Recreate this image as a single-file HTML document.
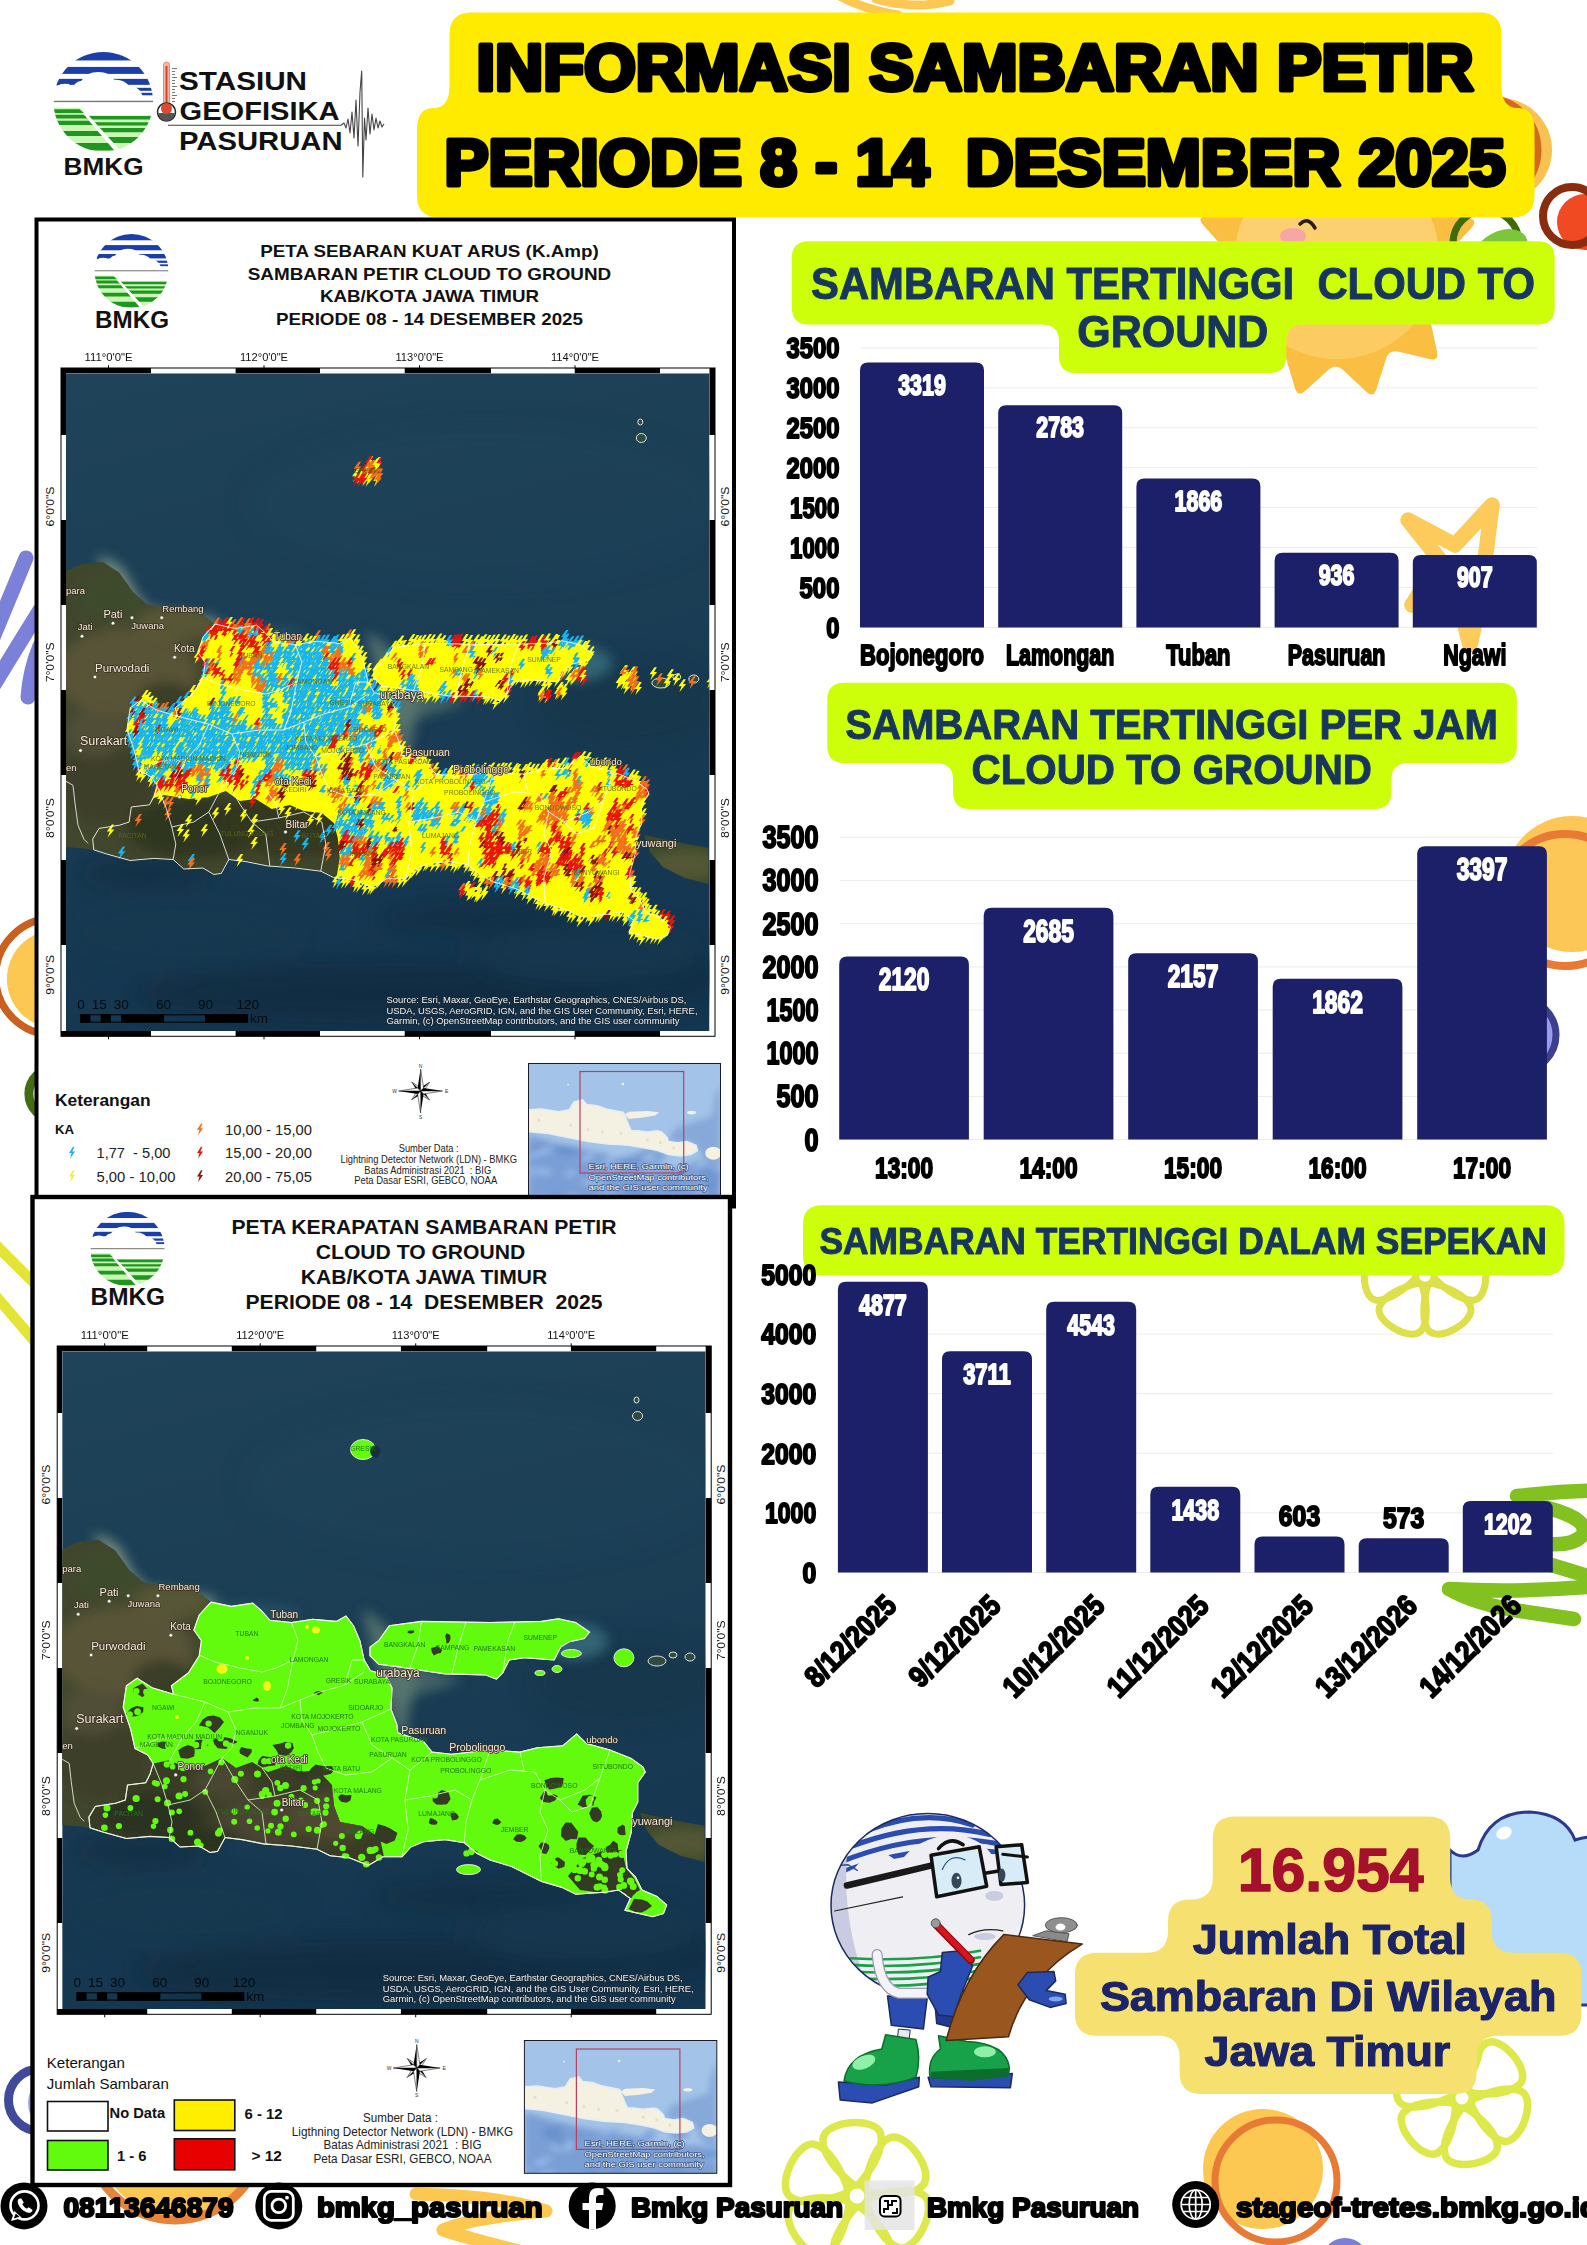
<!DOCTYPE html><html><head><meta charset="utf-8"><title>Informasi Sambaran Petir</title><style>html,body{margin:0;padding:0;background:#fff}svg{display:block}text{font-family:"Liberation Sans",sans-serif}</style></head><body><svg width="1587" height="2245" viewBox="0 0 1587 2245" font-family="Liberation Sans, sans-serif"><rect width="1587" height="2245" fill="#fff"/><defs><clipPath id="lc"><circle cx="50" cy="50" r="50"/></clipPath><symbol id="bmkg" viewBox="0 0 100 100" overflow="visible"><g clip-path="url(#lc)"><rect x="0" y="0" width="100" height="100" fill="#fff"/><rect x="0" y="0" width="100" height="8.5" fill="#1b3fa8"/><rect x="0" y="15" width="100" height="7" fill="#1b3fa8"/><rect x="0" y="27" width="100" height="6" fill="#1b3fa8"/><rect x="60" y="36" width="40" height="3" fill="#1b3fa8"/><rect x="75" y="41" width="25" height="2.5" fill="#1b3fa8"/><path d="M18 40 Q20 30 28 29 Q33 20 45 20 Q57 20 61 28 Q70 27 76 34 Q84 34 88 41 L92 50 L5 50 L5 33 Q14 30 18 34Z" fill="#fff"/><path d="M3 31 Q12 26.500 20 30 L18 33 Q11 30 3 34Z" fill="#1b3fa8"/><rect x="0" y="49" width="100" height="1.4" fill="#777"/><path d="M0 56 L27 56 L64 100 L0 100Z" fill="#c8f7b4"/><path d="M33 63.500 L100 63.500 L100 100 L66 100Z" fill="#c8f7b4"/><path d="M0 57.6H26L30.5 61.3H0Z" fill="#1f961f"/><path d="M0 63H30L34.5 66.8H0Z" fill="#1f961f"/><path d="M0 69.2H37L41.5 73.4H0Z" fill="#1f961f"/><path d="M8 79.4H45L49.5 84.3H8Z" fill="#1f961f"/><path d="M20 91.5H59L63.5 99H20Z" fill="#1f961f"/><path d="M30 64.4H100V67.8H34.5Z" fill="#1f961f"/><path d="M38 70.5H100V73.8H42.5Z" fill="#1f961f"/><path d="M46 76.5H100V80.6H50.5Z" fill="#1f961f"/><path d="M54 85.5H100V91.5H58.5Z" fill="#1f961f"/><path d="M29 58 L35 63.500 L68 100 L62 100 L33 66Z" fill="#fff"/></g></symbol><symbol id="bolt" viewBox="0 0 8 12" overflow="visible"><path d="M5 0L1 6.200L3.500 6.200L2 12L7 4.800L4.300 4.800L6.500 0Z"/></symbol></defs><defs><linearGradient id="sea" x1="0" y1="0" x2="0.250" y2="1"><stop offset="0" stop-color="#1f4358"/><stop offset=".5" stop-color="#1b3e55"/><stop offset="1" stop-color="#153650"/></linearGradient><filter id="bl6" x="-30%" y="-30%" width="160%" height="160%"><feGaussianBlur stdDeviation="6"/></filter><filter id="bl3" x="-30%" y="-30%" width="160%" height="160%"><feGaussianBlur stdDeviation="3"/></filter><filter id="bl12" x="-30%" y="-30%" width="160%" height="160%"><feGaussianBlur stdDeviation="12"/></filter><clipPath id="mclip"><rect x="0" y="0" width="643.5" height="657.7"/></clipPath><clipPath id="landclip"><path d="M0 197.6L16 190.7L36.5 188.7L52.8 198.9L67 219L81 231L105.5 235.4L134 239.4L148.8 250.8L169.2 255.1L190.6 251.9L199.2 259.4L207.8 269L229.2 271.2L250.6 268L274.1 270.1L283.8 264.7L291.3 274.4L297.7 289.4L302 308.7L308.4 319.4L323.4 323.7L329.8 336.5L328.8 357.9L334.6 372.9L335.6 381.5L361.4 390.1L369.9 400.8L389.2 402.9L427.8 398.7L457.8 400.8L474.9 396.5L500.6 394.4L514.5 382.6L524.2 392.2L547.8 398.7L569.1 407.2L580.9 415.8L583.1 420.8L575.6 431.5L575.6 450.8L570.2 461.5L569.1 480.8L563.8 500.1L564.8 517.2L573.4 525.8L579.8 538.7L594.8 545.1L604.5 553.7L601.3 562.2L590.6 565.4L562.7 559L568.1 547.2L556.3 538.7L543.4 540.8L513.5 542.9L500.6 536.5L479.2 530.1L466.3 523.7L449.2 515.1L427.8 508.7L414.9 502.2L402.1 491.5L382.8 488.3L361.4 490.5L348.5 495.8L339.9 505.5L320.7 505.5L306.3 514L287 506.5L267.8 504.4L254.8 497.9L229.2 494.7L201.3 492.6L179.8 488.3L162.8 486.2L155.3 500.1L147.8 501.2L137 494.7L117.8 495.7L107.1 486.2L87.8 485.1L64.2 487.2L40.6 480.7L27.8 476.5L12.8 474.7L0 473.7Z"/><path d="M307.8 295.8L316.4 289.4L327.1 274.4L359.2 270.1L427.8 271.2L479.2 270.1L496.3 267.5L513.5 271.2L527.4 280.8L522 287.2L507 290.5L498.5 295.8L492 308.7L462 306.5L447 308.7L440.6 321.5L434.2 327.9L423.5 323.7L382.8 322.6L361.4 319.4L333.5 315.1L316.4 313L307.8 304.4Z"/><path d="M577.8 461.5L597 465.8L618.4 470.1L642.4 474.4L642.4 510.7L618.4 504.4L597 493.7L584.1 478.7Z"/></clipPath><g id="basemap"><rect x="0" y="0" width="643.5" height="657.7" fill="url(#sea)"/><g filter="url(#bl12)" opacity=".55"><ellipse cx="330" cy="620" rx="260" ry="30" fill="#0d2638"/><ellipse cx="80" cy="500" rx="70" ry="18" fill="#0f2a3c"/><ellipse cx="420" cy="545" rx="110" ry="16" fill="#102b3e"/><ellipse cx="600" cy="600" rx="60" ry="30" fill="#0f2a3c"/><ellipse cx="120" cy="560" rx="120" ry="30" fill="#163a50"/><ellipse cx="520" cy="580" rx="120" ry="28" fill="#17394e"/><ellipse cx="420" cy="130" rx="240" ry="80" fill="#1f465d" opacity=".5"/><ellipse cx="560" cy="330" rx="90" ry="40" fill="#163447"/></g><g filter="url(#bl6)"><path d="M30 183 Q56 186 64 208 Q72 226 86 236 L150 245 L160 262 Q110 250 60 250 L40 200Z" fill="#8aa08c" opacity=".8"/><path d="M300 258 Q330 270 355 330 Q340 380 345 410 L318 330 Z" fill="#5d7a70" opacity=".8"/><path d="M322 300 L370 318 L400 330 L330 352Z" fill="#5d7a70" opacity=".6"/><ellipse cx="512" cy="290" rx="34" ry="18" fill="#3e7585" opacity=".7"/><ellipse cx="150" cy="262" rx="90" ry="10" fill="#2c5e6f" opacity=".6"/></g><path d="M0 197.6L16 190.7L36.5 188.7L52.8 198.9L67 219L81 231L105.5 235.4L134 239.4L148.8 250.8L169.2 255.1L190.6 251.9L199.2 259.4L207.8 269L229.2 271.2L250.6 268L274.1 270.1L283.8 264.7L291.3 274.4L297.7 289.4L302 308.7L308.4 319.4L323.4 323.7L329.8 336.5L328.8 357.9L334.6 372.9L335.6 381.5L361.4 390.1L369.9 400.8L389.2 402.9L427.8 398.7L457.8 400.8L474.9 396.5L500.6 394.4L514.5 382.6L524.2 392.2L547.8 398.7L569.1 407.2L580.9 415.8L583.1 420.8L575.6 431.5L575.6 450.8L570.2 461.5L569.1 480.8L563.8 500.1L564.8 517.2L573.4 525.8L579.8 538.7L594.8 545.1L604.5 553.7L601.3 562.2L590.6 565.4L562.7 559L568.1 547.2L556.3 538.7L543.4 540.8L513.5 542.9L500.6 536.5L479.2 530.1L466.3 523.7L449.2 515.1L427.8 508.7L414.9 502.2L402.1 491.5L382.8 488.3L361.4 490.5L348.5 495.8L339.9 505.5L320.7 505.5L306.3 514L287 506.5L267.8 504.4L254.8 497.9L229.2 494.7L201.3 492.6L179.8 488.3L162.8 486.2L155.3 500.1L147.8 501.2L137 494.7L117.8 495.7L107.1 486.2L87.8 485.1L64.2 487.2L40.6 480.7L27.8 476.5L12.8 474.7L0 473.7Z" fill="#41472d"/><path d="M307.8 295.8L316.4 289.4L327.1 274.4L359.2 270.1L427.8 271.2L479.2 270.1L496.3 267.5L513.5 271.2L527.4 280.8L522 287.2L507 290.5L498.5 295.8L492 308.7L462 306.5L447 308.7L440.6 321.5L434.2 327.9L423.5 323.7L382.8 322.6L361.4 319.4L333.5 315.1L316.4 313L307.8 304.4Z" fill="#41472d"/><path d="M577.8 461.5L597 465.8L618.4 470.1L642.4 474.4L642.4 510.7L618.4 504.4L597 493.7L584.1 478.7Z" fill="#3c4a2b"/><g clip-path="url(#landclip)"><g filter="url(#bl6)"><ellipse cx="60" cy="300" rx="70" ry="45" fill="#62583b" opacity=".7"/><ellipse cx="45" cy="225" rx="35" ry="25" fill="#3f4a2c" opacity=".9"/><ellipse cx="110" cy="250" rx="40" ry="18" fill="#5c5a3a" opacity=".8"/><ellipse cx="40" cy="410" rx="45" ry="40" fill="#3d3f2a" opacity=".9"/><ellipse cx="30" cy="360" rx="30" ry="25" fill="#57513a" opacity=".7"/><ellipse cx="130" cy="455" rx="70" ry="30" fill="#2c3420" opacity=".9"/><ellipse cx="230" cy="450" rx="70" ry="35" fill="#33381f" opacity=".9"/><ellipse cx="100" cy="330" rx="30" ry="22" fill="#2e3822" opacity=".7"/><ellipse cx="620" cy="492" rx="40" ry="14" fill="#5b5a38" opacity=".8"/></g></g><path d="M0 408L7 412L9 430L12 452L18 466L22 470" fill="none" stroke="#e8e8dc" stroke-width=".9"/></g></defs><defs><clipPath id="swclip"><path d="M26.7 465.8L33.1 455.1L53.5 451.9L63.1 448.7L65.3 433.7L83.5 431.5L87.8 423L91 412.2L107.8 408.7L122.8 416.7L142.8 414.7L159.8 406.7L173.8 416.7L189.8 410.7L205.8 420.7L223.8 414.7L237.8 420.7L255.8 418.7L269.8 433.7L271.8 454.7L277.8 470.7L299.8 474.7L317.8 486.7L321.8 505.7L320.7 505.5L306.3 514L287 506.5L267.8 504.4L254.8 497.9L229.2 494.7L201.3 492.6L179.8 488.3L162.8 486.2L155.3 500.1L147.8 501.2L137 494.7L117.8 495.7L107.1 486.2L87.8 485.1L64.2 487.2L40.6 480.7L27.8 476.5Z"/></clipPath><clipPath id="denseclip"><path d="M0 0L643.5 0L643.5 657.7L0 657.7ZM26.7 465.8L33.1 455.1L53.5 451.9L63.1 448.7L65.3 433.7L83.5 431.5L87.8 424.7L97.8 421.7L122.8 425.7L142.8 423.7L159.8 417.7L173.8 427.7L189.8 425.7L205.8 435.7L223.8 431.7L237.8 437.7L255.8 439.7L267.8 449.7L271.8 464.7L273.8 484.7L270.8 502.7L267.8 504.4L254.8 497.9L229.2 494.7L201.3 492.6L179.8 488.3L162.8 486.2L155.3 500.1L147.8 501.2L137 494.7L117.8 495.7L107.1 486.2L87.8 485.1L64.2 487.2L40.6 480.7L27.8 476.5Z" clip-rule="evenodd"/></clipPath></defs><rect x="860" y="626.9" width="677" height="1" fill="#ebebf0"/><rect x="860" y="587" width="677" height="1" fill="#ebebf0"/><rect x="860" y="547.1" width="677" height="1" fill="#ebebf0"/><rect x="860" y="507.1" width="677" height="1" fill="#ebebf0"/><rect x="860" y="467.2" width="677" height="1" fill="#ebebf0"/><rect x="860" y="427.3" width="677" height="1" fill="#ebebf0"/><rect x="860" y="387.4" width="677" height="1" fill="#ebebf0"/><rect x="860" y="347.5" width="677" height="1" fill="#ebebf0"/><rect x="840" y="1139.1" width="707" height="1" fill="#ebebf0"/><rect x="840" y="1095.9" width="707" height="1" fill="#ebebf0"/><rect x="840" y="1052.7" width="707" height="1" fill="#ebebf0"/><rect x="840" y="1009.5" width="707" height="1" fill="#ebebf0"/><rect x="840" y="966.4" width="707" height="1" fill="#ebebf0"/><rect x="840" y="923.2" width="707" height="1" fill="#ebebf0"/><rect x="840" y="880" width="707" height="1" fill="#ebebf0"/><rect x="840" y="836.8" width="707" height="1" fill="#ebebf0"/><rect x="838" y="1572" width="715" height="1" fill="#ebebf0"/><rect x="838" y="1512.4" width="715" height="1" fill="#ebebf0"/><rect x="838" y="1452.8" width="715" height="1" fill="#ebebf0"/><rect x="838" y="1393.2" width="715" height="1" fill="#ebebf0"/><rect x="838" y="1333.6" width="715" height="1" fill="#ebebf0"/><rect x="838" y="1274" width="715" height="1" fill="#ebebf0"/><path d="M838 -5 Q862 9 898 15 M876 -1 Q915 10 950 1" fill="none" stroke="#fdc852" stroke-width="9" stroke-linecap="round"/><path d="M1470.9 288.9Q1477.6 296.3 1468 299.1L1437.8 308.1Q1428.2 311 1430.4 320.7L1437 351.5Q1439.2 361.3 1429.4 359L1398.8 351.7Q1389 349.3 1386 358.9L1376.4 388.9Q1373.3 398.4 1366 391.5L1343.2 369.9Q1335.9 363 1328.5 369.7L1305.1 390.9Q1297.7 397.6 1294.9 388L1285.9 357.8Q1283 348.2 1273.3 350.4L1242.5 357Q1232.7 359.2 1235 349.4L1242.3 318.8Q1244.7 309 1235.1 306L1205.1 296.4Q1195.6 293.3 1202.5 286L1224.1 263.2Q1231 255.9 1224.3 248.5L1203.1 225.1Q1196.4 217.7 1206 214.9L1236.2 205.9Q1245.8 203 1243.6 193.3L1237 162.5Q1234.8 152.7 1244.6 155L1275.2 162.3Q1285 164.7 1288 155.1L1297.6 125.1Q1300.7 115.6 1308 122.5L1330.8 144.1Q1338.1 151 1345.5 144.3L1368.9 123.1Q1376.3 116.4 1379.1 126L1388.1 156.2Q1391 165.8 1400.7 163.6L1431.5 157Q1441.3 154.8 1439 164.6L1431.7 195.2Q1429.3 205 1438.9 208L1468.9 217.6Q1478.4 220.7 1471.5 228L1449.9 250.8Q1443 258.1 1449.7 265.5Z" fill="#f9be42"/><circle cx="1337" cy="257" r="102" fill="#fcd06e"/><path d="M1235 257 A102 102 0 0 0 1439 257 Q1337 345 1235 257Z" fill="#fbc85a" opacity=".55"/><ellipse cx="1293" cy="236" rx="13" ry="8" fill="#f7a6a6"/><path d="M1300 224 Q1308 216 1315 228" fill="none" stroke="#2a1a10" stroke-width="3.500" stroke-linecap="round"/><circle cx="1500" cy="150" r="52" fill="#f9c152"/><circle cx="1486" cy="150" r="52" fill="none" stroke="#d2691e" stroke-width="7"/><circle cx="1486" cy="243" r="33" fill="none" stroke="#3f6b0a" stroke-width="7"/><ellipse cx="1500" cy="252" rx="30" ry="20" fill="#7cc63a" transform="rotate(-30 1500 252)"/><circle cx="1585" cy="222" r="28" fill="#f04a23"/><circle cx="1572" cy="216" r="29" fill="none" stroke="#8a2d0f" stroke-width="8"/><path d="M1408 520 L1455 545 L1492 505 L1480 600 L1470 645 L1452 575 L1412 605 L1440 560Z" fill="none" stroke="#fdca5c" stroke-width="15.500" stroke-linejoin="round"/><path d="M1408 520 L1455 545 L1492 505 L1480 600 L1470 645 L1452 575 L1412 605 L1440 560Z" fill="#fff" opacity=".0"/><circle cx="1572" cy="884" r="68" fill="#fdc757"/><circle cx="1565" cy="900" r="66" fill="none" stroke="#e87a35" stroke-width="8"/><circle cx="1515" cy="1030" r="40" fill="#8f93e8" opacity=".9"/><circle cx="1520" cy="1035" r="36" fill="none" stroke="#3b3f8f" stroke-width="7"/><g fill="none" stroke="#dde04a" stroke-width="7" stroke-linejoin="round"><path transform="translate(1425 1276) rotate(-30)" d="M0 -7.4C-15.6 -21.7 -26 -38.4 -24 -49.6C-20.8 -64.5 20.8 -64.5 24 -49.6C26 -38.4 15.6 -21.7 0 -7.4Z"/><path transform="translate(1425 1276) rotate(30)" d="M0 -7.4C-15.6 -21.7 -26 -38.4 -24 -49.6C-20.8 -64.5 20.8 -64.5 24 -49.6C26 -38.4 15.6 -21.7 0 -7.4Z"/><path transform="translate(1425 1276) rotate(90)" d="M0 -7.4C-15.6 -21.7 -26 -38.4 -24 -49.6C-20.8 -64.5 20.8 -64.5 24 -49.6C26 -38.4 15.6 -21.7 0 -7.4Z"/><path transform="translate(1425 1276) rotate(150)" d="M0 -7.4C-15.6 -21.7 -26 -38.4 -24 -49.6C-20.8 -64.5 20.8 -64.5 24 -49.6C26 -38.4 15.6 -21.7 0 -7.4Z"/><path transform="translate(1425 1276) rotate(210)" d="M0 -7.4C-15.6 -21.7 -26 -38.4 -24 -49.6C-20.8 -64.5 20.8 -64.5 24 -49.6C26 -38.4 15.6 -21.7 0 -7.4Z"/><path transform="translate(1425 1276) rotate(270)" d="M0 -7.4C-15.6 -21.7 -26 -38.4 -24 -49.6C-20.8 -64.5 20.8 -64.5 24 -49.6C26 -38.4 15.6 -21.7 0 -7.4Z"/><circle cx="1425" cy="1276" r="9.3" fill="#fff"/></g><path d="M1600 1490 L1560 1492 L1517 1496 M1548 1508 Q1592 1520 1582 1536 Q1572 1546 1548 1544 M1548 1564 Q1575 1572 1600 1580 M1600 1586 Q1520 1593 1449 1589 Q1475 1604 1520 1611 L1574 1619" fill="none" stroke="#82c11f" stroke-width="14.500" stroke-linecap="round" stroke-linejoin="round"/><path d="M1450 1850 Q1462 1862 1478 1850 Q1490 1812 1530 1812 Q1565 1814 1575 1840 Q1590 1835 1600 1838 L1600 2005 L1450 2005Z" fill="#b6dcfa" stroke="#2b3a8c" stroke-width="3"/><ellipse cx="1504" cy="1833" rx="8" ry="6" fill="#fff" transform="rotate(-25 1504 1833)"/><g fill="none" stroke="#dde84a" stroke-width="7.5" stroke-linejoin="round"><path transform="translate(1462 2098) rotate(-10)" d="M0 -8.2C-17.1 -23.8 -28.6 -42.2 -26.3 -54.4C-22.8 -70.7 22.8 -70.7 26.3 -54.4C28.6 -42.2 17.1 -23.8 0 -8.2Z"/><path transform="translate(1462 2098) rotate(50)" d="M0 -8.2C-17.1 -23.8 -28.6 -42.2 -26.3 -54.4C-22.8 -70.7 22.8 -70.7 26.3 -54.4C28.6 -42.2 17.1 -23.8 0 -8.2Z"/><path transform="translate(1462 2098) rotate(110)" d="M0 -8.2C-17.1 -23.8 -28.6 -42.2 -26.3 -54.4C-22.8 -70.7 22.8 -70.7 26.3 -54.4C28.6 -42.2 17.1 -23.8 0 -8.2Z"/><path transform="translate(1462 2098) rotate(170)" d="M0 -8.2C-17.1 -23.8 -28.6 -42.2 -26.3 -54.4C-22.8 -70.7 22.8 -70.7 26.3 -54.4C28.6 -42.2 17.1 -23.8 0 -8.2Z"/><path transform="translate(1462 2098) rotate(230)" d="M0 -8.2C-17.1 -23.8 -28.6 -42.2 -26.3 -54.4C-22.8 -70.7 22.8 -70.7 26.3 -54.4C28.6 -42.2 17.1 -23.8 0 -8.2Z"/><path transform="translate(1462 2098) rotate(290)" d="M0 -8.2C-17.1 -23.8 -28.6 -42.2 -26.3 -54.4C-22.8 -70.7 22.8 -70.7 26.3 -54.4C28.6 -42.2 17.1 -23.8 0 -8.2Z"/><circle cx="1462" cy="2098" r="10.2" fill="#fff"/></g><g fill="none" stroke="#dde84a" stroke-width="7.5" stroke-linejoin="round"><path transform="translate(857 2196) rotate(-5)" d="M0 -9C-18.9 -26.2 -31.5 -46.5 -29 -60C-25.2 -78 25.2 -78 29 -60C31.5 -46.5 18.9 -26.2 0 -9Z"/><path transform="translate(857 2196) rotate(55)" d="M0 -9C-18.9 -26.2 -31.5 -46.5 -29 -60C-25.2 -78 25.2 -78 29 -60C31.5 -46.5 18.9 -26.2 0 -9Z"/><path transform="translate(857 2196) rotate(115)" d="M0 -9C-18.9 -26.2 -31.5 -46.5 -29 -60C-25.2 -78 25.2 -78 29 -60C31.5 -46.5 18.9 -26.2 0 -9Z"/><path transform="translate(857 2196) rotate(175)" d="M0 -9C-18.9 -26.2 -31.5 -46.5 -29 -60C-25.2 -78 25.2 -78 29 -60C31.5 -46.5 18.9 -26.2 0 -9Z"/><path transform="translate(857 2196) rotate(235)" d="M0 -9C-18.9 -26.2 -31.5 -46.5 -29 -60C-25.2 -78 25.2 -78 29 -60C31.5 -46.5 18.9 -26.2 0 -9Z"/><path transform="translate(857 2196) rotate(295)" d="M0 -9C-18.9 -26.2 -31.5 -46.5 -29 -60C-25.2 -78 25.2 -78 29 -60C31.5 -46.5 18.9 -26.2 0 -9Z"/><circle cx="857" cy="2196" r="11.2" fill="#fff"/></g><circle cx="1263" cy="2169" r="60" fill="#fdc852"/><circle cx="1276" cy="2181" r="61" fill="none" stroke="#e87a35" stroke-width="7"/><circle cx="1345" cy="2262" r="24" fill="#7b7fd9"/><circle cx="180" cy="2134" r="84" fill="#fdc852"/><circle cx="175" cy="2132" r="88" fill="none" stroke="#e8833a" stroke-width="9"/><path d="M416 2194 Q500 2196 546 2211 Q470 2218 443 2230 Q480 2242 540 2256" fill="none" stroke="#fdc852" stroke-width="13" stroke-linecap="round" stroke-linejoin="round"/><path d="M26 558 Q12 592 -8 640 M-8 688 Q15 650 40 610 M40 646 Q30 670 28 697" fill="none" stroke="#7b80d9" stroke-width="15" stroke-linecap="round"/><circle cx="55.900" cy="979" r="49" fill="#fdc852"/><circle cx="53.800" cy="976.600" r="58.300" fill="none" stroke="#c9601f" stroke-width="7.500"/><circle cx="54.400" cy="1093.800" r="25.500" fill="none" stroke="#426d12" stroke-width="9"/><path d="M-5 1244 L34 1283 M-5 1295 L34 1340.500" fill="none" stroke="#e3e435" stroke-width="10.500"/><circle cx="58" cy="2103" r="30" fill="#9fa5ec"/><circle cx="39.500" cy="2100" r="31" fill="none" stroke="#3f4a9a" stroke-width="9"/><path d="M1479.5 12.5Q1501.5 12.5 1501.5 34.5L1501.5 86Q1501.5 108 1518 108L1518 108Q1534.5 108 1534.5 130L1534.5 195.5Q1534.5 217.5 1512.5 217.5L439 217.5Q417 217.5 417 195.5L417 130Q417 108 433.2 108L433.2 108Q449.5 108 449.5 86L449.5 34.5Q449.5 12.5 471.5 12.5Z" fill="#ffeb00"/><text x="476.5" y="90" font-size="65.5" font-weight="700" fill="#000" textLength="997" lengthAdjust="spacingAndGlyphs" stroke="#000" stroke-width="5" stroke-linejoin="round" stroke-linecap="round" paint-order="stroke" xml:space="preserve">INFORMASI SAMBARAN PETIR</text><text x="444.5" y="184.7" font-size="65.5" font-weight="700" fill="#000" textLength="1061" lengthAdjust="spacingAndGlyphs" stroke="#000" stroke-width="5" stroke-linejoin="round" stroke-linecap="round" paint-order="stroke" xml:space="preserve">PERIODE 8 - 14  DESEMBER 2025</text><use href="#bmkg" x="53.300" y="52" width="100" height="99.500"/><text x="63.5" y="175" font-size="24.5" font-weight="700" fill="#111" textLength="80" lengthAdjust="spacingAndGlyphs" xml:space="preserve">BMKG</text><text x="179" y="90" font-size="25" font-weight="700" fill="#111" textLength="128" lengthAdjust="spacingAndGlyphs" xml:space="preserve">STASIUN</text><text x="179.5" y="120" font-size="25" font-weight="700" fill="#111" textLength="160" lengthAdjust="spacingAndGlyphs" xml:space="preserve">GEOFISIKA</text><text x="179" y="150" font-size="25" font-weight="700" fill="#111" textLength="163.5" lengthAdjust="spacingAndGlyphs" xml:space="preserve">PASURUAN</text><rect x="163.500" y="62" width="6" height="46" rx="3" fill="#f2b8a8" stroke="#e0907c" stroke-width="1"/><rect x="165.500" y="66" width="2" height="40" fill="#d9432b"/><circle cx="166.500" cy="112" r="9" fill="#fff" stroke="#222" stroke-width="1.500"/><path d="M158.500 113 a8 8 0 0 0 16 0Z" fill="#555"/><circle cx="166.500" cy="108.500" r="5.500" fill="#e0492f"/><rect x="172" y="68" width="5" height="0.800" fill="#555"/><rect x="172" y="71" width="3" height="0.800" fill="#555"/><rect x="172" y="74" width="3" height="0.800" fill="#555"/><rect x="172" y="77" width="5" height="0.800" fill="#555"/><rect x="172" y="80" width="3" height="0.800" fill="#555"/><rect x="172" y="83" width="3" height="0.800" fill="#555"/><rect x="172" y="86" width="5" height="0.800" fill="#555"/><rect x="172" y="89" width="3" height="0.800" fill="#555"/><rect x="172" y="92" width="3" height="0.800" fill="#555"/><rect x="172" y="95" width="5" height="0.800" fill="#555"/><rect x="172" y="98" width="3" height="0.800" fill="#555"/><rect x="172" y="101" width="3" height="0.800" fill="#555"/><path d="M168 125.300 L341 125.300 L344 123 L346 128 L348 119 L350 133 L352 112 L354 138 L356 100 L358 146 L360 92 L361.700 71 L362.800 177 L364.500 118 L366 140 L368 108 L370 134 L372 114 L374 130 L376 118 L378 128 L380 121 L382 127 L384 124" fill="none" stroke="#444" stroke-width="1.100" stroke-linejoin="round"/><rect x="36.500" y="219.500" width="697.500" height="987" fill="#fff" stroke="#000" stroke-width="4"/><use href="#bmkg" x="94.500" y="234" width="74" height="74"/><text x="95" y="327.5" font-size="24" font-weight="700" fill="#111" textLength="74" lengthAdjust="spacingAndGlyphs" xml:space="preserve">BMKG</text><text x="429.5" y="256.5" font-size="17" font-weight="700" fill="#111" text-anchor="middle" textLength="338.5" lengthAdjust="spacingAndGlyphs" xml:space="preserve">PETA SEBARAN KUAT ARUS (K.Amp)</text><text x="429.5" y="279.5" font-size="17" font-weight="700" fill="#111" text-anchor="middle" textLength="363.5" lengthAdjust="spacingAndGlyphs" xml:space="preserve">SAMBARAN PETIR CLOUD TO GROUND</text><text x="429.5" y="302" font-size="17" font-weight="700" fill="#111" text-anchor="middle" textLength="219" lengthAdjust="spacingAndGlyphs" xml:space="preserve">KAB/KOTA JAWA TIMUR</text><text x="429.5" y="324.5" font-size="17" font-weight="700" fill="#111" text-anchor="middle" textLength="307" lengthAdjust="spacingAndGlyphs" xml:space="preserve">PERIODE 08 - 14 DESEMBER 2025</text><rect x="61" y="368" width="654" height="668.3" fill="#fff" stroke="#000" stroke-width="1"/><rect x="61" y="368" width="90" height="5.300" fill="#000"/><rect x="61" y="1031" width="90" height="5.300" fill="#000"/><rect x="235.6" y="368" width="84.4" height="5.300" fill="#000"/><rect x="235.6" y="1031" width="84.4" height="5.300" fill="#000"/><rect x="404.7" y="368" width="86.3" height="5.300" fill="#000"/><rect x="404.7" y="1031" width="86.3" height="5.300" fill="#000"/><rect x="574.7" y="368" width="85.3" height="5.300" fill="#000"/><rect x="574.7" y="1031" width="85.3" height="5.300" fill="#000"/><rect x="61" y="368" width="5" height="67" fill="#000"/><rect x="709.5" y="368" width="5.500" height="67" fill="#000"/><rect x="61" y="520" width="5" height="85" fill="#000"/><rect x="709.5" y="520" width="5.500" height="85" fill="#000"/><rect x="61" y="690" width="5" height="85" fill="#000"/><rect x="709.5" y="690" width="5.500" height="85" fill="#000"/><rect x="61" y="860" width="5" height="85" fill="#000"/><rect x="709.5" y="860" width="5.500" height="85" fill="#000"/><g transform="translate(66 373.3)" clip-path="url(#mclip)" font-family="Liberation Sans"><use href="#basemap"/><g clip-path="url(#denseclip)"><path d="M26.7 465.8L33.1 455.1L53.5 451.9L63.1 448.7L65.3 433.7L83.5 431.5L87.8 423L91 412.2L85.6 403.7L72.8 397.3L68.5 378L61 355.8L64.2 334.4L74.9 326.9L89.9 336.5L111.3 342.9L109.2 334.4L126.3 321.5L137 304.4L139.2 289.4L131.7 278.7L137 263.7L148.8 250.8L169.2 255.1L190.6 251.9L199.2 259.4L207.8 269L229.2 271.2L250.6 268L274.1 270.1L283.8 264.7L291.3 274.4L297.7 289.4L302 308.7L308.4 319.4L323.4 323.7L329.8 336.5L328.8 357.9L334.6 372.9L335.6 381.5L361.4 390.1L369.9 400.8L389.2 402.9L427.8 398.7L457.8 400.8L474.9 396.5L500.6 394.4L514.5 382.6L524.2 392.2L547.8 398.7L569.1 407.2L580.9 415.8L583.1 420.8L575.6 431.5L575.6 450.8L570.2 461.5L569.1 480.8L563.8 500.1L564.8 517.2L573.4 525.8L579.8 538.7L594.8 545.1L604.5 553.7L601.3 562.2L590.6 565.4L562.7 559L568.1 547.2L556.3 538.7L543.4 540.8L513.5 542.9L500.6 536.5L479.2 530.1L466.3 523.7L449.2 515.1L427.8 508.7L414.9 502.2L402.1 491.5L382.8 488.3L361.4 490.5L348.5 495.8L339.9 505.5L320.7 505.5L306.3 514L287 506.5L267.8 504.4L254.8 497.9L229.2 494.7L201.3 492.6L179.8 488.3L162.8 486.2L155.3 500.1L147.8 501.2L137 494.7L117.8 495.7L107.1 486.2L87.8 485.1L64.2 487.2L40.6 480.7L27.8 476.5Z" fill="#ffff00"/></g><path d="M307.8 295.8L316.4 289.4L327.1 274.4L359.2 270.1L427.8 271.2L479.2 270.1L496.3 267.5L513.5 271.2L527.4 280.8L522 287.2L507 290.5L498.5 295.8L492 308.7L462 306.5L447 308.7L440.6 321.5L434.2 327.9L423.5 323.7L382.8 322.6L361.4 319.4L333.5 315.1L316.4 313L307.8 304.4Z" fill="#ffff00"/><ellipse cx="594.8" cy="309.7" rx="9" ry="5" fill="#2f4a3e" stroke="#f4f4e8" stroke-width=".9"/><ellipse cx="610.8" cy="303.7" rx="4" ry="3" fill="#2f4a3e" stroke="#f4f4e8" stroke-width=".9"/><ellipse cx="627.8" cy="305.7" rx="5" ry="4" fill="#2f4a3e" stroke="#f4f4e8" stroke-width=".9"/><ellipse cx="574.3" cy="48.7" rx="2.5" ry="3" fill="#2f4a3e" stroke="#f4f4e8" stroke-width=".9"/><ellipse cx="575.3" cy="64.7" rx="5" ry="4.5" fill="#2f4a3e" stroke="#f4f4e8" stroke-width=".9"/><path fill="#ffff00" d="M304.8 82.8l-5 7h3l-2.200 6 6.800-8.200h-3.200l3-4.800zM312.6 83.7l-5 7h3l-2.200 6 6.800-8.200h-3.200l3-4.800z"/><path fill="#f2701c" d="M308.5 87.1l-5 7h3l-2.200 6 6.800-8.200h-3.200l3-4.800z"/><path fill="#e8140e" d="M304.2 82.8l-5 7h3l-2.200 6 6.800-8.200h-3.200l3-4.800zM313.9 84.2l-5 7h3l-2.200 6 6.800-8.200h-3.200l3-4.800z"/><path fill="#f2701c" d="M307.9 89l-5 7h3l-2.200 6 6.800-8.200h-3.200l3-4.800z"/><path fill="#ffff00" d="M304 86.6l-5 7h3l-2.200 6 6.800-8.200h-3.200l3-4.800z"/><path fill="#f2701c" d="M292.7 88.4l-5 7h3l-2.200 6 6.800-8.200h-3.200l3-4.800z"/><path fill="#ffff00" d="M312.3 90.3l-5 7h3l-2.200 6 6.800-8.200h-3.200l3-4.800zM310.7 85.2l-5 7h3l-2.200 6 6.800-8.200h-3.200l3-4.800zM301.6 90.4l-5 7h3l-2.200 6 6.800-8.200h-3.200l3-4.800zM301.4 90.8l-5 7h3l-2.200 6 6.800-8.200h-3.200l3-4.800z"/><path fill="#f2701c" d="M306.8 86.8l-5 7h3l-2.200 6 6.800-8.200h-3.200l3-4.800zM314.9 95.2l-5 7h3l-2.200 6 6.800-8.200h-3.200l3-4.800zM302.8 88.3l-5 7h3l-2.200 6 6.800-8.200h-3.200l3-4.800z"/><path fill="#e8140e" d="M307.3 93.6l-5 7h3l-2.200 6 6.800-8.200h-3.200l3-4.800z"/><path fill="#f2701c" d="M302.7 89.1l-5 7h3l-2.200 6 6.800-8.200h-3.200l3-4.800z"/><path fill="#ffff00" d="M300.4 93.4l-5 7h3l-2.200 6 6.800-8.200h-3.200l3-4.800z"/><path fill="#e8140e" d="M298.5 91.1l-5 7h3l-2.200 6 6.800-8.200h-3.200l3-4.800z"/><path fill="#f2701c" d="M301.4 95l-5 7h3l-2.200 6 6.800-8.200h-3.200l3-4.800zM306.9 96l-5 7h3l-2.200 6 6.800-8.200h-3.200l3-4.800z"/><path fill="#e8140e" d="M305.5 94.6l-5 7h3l-2.200 6 6.800-8.200h-3.200l3-4.800z"/><path fill="#f2701c" d="M306.5 97.9l-5 7h3l-2.200 6 6.800-8.200h-3.200l3-4.800z"/><path fill="#e8140e" d="M312.3 93.7l-5 7h3l-2.200 6 6.800-8.200h-3.200l3-4.800z"/><path fill="#ffff00" d="M295.1 97.6l-5 7h3l-2.200 6 6.800-8.200h-3.200l3-4.800z"/><path fill="#f2701c" d="M311.5 95.6l-5 7h3l-2.200 6 6.800-8.200h-3.200l3-4.800z"/><path fill="#ffff00" d="M291.1 96l-5 7h3l-2.200 6 6.800-8.200h-3.200l3-4.800zM300.5 100l-5 7h3l-2.200 6 6.800-8.200h-3.200l3-4.800zM303.7 100.4l-5 7h3l-2.200 6 6.800-8.200h-3.200l3-4.800z"/><path fill="#e8140e" d="M295.8 101l-5 7h3l-2.200 6 6.800-8.200h-3.200l3-4.800z"/><path fill="#ffff00" d="M312.3 100.5l-5 7h3l-2.200 6 6.800-8.200h-3.200l3-4.800z"/><path fill="#e8140e" d="M298.7 100l-5 7h3l-2.200 6 6.800-8.200h-3.200l3-4.800zM291.9 100l-5 7h3l-2.200 6 6.800-8.200h-3.200l3-4.800z"/><path fill="#f2701c" d="M313.3 99.5l-5 7h3l-2.200 6 6.800-8.200h-3.200l3-4.800zM174.9 243.9l-5 7h3l-2.200 6 6.800-8.200h-3.200l3-4.800zM151.8 244.5l-5 7h3l-2.200 6 6.800-8.200h-3.200l3-4.800z"/><path fill="#e8140e" d="M160.5 243.8l-5 7h3l-2.200 6 6.800-8.200h-3.200l3-4.800zM176.8 245l-5 7h3l-2.200 6 6.800-8.200h-3.200l3-4.800zM186.4 243.9l-5 7h3l-2.200 6 6.800-8.200h-3.200l3-4.800zM190.3 250.4l-5 7h3l-2.200 6 6.800-8.200h-3.200l3-4.800z"/><path fill="#ffff00" d="M164.6 243.6l-5 7h3l-2.200 6 6.800-8.200h-3.200l3-4.800z"/><path fill="#e8140e" d="M192.1 244.6l-5 7h3l-2.200 6 6.800-8.200h-3.200l3-4.800zM195.7 245.8l-5 7h3l-2.200 6 6.800-8.200h-3.200l3-4.800zM154.5 246.2l-5 7h3l-2.200 6 6.800-8.200h-3.200l3-4.800z"/><path fill="#f2701c" d="M170.3 251.1l-5 7h3l-2.200 6 6.800-8.200h-3.200l3-4.800zM182.6 245l-5 7h3l-2.200 6 6.800-8.200h-3.200l3-4.800zM168.2 246l-5 7h3l-2.200 6 6.800-8.200h-3.200l3-4.800z"/><path fill="#e8140e" d="M143.2 251.8l-5 7h3l-2.200 6 6.800-8.200h-3.200l3-4.800zM161 250.5l-5 7h3l-2.200 6 6.800-8.200h-3.200l3-4.800zM165.6 250.8l-5 7h3l-2.200 6 6.800-8.200h-3.200l3-4.800zM149 251.6l-5 7h3l-2.200 6 6.800-8.200h-3.200l3-4.800zM194.3 250.4l-5 7h3l-2.200 6 6.800-8.200h-3.200l3-4.800z"/><path fill="#f2701c" d="M202.8 250.3l-5 7h3l-2.200 6 6.800-8.200h-3.200l3-4.800z"/><path fill="#e8140e" d="M156.9 250.8l-5 7h3l-2.200 6 6.800-8.200h-3.200l3-4.800zM146.9 255.3l-5 7h3l-2.200 6 6.800-8.200h-3.200l3-4.800z"/><path fill="#ffff00" d="M287.8 255.9l-5 7h3l-2.200 6 6.800-8.200h-3.200l3-4.800z"/><path fill="#f2701c" d="M183.5 249.5l-5 7h3l-2.200 6 6.800-8.200h-3.200l3-4.800z"/><path fill="#19b4f2" d="M500.2 256.6l-5 7h3l-2.200 6 6.800-8.200h-3.200l3-4.800z"/><path fill="#e8140e" d="M195.7 255l-5 7h3l-2.200 6 6.800-8.200h-3.200l3-4.800zM174.8 256.4l-5 7h3l-2.200 6 6.800-8.200h-3.200l3-4.800zM200.3 257.2l-5 7h3l-2.200 6 6.800-8.200h-3.200l3-4.800z"/><path fill="#f2701c" d="M179.1 251.4l-5 7h3l-2.200 6 6.800-8.200h-3.200l3-4.800z"/><path fill="#e8140e" d="M168.5 257l-5 7h3l-2.200 6 6.800-8.200h-3.200l3-4.800z"/><path fill="#ffff00" d="M204.8 254.6l-5 7h3l-2.200 6 6.800-8.200h-3.200l3-4.800z"/><path fill="#e8140e" d="M176.9 256.7l-5 7h3l-2.200 6 6.800-8.200h-3.200l3-4.800zM151.6 251.2l-5 7h3l-2.200 6 6.800-8.200h-3.200l3-4.800zM150.9 256.9l-5 7h3l-2.200 6 6.800-8.200h-3.200l3-4.800zM200.2 251.7l-5 7h3l-2.200 6 6.800-8.200h-3.200l3-4.800z"/><path fill="#19b4f2" d="M186.2 254.7l-5 7h3l-2.200 6 6.800-8.200h-3.200l3-4.800z"/><path fill="#ffff00" d="M209.5 257.5l-5 7h3l-2.200 6 6.800-8.200h-3.200l3-4.800z"/><path fill="#19b4f2" d="M174.9 251.9l-5 7h3l-2.200 6 6.800-8.200h-3.200l3-4.800z"/><path fill="#e8140e" d="M158.8 255.2l-5 7h3l-2.200 6 6.800-8.200h-3.200l3-4.800z"/><path fill="#ffff00" d="M419.1 261l-5 7h3l-2.200 6 6.800-8.200h-3.200l3-4.800z"/><path fill="#e8140e" d="M388.7 261.2l-5 7h3l-2.200 6 6.800-8.200h-3.200l3-4.800z"/><path fill="#ffff00" d="M220.7 260.2l-5 7h3l-2.200 6 6.800-8.200h-3.200l3-4.800z"/><path fill="#f2701c" d="M283.9 256.1l-5 7h3l-2.200 6 6.800-8.200h-3.200l3-4.800z"/><path fill="#19b4f2" d="M190.9 255.2l-5 7h3l-2.200 6 6.800-8.200h-3.200l3-4.800zM501.2 260.3l-5 7h3l-2.200 6 6.800-8.200h-3.200l3-4.800z"/><path fill="#ffff00" d="M476 260.9l-5 7h3l-2.200 6 6.800-8.200h-3.200l3-4.800z"/><path fill="#19b4f2" d="M140.1 260.4l-5 7h3l-2.200 6 6.800-8.200h-3.200l3-4.800z"/><path fill="#ffff00" d="M404.9 261.6l-5 7h3l-2.200 6 6.800-8.200h-3.200l3-4.800zM336 262.3l-5 7h3l-2.200 6 6.800-8.200h-3.200l3-4.800z"/><path fill="#e8140e" d="M188.8 262.5l-5 7h3l-2.200 6 6.800-8.200h-3.200l3-4.800z"/><path fill="#ffff00" d="M209.3 260.6l-5 7h3l-2.200 6 6.800-8.200h-3.200l3-4.800z"/><path fill="#19b4f2" d="M515.8 262.2l-5 7h3l-2.200 6 6.800-8.200h-3.200l3-4.800z"/><path fill="#ffff00" d="M165.6 256.5l-5 7h3l-2.200 6 6.800-8.200h-3.200l3-4.800zM154 263l-5 7h3l-2.200 6 6.800-8.200h-3.200l3-4.800z"/><path fill="#e8140e" d="M186.3 261.4l-5 7h3l-2.200 6 6.800-8.200h-3.200l3-4.800z"/><path fill="#ffff00" d="M427.5 261.5l-5 7h3l-2.200 6 6.800-8.200h-3.200l3-4.800zM156.4 262.6l-5 7h3l-2.200 6 6.800-8.200h-3.200l3-4.800zM491.8 261.8l-5 7h3l-2.200 6 6.800-8.200h-3.200l3-4.800zM490 260.7l-5 7h3l-2.200 6 6.800-8.200h-3.200l3-4.800zM165.9 262.8l-5 7h3l-2.200 6 6.800-8.200h-3.200l3-4.800z"/><path fill="#19b4f2" d="M271.4 261.1l-5 7h3l-2.200 6 6.800-8.200h-3.200l3-4.800z"/><path fill="#f2701c" d="M252.6 257l-5 7h3l-2.200 6 6.800-8.200h-3.200l3-4.800z"/><path fill="#ffff00" d="M142.7 261l-5 7h3l-2.200 6 6.800-8.200h-3.200l3-4.800zM411.7 261.1l-5 7h3l-2.200 6 6.800-8.200h-3.200l3-4.800zM234.3 262.6l-5 7h3l-2.200 6 6.800-8.200h-3.200l3-4.800zM155.7 257.2l-5 7h3l-2.200 6 6.800-8.200h-3.200l3-4.800zM415.5 263l-5 7h3l-2.200 6 6.800-8.200h-3.200l3-4.800zM217.1 260.2l-5 7h3l-2.200 6 6.800-8.200h-3.200l3-4.800z"/><path fill="#19b4f2" d="M141.4 256.9l-5 7h3l-2.200 6 6.800-8.200h-3.200l3-4.800z"/><path fill="#ffff00" d="M213.3 262.5l-5 7h3l-2.200 6 6.800-8.200h-3.200l3-4.800z"/><path fill="#f2701c" d="M182 257.4l-5 7h3l-2.200 6 6.800-8.200h-3.200l3-4.800z"/><path fill="#e8140e" d="M170.9 260.3l-5 7h3l-2.200 6 6.800-8.200h-3.200l3-4.800z"/><path fill="#ffff00" d="M354.2 262.2l-5 7h3l-2.200 6 6.800-8.200h-3.200l3-4.800zM347 260.8l-5 7h3l-2.200 6 6.800-8.200h-3.200l3-4.800z"/><path fill="#e8140e" d="M391.6 261.3l-5 7h3l-2.200 6 6.800-8.200h-3.200l3-4.800z"/><path fill="#ffff00" d="M438.5 261.1l-5 7h3l-2.200 6 6.800-8.200h-3.200l3-4.800zM400.2 260.8l-5 7h3l-2.200 6 6.800-8.200h-3.200l3-4.800zM248.5 262.8l-5 7h3l-2.200 6 6.800-8.200h-3.200l3-4.800z"/><path fill="#19b4f2" d="M383.9 261.8l-5 7h3l-2.200 6 6.800-8.200h-3.200l3-4.800z"/><path fill="#e8140e" d="M478.2 262l-5 7h3l-2.200 6 6.800-8.200h-3.200l3-4.800z"/><path fill="#ffff00" d="M358.5 261.4l-5 7h3l-2.200 6 6.800-8.200h-3.200l3-4.800zM450.6 262.2l-5 7h3l-2.200 6 6.800-8.200h-3.200l3-4.800zM281.1 260.3l-5 7h3l-2.200 6 6.800-8.200h-3.200l3-4.800z"/><path fill="#e8140e" d="M198.4 262.9l-5 7h3l-2.200 6 6.800-8.200h-3.200l3-4.800z"/><path fill="#ffff00" d="M442.3 262.2l-5 7h3l-2.200 6 6.800-8.200h-3.200l3-4.800zM244.7 262.4l-5 7h3l-2.200 6 6.800-8.200h-3.200l3-4.800zM285.4 261.3l-5 7h3l-2.200 6 6.800-8.200h-3.200l3-4.800z"/><path fill="#e8140e" d="M230.3 260.2l-5 7h3l-2.200 6 6.800-8.200h-3.200l3-4.800z"/><path fill="#ffff00" d="M241 260.3l-5 7h3l-2.200 6 6.800-8.200h-3.200l3-4.800zM454.9 262.2l-5 7h3l-2.200 6 6.800-8.200h-3.200l3-4.800z"/><path fill="#e8140e" d="M469.8 262.2l-5 7h3l-2.200 6 6.800-8.200h-3.200l3-4.800zM174.9 262.1l-5 7h3l-2.200 6 6.800-8.200h-3.200l3-4.800z"/><path fill="#19b4f2" d="M252.5 263.1l-5 7h3l-2.200 6 6.800-8.200h-3.200l3-4.800z"/><path fill="#f2701c" d="M225 262.8l-5 7h3l-2.200 6 6.800-8.200h-3.200l3-4.800z"/><path fill="#ffff00" d="M374.1 260.2l-5 7h3l-2.200 6 6.800-8.200h-3.200l3-4.800zM232.8 266.1l-5 7h3l-2.200 6 6.800-8.200h-3.200l3-4.800z"/><path fill="#e8140e" d="M179.5 261l-5 7h3l-2.200 6 6.800-8.200h-3.200l3-4.800z"/><path fill="#19b4f2" d="M270.6 266.2l-5 7h3l-2.200 6 6.800-8.200h-3.200l3-4.800z"/><path fill="#ffff00" d="M363.6 260.6l-5 7h3l-2.200 6 6.800-8.200h-3.200l3-4.800zM350.9 261.8l-5 7h3l-2.200 6 6.800-8.200h-3.200l3-4.800zM276.8 261l-5 7h3l-2.200 6 6.800-8.200h-3.200l3-4.800zM447.6 260.8l-5 7h3l-2.200 6 6.800-8.200h-3.200l3-4.800zM194.2 260.7l-5 7h3l-2.200 6 6.800-8.200h-3.200l3-4.800z"/><path fill="#19b4f2" d="M261.7 261.3l-5 7h3l-2.200 6 6.800-8.200h-3.200l3-4.800zM496.3 265.7l-5 7h3l-2.200 6 6.800-8.200h-3.200l3-4.800z"/><path fill="#ffff00" d="M338.7 266.6l-5 7h3l-2.200 6 6.800-8.200h-3.200l3-4.800z"/><path fill="#19b4f2" d="M384.5 266.2l-5 7h3l-2.200 6 6.800-8.200h-3.200l3-4.800z"/><path fill="#ffff00" d="M161 262l-5 7h3l-2.200 6 6.800-8.200h-3.200l3-4.800zM367.7 261.1l-5 7h3l-2.200 6 6.800-8.200h-3.200l3-4.800z"/><path fill="#e8140e" d="M390.6 266.8l-5 7h3l-2.200 6 6.800-8.200h-3.200l3-4.800z"/><path fill="#ffff00" d="M348.6 267.4l-5 7h3l-2.200 6 6.800-8.200h-3.200l3-4.800zM158.6 266.9l-5 7h3l-2.200 6 6.800-8.200h-3.200l3-4.800z"/><path fill="#e8140e" d="M203.8 262.4l-5 7h3l-2.200 6 6.800-8.200h-3.200l3-4.800z"/><path fill="#8a1212" d="M489.4 265.8l-5 7h3l-2.200 6 6.800-8.200h-3.200l3-4.800z"/><path fill="#e8140e" d="M395.1 260.5l-5 7h3l-2.200 6 6.800-8.200h-3.200l3-4.800z"/><path fill="#ffff00" d="M425.6 265.8l-5 7h3l-2.200 6 6.800-8.200h-3.200l3-4.800zM482.6 260.3l-5 7h3l-2.200 6 6.800-8.200h-3.200l3-4.800zM378.1 261.9l-5 7h3l-2.200 6 6.800-8.200h-3.200l3-4.800zM432 260.9l-5 7h3l-2.200 6 6.800-8.200h-3.200l3-4.800zM292 261.2l-5 7h3l-2.200 6 6.800-8.200h-3.200l3-4.800zM413.4 268.1l-5 7h3l-2.200 6 6.800-8.200h-3.200l3-4.800z"/><path fill="#f2701c" d="M406.6 267.8l-5 7h3l-2.200 6 6.800-8.200h-3.200l3-4.800z"/><path fill="#19b4f2" d="M511.2 262.5l-5 7h3l-2.200 6 6.800-8.200h-3.200l3-4.800z"/><path fill="#e8140e" d="M480.2 267.2l-5 7h3l-2.200 6 6.800-8.200h-3.200l3-4.800z"/><path fill="#19b4f2" d="M257.7 261.5l-5 7h3l-2.200 6 6.800-8.200h-3.200l3-4.800z"/><path fill="#ffff00" d="M459.8 261.1l-5 7h3l-2.200 6 6.800-8.200h-3.200l3-4.800zM147.7 261.9l-5 7h3l-2.200 6 6.800-8.200h-3.200l3-4.800zM423.1 261.6l-5 7h3l-2.200 6 6.800-8.200h-3.200l3-4.800z"/><path fill="#19b4f2" d="M499.5 266.7l-5 7h3l-2.200 6 6.800-8.200h-3.200l3-4.800zM499.2 261.4l-5 7h3l-2.200 6 6.800-8.200h-3.200l3-4.800z"/><path fill="#e8140e" d="M191.2 268.3l-5 7h3l-2.200 6 6.800-8.200h-3.200l3-4.800z"/><path fill="#ffff00" d="M167.3 266.7l-5 7h3l-2.200 6 6.800-8.200h-3.200l3-4.800z"/><path fill="#e8140e" d="M466.4 262.6l-5 7h3l-2.200 6 6.800-8.200h-3.200l3-4.800z"/><path fill="#f2701c" d="M137.9 268.2l-5 7h3l-2.200 6 6.800-8.200h-3.200l3-4.800z"/><path fill="#ffff00" d="M163.3 267.6l-5 7h3l-2.200 6 6.800-8.200h-3.200l3-4.800z"/><path fill="#19b4f2" d="M268 262.8l-5 7h3l-2.200 6 6.800-8.200h-3.200l3-4.800z"/><path fill="#ffff00" d="M343.1 268.2l-5 7h3l-2.200 6 6.800-8.200h-3.200l3-4.800zM329.2 267.5l-5 7h3l-2.200 6 6.800-8.200h-3.200l3-4.800zM417.5 266.1l-5 7h3l-2.200 6 6.800-8.200h-3.200l3-4.800zM398.4 267.8l-5 7h3l-2.200 6 6.800-8.200h-3.200l3-4.800z"/><path fill="#19b4f2" d="M215.5 267.7l-5 7h3l-2.200 6 6.800-8.200h-3.200l3-4.800zM251.8 266.1l-5 7h3l-2.200 6 6.800-8.200h-3.200l3-4.800zM506 263l-5 7h3l-2.200 6 6.800-8.200h-3.200l3-4.800z"/><path fill="#ffff00" d="M219.3 266.8l-5 7h3l-2.200 6 6.800-8.200h-3.200l3-4.800zM333.1 266l-5 7h3l-2.200 6 6.800-8.200h-3.200l3-4.800z"/><path fill="#f2701c" d="M356.1 268l-5 7h3l-2.200 6 6.800-8.200h-3.200l3-4.800zM141.8 266.5l-5 7h3l-2.200 6 6.800-8.200h-3.200l3-4.800z"/><path fill="#e8140e" d="M464.3 268.1l-5 7h3l-2.200 6 6.800-8.200h-3.200l3-4.800zM467.4 267.2l-5 7h3l-2.200 6 6.800-8.200h-3.200l3-4.800z"/><path fill="#19b4f2" d="M242.3 265.7l-5 7h3l-2.200 6 6.800-8.200h-3.200l3-4.800z"/><path fill="#ffff00" d="M288.2 267.1l-5 7h3l-2.200 6 6.800-8.200h-3.200l3-4.800z"/><path fill="#19b4f2" d="M266.5 268.6l-5 7h3l-2.200 6 6.800-8.200h-3.200l3-4.800z"/><path fill="#ffff00" d="M522.2 266.9l-5 7h3l-2.200 6 6.800-8.200h-3.200l3-4.800zM485 267.3l-5 7h3l-2.200 6 6.800-8.200h-3.200l3-4.800zM431 266.5l-5 7h3l-2.200 6 6.800-8.200h-3.200l3-4.800zM154.6 266l-5 7h3l-2.200 6 6.800-8.200h-3.200l3-4.800z"/><path fill="#19b4f2" d="M508.5 267.1l-5 7h3l-2.200 6 6.800-8.200h-3.200l3-4.800z"/><path fill="#ffff00" d="M436.7 268.3l-5 7h3l-2.200 6 6.800-8.200h-3.200l3-4.800zM448.9 266.4l-5 7h3l-2.200 6 6.800-8.200h-3.200l3-4.800zM444 267.1l-5 7h3l-2.200 6 6.800-8.200h-3.200l3-4.800z"/><path fill="#e8140e" d="M178.3 266.8l-5 7h3l-2.200 6 6.800-8.200h-3.200l3-4.800z"/><path fill="#ffff00" d="M513.9 266.5l-5 7h3l-2.200 6 6.800-8.200h-3.200l3-4.800z"/><path fill="#19b4f2" d="M200.8 268.6l-5 7h3l-2.200 6 6.800-8.200h-3.200l3-4.800z"/><path fill="#ffff00" d="M455.2 266l-5 7h3l-2.200 6 6.800-8.200h-3.200l3-4.800zM403.3 267.2l-5 7h3l-2.200 6 6.800-8.200h-3.200l3-4.800zM380.1 268l-5 7h3l-2.200 6 6.800-8.200h-3.200l3-4.800zM353 265.7l-5 7h3l-2.200 6 6.800-8.200h-3.200l3-4.800z"/><path fill="#19b4f2" d="M225.4 268.7l-5 7h3l-2.200 6 6.800-8.200h-3.200l3-4.800z"/><path fill="#ffff00" d="M360.9 266.7l-5 7h3l-2.200 6 6.800-8.200h-3.200l3-4.800z"/><path fill="#19b4f2" d="M276.8 271.4l-5 7h3l-2.200 6 6.800-8.200h-3.200l3-4.800zM255.9 265.9l-5 7h3l-2.200 6 6.800-8.200h-3.200l3-4.800zM227.3 267.1l-5 7h3l-2.200 6 6.800-8.200h-3.200l3-4.800zM247.1 267.3l-5 7h3l-2.200 6 6.800-8.200h-3.200l3-4.800z"/><path fill="#ffff00" d="M472.4 267.4l-5 7h3l-2.200 6 6.800-8.200h-3.200l3-4.800zM437.1 271.4l-5 7h3l-2.200 6 6.800-8.200h-3.200l3-4.800zM457.8 271.5l-5 7h3l-2.200 6 6.800-8.200h-3.200l3-4.800zM499.1 272l-5 7h3l-2.200 6 6.800-8.200h-3.200l3-4.800zM196.1 267.9l-5 7h3l-2.200 6 6.800-8.200h-3.200l3-4.800zM372.7 271.8l-5 7h3l-2.200 6 6.800-8.200h-3.200l3-4.800zM370.3 266.9l-5 7h3l-2.200 6 6.800-8.200h-3.200l3-4.800z"/><path fill="#e8140e" d="M137.5 272.1l-5 7h3l-2.200 6 6.800-8.200h-3.200l3-4.800z"/><path fill="#f2701c" d="M154.2 272.2l-5 7h3l-2.200 6 6.800-8.200h-3.200l3-4.800z"/><path fill="#ffff00" d="M519.1 267.7l-5 7h3l-2.200 6 6.800-8.200h-3.200l3-4.800zM374.4 267l-5 7h3l-2.200 6 6.800-8.200h-3.200l3-4.800zM397 271.8l-5 7h3l-2.200 6 6.800-8.200h-3.200l3-4.800zM421.4 268.6l-5 7h3l-2.200 6 6.800-8.200h-3.200l3-4.800z"/><path fill="#f2701c" d="M199.1 271.5l-5 7h3l-2.200 6 6.800-8.200h-3.200l3-4.800z"/><path fill="#ffff00" d="M366.7 266l-5 7h3l-2.200 6 6.800-8.200h-3.200l3-4.800zM335.4 273l-5 7h3l-2.200 6 6.800-8.200h-3.200l3-4.800z"/><path fill="#f2701c" d="M361.2 273l-5 7h3l-2.200 6 6.800-8.200h-3.200l3-4.800z"/><path fill="#ffff00" d="M364.9 273.4l-5 7h3l-2.200 6 6.800-8.200h-3.200l3-4.800zM172.4 266.1l-5 7h3l-2.200 6 6.800-8.200h-3.200l3-4.800z"/><path fill="#e8140e" d="M187.1 267.2l-5 7h3l-2.200 6 6.800-8.200h-3.200l3-4.800z"/><path fill="#ffff00" d="M291.7 267.3l-5 7h3l-2.200 6 6.800-8.200h-3.200l3-4.800zM151.3 268.3l-5 7h3l-2.200 6 6.800-8.200h-3.200l3-4.800zM280.5 266.7l-5 7h3l-2.200 6 6.800-8.200h-3.200l3-4.800z"/><path fill="#19b4f2" d="M406.7 272.9l-5 7h3l-2.200 6 6.800-8.200h-3.200l3-4.800zM487.8 273.8l-5 7h3l-2.200 6 6.800-8.200h-3.200l3-4.800z"/><path fill="#e8140e" d="M393.4 266.5l-5 7h3l-2.200 6 6.800-8.200h-3.200l3-4.800zM457.3 267.7l-5 7h3l-2.200 6 6.800-8.200h-3.200l3-4.800z"/><path fill="#ffff00" d="M347.4 271.7l-5 7h3l-2.200 6 6.800-8.200h-3.200l3-4.800zM283.8 268.4l-5 7h3l-2.200 6 6.800-8.200h-3.200l3-4.800z"/><path fill="#19b4f2" d="M238.2 267.9l-5 7h3l-2.200 6 6.800-8.200h-3.200l3-4.800z"/><path fill="#ffff00" d="M291.6 273.4l-5 7h3l-2.200 6 6.800-8.200h-3.200l3-4.800z"/><path fill="#e8140e" d="M182 266.9l-5 7h3l-2.200 6 6.800-8.200h-3.200l3-4.800z"/><path fill="#19b4f2" d="M220.8 273.2l-5 7h3l-2.200 6 6.800-8.200h-3.200l3-4.800z"/><path fill="#ffff00" d="M367.5 272.4l-5 7h3l-2.200 6 6.800-8.200h-3.200l3-4.800z"/><path fill="#19b4f2" d="M204.5 268.4l-5 7h3l-2.200 6 6.800-8.200h-3.200l3-4.800zM244.6 274.2l-5 7h3l-2.200 6 6.800-8.200h-3.200l3-4.800z"/><path fill="#ffff00" d="M441.5 268l-5 7h3l-2.200 6 6.800-8.200h-3.200l3-4.800zM459.7 273l-5 7h3l-2.200 6 6.800-8.200h-3.200l3-4.800zM282.6 272.8l-5 7h3l-2.200 6 6.800-8.200h-3.200l3-4.800z"/><path fill="#19b4f2" d="M202.4 273.4l-5 7h3l-2.200 6 6.800-8.200h-3.200l3-4.800z"/><path fill="#ffff00" d="M519.8 273.5l-5 7h3l-2.200 6 6.800-8.200h-3.200l3-4.800zM149.3 272l-5 7h3l-2.200 6 6.800-8.200h-3.200l3-4.800zM526.3 273.2l-5 7h3l-2.200 6 6.800-8.200h-3.200l3-4.800zM185.9 273.7l-5 7h3l-2.200 6 6.800-8.200h-3.200l3-4.800zM145.1 267.6l-5 7h3l-2.200 6 6.800-8.200h-3.200l3-4.800zM414.2 273.3l-5 7h3l-2.200 6 6.800-8.200h-3.200l3-4.800z"/><path fill="#19b4f2" d="M212.9 272.8l-5 7h3l-2.200 6 6.800-8.200h-3.200l3-4.800z"/><path fill="#ffff00" d="M210.5 267.3l-5 7h3l-2.200 6 6.800-8.200h-3.200l3-4.800z"/><path fill="#e8140e" d="M477.6 268.5l-5 7h3l-2.200 6 6.800-8.200h-3.200l3-4.800zM175 274l-5 7h3l-2.200 6 6.800-8.200h-3.200l3-4.800z"/><path fill="#19b4f2" d="M275 268.2l-5 7h3l-2.200 6 6.800-8.200h-3.200l3-4.800zM206.6 273.9l-5 7h3l-2.200 6 6.800-8.200h-3.200l3-4.800zM504.1 267.7l-5 7h3l-2.200 6 6.800-8.200h-3.200l3-4.800z"/><path fill="#ffff00" d="M419.1 272.4l-5 7h3l-2.200 6 6.800-8.200h-3.200l3-4.800zM493.3 272.4l-5 7h3l-2.200 6 6.800-8.200h-3.200l3-4.800zM285.3 273.9l-5 7h3l-2.200 6 6.800-8.200h-3.200l3-4.800zM517.3 271.8l-5 7h3l-2.200 6 6.800-8.200h-3.200l3-4.800z"/><path fill="#19b4f2" d="M324.2 273.3l-5 7h3l-2.200 6 6.800-8.200h-3.200l3-4.800zM259.6 268.3l-5 7h3l-2.200 6 6.800-8.200h-3.200l3-4.800zM478.6 273.7l-5 7h3l-2.200 6 6.800-8.200h-3.200l3-4.800z"/><path fill="#e8140e" d="M190.4 273.7l-5 7h3l-2.200 6 6.800-8.200h-3.200l3-4.800z"/><path fill="#19b4f2" d="M234.7 271.9l-5 7h3l-2.200 6 6.800-8.200h-3.200l3-4.800zM225.7 274.2l-5 7h3l-2.200 6 6.800-8.200h-3.200l3-4.800z"/><path fill="#ffff00" d="M388.2 273l-5 7h3l-2.200 6 6.800-8.200h-3.200l3-4.800z"/><path fill="#f2701c" d="M400.3 272.4l-5 7h3l-2.200 6 6.800-8.200h-3.200l3-4.800z"/><path fill="#19b4f2" d="M268.3 272.6l-5 7h3l-2.200 6 6.800-8.200h-3.200l3-4.800zM231 272.8l-5 7h3l-2.200 6 6.800-8.200h-3.200l3-4.800z"/><path fill="#f2701c" d="M272.7 273.3l-5 7h3l-2.200 6 6.800-8.200h-3.200l3-4.800z"/><path fill="#ffff00" d="M180.2 272.2l-5 7h3l-2.200 6 6.800-8.200h-3.200l3-4.800zM450.9 274.2l-5 7h3l-2.200 6 6.800-8.200h-3.200l3-4.800z"/><path fill="#e8140e" d="M192.7 272.8l-5 7h3l-2.200 6 6.800-8.200h-3.200l3-4.800z"/><path fill="#19b4f2" d="M429.9 273.6l-5 7h3l-2.200 6 6.800-8.200h-3.200l3-4.800z"/><path fill="#ffff00" d="M464.5 272.7l-5 7h3l-2.200 6 6.800-8.200h-3.200l3-4.800zM327.6 274.2l-5 7h3l-2.200 6 6.800-8.200h-3.200l3-4.800z"/><path fill="#19b4f2" d="M482.8 271.9l-5 7h3l-2.200 6 6.800-8.200h-3.200l3-4.800z"/><path fill="#ffff00" d="M510.1 271.4l-5 7h3l-2.200 6 6.800-8.200h-3.200l3-4.800zM383.3 272.3l-5 7h3l-2.200 6 6.800-8.200h-3.200l3-4.800zM158.6 272.2l-5 7h3l-2.200 6 6.800-8.200h-3.200l3-4.800zM501 277l-5 7h3l-2.200 6 6.800-8.200h-3.200l3-4.800z"/><path fill="#19b4f2" d="M239.7 272.9l-5 7h3l-2.200 6 6.800-8.200h-3.200l3-4.800z"/><path fill="#ffff00" d="M446.8 273l-5 7h3l-2.200 6 6.800-8.200h-3.200l3-4.800zM433 272.8l-5 7h3l-2.200 6 6.800-8.200h-3.200l3-4.800z"/><path fill="#f2701c" d="M354.5 273.7l-5 7h3l-2.200 6 6.800-8.200h-3.200l3-4.800z"/><path fill="#ffff00" d="M361.9 278l-5 7h3l-2.200 6 6.800-8.200h-3.200l3-4.800zM143.1 274l-5 7h3l-2.200 6 6.800-8.200h-3.200l3-4.800zM378.1 273.4l-5 7h3l-2.200 6 6.800-8.200h-3.200l3-4.800zM342.1 273.5l-5 7h3l-2.200 6 6.800-8.200h-3.200l3-4.800z"/><path fill="#19b4f2" d="M238.6 277.9l-5 7h3l-2.200 6 6.800-8.200h-3.200l3-4.800z"/><path fill="#ffff00" d="M501.5 272.2l-5 7h3l-2.200 6 6.800-8.200h-3.200l3-4.800zM145.3 278.1l-5 7h3l-2.200 6 6.800-8.200h-3.200l3-4.800z"/><path fill="#8a1212" d="M424.4 272.1l-5 7h3l-2.200 6 6.800-8.200h-3.200l3-4.800z"/><path fill="#ffff00" d="M168.9 277.3l-5 7h3l-2.200 6 6.800-8.200h-3.200l3-4.800z"/><path fill="#f2701c" d="M259.2 272.3l-5 7h3l-2.200 6 6.800-8.200h-3.200l3-4.800zM154 279.1l-5 7h3l-2.200 6 6.800-8.200h-3.200l3-4.800z"/><path fill="#e8140e" d="M166.9 272.7l-5 7h3l-2.200 6 6.800-8.200h-3.200l3-4.800z"/><path fill="#ffff00" d="M293.9 277.2l-5 7h3l-2.200 6 6.800-8.200h-3.200l3-4.800zM469.6 273l-5 7h3l-2.200 6 6.800-8.200h-3.200l3-4.800zM441.6 273.9l-5 7h3l-2.200 6 6.800-8.200h-3.200l3-4.800zM504.4 278.9l-5 7h3l-2.200 6 6.800-8.200h-3.200l3-4.800z"/><path fill="#19b4f2" d="M220.3 277.5l-5 7h3l-2.200 6 6.800-8.200h-3.200l3-4.800z"/><path fill="#ffff00" d="M284.1 276.9l-5 7h3l-2.200 6 6.800-8.200h-3.200l3-4.800zM295.7 272.5l-5 7h3l-2.200 6 6.800-8.200h-3.200l3-4.800z"/><path fill="#f2701c" d="M271.2 277.2l-5 7h3l-2.200 6 6.800-8.200h-3.200l3-4.800z"/><path fill="#8a1212" d="M435.7 279.4l-5 7h3l-2.200 6 6.800-8.200h-3.200l3-4.800z"/><path fill="#ffff00" d="M393.3 279.3l-5 7h3l-2.200 6 6.800-8.200h-3.200l3-4.800z"/><path fill="#19b4f2" d="M216.3 273.3l-5 7h3l-2.200 6 6.800-8.200h-3.200l3-4.800z"/><path fill="#ffff00" d="M170.4 272.6l-5 7h3l-2.200 6 6.800-8.200h-3.200l3-4.800zM331.4 273.1l-5 7h3l-2.200 6 6.800-8.200h-3.200l3-4.800zM441.4 277l-5 7h3l-2.200 6 6.800-8.200h-3.200l3-4.800zM320.8 279.3l-5 7h3l-2.200 6 6.800-8.200h-3.200l3-4.800zM523.7 278.7l-5 7h3l-2.200 6 6.800-8.200h-3.200l3-4.800zM390.9 274.2l-5 7h3l-2.200 6 6.800-8.200h-3.200l3-4.800zM351.7 277.4l-5 7h3l-2.200 6 6.800-8.200h-3.200l3-4.800z"/><path fill="#19b4f2" d="M249.7 274.1l-5 7h3l-2.200 6 6.800-8.200h-3.200l3-4.800z"/><path fill="#ffff00" d="M163.2 272.8l-5 7h3l-2.200 6 6.800-8.200h-3.200l3-4.800zM473.4 273.6l-5 7h3l-2.200 6 6.800-8.200h-3.200l3-4.800zM141.8 277.6l-5 7h3l-2.200 6 6.800-8.200h-3.200l3-4.800zM350.7 272.9l-5 7h3l-2.200 6 6.800-8.200h-3.200l3-4.800zM443.7 279.2l-5 7h3l-2.200 6 6.800-8.200h-3.200l3-4.800zM343.7 278.6l-5 7h3l-2.200 6 6.800-8.200h-3.200l3-4.800z"/><path fill="#f2701c" d="M261.9 272.7l-5 7h3l-2.200 6 6.800-8.200h-3.200l3-4.800z"/><path fill="#ffff00" d="M410.6 273.9l-5 7h3l-2.200 6 6.800-8.200h-3.200l3-4.800z"/><path fill="#19b4f2" d="M253 273.6l-5 7h3l-2.200 6 6.800-8.200h-3.200l3-4.800z"/><path fill="#ffff00" d="M506.5 273.5l-5 7h3l-2.200 6 6.800-8.200h-3.200l3-4.800zM416.5 277.1l-5 7h3l-2.200 6 6.800-8.200h-3.200l3-4.800z"/><path fill="#19b4f2" d="M252.4 278.7l-5 7h3l-2.200 6 6.800-8.200h-3.200l3-4.800zM213.7 279.2l-5 7h3l-2.200 6 6.800-8.200h-3.200l3-4.800z"/><path fill="#ffff00" d="M182.9 278.4l-5 7h3l-2.200 6 6.800-8.200h-3.200l3-4.800zM518.1 279l-5 7h3l-2.200 6 6.800-8.200h-3.200l3-4.800z"/><path fill="#f2701c" d="M193.1 278.4l-5 7h3l-2.200 6 6.800-8.200h-3.200l3-4.800zM357 277.6l-5 7h3l-2.200 6 6.800-8.200h-3.200l3-4.800z"/><path fill="#ffff00" d="M333.1 277.7l-5 7h3l-2.200 6 6.800-8.200h-3.200l3-4.800zM132.6 277.5l-5 7h3l-2.200 6 6.800-8.200h-3.200l3-4.800zM412.8 277.8l-5 7h3l-2.200 6 6.800-8.200h-3.200l3-4.800z"/><path fill="#19b4f2" d="M407.5 277.6l-5 7h3l-2.200 6 6.800-8.200h-3.200l3-4.800z"/><path fill="#ffff00" d="M462 277.9l-5 7h3l-2.200 6 6.800-8.200h-3.200l3-4.800zM513.9 277.2l-5 7h3l-2.200 6 6.800-8.200h-3.200l3-4.800zM376.1 279.4l-5 7h3l-2.200 6 6.800-8.200h-3.200l3-4.800z"/><path fill="#f2701c" d="M177.4 279.2l-5 7h3l-2.200 6 6.800-8.200h-3.200l3-4.800z"/><path fill="#ffff00" d="M469.1 279.6l-5 7h3l-2.200 6 6.800-8.200h-3.200l3-4.800zM326.6 277.8l-5 7h3l-2.200 6 6.800-8.200h-3.200l3-4.800z"/><path fill="#e8140e" d="M135.1 276.9l-5 7h3l-2.200 6 6.800-8.200h-3.200l3-4.800z"/><path fill="#f2701c" d="M274.5 277.5l-5 7h3l-2.200 6 6.800-8.200h-3.200l3-4.800z"/><path fill="#ffff00" d="M163 278.8l-5 7h3l-2.200 6 6.800-8.200h-3.200l3-4.800z"/><path fill="#19b4f2" d="M223.1 278.8l-5 7h3l-2.200 6 6.800-8.200h-3.200l3-4.800z"/><path fill="#f2701c" d="M196.1 277.1l-5 7h3l-2.200 6 6.800-8.200h-3.200l3-4.800z"/><path fill="#ffff00" d="M496.4 279.4l-5 7h3l-2.200 6 6.800-8.200h-3.200l3-4.800zM465.7 283.4l-5 7h3l-2.200 6 6.800-8.200h-3.200l3-4.800z"/><path fill="#19b4f2" d="M480.9 277.2l-5 7h3l-2.200 6 6.800-8.200h-3.200l3-4.800z"/><path fill="#ffff00" d="M433.2 282.8l-5 7h3l-2.200 6 6.800-8.200h-3.200l3-4.800zM365.5 277l-5 7h3l-2.200 6 6.800-8.200h-3.200l3-4.800zM448.6 279.1l-5 7h3l-2.200 6 6.800-8.200h-3.200l3-4.800zM279.6 279.3l-5 7h3l-2.200 6 6.800-8.200h-3.200l3-4.800z"/><path fill="#19b4f2" d="M510.4 279.1l-5 7h3l-2.200 6 6.800-8.200h-3.200l3-4.800z"/><path fill="#ffff00" d="M385.7 277.8l-5 7h3l-2.200 6 6.800-8.200h-3.200l3-4.800z"/><path fill="#19b4f2" d="M151.3 284.1l-5 7h3l-2.200 6 6.800-8.200h-3.200l3-4.800z"/><path fill="#f2701c" d="M206.8 278.3l-5 7h3l-2.200 6 6.800-8.200h-3.200l3-4.800z"/><path fill="#19b4f2" d="M175.7 283.8l-5 7h3l-2.200 6 6.800-8.200h-3.200l3-4.800zM477.7 279.4l-5 7h3l-2.200 6 6.800-8.200h-3.200l3-4.800z"/><path fill="#ffff00" d="M427.3 278.6l-5 7h3l-2.200 6 6.800-8.200h-3.200l3-4.800zM506 282.7l-5 7h3l-2.200 6 6.800-8.200h-3.200l3-4.800zM405.8 283.5l-5 7h3l-2.200 6 6.800-8.200h-3.200l3-4.800z"/><path fill="#19b4f2" d="M254.1 282.7l-5 7h3l-2.200 6 6.800-8.200h-3.200l3-4.800zM236.6 284.5l-5 7h3l-2.200 6 6.800-8.200h-3.200l3-4.800z"/><path fill="#ffff00" d="M338.1 278.3l-5 7h3l-2.200 6 6.800-8.200h-3.200l3-4.800zM454.7 277.1l-5 7h3l-2.200 6 6.800-8.200h-3.200l3-4.800z"/><path fill="#19b4f2" d="M244.1 283.8l-5 7h3l-2.200 6 6.800-8.200h-3.200l3-4.800z"/><path fill="#ffff00" d="M280.6 283.1l-5 7h3l-2.200 6 6.800-8.200h-3.200l3-4.800z"/><path fill="#f2701c" d="M188.7 279.3l-5 7h3l-2.200 6 6.800-8.200h-3.200l3-4.800z"/><path fill="#ffff00" d="M450.5 284.1l-5 7h3l-2.200 6 6.800-8.200h-3.200l3-4.800z"/><path fill="#e8140e" d="M268.7 284.3l-5 7h3l-2.200 6 6.800-8.200h-3.200l3-4.800z"/><path fill="#ffff00" d="M379.6 279.1l-5 7h3l-2.200 6 6.800-8.200h-3.200l3-4.800zM158.2 278.3l-5 7h3l-2.200 6 6.800-8.200h-3.200l3-4.800zM373.5 283.6l-5 7h3l-2.200 6 6.800-8.200h-3.200l3-4.800zM345.3 283.9l-5 7h3l-2.200 6 6.800-8.200h-3.200l3-4.800z"/><path fill="#19b4f2" d="M241.2 277.4l-5 7h3l-2.200 6 6.800-8.200h-3.200l3-4.800z"/><path fill="#ffff00" d="M299.1 278.6l-5 7h3l-2.200 6 6.800-8.200h-3.200l3-4.800zM470.9 284l-5 7h3l-2.200 6 6.800-8.200h-3.200l3-4.800z"/><path fill="#19b4f2" d="M255.9 278l-5 7h3l-2.200 6 6.800-8.200h-3.200l3-4.800z"/><path fill="#ffff00" d="M441.7 284.6l-5 7h3l-2.200 6 6.800-8.200h-3.200l3-4.800zM487 278.4l-5 7h3l-2.200 6 6.800-8.200h-3.200l3-4.800z"/><path fill="#e8140e" d="M261.3 279.4l-5 7h3l-2.200 6 6.800-8.200h-3.200l3-4.800zM272.6 284.4l-5 7h3l-2.200 6 6.800-8.200h-3.200l3-4.800z"/><path fill="#19b4f2" d="M288 279.8l-5 7h3l-2.200 6 6.800-8.200h-3.200l3-4.800zM210.7 277.5l-5 7h3l-2.200 6 6.800-8.200h-3.200l3-4.800z"/><path fill="#ffff00" d="M422.7 283l-5 7h3l-2.200 6 6.800-8.200h-3.200l3-4.800zM151.2 279.8l-5 7h3l-2.200 6 6.800-8.200h-3.200l3-4.800zM461.8 283.2l-5 7h3l-2.200 6 6.800-8.200h-3.200l3-4.800zM457.4 279.6l-5 7h3l-2.200 6 6.800-8.200h-3.200l3-4.800zM403.2 279.7l-5 7h3l-2.200 6 6.800-8.200h-3.200l3-4.800z"/><path fill="#19b4f2" d="M241 283.1l-5 7h3l-2.200 6 6.800-8.200h-3.200l3-4.800z"/><path fill="#ffff00" d="M479.3 282.9l-5 7h3l-2.200 6 6.800-8.200h-3.200l3-4.800zM337.6 282.8l-5 7h3l-2.200 6 6.800-8.200h-3.200l3-4.800zM472.7 277.9l-5 7h3l-2.200 6 6.800-8.200h-3.200l3-4.800zM378.2 285.5l-5 7h3l-2.200 6 6.800-8.200h-3.200l3-4.800z"/><path fill="#f2701c" d="M329.3 279.4l-5 7h3l-2.200 6 6.800-8.200h-3.200l3-4.800z"/><path fill="#19b4f2" d="M231.8 285l-5 7h3l-2.200 6 6.800-8.200h-3.200l3-4.800z"/><path fill="#ffff00" d="M489.7 279.8l-5 7h3l-2.200 6 6.800-8.200h-3.200l3-4.800zM291 283.4l-5 7h3l-2.200 6 6.800-8.200h-3.200l3-4.800zM397.9 279.6l-5 7h3l-2.200 6 6.800-8.200h-3.200l3-4.800z"/><path fill="#f2701c" d="M390.5 279.7l-5 7h3l-2.200 6 6.800-8.200h-3.200l3-4.800zM201.8 278.2l-5 7h3l-2.200 6 6.800-8.200h-3.200l3-4.800z"/><path fill="#ffff00" d="M386.1 284.1l-5 7h3l-2.200 6 6.800-8.200h-3.200l3-4.800z"/><path fill="#f2701c" d="M185.5 285l-5 7h3l-2.200 6 6.800-8.200h-3.200l3-4.800z"/><path fill="#19b4f2" d="M262 283.9l-5 7h3l-2.200 6 6.800-8.200h-3.200l3-4.800zM142.3 285.3l-5 7h3l-2.200 6 6.800-8.200h-3.200l3-4.800z"/><path fill="#ffff00" d="M496.2 284.7l-5 7h3l-2.200 6 6.800-8.200h-3.200l3-4.800z"/><path fill="#19b4f2" d="M234.6 279.5l-5 7h3l-2.200 6 6.800-8.200h-3.200l3-4.800z"/><path fill="#ffff00" d="M372.5 279.4l-5 7h3l-2.200 6 6.800-8.200h-3.200l3-4.800zM487.8 283.4l-5 7h3l-2.200 6 6.800-8.200h-3.200l3-4.800z"/><path fill="#8a1212" d="M432 279.6l-5 7h3l-2.200 6 6.800-8.200h-3.200l3-4.800z"/><path fill="#f2701c" d="M190.8 284.1l-5 7h3l-2.200 6 6.800-8.200h-3.200l3-4.800z"/><path fill="#19b4f2" d="M259.6 283.9l-5 7h3l-2.200 6 6.800-8.200h-3.200l3-4.800z"/><path fill="#ffff00" d="M420.4 279.5l-5 7h3l-2.200 6 6.800-8.200h-3.200l3-4.800zM519.9 284.3l-5 7h3l-2.200 6 6.800-8.200h-3.200l3-4.800z"/><path fill="#19b4f2" d="M229.3 279.6l-5 7h3l-2.200 6 6.800-8.200h-3.200l3-4.800z"/><path fill="#ffff00" d="M349.2 279.8l-5 7h3l-2.200 6 6.800-8.200h-3.200l3-4.800z"/><path fill="#19b4f2" d="M223 283.1l-5 7h3l-2.200 6 6.800-8.200h-3.200l3-4.800z"/><path fill="#f2701c" d="M266.3 279.7l-5 7h3l-2.200 6 6.800-8.200h-3.200l3-4.800z"/><path fill="#e8140e" d="M174.1 279.6l-5 7h3l-2.200 6 6.800-8.200h-3.200l3-4.800z"/><path fill="#19b4f2" d="M246 279.8l-5 7h3l-2.200 6 6.800-8.200h-3.200l3-4.800z"/><path fill="#ffff00" d="M483.7 284.6l-5 7h3l-2.200 6 6.800-8.200h-3.200l3-4.800zM447 284l-5 7h3l-2.200 6 6.800-8.200h-3.200l3-4.800zM298.5 284.3l-5 7h3l-2.200 6 6.800-8.200h-3.200l3-4.800zM327.7 284.5l-5 7h3l-2.200 6 6.800-8.200h-3.200l3-4.800z"/><path fill="#f2701c" d="M202.6 285l-5 7h3l-2.200 6 6.800-8.200h-3.200l3-4.800z"/><path fill="#8a1212" d="M411.4 283.3l-5 7h3l-2.200 6 6.800-8.200h-3.200l3-4.800z"/><path fill="#19b4f2" d="M208 284.6l-5 7h3l-2.200 6 6.800-8.200h-3.200l3-4.800zM226.2 282.8l-5 7h3l-2.200 6 6.800-8.200h-3.200l3-4.800z"/><path fill="#f2701c" d="M179.1 282.6l-5 7h3l-2.200 6 6.800-8.200h-3.200l3-4.800z"/><path fill="#ffff00" d="M382.5 284.4l-5 7h3l-2.200 6 6.800-8.200h-3.200l3-4.800z"/><path fill="#19b4f2" d="M511.7 284.4l-5 7h3l-2.200 6 6.800-8.200h-3.200l3-4.800z"/><path fill="#ffff00" d="M492 283.2l-5 7h3l-2.200 6 6.800-8.200h-3.200l3-4.800z"/><path fill="#e8140e" d="M333.3 285.3l-5 7h3l-2.200 6 6.800-8.200h-3.200l3-4.800z"/><path fill="#ffff00" d="M341.4 283l-5 7h3l-2.200 6 6.800-8.200h-3.200l3-4.800zM319.7 288.1l-5 7h3l-2.200 6 6.800-8.200h-3.200l3-4.800zM385.4 288.7l-5 7h3l-2.200 6 6.800-8.200h-3.200l3-4.800z"/><path fill="#e8140e" d="M335.1 288.7l-5 7h3l-2.200 6 6.800-8.200h-3.200l3-4.800z"/><path fill="#ffff00" d="M359.4 282.8l-5 7h3l-2.200 6 6.800-8.200h-3.200l3-4.800zM517.1 284.8l-5 7h3l-2.200 6 6.800-8.200h-3.200l3-4.800z"/><path fill="#19b4f2" d="M211.8 284.2l-5 7h3l-2.200 6 6.800-8.200h-3.200l3-4.800z"/><path fill="#ffff00" d="M317.9 284.2l-5 7h3l-2.200 6 6.800-8.200h-3.200l3-4.800zM393.3 284.3l-5 7h3l-2.200 6 6.800-8.200h-3.200l3-4.800z"/><path fill="#f2701c" d="M185.9 288.5l-5 7h3l-2.200 6 6.800-8.200h-3.200l3-4.800z"/><path fill="#ffff00" d="M476.4 289l-5 7h3l-2.200 6 6.800-8.200h-3.200l3-4.800zM486.4 289.1l-5 7h3l-2.200 6 6.800-8.200h-3.200l3-4.800z"/><path fill="#e8140e" d="M367.7 284.5l-5 7h3l-2.200 6 6.800-8.200h-3.200l3-4.800z"/><path fill="#ffff00" d="M163.1 283.5l-5 7h3l-2.200 6 6.800-8.200h-3.200l3-4.800zM396.5 283.4l-5 7h3l-2.200 6 6.800-8.200h-3.200l3-4.800zM429.1 285.1l-5 7h3l-2.200 6 6.800-8.200h-3.200l3-4.800z"/><path fill="#19b4f2" d="M218.4 285l-5 7h3l-2.200 6 6.800-8.200h-3.200l3-4.800z"/><path fill="#e8140e" d="M265.7 288.5l-5 7h3l-2.200 6 6.800-8.200h-3.200l3-4.800z"/><path fill="#ffff00" d="M168.6 288.9l-5 7h3l-2.200 6 6.800-8.200h-3.200l3-4.800z"/><path fill="#19b4f2" d="M192.7 285.1l-5 7h3l-2.200 6 6.800-8.200h-3.200l3-4.800z"/><path fill="#ffff00" d="M329.7 289.2l-5 7h3l-2.200 6 6.800-8.200h-3.200l3-4.800zM215.9 289.7l-5 7h3l-2.200 6 6.800-8.200h-3.200l3-4.800zM303.6 289.8l-5 7h3l-2.200 6 6.800-8.200h-3.200l3-4.800zM347.7 288.3l-5 7h3l-2.200 6 6.800-8.200h-3.200l3-4.800zM288.6 288.4l-5 7h3l-2.200 6 6.800-8.200h-3.200l3-4.800zM417.4 288.4l-5 7h3l-2.200 6 6.800-8.200h-3.200l3-4.800z"/><path fill="#8a1212" d="M415 284.2l-5 7h3l-2.200 6 6.800-8.200h-3.200l3-4.800z"/><path fill="#e8140e" d="M284.6 284.2l-5 7h3l-2.200 6 6.800-8.200h-3.200l3-4.800z"/><path fill="#ffff00" d="M503.1 284.8l-5 7h3l-2.200 6 6.800-8.200h-3.200l3-4.800zM355.8 283.1l-5 7h3l-2.200 6 6.800-8.200h-3.200l3-4.800z"/><path fill="#e8140e" d="M146.8 285.2l-5 7h3l-2.200 6 6.800-8.200h-3.200l3-4.800z"/><path fill="#ffff00" d="M156.8 284.8l-5 7h3l-2.200 6 6.800-8.200h-3.200l3-4.800zM167.3 285.4l-5 7h3l-2.200 6 6.800-8.200h-3.200l3-4.800zM321.5 283.6l-5 7h3l-2.200 6 6.800-8.200h-3.200l3-4.800zM403.5 290l-5 7h3l-2.200 6 6.800-8.200h-3.200l3-4.800zM505.1 288.3l-5 7h3l-2.200 6 6.800-8.200h-3.200l3-4.800z"/><path fill="#f2701c" d="M199 284.5l-5 7h3l-2.200 6 6.800-8.200h-3.200l3-4.800zM278.2 284.3l-5 7h3l-2.200 6 6.800-8.200h-3.200l3-4.800z"/><path fill="#e8140e" d="M171.5 285.4l-5 7h3l-2.200 6 6.800-8.200h-3.200l3-4.800z"/><path fill="#ffff00" d="M474.2 284.1l-5 7h3l-2.200 6 6.800-8.200h-3.200l3-4.800zM317 290.5l-5 7h3l-2.200 6 6.800-8.200h-3.200l3-4.800z"/><path fill="#f2701c" d="M181.4 288.2l-5 7h3l-2.200 6 6.800-8.200h-3.200l3-4.800z"/><path fill="#ffff00" d="M400.4 284.4l-5 7h3l-2.200 6 6.800-8.200h-3.200l3-4.800zM350.8 284.1l-5 7h3l-2.200 6 6.800-8.200h-3.200l3-4.800z"/><path fill="#e8140e" d="M364.1 284.7l-5 7h3l-2.200 6 6.800-8.200h-3.200l3-4.800z"/><path fill="#ffff00" d="M294.8 285.4l-5 7h3l-2.200 6 6.800-8.200h-3.200l3-4.800zM395.2 289.4l-5 7h3l-2.200 6 6.800-8.200h-3.200l3-4.800zM454.5 289.5l-5 7h3l-2.200 6 6.800-8.200h-3.200l3-4.800zM458.9 289.9l-5 7h3l-2.200 6 6.800-8.200h-3.200l3-4.800z"/><path fill="#f2701c" d="M178.5 288.4l-5 7h3l-2.200 6 6.800-8.200h-3.200l3-4.800z"/><path fill="#ffff00" d="M156.2 290.9l-5 7h3l-2.200 6 6.800-8.200h-3.200l3-4.800zM380 289.9l-5 7h3l-2.200 6 6.800-8.200h-3.200l3-4.800zM325.3 288.3l-5 7h3l-2.200 6 6.800-8.200h-3.200l3-4.800zM437.2 284.3l-5 7h3l-2.200 6 6.800-8.200h-3.200l3-4.800z"/><path fill="#19b4f2" d="M248.6 284.4l-5 7h3l-2.200 6 6.800-8.200h-3.200l3-4.800zM196.5 288.6l-5 7h3l-2.200 6 6.800-8.200h-3.200l3-4.800z"/><path fill="#ffff00" d="M314.7 285.4l-5 7h3l-2.200 6 6.800-8.200h-3.200l3-4.800z"/><path fill="#19b4f2" d="M237.8 290.2l-5 7h3l-2.200 6 6.800-8.200h-3.200l3-4.800zM234 288.2l-5 7h3l-2.200 6 6.800-8.200h-3.200l3-4.800z"/><path fill="#ffff00" d="M420.3 289.2l-5 7h3l-2.200 6 6.800-8.200h-3.200l3-4.800zM367.4 290l-5 7h3l-2.200 6 6.800-8.200h-3.200l3-4.800zM164.6 288.5l-5 7h3l-2.200 6 6.800-8.200h-3.200l3-4.800zM435.4 288.4l-5 7h3l-2.200 6 6.800-8.200h-3.200l3-4.800z"/><path fill="#19b4f2" d="M204.2 289l-5 7h3l-2.200 6 6.800-8.200h-3.200l3-4.800z"/><path fill="#8a1212" d="M418.2 285l-5 7h3l-2.200 6 6.800-8.200h-3.200l3-4.800z"/><path fill="#ffff00" d="M342.4 290.1l-5 7h3l-2.200 6 6.800-8.200h-3.200l3-4.800z"/><path fill="#e8140e" d="M140.1 285.3l-5 7h3l-2.200 6 6.800-8.200h-3.200l3-4.800z"/><path fill="#19b4f2" d="M456.8 285.5l-5 7h3l-2.200 6 6.800-8.200h-3.200l3-4.800z"/><path fill="#e8140e" d="M268.7 289.2l-5 7h3l-2.200 6 6.800-8.200h-3.200l3-4.800z"/><path fill="#f2701c" d="M560.2 291.9l-5 7h3l-2.200 6 6.800-8.200h-3.200l3-4.800z"/><path fill="#ffff00" d="M389.6 289.7l-5 7h3l-2.200 6 6.800-8.200h-3.200l3-4.800zM160 288.1l-5 7h3l-2.200 6 6.800-8.200h-3.200l3-4.800z"/><path fill="#19b4f2" d="M191.4 288.2l-5 7h3l-2.200 6 6.800-8.200h-3.200l3-4.800z"/><path fill="#ffff00" d="M496.2 290.3l-5 7h3l-2.200 6 6.800-8.200h-3.200l3-4.800zM448.8 290.2l-5 7h3l-2.200 6 6.800-8.200h-3.200l3-4.800zM473.6 290.9l-5 7h3l-2.200 6 6.800-8.200h-3.200l3-4.800zM468.8 290.9l-5 7h3l-2.200 6 6.800-8.200h-3.200l3-4.800zM296.9 290.8l-5 7h3l-2.200 6 6.800-8.200h-3.200l3-4.800zM294.4 289.5l-5 7h3l-2.200 6 6.800-8.200h-3.200l3-4.800z"/><path fill="#f2701c" d="M280 288.1l-5 7h3l-2.200 6 6.800-8.200h-3.200l3-4.800z"/><path fill="#ffff00" d="M464.1 290.1l-5 7h3l-2.200 6 6.800-8.200h-3.200l3-4.800zM356 290.9l-5 7h3l-2.200 6 6.800-8.200h-3.200l3-4.800zM511 293.6l-5 7h3l-2.200 6 6.800-8.200h-3.200l3-4.800zM408.6 290.7l-5 7h3l-2.200 6 6.800-8.200h-3.200l3-4.800z"/><path fill="#19b4f2" d="M210.3 289l-5 7h3l-2.200 6 6.800-8.200h-3.200l3-4.800zM242.4 289.3l-5 7h3l-2.200 6 6.800-8.200h-3.200l3-4.800z"/><path fill="#ffff00" d="M311 290.3l-5 7h3l-2.200 6 6.800-8.200h-3.200l3-4.800z"/><path fill="#19b4f2" d="M248.8 294.4l-5 7h3l-2.200 6 6.800-8.200h-3.200l3-4.800z"/><path fill="#ffff00" d="M317.1 294.6l-5 7h3l-2.200 6 6.800-8.200h-3.200l3-4.800z"/><path fill="#19b4f2" d="M230.1 289.9l-5 7h3l-2.200 6 6.800-8.200h-3.200l3-4.800zM256.7 288.9l-5 7h3l-2.200 6 6.800-8.200h-3.200l3-4.800z"/><path fill="#ffff00" d="M340.5 290.5l-5 7h3l-2.200 6 6.800-8.200h-3.200l3-4.800zM375 289.9l-5 7h3l-2.200 6 6.800-8.200h-3.200l3-4.800z"/><path fill="#19b4f2" d="M396.5 294.9l-5 7h3l-2.200 6 6.800-8.200h-3.200l3-4.800zM253 294l-5 7h3l-2.200 6 6.800-8.200h-3.200l3-4.800z"/><path fill="#ffff00" d="M426.2 289.5l-5 7h3l-2.200 6 6.800-8.200h-3.200l3-4.800zM398 289.3l-5 7h3l-2.200 6 6.800-8.200h-3.200l3-4.800z"/><path fill="#19b4f2" d="M260.7 290.3l-5 7h3l-2.200 6 6.800-8.200h-3.200l3-4.800z"/><path fill="#ffff00" d="M351.5 295.2l-5 7h3l-2.200 6 6.800-8.200h-3.200l3-4.800zM441.4 290.3l-5 7h3l-2.200 6 6.800-8.200h-3.200l3-4.800zM212.6 294.7l-5 7h3l-2.200 6 6.800-8.200h-3.200l3-4.800z"/><path fill="#f2701c" d="M275 288.8l-5 7h3l-2.200 6 6.800-8.200h-3.200l3-4.800z"/><path fill="#19b4f2" d="M225.1 295.4l-5 7h3l-2.200 6 6.800-8.200h-3.200l3-4.800z"/><path fill="#ffff00" d="M219.7 289.3l-5 7h3l-2.200 6 6.800-8.200h-3.200l3-4.800zM419.7 294.5l-5 7h3l-2.200 6 6.800-8.200h-3.200l3-4.800z"/><path fill="#e8140e" d="M150 290.2l-5 7h3l-2.200 6 6.800-8.200h-3.200l3-4.800z"/><path fill="#ffff00" d="M374.1 294.8l-5 7h3l-2.200 6 6.800-8.200h-3.200l3-4.800z"/><path fill="#19b4f2" d="M140.4 291l-5 7h3l-2.200 6 6.800-8.200h-3.200l3-4.800z"/><path fill="#ffff00" d="M437.7 295.8l-5 7h3l-2.200 6 6.800-8.200h-3.200l3-4.800z"/><path fill="#19b4f2" d="M276 295.2l-5 7h3l-2.200 6 6.800-8.200h-3.200l3-4.800z"/><path fill="#f2701c" d="M497.9 295.4l-5 7h3l-2.200 6 6.800-8.200h-3.200l3-4.800z"/><path fill="#19b4f2" d="M251.5 288.6l-5 7h3l-2.200 6 6.800-8.200h-3.200l3-4.800z"/><path fill="#ffff00" d="M567.4 293.1l-5 7h3l-2.200 6 6.800-8.200h-3.200l3-4.800zM500.4 291l-5 7h3l-2.200 6 6.800-8.200h-3.200l3-4.800zM460.4 294.2l-5 7h3l-2.200 6 6.800-8.200h-3.200l3-4.800z"/><path fill="#19b4f2" d="M201.7 289.9l-5 7h3l-2.200 6 6.800-8.200h-3.200l3-4.800z"/><path fill="#ffff00" d="M559.1 292l-5 7h3l-2.200 6 6.800-8.200h-3.200l3-4.800z"/><path fill="#e8140e" d="M153.2 293.8l-5 7h3l-2.200 6 6.800-8.200h-3.200l3-4.800z"/><path fill="#ffff00" d="M362.9 290.9l-5 7h3l-2.200 6 6.800-8.200h-3.200l3-4.800z"/><path fill="#e8140e" d="M446.1 294.6l-5 7h3l-2.200 6 6.800-8.200h-3.200l3-4.800z"/><path fill="#19b4f2" d="M190.1 294.4l-5 7h3l-2.200 6 6.800-8.200h-3.200l3-4.800z"/><path fill="#f2701c" d="M145.4 289.1l-5 7h3l-2.200 6 6.800-8.200h-3.200l3-4.800z"/><path fill="#8a1212" d="M412.9 290l-5 7h3l-2.200 6 6.800-8.200h-3.200l3-4.800z"/><path fill="#f2701c" d="M287.3 294.1l-5 7h3l-2.200 6 6.800-8.200h-3.200l3-4.800z"/><path fill="#19b4f2" d="M296.7 296l-5 7h3l-2.200 6 6.800-8.200h-3.200l3-4.800zM300.1 293.8l-5 7h3l-2.200 6 6.800-8.200h-3.200l3-4.800zM482.3 291l-5 7h3l-2.200 6 6.800-8.200h-3.200l3-4.800zM262.7 296.7l-5 7h3l-2.200 6 6.800-8.200h-3.200l3-4.800z"/><path fill="#ffff00" d="M292.1 296.5l-5 7h3l-2.200 6 6.800-8.200h-3.200l3-4.800zM445.3 289.7l-5 7h3l-2.200 6 6.800-8.200h-3.200l3-4.800zM430.6 290.4l-5 7h3l-2.200 6 6.800-8.200h-3.200l3-4.800z"/><path fill="#19b4f2" d="M223.8 289.7l-5 7h3l-2.200 6 6.800-8.200h-3.200l3-4.800z"/><path fill="#ffff00" d="M352.4 290.4l-5 7h3l-2.200 6 6.800-8.200h-3.200l3-4.800z"/><path fill="#e8140e" d="M149.6 295.5l-5 7h3l-2.200 6 6.800-8.200h-3.200l3-4.800z"/><path fill="#19b4f2" d="M409.6 296.3l-5 7h3l-2.200 6 6.800-8.200h-3.200l3-4.800zM247.3 290.6l-5 7h3l-2.200 6 6.800-8.200h-3.200l3-4.800z"/><path fill="#ffff00" d="M353.7 293.8l-5 7h3l-2.200 6 6.800-8.200h-3.200l3-4.800zM490.8 291l-5 7h3l-2.200 6 6.800-8.200h-3.200l3-4.800z"/><path fill="#f2701c" d="M569.9 293.1l-5 7h3l-2.200 6 6.800-8.200h-3.200l3-4.800z"/><path fill="#19b4f2" d="M207.6 295.2l-5 7h3l-2.200 6 6.800-8.200h-3.200l3-4.800z"/><path fill="#ffff00" d="M457.6 296.3l-5 7h3l-2.200 6 6.800-8.200h-3.200l3-4.800zM364.2 295.4l-5 7h3l-2.200 6 6.800-8.200h-3.200l3-4.800z"/><path fill="#f2701c" d="M284.5 290.4l-5 7h3l-2.200 6 6.800-8.200h-3.200l3-4.800z"/><path fill="#19b4f2" d="M193.9 296.1l-5 7h3l-2.200 6 6.800-8.200h-3.200l3-4.800z"/><path fill="#f2701c" d="M176.5 293.9l-5 7h3l-2.200 6 6.800-8.200h-3.200l3-4.800z"/><path fill="#ffff00" d="M401.1 294.5l-5 7h3l-2.200 6 6.800-8.200h-3.200l3-4.800zM378.7 295.6l-5 7h3l-2.200 6 6.800-8.200h-3.200l3-4.800zM341 294.4l-5 7h3l-2.200 6 6.800-8.200h-3.200l3-4.800zM370.6 291l-5 7h3l-2.200 6 6.800-8.200h-3.200l3-4.800z"/><path fill="#f2701c" d="M173.9 290.9l-5 7h3l-2.200 6 6.800-8.200h-3.200l3-4.800z"/><path fill="#ffff00" d="M313.2 294.6l-5 7h3l-2.200 6 6.800-8.200h-3.200l3-4.800z"/><path fill="#e8140e" d="M157.4 296.5l-5 7h3l-2.200 6 6.800-8.200h-3.200l3-4.800z"/><path fill="#f2701c" d="M566 296.7l-5 7h3l-2.200 6 6.800-8.200h-3.200l3-4.800zM561.4 296.1l-5 7h3l-2.200 6 6.800-8.200h-3.200l3-4.800zM516.1 293l-5 7h3l-2.200 6 6.800-8.200h-3.200l3-4.800zM170 294.8l-5 7h3l-2.200 6 6.800-8.200h-3.200l3-4.800z"/><path fill="#ffff00" d="M331.1 294.2l-5 7h3l-2.200 6 6.800-8.200h-3.200l3-4.800zM487.1 294.4l-5 7h3l-2.200 6 6.800-8.200h-3.200l3-4.800z"/><path fill="#e8140e" d="M517.4 293.5l-5 7h3l-2.200 6 6.800-8.200h-3.200l3-4.800z"/><path fill="#ffff00" d="M567.4 297.9l-5 7h3l-2.200 6 6.800-8.200h-3.200l3-4.800z"/><path fill="#e8140e" d="M514.5 298.4l-5 7h3l-2.200 6 6.800-8.200h-3.200l3-4.800z"/><path fill="#f2701c" d="M558.2 293.8l-5 7h3l-2.200 6 6.800-8.200h-3.200l3-4.800z"/><path fill="#19b4f2" d="M229.7 294.7l-5 7h3l-2.200 6 6.800-8.200h-3.200l3-4.800z"/><path fill="#ffff00" d="M326.5 293.8l-5 7h3l-2.200 6 6.800-8.200h-3.200l3-4.800z"/><path fill="#19b4f2" d="M484.5 293.9l-5 7h3l-2.200 6 6.800-8.200h-3.200l3-4.800z"/><path fill="#e8140e" d="M271.1 294.1l-5 7h3l-2.200 6 6.800-8.200h-3.200l3-4.800z"/><path fill="#ffff00" d="M406.1 295.2l-5 7h3l-2.200 6 6.800-8.200h-3.200l3-4.800z"/><path fill="#19b4f2" d="M244.3 296.6l-5 7h3l-2.200 6 6.800-8.200h-3.200l3-4.800zM267.7 295.6l-5 7h3l-2.200 6 6.800-8.200h-3.200l3-4.800z"/><path fill="#ffff00" d="M224.3 299.5l-5 7h3l-2.200 6 6.800-8.200h-3.200l3-4.800zM165.2 294.5l-5 7h3l-2.200 6 6.800-8.200h-3.200l3-4.800z"/><path fill="#f2701c" d="M184.6 294.6l-5 7h3l-2.200 6 6.800-8.200h-3.200l3-4.800z"/><path fill="#e8140e" d="M509.2 297l-5 7h3l-2.200 6 6.800-8.200h-3.200l3-4.800z"/><path fill="#ffff00" d="M493.2 294.8l-5 7h3l-2.200 6 6.800-8.200h-3.200l3-4.800z"/><path fill="#e8140e" d="M344.5 295.9l-5 7h3l-2.200 6 6.800-8.200h-3.200l3-4.800zM519.4 300.1l-5 7h3l-2.200 6 6.800-8.200h-3.200l3-4.800z"/><path fill="#ffff00" d="M473.1 300.1l-5 7h3l-2.200 6 6.800-8.200h-3.200l3-4.800zM434.2 300.4l-5 7h3l-2.200 6 6.800-8.200h-3.200l3-4.800z"/><path fill="#e8140e" d="M337.7 296.5l-5 7h3l-2.200 6 6.800-8.200h-3.200l3-4.800z"/><path fill="#ffff00" d="M429.7 295.4l-5 7h3l-2.200 6 6.800-8.200h-3.200l3-4.800z"/><path fill="#19b4f2" d="M281 295.1l-5 7h3l-2.200 6 6.800-8.200h-3.200l3-4.800z"/><path fill="#ffff00" d="M434.5 296.2l-5 7h3l-2.200 6 6.800-8.200h-3.200l3-4.800zM425.2 296.1l-5 7h3l-2.200 6 6.800-8.200h-3.200l3-4.800zM312.7 299.8l-5 7h3l-2.200 6 6.800-8.200h-3.200l3-4.800z"/><path fill="#19b4f2" d="M204.8 296.4l-5 7h3l-2.200 6 6.800-8.200h-3.200l3-4.800z"/><path fill="#f2701c" d="M594.5 300l-5 7h3l-2.200 6 6.800-8.200h-3.200l3-4.800z"/><path fill="#ffff00" d="M360.4 294.8l-5 7h3l-2.200 6 6.800-8.200h-3.200l3-4.800z"/><path fill="#f2701c" d="M510.8 296.5l-5 7h3l-2.200 6 6.800-8.200h-3.200l3-4.800z"/><path fill="#19b4f2" d="M210.4 299.6l-5 7h3l-2.200 6 6.800-8.200h-3.200l3-4.800z"/><path fill="#ffff00" d="M179.2 296.3l-5 7h3l-2.200 6 6.800-8.200h-3.200l3-4.800zM605.5 296l-5 7h3l-2.200 6 6.800-8.200h-3.200l3-4.800z"/><path fill="#19b4f2" d="M240.5 296.3l-5 7h3l-2.200 6 6.800-8.200h-3.200l3-4.800z"/><path fill="#f2701c" d="M415.1 295.6l-5 7h3l-2.200 6 6.800-8.200h-3.200l3-4.800z"/><path fill="#ffff00" d="M468.8 295.1l-5 7h3l-2.200 6 6.800-8.200h-3.200l3-4.800z"/><path fill="#f2701c" d="M402.3 300.1l-5 7h3l-2.200 6 6.800-8.200h-3.200l3-4.800z"/><path fill="#ffff00" d="M368 294.1l-5 7h3l-2.200 6 6.800-8.200h-3.200l3-4.800zM588.5 294l-5 7h3l-2.200 6 6.800-8.200h-3.200l3-4.800zM504 299.6l-5 7h3l-2.200 6 6.800-8.200h-3.200l3-4.800zM323 295.9l-5 7h3l-2.200 6 6.800-8.200h-3.200l3-4.800zM381.8 294.8l-5 7h3l-2.200 6 6.800-8.200h-3.200l3-4.800zM199.1 296.4l-5 7h3l-2.200 6 6.800-8.200h-3.200l3-4.800z"/><path fill="#e8140e" d="M159.4 300.1l-5 7h3l-2.200 6 6.800-8.200h-3.200l3-4.800z"/><path fill="#ffff00" d="M161.4 293.8l-5 7h3l-2.200 6 6.800-8.200h-3.200l3-4.800zM508 295.9l-5 7h3l-2.200 6 6.800-8.200h-3.200l3-4.800z"/><path fill="#f2701c" d="M170.1 299.4l-5 7h3l-2.200 6 6.800-8.200h-3.200l3-4.800z"/><path fill="#19b4f2" d="M391.8 295.1l-5 7h3l-2.200 6 6.800-8.200h-3.200l3-4.800z"/><path fill="#ffff00" d="M474.6 296.6l-5 7h3l-2.200 6 6.800-8.200h-3.200l3-4.800z"/><path fill="#19b4f2" d="M292.2 299.5l-5 7h3l-2.200 6 6.800-8.200h-3.200l3-4.800z"/><path fill="#f2701c" d="M193.2 301.6l-5 7h3l-2.200 6 6.800-8.200h-3.200l3-4.800z"/><path fill="#ffff00" d="M416.8 302.2l-5 7h3l-2.200 6 6.800-8.200h-3.200l3-4.800z"/><path fill="#e8140e" d="M142.1 295.3l-5 7h3l-2.200 6 6.800-8.200h-3.200l3-4.800z"/><path fill="#ffff00" d="M508 298.6l-5 7h3l-2.200 6 6.800-8.200h-3.200l3-4.800z"/><path fill="#19b4f2" d="M236.6 294.5l-5 7h3l-2.200 6 6.800-8.200h-3.200l3-4.800z"/><path fill="#ffff00" d="M452.1 296l-5 7h3l-2.200 6 6.800-8.200h-3.200l3-4.800z"/><path fill="#f2701c" d="M399.7 299.9l-5 7h3l-2.200 6 6.800-8.200h-3.200l3-4.800z"/><path fill="#ffff00" d="M217.7 295.5l-5 7h3l-2.200 6 6.800-8.200h-3.200l3-4.800z"/><path fill="#19b4f2" d="M228.5 300.7l-5 7h3l-2.200 6 6.800-8.200h-3.200l3-4.800z"/><path fill="#ffff00" d="M560.5 298.6l-5 7h3l-2.200 6 6.800-8.200h-3.200l3-4.800zM394.6 301.4l-5 7h3l-2.200 6 6.800-8.200h-3.200l3-4.800zM508.8 299.2l-5 7h3l-2.200 6 6.800-8.200h-3.200l3-4.800z"/><path fill="#19b4f2" d="M233.9 300.5l-5 7h3l-2.200 6 6.800-8.200h-3.200l3-4.800zM285 302.3l-5 7h3l-2.200 6 6.800-8.200h-3.200l3-4.800zM139.5 295.9l-5 7h3l-2.200 6 6.800-8.200h-3.200l3-4.800z"/><path fill="#f2701c" d="M388.1 296.3l-5 7h3l-2.200 6 6.800-8.200h-3.200l3-4.800z"/><path fill="#19b4f2" d="M206.8 301.5l-5 7h3l-2.200 6 6.800-8.200h-3.200l3-4.800z"/><path fill="#ffff00" d="M371.1 301.8l-5 7h3l-2.200 6 6.800-8.200h-3.200l3-4.800zM480.6 300.6l-5 7h3l-2.200 6 6.800-8.200h-3.200l3-4.800zM448.7 302.1l-5 7h3l-2.200 6 6.800-8.200h-3.200l3-4.800zM389.6 302.1l-5 7h3l-2.200 6 6.800-8.200h-3.200l3-4.800zM567.6 299.4l-5 7h3l-2.200 6 6.800-8.200h-3.200l3-4.800zM462.2 301.7l-5 7h3l-2.200 6 6.800-8.200h-3.200l3-4.800zM518.2 296.6l-5 7h3l-2.200 6 6.800-8.200h-3.200l3-4.800zM309.7 296.3l-5 7h3l-2.200 6 6.800-8.200h-3.200l3-4.800z"/><path fill="#f2701c" d="M508.7 296.4l-5 7h3l-2.200 6 6.800-8.200h-3.200l3-4.800z"/><path fill="#19b4f2" d="M258.1 296.1l-5 7h3l-2.200 6 6.800-8.200h-3.200l3-4.800z"/><path fill="#ffff00" d="M442.2 295.8l-5 7h3l-2.200 6 6.800-8.200h-3.200l3-4.800zM368 301.7l-5 7h3l-2.200 6 6.800-8.200h-3.200l3-4.800zM141.9 300.7l-5 7h3l-2.200 6 6.800-8.200h-3.200l3-4.800zM220.9 296.1l-5 7h3l-2.200 6 6.800-8.200h-3.200l3-4.800zM407.6 301l-5 7h3l-2.200 6 6.800-8.200h-3.200l3-4.800zM425.8 300.1l-5 7h3l-2.200 6 6.800-8.200h-3.200l3-4.800z"/><path fill="#19b4f2" d="M200.1 301.9l-5 7h3l-2.200 6 6.800-8.200h-3.200l3-4.800z"/><path fill="#ffff00" d="M555 302.8l-5 7h3l-2.200 6 6.800-8.200h-3.200l3-4.800z"/><path fill="#19b4f2" d="M260.3 301.5l-5 7h3l-2.200 6 6.800-8.200h-3.200l3-4.800z"/><path fill="#ffff00" d="M321.4 301.6l-5 7h3l-2.200 6 6.800-8.200h-3.200l3-4.800zM466.3 295.9l-5 7h3l-2.200 6 6.800-8.200h-3.200l3-4.800zM353.5 301l-5 7h3l-2.200 6 6.800-8.200h-3.200l3-4.800zM453.1 299.9l-5 7h3l-2.200 6 6.800-8.200h-3.200l3-4.800zM492.2 301.2l-5 7h3l-2.200 6 6.800-8.200h-3.200l3-4.800zM485.2 300.7l-5 7h3l-2.200 6 6.800-8.200h-3.200l3-4.800z"/><path fill="#e8140e" d="M567.9 300.7l-5 7h3l-2.200 6 6.800-8.200h-3.200l3-4.800z"/><path fill="#ffff00" d="M478.2 296.5l-5 7h3l-2.200 6 6.800-8.200h-3.200l3-4.800z"/><path fill="#19b4f2" d="M220.4 299.8l-5 7h3l-2.200 6 6.800-8.200h-3.200l3-4.800z"/><path fill="#ffff00" d="M645.5 302l-5 7h3l-2.200 6 6.800-8.200h-3.200l3-4.800zM568.9 298.7l-5 7h3l-2.200 6 6.800-8.200h-3.200l3-4.800zM602.5 303l-5 7h3l-2.200 6 6.800-8.200h-3.200l3-4.800zM466.8 300.4l-5 7h3l-2.200 6 6.800-8.200h-3.200l3-4.800zM386.1 300.4l-5 7h3l-2.200 6 6.800-8.200h-3.200l3-4.800z"/><path fill="#f2701c" d="M569.1 296.8l-5 7h3l-2.200 6 6.800-8.200h-3.200l3-4.800z"/><path fill="#ffff00" d="M557.5 300.8l-5 7h3l-2.200 6 6.800-8.200h-3.200l3-4.800z"/><path fill="#f2701c" d="M214.5 299.8l-5 7h3l-2.200 6 6.800-8.200h-3.200l3-4.800z"/><path fill="#ffff00" d="M339.7 301.7l-5 7h3l-2.200 6 6.800-8.200h-3.200l3-4.800z"/><path fill="#19b4f2" d="M197.3 299.7l-5 7h3l-2.200 6 6.800-8.200h-3.200l3-4.800zM347.2 301.4l-5 7h3l-2.200 6 6.800-8.200h-3.200l3-4.800z"/><path fill="#ffff00" d="M361.8 300.4l-5 7h3l-2.200 6 6.800-8.200h-3.200l3-4.800zM334.8 301.6l-5 7h3l-2.200 6 6.800-8.200h-3.200l3-4.800zM611.5 300l-5 7h3l-2.200 6 6.800-8.200h-3.200l3-4.800zM182.3 302.2l-5 7h3l-2.200 6 6.800-8.200h-3.200l3-4.800zM379.1 299.4l-5 7h3l-2.200 6 6.800-8.200h-3.200l3-4.800z"/><path fill="#e8140e" d="M440.4 299.9l-5 7h3l-2.200 6 6.800-8.200h-3.200l3-4.800z"/><path fill="#ffff00" d="M374.8 300.2l-5 7h3l-2.200 6 6.800-8.200h-3.200l3-4.800z"/><path fill="#19b4f2" d="M242 301.9l-5 7h3l-2.200 6 6.800-8.200h-3.200l3-4.800z"/><path fill="#f2701c" d="M187.7 300.1l-5 7h3l-2.200 6 6.800-8.200h-3.200l3-4.800z"/><path fill="#ffff00" d="M329.7 302.1l-5 7h3l-2.200 6 6.800-8.200h-3.200l3-4.800zM147.2 301.2l-5 7h3l-2.200 6 6.800-8.200h-3.200l3-4.800zM563.5 298.7l-5 7h3l-2.200 6 6.800-8.200h-3.200l3-4.800zM324.3 301.6l-5 7h3l-2.200 6 6.800-8.200h-3.200l3-4.800z"/><path fill="#19b4f2" d="M274.7 301.6l-5 7h3l-2.200 6 6.800-8.200h-3.200l3-4.800zM287.3 301.8l-5 7h3l-2.200 6 6.800-8.200h-3.200l3-4.800zM253.1 300.1l-5 7h3l-2.200 6 6.800-8.200h-3.200l3-4.800z"/><path fill="#ffff00" d="M422.2 299.8l-5 7h3l-2.200 6 6.800-8.200h-3.200l3-4.800zM317.2 299.8l-5 7h3l-2.200 6 6.800-8.200h-3.200l3-4.800z"/><path fill="#f2701c" d="M563.4 303.2l-5 7h3l-2.200 6 6.800-8.200h-3.200l3-4.800z"/><path fill="#19b4f2" d="M298.9 305.6l-5 7h3l-2.200 6 6.800-8.200h-3.200l3-4.800zM257.4 300.1l-5 7h3l-2.200 6 6.800-8.200h-3.200l3-4.800zM237.2 300.4l-5 7h3l-2.200 6 6.800-8.200h-3.200l3-4.800z"/><path fill="#ffff00" d="M135.7 305.5l-5 7h3l-2.200 6 6.800-8.200h-3.200l3-4.800z"/><path fill="#19b4f2" d="M266.1 301.4l-5 7h3l-2.200 6 6.800-8.200h-3.200l3-4.800z"/><path fill="#ffff00" d="M357 300.5l-5 7h3l-2.200 6 6.800-8.200h-3.200l3-4.800zM430.3 301.3l-5 7h3l-2.200 6 6.800-8.200h-3.200l3-4.800z"/><path fill="#f2701c" d="M193.4 306.5l-5 7h3l-2.200 6 6.800-8.200h-3.200l3-4.800z"/><path fill="#ffff00" d="M554.5 302.6l-5 7h3l-2.200 6 6.800-8.200h-3.200l3-4.800z"/><path fill="#19b4f2" d="M246.2 301.1l-5 7h3l-2.200 6 6.800-8.200h-3.200l3-4.800z"/><path fill="#e8140e" d="M226.3 305l-5 7h3l-2.200 6 6.800-8.200h-3.200l3-4.800z"/><path fill="#f2701c" d="M627.5 303l-5 7h3l-2.200 6 6.800-8.200h-3.200l3-4.800z"/><path fill="#ffff00" d="M476.2 299.4l-5 7h3l-2.200 6 6.800-8.200h-3.200l3-4.800z"/><path fill="#19b4f2" d="M280.9 306.3l-5 7h3l-2.200 6 6.800-8.200h-3.200l3-4.800z"/><path fill="#ffff00" d="M304.8 305.1l-5 7h3l-2.200 6 6.800-8.200h-3.200l3-4.800zM425.2 305.1l-5 7h3l-2.200 6 6.800-8.200h-3.200l3-4.800zM166.1 306.1l-5 7h3l-2.200 6 6.800-8.200h-3.200l3-4.800z"/><path fill="#19b4f2" d="M345 300.3l-5 7h3l-2.200 6 6.800-8.200h-3.200l3-4.800z"/><path fill="#ffff00" d="M360 305.9l-5 7h3l-2.200 6 6.800-8.200h-3.200l3-4.800z"/><path fill="#19b4f2" d="M278.8 300.4l-5 7h3l-2.200 6 6.800-8.200h-3.200l3-4.800z"/><path fill="#ffff00" d="M568.5 305.4l-5 7h3l-2.200 6 6.800-8.200h-3.200l3-4.800z"/><path fill="#f2701c" d="M571.1 303l-5 7h3l-2.200 6 6.800-8.200h-3.200l3-4.800z"/><path fill="#ffff00" d="M176.1 305.9l-5 7h3l-2.200 6 6.800-8.200h-3.200l3-4.800zM368.9 305.1l-5 7h3l-2.200 6 6.800-8.200h-3.200l3-4.800zM178.2 301l-5 7h3l-2.200 6 6.800-8.200h-3.200l3-4.800z"/><path fill="#f2701c" d="M566 303.5l-5 7h3l-2.200 6 6.800-8.200h-3.200l3-4.800z"/><path fill="#19b4f2" d="M445.3 301.8l-5 7h3l-2.200 6 6.800-8.200h-3.200l3-4.800z"/><path fill="#ffff00" d="M137.7 301l-5 7h3l-2.200 6 6.800-8.200h-3.200l3-4.800zM170.8 306.6l-5 7h3l-2.200 6 6.800-8.200h-3.200l3-4.800z"/><path fill="#19b4f2" d="M296.7 305.2l-5 7h3l-2.200 6 6.800-8.200h-3.200l3-4.800z"/><path fill="#e8140e" d="M165.4 300.3l-5 7h3l-2.200 6 6.800-8.200h-3.200l3-4.800z"/><path fill="#ffff00" d="M393.1 305.9l-5 7h3l-2.200 6 6.800-8.200h-3.200l3-4.800z"/><path fill="#19b4f2" d="M301.9 300.3l-5 7h3l-2.200 6 6.800-8.200h-3.200l3-4.800z"/><path fill="#ffff00" d="M154.8 302.1l-5 7h3l-2.200 6 6.800-8.200h-3.200l3-4.800z"/><path fill="#19b4f2" d="M202.7 306.4l-5 7h3l-2.200 6 6.800-8.200h-3.200l3-4.800zM297.2 301.8l-5 7h3l-2.200 6 6.800-8.200h-3.200l3-4.800z"/><path fill="#f2701c" d="M173 300.8l-5 7h3l-2.200 6 6.800-8.200h-3.200l3-4.800z"/><path fill="#19b4f2" d="M156.3 307l-5 7h3l-2.200 6 6.800-8.200h-3.200l3-4.800z"/><path fill="#ffff00" d="M152 306.2l-5 7h3l-2.200 6 6.800-8.200h-3.200l3-4.800z"/><path fill="#19b4f2" d="M337.6 306.3l-5 7h3l-2.200 6 6.800-8.200h-3.200l3-4.800z"/><path fill="#ffff00" d="M151.6 300.7l-5 7h3l-2.200 6 6.800-8.200h-3.200l3-4.800zM395.4 307.8l-5 7h3l-2.200 6 6.800-8.200h-3.200l3-4.800z"/><path fill="#e8140e" d="M269.7 301.5l-5 7h3l-2.200 6 6.800-8.200h-3.200l3-4.800z"/><path fill="#8a1212" d="M401.9 305.4l-5 7h3l-2.200 6 6.800-8.200h-3.200l3-4.800z"/><path fill="#ffff00" d="M413.5 306.9l-5 7h3l-2.200 6 6.800-8.200h-3.200l3-4.800zM322.4 306.5l-5 7h3l-2.200 6 6.800-8.200h-3.200l3-4.800zM458.2 302.1l-5 7h3l-2.200 6 6.800-8.200h-3.200l3-4.800z"/><path fill="#8a1212" d="M406.2 307.8l-5 7h3l-2.200 6 6.800-8.200h-3.200l3-4.800z"/><path fill="#19b4f2" d="M308.6 306.6l-5 7h3l-2.200 6 6.800-8.200h-3.200l3-4.800z"/><path fill="#ffff00" d="M183.5 304.9l-5 7h3l-2.200 6 6.800-8.200h-3.200l3-4.800zM411.8 301.6l-5 7h3l-2.200 6 6.800-8.200h-3.200l3-4.800z"/><path fill="#f2701c" d="M568.7 308.7l-5 7h3l-2.200 6 6.800-8.200h-3.200l3-4.800z"/><path fill="#19b4f2" d="M342.7 307.3l-5 7h3l-2.200 6 6.800-8.200h-3.200l3-4.800zM232 307.6l-5 7h3l-2.200 6 6.800-8.200h-3.200l3-4.800z"/><path fill="#ffff00" d="M409.4 307.5l-5 7h3l-2.200 6 6.800-8.200h-3.200l3-4.800zM427.3 304.9l-5 7h3l-2.200 6 6.800-8.200h-3.200l3-4.800zM387.7 305.6l-5 7h3l-2.200 6 6.800-8.200h-3.200l3-4.800z"/><path fill="#8a1212" d="M436.6 307.4l-5 7h3l-2.200 6 6.800-8.200h-3.200l3-4.800z"/><path fill="#ffff00" d="M495.3 308.6l-5 7h3l-2.200 6 6.800-8.200h-3.200l3-4.800z"/><path fill="#19b4f2" d="M289.9 307.3l-5 7h3l-2.200 6 6.800-8.200h-3.200l3-4.800z"/><path fill="#ffff00" d="M442.3 306.3l-5 7h3l-2.200 6 6.800-8.200h-3.200l3-4.800zM561.7 308.3l-5 7h3l-2.200 6 6.800-8.200h-3.200l3-4.800z"/><path fill="#19b4f2" d="M240.2 306.2l-5 7h3l-2.200 6 6.800-8.200h-3.200l3-4.800zM264.4 307.4l-5 7h3l-2.200 6 6.800-8.200h-3.200l3-4.800z"/><path fill="#ffff00" d="M270.8 307.7l-5 7h3l-2.200 6 6.800-8.200h-3.200l3-4.800z"/><path fill="#f2701c" d="M198.5 306.3l-5 7h3l-2.200 6 6.800-8.200h-3.200l3-4.800z"/><path fill="#ffff00" d="M147.2 305.1l-5 7h3l-2.200 6 6.800-8.200h-3.200l3-4.800zM329 306l-5 7h3l-2.200 6 6.800-8.200h-3.200l3-4.800z"/><path fill="#19b4f2" d="M259.5 305.5l-5 7h3l-2.200 6 6.800-8.200h-3.200l3-4.800z"/><path fill="#ffff00" d="M139.8 305.6l-5 7h3l-2.200 6 6.800-8.200h-3.200l3-4.800z"/><path fill="#19b4f2" d="M207.3 305.7l-5 7h3l-2.200 6 6.800-8.200h-3.200l3-4.800z"/><path fill="#ffff00" d="M381 311.2l-5 7h3l-2.200 6 6.800-8.200h-3.200l3-4.800zM419.7 305l-5 7h3l-2.200 6 6.800-8.200h-3.200l3-4.800z"/><path fill="#e8140e" d="M443.9 311.4l-5 7h3l-2.200 6 6.800-8.200h-3.200l3-4.800z"/><path fill="#ffff00" d="M559 303.7l-5 7h3l-2.200 6 6.800-8.200h-3.200l3-4.800zM422.6 311l-5 7h3l-2.200 6 6.800-8.200h-3.200l3-4.800zM181.3 306l-5 7h3l-2.200 6 6.800-8.200h-3.200l3-4.800z"/><path fill="#19b4f2" d="M254.5 307.1l-5 7h3l-2.200 6 6.800-8.200h-3.200l3-4.800z"/><path fill="#ffff00" d="M484.2 305l-5 7h3l-2.200 6 6.800-8.200h-3.200l3-4.800zM127.7 311.7l-5 7h3l-2.200 6 6.800-8.200h-3.200l3-4.800zM365.3 307.3l-5 7h3l-2.200 6 6.800-8.200h-3.200l3-4.800zM162.3 307.8l-5 7h3l-2.200 6 6.800-8.200h-3.200l3-4.800zM384.2 306.9l-5 7h3l-2.200 6 6.800-8.200h-3.200l3-4.800z"/><path fill="#19b4f2" d="M261 310.7l-5 7h3l-2.200 6 6.800-8.200h-3.200l3-4.800z"/><path fill="#ffff00" d="M319.8 311.2l-5 7h3l-2.200 6 6.800-8.200h-3.200l3-4.800zM326.2 311.7l-5 7h3l-2.200 6 6.800-8.200h-3.200l3-4.800z"/><path fill="#19b4f2" d="M250.1 310.8l-5 7h3l-2.200 6 6.800-8.200h-3.200l3-4.800zM350.4 306.8l-5 7h3l-2.200 6 6.800-8.200h-3.200l3-4.800zM211.2 306.8l-5 7h3l-2.200 6 6.800-8.200h-3.200l3-4.800z"/><path fill="#ffff00" d="M617.5 306l-5 7h3l-2.200 6 6.800-8.200h-3.200l3-4.800zM363 311l-5 7h3l-2.200 6 6.800-8.200h-3.200l3-4.800z"/><path fill="#19b4f2" d="M288.6 310.8l-5 7h3l-2.200 6 6.800-8.200h-3.200l3-4.800z"/><path fill="#ffff00" d="M479.8 305.8l-5 7h3l-2.200 6 6.800-8.200h-3.200l3-4.800z"/><path fill="#19b4f2" d="M244.8 306.2l-5 7h3l-2.200 6 6.800-8.200h-3.200l3-4.800z"/><path fill="#ffff00" d="M494.5 311.5l-5 7h3l-2.200 6 6.800-8.200h-3.200l3-4.800zM215.4 312.7l-5 7h3l-2.200 6 6.800-8.200h-3.200l3-4.800zM499.5 310.5l-5 7h3l-2.200 6 6.800-8.200h-3.200l3-4.800z"/><path fill="#f2701c" d="M191.1 310.5l-5 7h3l-2.200 6 6.800-8.200h-3.200l3-4.800z"/><path fill="#19b4f2" d="M349 311.3l-5 7h3l-2.200 6 6.800-8.200h-3.200l3-4.800z"/><path fill="#ffff00" d="M318.5 307.6l-5 7h3l-2.200 6 6.800-8.200h-3.200l3-4.800z"/><path fill="#19b4f2" d="M352.7 311.3l-5 7h3l-2.200 6 6.800-8.200h-3.200l3-4.800zM276.9 307.5l-5 7h3l-2.200 6 6.800-8.200h-3.200l3-4.800z"/><path fill="#ffff00" d="M334.4 311.8l-5 7h3l-2.200 6 6.800-8.200h-3.200l3-4.800zM416.1 311.7l-5 7h3l-2.200 6 6.800-8.200h-3.200l3-4.800z"/><path fill="#19b4f2" d="M285.3 305.8l-5 7h3l-2.200 6 6.800-8.200h-3.200l3-4.800z"/><path fill="#ffff00" d="M373.5 305.7l-5 7h3l-2.200 6 6.800-8.200h-3.200l3-4.800z"/><path fill="#19b4f2" d="M234.2 307.3l-5 7h3l-2.200 6 6.800-8.200h-3.200l3-4.800zM378.8 307.8l-5 7h3l-2.200 6 6.800-8.200h-3.200l3-4.800z"/><path fill="#ffff00" d="M144.4 307.8l-5 7h3l-2.200 6 6.800-8.200h-3.200l3-4.800zM268.8 305.8l-5 7h3l-2.200 6 6.800-8.200h-3.200l3-4.800zM355.8 307.6l-5 7h3l-2.200 6 6.800-8.200h-3.200l3-4.800z"/><path fill="#f2701c" d="M195.7 311.1l-5 7h3l-2.200 6 6.800-8.200h-3.200l3-4.800z"/><path fill="#ffff00" d="M573.4 308.8l-5 7h3l-2.200 6 6.800-8.200h-3.200l3-4.800zM495.7 311.1l-5 7h3l-2.200 6 6.800-8.200h-3.200l3-4.800z"/><path fill="#f2701c" d="M188.4 307.8l-5 7h3l-2.200 6 6.800-8.200h-3.200l3-4.800z"/><path fill="#19b4f2" d="M269.2 312.4l-5 7h3l-2.200 6 6.800-8.200h-3.200l3-4.800z"/><path fill="#ffff00" d="M412.2 310.7l-5 7h3l-2.200 6 6.800-8.200h-3.200l3-4.800z"/><path fill="#19b4f2" d="M200.3 313.3l-5 7h3l-2.200 6 6.800-8.200h-3.200l3-4.800z"/><path fill="#ffff00" d="M165.7 313.4l-5 7h3l-2.200 6 6.800-8.200h-3.200l3-4.800zM476.6 313.5l-5 7h3l-2.200 6 6.800-8.200h-3.200l3-4.800zM371.7 312.4l-5 7h3l-2.200 6 6.800-8.200h-3.200l3-4.800z"/><path fill="#8a1212" d="M394.7 312l-5 7h3l-2.200 6 6.800-8.200h-3.200l3-4.800z"/><path fill="#19b4f2" d="M249.8 306.9l-5 7h3l-2.200 6 6.800-8.200h-3.200l3-4.800zM221.6 307.1l-5 7h3l-2.200 6 6.800-8.200h-3.200l3-4.800z"/><path fill="#8a1212" d="M433.6 306.7l-5 7h3l-2.200 6 6.800-8.200h-3.200l3-4.800z"/><path fill="#19b4f2" d="M216.4 307.3l-5 7h3l-2.200 6 6.800-8.200h-3.200l3-4.800zM346.5 306.9l-5 7h3l-2.200 6 6.800-8.200h-3.200l3-4.800zM232.7 311.8l-5 7h3l-2.200 6 6.800-8.200h-3.200l3-4.800z"/><path fill="#ffff00" d="M188.2 311l-5 7h3l-2.200 6 6.800-8.200h-3.200l3-4.800zM402.3 312.4l-5 7h3l-2.200 6 6.800-8.200h-3.200l3-4.800zM137.4 310.8l-5 7h3l-2.200 6 6.800-8.200h-3.200l3-4.800zM172.8 310.8l-5 7h3l-2.200 6 6.800-8.200h-3.200l3-4.800zM432 310.6l-5 7h3l-2.200 6 6.800-8.200h-3.200l3-4.800z"/><path fill="#19b4f2" d="M312.6 312.1l-5 7h3l-2.200 6 6.800-8.200h-3.200l3-4.800zM345 311.1l-5 7h3l-2.200 6 6.800-8.200h-3.200l3-4.800z"/><path fill="#ffff00" d="M132 311.9l-5 7h3l-2.200 6 6.800-8.200h-3.200l3-4.800zM145.9 312.9l-5 7h3l-2.200 6 6.800-8.200h-3.200l3-4.800zM330.8 307.7l-5 7h3l-2.200 6 6.800-8.200h-3.200l3-4.800z"/><path fill="#19b4f2" d="M265.7 312.7l-5 7h3l-2.200 6 6.800-8.200h-3.200l3-4.800zM303.4 312l-5 7h3l-2.200 6 6.800-8.200h-3.200l3-4.800z"/><path fill="#ffff00" d="M492.9 313.4l-5 7h3l-2.200 6 6.800-8.200h-3.200l3-4.800zM177.6 310.7l-5 7h3l-2.200 6 6.800-8.200h-3.200l3-4.800zM167.9 311.3l-5 7h3l-2.200 6 6.800-8.200h-3.200l3-4.800zM388.5 312.2l-5 7h3l-2.200 6 6.800-8.200h-3.200l3-4.800zM425 312.5l-5 7h3l-2.200 6 6.800-8.200h-3.200l3-4.800z"/><path fill="#19b4f2" d="M209.9 313.2l-5 7h3l-2.200 6 6.800-8.200h-3.200l3-4.800z"/><path fill="#e8140e" d="M441.6 312.8l-5 7h3l-2.200 6 6.800-8.200h-3.200l3-4.800z"/><path fill="#19b4f2" d="M257.1 311.5l-5 7h3l-2.200 6 6.800-8.200h-3.200l3-4.800zM306.2 311.6l-5 7h3l-2.200 6 6.800-8.200h-3.200l3-4.800zM228.9 311.9l-5 7h3l-2.200 6 6.800-8.200h-3.200l3-4.800z"/><path fill="#ffff00" d="M177.2 316.3l-5 7h3l-2.200 6 6.800-8.200h-3.200l3-4.800z"/><path fill="#19b4f2" d="M271.6 316.2l-5 7h3l-2.200 6 6.800-8.200h-3.200l3-4.800zM247.6 310.7l-5 7h3l-2.200 6 6.800-8.200h-3.200l3-4.800z"/><path fill="#ffff00" d="M147.8 316.3l-5 7h3l-2.200 6 6.800-8.200h-3.200l3-4.800z"/><path fill="#19b4f2" d="M205.7 312.8l-5 7h3l-2.200 6 6.800-8.200h-3.200l3-4.800z"/><path fill="#ffff00" d="M153.6 310.9l-5 7h3l-2.200 6 6.800-8.200h-3.200l3-4.800zM142.5 316.7l-5 7h3l-2.200 6 6.800-8.200h-3.200l3-4.800z"/><path fill="#19b4f2" d="M375.9 311.5l-5 7h3l-2.200 6 6.800-8.200h-3.200l3-4.800z"/><path fill="#ffff00" d="M406.9 311.1l-5 7h3l-2.200 6 6.800-8.200h-3.200l3-4.800z"/><path fill="#8a1212" d="M400.1 311.1l-5 7h3l-2.200 6 6.800-8.200h-3.200l3-4.800z"/><path fill="#ffff00" d="M437.1 313.5l-5 7h3l-2.200 6 6.800-8.200h-3.200l3-4.800z"/><path fill="#19b4f2" d="M274.5 310.8l-5 7h3l-2.200 6 6.800-8.200h-3.200l3-4.800zM236.6 313.1l-5 7h3l-2.200 6 6.800-8.200h-3.200l3-4.800z"/><path fill="#ffff00" d="M386.4 310.7l-5 7h3l-2.200 6 6.800-8.200h-3.200l3-4.800zM482.5 317.3l-5 7h3l-2.200 6 6.800-8.200h-3.200l3-4.800zM476.4 315.3l-5 7h3l-2.200 6 6.800-8.200h-3.200l3-4.800z"/><path fill="#19b4f2" d="M219.4 313.4l-5 7h3l-2.200 6 6.800-8.200h-3.200l3-4.800z"/><path fill="#ffff00" d="M366.1 312.5l-5 7h3l-2.200 6 6.800-8.200h-3.200l3-4.800z"/><path fill="#f2701c" d="M494.1 314.3l-5 7h3l-2.200 6 6.800-8.200h-3.200l3-4.800z"/><path fill="#19b4f2" d="M277.8 311.6l-5 7h3l-2.200 6 6.800-8.200h-3.200l3-4.800zM297.7 311.9l-5 7h3l-2.200 6 6.800-8.200h-3.200l3-4.800z"/><path fill="#ffff00" d="M316 310.8l-5 7h3l-2.200 6 6.800-8.200h-3.200l3-4.800zM359.7 316.4l-5 7h3l-2.200 6 6.800-8.200h-3.200l3-4.800zM140.7 312.1l-5 7h3l-2.200 6 6.800-8.200h-3.200l3-4.800z"/><path fill="#19b4f2" d="M305.9 318.4l-5 7h3l-2.200 6 6.800-8.200h-3.200l3-4.800zM284.6 313.4l-5 7h3l-2.200 6 6.800-8.200h-3.200l3-4.800zM239.6 316.5l-5 7h3l-2.200 6 6.800-8.200h-3.200l3-4.800zM294.5 318.1l-5 7h3l-2.200 6 6.800-8.200h-3.200l3-4.800zM225.5 312.5l-5 7h3l-2.200 6 6.800-8.200h-3.200l3-4.800z"/><path fill="#ffff00" d="M357.4 311.6l-5 7h3l-2.200 6 6.800-8.200h-3.200l3-4.800zM183.9 311.9l-5 7h3l-2.200 6 6.800-8.200h-3.200l3-4.800z"/><path fill="#19b4f2" d="M323.6 318.6l-5 7h3l-2.200 6 6.800-8.200h-3.200l3-4.800z"/><path fill="#ffff00" d="M171.4 316.4l-5 7h3l-2.200 6 6.800-8.200h-3.200l3-4.800z"/><path fill="#19b4f2" d="M292.6 312.4l-5 7h3l-2.200 6 6.800-8.200h-3.200l3-4.800z"/><path fill="#ffff00" d="M80.3 316.7l-5 7h3l-2.200 6 6.800-8.200h-3.200l3-4.800zM193 318.7l-5 7h3l-2.200 6 6.800-8.200h-3.200l3-4.800zM158.5 316.4l-5 7h3l-2.200 6 6.800-8.200h-3.200l3-4.800z"/><path fill="#e8140e" d="M387.1 319.1l-5 7h3l-2.200 6 6.800-8.200h-3.200l3-4.800z"/><path fill="#19b4f2" d="M282.7 316.3l-5 7h3l-2.200 6 6.800-8.200h-3.200l3-4.800zM378 318l-5 7h3l-2.200 6 6.800-8.200h-3.200l3-4.800zM241.1 312.7l-5 7h3l-2.200 6 6.800-8.200h-3.200l3-4.800z"/><path fill="#ffff00" d="M186.1 317.9l-5 7h3l-2.200 6 6.800-8.200h-3.200l3-4.800zM189.1 317.1l-5 7h3l-2.200 6 6.800-8.200h-3.200l3-4.800z"/><path fill="#19b4f2" d="M245.5 317.9l-5 7h3l-2.200 6 6.800-8.200h-3.200l3-4.800z"/><path fill="#ffff00" d="M83.2 318.8l-5 7h3l-2.200 6 6.800-8.200h-3.200l3-4.800z"/><path fill="#19b4f2" d="M232.1 318.1l-5 7h3l-2.200 6 6.800-8.200h-3.200l3-4.800zM383.7 316.5l-5 7h3l-2.200 6 6.800-8.200h-3.200l3-4.800zM221.6 317.7l-5 7h3l-2.200 6 6.800-8.200h-3.200l3-4.800z"/><path fill="#ffff00" d="M369.5 316.3l-5 7h3l-2.200 6 6.800-8.200h-3.200l3-4.800zM338.5 313.1l-5 7h3l-2.200 6 6.800-8.200h-3.200l3-4.800z"/><path fill="#19b4f2" d="M409.8 316.1l-5 7h3l-2.200 6 6.800-8.200h-3.200l3-4.800z"/><path fill="#e8140e" d="M414.4 318.9l-5 7h3l-2.200 6 6.800-8.200h-3.200l3-4.800z"/><path fill="#19b4f2" d="M312.9 316.9l-5 7h3l-2.200 6 6.800-8.200h-3.200l3-4.800zM158.7 313.5l-5 7h3l-2.200 6 6.800-8.200h-3.200l3-4.800z"/><path fill="#ffff00" d="M209.2 318.5l-5 7h3l-2.200 6 6.800-8.200h-3.200l3-4.800zM149.1 313.3l-5 7h3l-2.200 6 6.800-8.200h-3.200l3-4.800z"/><path fill="#f2701c" d="M477.1 317.1l-5 7h3l-2.200 6 6.800-8.200h-3.200l3-4.800z"/><path fill="#ffff00" d="M135.2 318.9l-5 7h3l-2.200 6 6.800-8.200h-3.200l3-4.800z"/><path fill="#19b4f2" d="M254.8 318.3l-5 7h3l-2.200 6 6.800-8.200h-3.200l3-4.800z"/><path fill="#ffff00" d="M138.5 318.3l-5 7h3l-2.200 6 6.800-8.200h-3.200l3-4.800z"/><path fill="#e8140e" d="M482.4 316l-5 7h3l-2.200 6 6.800-8.200h-3.200l3-4.800z"/><path fill="#19b4f2" d="M121.9 318l-5 7h3l-2.200 6 6.800-8.200h-3.200l3-4.800z"/><path fill="#ffff00" d="M436.4 318.4l-5 7h3l-2.200 6 6.800-8.200h-3.200l3-4.800zM498.9 314.3l-5 7h3l-2.200 6 6.800-8.200h-3.200l3-4.800zM211.4 316.1l-5 7h3l-2.200 6 6.800-8.200h-3.200l3-4.800zM165.8 317.4l-5 7h3l-2.200 6 6.800-8.200h-3.200l3-4.800z"/><path fill="#19b4f2" d="M248.9 316.9l-5 7h3l-2.200 6 6.800-8.200h-3.200l3-4.800zM309.6 318.5l-5 7h3l-2.200 6 6.800-8.200h-3.200l3-4.800zM317 318.1l-5 7h3l-2.200 6 6.800-8.200h-3.200l3-4.800zM257.2 316.5l-5 7h3l-2.200 6 6.800-8.200h-3.200l3-4.800z"/><path fill="#ffff00" d="M433.3 316.4l-5 7h3l-2.200 6 6.800-8.200h-3.200l3-4.800zM372.4 317.4l-5 7h3l-2.200 6 6.800-8.200h-3.200l3-4.800z"/><path fill="#e8140e" d="M484.1 316.6l-5 7h3l-2.200 6 6.800-8.200h-3.200l3-4.800z"/><path fill="#19b4f2" d="M285.7 318.3l-5 7h3l-2.200 6 6.800-8.200h-3.200l3-4.800z"/><path fill="#ffff00" d="M390.9 317.7l-5 7h3l-2.200 6 6.800-8.200h-3.200l3-4.800zM427.6 317.8l-5 7h3l-2.200 6 6.800-8.200h-3.200l3-4.800z"/><path fill="#19b4f2" d="M297.1 321.8l-5 7h3l-2.200 6 6.800-8.200h-3.200l3-4.800zM235.9 317.3l-5 7h3l-2.200 6 6.800-8.200h-3.200l3-4.800z"/><path fill="#ffff00" d="M325.3 323.5l-5 7h3l-2.200 6 6.800-8.200h-3.200l3-4.800z"/><path fill="#19b4f2" d="M261.6 316.4l-5 7h3l-2.200 6 6.800-8.200h-3.200l3-4.800zM268.1 318.9l-5 7h3l-2.200 6 6.800-8.200h-3.200l3-4.800z"/><path fill="#ffff00" d="M363.1 318l-5 7h3l-2.200 6 6.800-8.200h-3.200l3-4.800z"/><path fill="#19b4f2" d="M276.5 318.4l-5 7h3l-2.200 6 6.800-8.200h-3.200l3-4.800z"/><path fill="#ffff00" d="M161.5 318.1l-5 7h3l-2.200 6 6.800-8.200h-3.200l3-4.800zM151.6 318.1l-5 7h3l-2.200 6 6.800-8.200h-3.200l3-4.800z"/><path fill="#19b4f2" d="M300.9 318.2l-5 7h3l-2.200 6 6.800-8.200h-3.200l3-4.800z"/><path fill="#ffff00" d="M216 318.8l-5 7h3l-2.200 6 6.800-8.200h-3.200l3-4.800z"/><path fill="#19b4f2" d="M275.7 323.4l-5 7h3l-2.200 6 6.800-8.200h-3.200l3-4.800z"/><path fill="#ffff00" d="M421 319l-5 7h3l-2.200 6 6.800-8.200h-3.200l3-4.800zM354.9 316.4l-5 7h3l-2.200 6 6.800-8.200h-3.200l3-4.800zM85.7 322.4l-5 7h3l-2.200 6 6.800-8.200h-3.200l3-4.800z"/><path fill="#e8140e" d="M401 317.6l-5 7h3l-2.200 6 6.800-8.200h-3.200l3-4.800z"/><path fill="#19b4f2" d="M172.7 322.8l-5 7h3l-2.200 6 6.800-8.200h-3.200l3-4.800z"/><path fill="#ffff00" d="M441.2 317.2l-5 7h3l-2.200 6 6.800-8.200h-3.200l3-4.800z"/><path fill="#e8140e" d="M407 317.2l-5 7h3l-2.200 6 6.800-8.200h-3.200l3-4.800z"/><path fill="#19b4f2" d="M329.2 323.2l-5 7h3l-2.200 6 6.800-8.200h-3.200l3-4.800zM291.1 318.9l-5 7h3l-2.200 6 6.800-8.200h-3.200l3-4.800z"/><path fill="#ffff00" d="M126.2 319l-5 7h3l-2.200 6 6.800-8.200h-3.200l3-4.800z"/><path fill="#19b4f2" d="M327.9 317.9l-5 7h3l-2.200 6 6.800-8.200h-3.200l3-4.800zM237.6 322.4l-5 7h3l-2.200 6 6.800-8.200h-3.200l3-4.800z"/><path fill="#ffff00" d="M423.4 318.8l-5 7h3l-2.200 6 6.800-8.200h-3.200l3-4.800z"/><path fill="#19b4f2" d="M227.5 317l-5 7h3l-2.200 6 6.800-8.200h-3.200l3-4.800z"/><path fill="#ffff00" d="M132.1 324.3l-5 7h3l-2.200 6 6.800-8.200h-3.200l3-4.800z"/><path fill="#e8140e" d="M397.3 318l-5 7h3l-2.200 6 6.800-8.200h-3.200l3-4.800z"/><path fill="#ffff00" d="M180.1 317.7l-5 7h3l-2.200 6 6.800-8.200h-3.200l3-4.800z"/><path fill="#19b4f2" d="M232.4 323.4l-5 7h3l-2.200 6 6.800-8.200h-3.200l3-4.800zM201.9 318.5l-5 7h3l-2.200 6 6.800-8.200h-3.200l3-4.800zM253.1 322.9l-5 7h3l-2.200 6 6.800-8.200h-3.200l3-4.800z"/><path fill="#ffff00" d="M128.7 322.9l-5 7h3l-2.200 6 6.800-8.200h-3.200l3-4.800z"/><path fill="#19b4f2" d="M198.6 318.9l-5 7h3l-2.200 6 6.800-8.200h-3.200l3-4.800zM164 324.1l-5 7h3l-2.200 6 6.800-8.200h-3.200l3-4.800z"/><path fill="#ffff00" d="M195.2 322.6l-5 7h3l-2.200 6 6.800-8.200h-3.200l3-4.800z"/><path fill="#19b4f2" d="M293.6 322.8l-5 7h3l-2.200 6 6.800-8.200h-3.200l3-4.800zM167.6 323.1l-5 7h3l-2.200 6 6.800-8.200h-3.200l3-4.800z"/><path fill="#ffff00" d="M181.3 324.3l-5 7h3l-2.200 6 6.800-8.200h-3.200l3-4.800zM160.3 323.3l-5 7h3l-2.200 6 6.800-8.200h-3.200l3-4.800zM130.9 319l-5 7h3l-2.200 6 6.800-8.200h-3.200l3-4.800z"/><path fill="#19b4f2" d="M201 323.9l-5 7h3l-2.200 6 6.800-8.200h-3.200l3-4.800z"/><path fill="#8a1212" d="M71.5 322.4l-5 7h3l-2.200 6 6.800-8.200h-3.200l3-4.800z"/><path fill="#19b4f2" d="M307.5 321.7l-5 7h3l-2.200 6 6.800-8.200h-3.200l3-4.800z"/><path fill="#ffff00" d="M192.1 322.9l-5 7h3l-2.200 6 6.800-8.200h-3.200l3-4.800z"/><path fill="#19b4f2" d="M302.3 323.5l-5 7h3l-2.200 6 6.800-8.200h-3.200l3-4.800z"/><path fill="#ffff00" d="M77.1 323.2l-5 7h3l-2.200 6 6.800-8.200h-3.200l3-4.800z"/><path fill="#19b4f2" d="M279.3 321.9l-5 7h3l-2.200 6 6.800-8.200h-3.200l3-4.800zM266.5 323.5l-5 7h3l-2.200 6 6.800-8.200h-3.200l3-4.800zM284.2 323.5l-5 7h3l-2.200 6 6.800-8.200h-3.200l3-4.800zM256.2 323.9l-5 7h3l-2.200 6 6.800-8.200h-3.200l3-4.800z"/><path fill="#ffff00" d="M141.8 323.2l-5 7h3l-2.200 6 6.800-8.200h-3.200l3-4.800z"/><path fill="#19b4f2" d="M220.5 322.3l-5 7h3l-2.200 6 6.800-8.200h-3.200l3-4.800zM287.6 322.4l-5 7h3l-2.200 6 6.800-8.200h-3.200l3-4.800zM239.7 327.6l-5 7h3l-2.200 6 6.800-8.200h-3.200l3-4.800z"/><path fill="#ffff00" d="M136.6 322.5l-5 7h3l-2.200 6 6.800-8.200h-3.200l3-4.800z"/><path fill="#19b4f2" d="M206.4 324.6l-5 7h3l-2.200 6 6.800-8.200h-3.200l3-4.800z"/><path fill="#ffff00" d="M187.1 323.1l-5 7h3l-2.200 6 6.800-8.200h-3.200l3-4.800zM430.7 323.8l-5 7h3l-2.200 6 6.800-8.200h-3.200l3-4.800z"/><path fill="#19b4f2" d="M260.5 323.4l-5 7h3l-2.200 6 6.800-8.200h-3.200l3-4.800zM310.5 323.9l-5 7h3l-2.200 6 6.800-8.200h-3.200l3-4.800z"/><path fill="#ffff00" d="M149.8 324.2l-5 7h3l-2.200 6 6.800-8.200h-3.200l3-4.800z"/><path fill="#19b4f2" d="M211.4 328.3l-5 7h3l-2.200 6 6.800-8.200h-3.200l3-4.800zM157.7 328.9l-5 7h3l-2.200 6 6.800-8.200h-3.200l3-4.800zM68.3 323.2l-5 7h3l-2.200 6 6.800-8.200h-3.200l3-4.800z"/><path fill="#ffff00" d="M220.3 327.9l-5 7h3l-2.200 6 6.800-8.200h-3.200l3-4.800z"/><path fill="#19b4f2" d="M262.5 328.8l-5 7h3l-2.200 6 6.800-8.200h-3.200l3-4.800z"/><path fill="#f2701c" d="M100.9 328.6l-5 7h3l-2.200 6 6.800-8.200h-3.200l3-4.800z"/><path fill="#19b4f2" d="M248.4 329.2l-5 7h3l-2.200 6 6.800-8.200h-3.200l3-4.800zM243.8 322l-5 7h3l-2.200 6 6.800-8.200h-3.200l3-4.800z"/><path fill="#ffff00" d="M211.1 322.2l-5 7h3l-2.200 6 6.800-8.200h-3.200l3-4.800z"/><path fill="#19b4f2" d="M271.9 329.2l-5 7h3l-2.200 6 6.800-8.200h-3.200l3-4.800zM227.2 323.5l-5 7h3l-2.200 6 6.800-8.200h-3.200l3-4.800z"/><path fill="#ffff00" d="M142.2 327.8l-5 7h3l-2.200 6 6.800-8.200h-3.200l3-4.800zM119.4 324.6l-5 7h3l-2.200 6 6.800-8.200h-3.200l3-4.800z"/><path fill="#19b4f2" d="M245.6 324.5l-5 7h3l-2.200 6 6.800-8.200h-3.200l3-4.800z"/><path fill="#8a1212" d="M147.1 324.5l-5 7h3l-2.200 6 6.800-8.200h-3.200l3-4.800z"/><path fill="#19b4f2" d="M271.1 322.9l-5 7h3l-2.200 6 6.800-8.200h-3.200l3-4.800z"/><path fill="#ffff00" d="M188.5 329.3l-5 7h3l-2.200 6 6.800-8.200h-3.200l3-4.800zM122.3 322.8l-5 7h3l-2.200 6 6.800-8.200h-3.200l3-4.800z"/><path fill="#19b4f2" d="M316 322.3l-5 7h3l-2.200 6 6.800-8.200h-3.200l3-4.800z"/><path fill="#ffff00" d="M319.1 324.2l-5 7h3l-2.200 6 6.800-8.200h-3.200l3-4.800z"/><path fill="#19b4f2" d="M155.4 323.4l-5 7h3l-2.200 6 6.800-8.200h-3.200l3-4.800zM114 322.9l-5 7h3l-2.200 6 6.800-8.200h-3.200l3-4.800z"/><path fill="#f2701c" d="M91.6 329.9l-5 7h3l-2.200 6 6.800-8.200h-3.200l3-4.800z"/><path fill="#ffff00" d="M80.5 324.2l-5 7h3l-2.200 6 6.800-8.200h-3.200l3-4.800z"/><path fill="#19b4f2" d="M80.4 329.3l-5 7h3l-2.200 6 6.800-8.200h-3.200l3-4.800zM75.8 328.2l-5 7h3l-2.200 6 6.800-8.200h-3.200l3-4.800z"/><path fill="#ffff00" d="M89.3 324.5l-5 7h3l-2.200 6 6.800-8.200h-3.200l3-4.800zM185.2 329.6l-5 7h3l-2.200 6 6.800-8.200h-3.200l3-4.800zM178 323.6l-5 7h3l-2.200 6 6.800-8.200h-3.200l3-4.800zM214.2 323.8l-5 7h3l-2.200 6 6.800-8.200h-3.200l3-4.800z"/><path fill="#19b4f2" d="M225.3 323.8l-5 7h3l-2.200 6 6.800-8.200h-3.200l3-4.800zM243.9 328.4l-5 7h3l-2.200 6 6.800-8.200h-3.200l3-4.800z"/><path fill="#ffff00" d="M151.5 328.7l-5 7h3l-2.200 6 6.800-8.200h-3.200l3-4.800zM316.8 329.4l-5 7h3l-2.200 6 6.800-8.200h-3.200l3-4.800z"/><path fill="#e8140e" d="M84.6 330l-5 7h3l-2.200 6 6.800-8.200h-3.200l3-4.800z"/><path fill="#19b4f2" d="M89.6 327.5l-5 7h3l-2.200 6 6.800-8.200h-3.200l3-4.800zM277.6 327.4l-5 7h3l-2.200 6 6.800-8.200h-3.200l3-4.800zM312.3 328.5l-5 7h3l-2.200 6 6.800-8.200h-3.200l3-4.800z"/><path fill="#ffff00" d="M217 330.1l-5 7h3l-2.200 6 6.800-8.200h-3.200l3-4.800z"/><path fill="#19b4f2" d="M267.7 328.7l-5 7h3l-2.200 6 6.800-8.200h-3.200l3-4.800zM235 329.3l-5 7h3l-2.200 6 6.800-8.200h-3.200l3-4.800zM333 328.3l-5 7h3l-2.200 6 6.800-8.200h-3.200l3-4.800zM209.3 328l-5 7h3l-2.200 6 6.800-8.200h-3.200l3-4.800zM295.8 327.7l-5 7h3l-2.200 6 6.800-8.200h-3.200l3-4.800zM280.9 329.5l-5 7h3l-2.200 6 6.800-8.200h-3.200l3-4.800z"/><path fill="#ffff00" d="M167 328.2l-5 7h3l-2.200 6 6.800-8.200h-3.200l3-4.800z"/><path fill="#19b4f2" d="M284.8 329.3l-5 7h3l-2.200 6 6.800-8.200h-3.200l3-4.800zM227.6 327.4l-5 7h3l-2.200 6 6.800-8.200h-3.200l3-4.800z"/><path fill="#8a1212" d="M326.4 328.4l-5 7h3l-2.200 6 6.800-8.200h-3.200l3-4.800z"/><path fill="#ffff00" d="M129 329.1l-5 7h3l-2.200 6 6.800-8.200h-3.200l3-4.800z"/><path fill="#19b4f2" d="M198.6 329.9l-5 7h3l-2.200 6 6.800-8.200h-3.200l3-4.800z"/><path fill="#f2701c" d="M300.5 329.1l-5 7h3l-2.200 6 6.800-8.200h-3.200l3-4.800z"/><path fill="#ffff00" d="M172.1 329.9l-5 7h3l-2.200 6 6.800-8.200h-3.200l3-4.800z"/><path fill="#8a1212" d="M67.7 333l-5 7h3l-2.200 6 6.800-8.200h-3.200l3-4.800z"/><path fill="#19b4f2" d="M122.7 333.1l-5 7h3l-2.200 6 6.800-8.200h-3.200l3-4.800z"/><path fill="#f2701c" d="M304.6 329.5l-5 7h3l-2.200 6 6.800-8.200h-3.200l3-4.800zM96.9 329.7l-5 7h3l-2.200 6 6.800-8.200h-3.200l3-4.800z"/><path fill="#19b4f2" d="M115.4 327.4l-5 7h3l-2.200 6 6.800-8.200h-3.200l3-4.800z"/><path fill="#ffff00" d="M169.4 333.6l-5 7h3l-2.200 6 6.800-8.200h-3.200l3-4.800z"/><path fill="#19b4f2" d="M253.3 327.7l-5 7h3l-2.200 6 6.800-8.200h-3.200l3-4.800z"/><path fill="#ffff00" d="M176.8 328.6l-5 7h3l-2.200 6 6.800-8.200h-3.200l3-4.800z"/><path fill="#19b4f2" d="M310.2 328.3l-5 7h3l-2.200 6 6.800-8.200h-3.200l3-4.800z"/><path fill="#f2701c" d="M302 333.1l-5 7h3l-2.200 6 6.800-8.200h-3.200l3-4.800z"/><path fill="#19b4f2" d="M252.4 333l-5 7h3l-2.200 6 6.800-8.200h-3.200l3-4.800zM291.7 329.4l-5 7h3l-2.200 6 6.800-8.200h-3.200l3-4.800zM151.3 333.8l-5 7h3l-2.200 6 6.800-8.200h-3.200l3-4.800z"/><path fill="#ffff00" d="M194.4 329.6l-5 7h3l-2.200 6 6.800-8.200h-3.200l3-4.800z"/><path fill="#19b4f2" d="M259.2 329.2l-5 7h3l-2.200 6 6.800-8.200h-3.200l3-4.800z"/><path fill="#ffff00" d="M134.1 330l-5 7h3l-2.200 6 6.800-8.200h-3.200l3-4.800z"/><path fill="#19b4f2" d="M70 328l-5 7h3l-2.200 6 6.800-8.200h-3.200l3-4.800zM147.8 328.3l-5 7h3l-2.200 6 6.800-8.200h-3.200l3-4.800zM230.2 330.2l-5 7h3l-2.200 6 6.800-8.200h-3.200l3-4.800z"/><path fill="#8a1212" d="M324.3 329.7l-5 7h3l-2.200 6 6.800-8.200h-3.200l3-4.800z"/><path fill="#19b4f2" d="M232.4 334.4l-5 7h3l-2.200 6 6.800-8.200h-3.200l3-4.800z"/><path fill="#8a1212" d="M113.7 334.6l-5 7h3l-2.200 6 6.800-8.200h-3.200l3-4.800z"/><path fill="#19b4f2" d="M222.9 334.4l-5 7h3l-2.200 6 6.800-8.200h-3.200l3-4.800z"/><path fill="#ffff00" d="M125.5 327.8l-5 7h3l-2.200 6 6.800-8.200h-3.200l3-4.800z"/><path fill="#19b4f2" d="M312.7 334.2l-5 7h3l-2.200 6 6.800-8.200h-3.200l3-4.800zM237.5 333.4l-5 7h3l-2.200 6 6.800-8.200h-3.200l3-4.800zM155.5 334.9l-5 7h3l-2.200 6 6.800-8.200h-3.200l3-4.800zM158.7 333l-5 7h3l-2.200 6 6.800-8.200h-3.200l3-4.800zM160.6 328.9l-5 7h3l-2.200 6 6.800-8.200h-3.200l3-4.800zM218.1 335.2l-5 7h3l-2.200 6 6.800-8.200h-3.200l3-4.800z"/><path fill="#f2701c" d="M109.7 334.2l-5 7h3l-2.200 6 6.800-8.200h-3.200l3-4.800z"/><path fill="#ffff00" d="M179 328.4l-5 7h3l-2.200 6 6.800-8.200h-3.200l3-4.800zM213.7 335.1l-5 7h3l-2.200 6 6.800-8.200h-3.200l3-4.800z"/><path fill="#19b4f2" d="M146.7 335.6l-5 7h3l-2.200 6 6.800-8.200h-3.200l3-4.800zM241.3 335.1l-5 7h3l-2.200 6 6.800-8.200h-3.200l3-4.800z"/><path fill="#ffff00" d="M137.9 333.8l-5 7h3l-2.200 6 6.800-8.200h-3.200l3-4.800z"/><path fill="#19b4f2" d="M89.2 333.5l-5 7h3l-2.200 6 6.800-8.200h-3.200l3-4.800z"/><path fill="#ffff00" d="M191.7 333.3l-5 7h3l-2.200 6 6.800-8.200h-3.200l3-4.800zM139.5 329.5l-5 7h3l-2.200 6 6.800-8.200h-3.200l3-4.800z"/><path fill="#19b4f2" d="M289.2 334.8l-5 7h3l-2.200 6 6.800-8.200h-3.200l3-4.800z"/><path fill="#ffff00" d="M206.7 334.3l-5 7h3l-2.200 6 6.800-8.200h-3.200l3-4.800z"/><path fill="#19b4f2" d="M307.9 335l-5 7h3l-2.200 6 6.800-8.200h-3.200l3-4.800zM201.9 329.4l-5 7h3l-2.200 6 6.800-8.200h-3.200l3-4.800zM107.4 329.7l-5 7h3l-2.200 6 6.800-8.200h-3.200l3-4.800zM72 334.6l-5 7h3l-2.200 6 6.800-8.200h-3.200l3-4.800z"/><path fill="#ffff00" d="M209 334.3l-5 7h3l-2.200 6 6.800-8.200h-3.200l3-4.800zM121.3 330l-5 7h3l-2.200 6 6.800-8.200h-3.200l3-4.800z"/><path fill="#19b4f2" d="M130.7 335.6l-5 7h3l-2.200 6 6.800-8.200h-3.200l3-4.800zM285 335l-5 7h3l-2.200 6 6.800-8.200h-3.200l3-4.800z"/><path fill="#ffff00" d="M187.7 335.4l-5 7h3l-2.200 6 6.800-8.200h-3.200l3-4.800zM319.7 334.8l-5 7h3l-2.200 6 6.800-8.200h-3.200l3-4.800z"/><path fill="#19b4f2" d="M299.1 333l-5 7h3l-2.200 6 6.800-8.200h-3.200l3-4.800zM104.8 333.1l-5 7h3l-2.200 6 6.800-8.200h-3.200l3-4.800z"/><path fill="#ffff00" d="M301.1 339l-5 7h3l-2.200 6 6.800-8.200h-3.200l3-4.800z"/><path fill="#19b4f2" d="M99.2 334l-5 7h3l-2.200 6 6.800-8.200h-3.200l3-4.800zM262.1 334.6l-5 7h3l-2.200 6 6.800-8.200h-3.200l3-4.800zM119.6 335.1l-5 7h3l-2.200 6 6.800-8.200h-3.200l3-4.800zM269 339.3l-5 7h3l-2.200 6 6.800-8.200h-3.200l3-4.800z"/><path fill="#ffff00" d="M215.9 339l-5 7h3l-2.200 6 6.800-8.200h-3.200l3-4.800zM329.7 334.5l-5 7h3l-2.200 6 6.800-8.200h-3.200l3-4.800z"/><path fill="#19b4f2" d="M174.9 333.7l-5 7h3l-2.200 6 6.800-8.200h-3.200l3-4.800zM243.2 338.8l-5 7h3l-2.200 6 6.800-8.200h-3.200l3-4.800zM85.4 332.9l-5 7h3l-2.200 6 6.800-8.200h-3.200l3-4.800zM308 338.6l-5 7h3l-2.200 6 6.800-8.200h-3.200l3-4.800zM130.3 339.6l-5 7h3l-2.200 6 6.800-8.200h-3.200l3-4.800zM70.2 339.7l-5 7h3l-2.200 6 6.800-8.200h-3.200l3-4.800zM82.1 333.4l-5 7h3l-2.200 6 6.800-8.200h-3.200l3-4.800z"/><path fill="#ffff00" d="M141.7 334l-5 7h3l-2.200 6 6.800-8.200h-3.200l3-4.800z"/><path fill="#19b4f2" d="M177.1 334l-5 7h3l-2.200 6 6.800-8.200h-3.200l3-4.800z"/><path fill="#ffff00" d="M190.8 338.9l-5 7h3l-2.200 6 6.800-8.200h-3.200l3-4.800z"/><path fill="#19b4f2" d="M128.9 333.9l-5 7h3l-2.200 6 6.800-8.200h-3.200l3-4.800z"/><path fill="#f2701c" d="M324.7 334.9l-5 7h3l-2.200 6 6.800-8.200h-3.200l3-4.800z"/><path fill="#8a1212" d="M77.4 334.7l-5 7h3l-2.200 6 6.800-8.200h-3.200l3-4.800z"/><path fill="#ffff00" d="M192.7 339.2l-5 7h3l-2.200 6 6.800-8.200h-3.200l3-4.800z"/><path fill="#19b4f2" d="M165.9 339.9l-5 7h3l-2.200 6 6.800-8.200h-3.200l3-4.800zM265.5 334.9l-5 7h3l-2.200 6 6.800-8.200h-3.200l3-4.800zM315 335.4l-5 7h3l-2.200 6 6.800-8.200h-3.200l3-4.800zM246.5 333.4l-5 7h3l-2.200 6 6.800-8.200h-3.200l3-4.800zM278.1 334.6l-5 7h3l-2.200 6 6.800-8.200h-3.200l3-4.800zM163.4 333.2l-5 7h3l-2.200 6 6.800-8.200h-3.200l3-4.800zM95.7 333.5l-5 7h3l-2.200 6 6.800-8.200h-3.200l3-4.800zM201.9 335.6l-5 7h3l-2.200 6 6.800-8.200h-3.200l3-4.800zM228.6 334.2l-5 7h3l-2.200 6 6.800-8.200h-3.200l3-4.800zM262.4 341l-5 7h3l-2.200 6 6.800-8.200h-3.200l3-4.800zM291.6 335.5l-5 7h3l-2.200 6 6.800-8.200h-3.200l3-4.800zM273.9 334.3l-5 7h3l-2.200 6 6.800-8.200h-3.200l3-4.800z"/><path fill="#e8140e" d="M75.7 338.6l-5 7h3l-2.200 6 6.800-8.200h-3.200l3-4.800z"/><path fill="#ffff00" d="M332 339.6l-5 7h3l-2.200 6 6.800-8.200h-3.200l3-4.800z"/><path fill="#19b4f2" d="M133.5 341.2l-5 7h3l-2.200 6 6.800-8.200h-3.200l3-4.800zM230.6 341.4l-5 7h3l-2.200 6 6.800-8.200h-3.200l3-4.800z"/><path fill="#ffff00" d="M305.3 339.2l-5 7h3l-2.200 6 6.800-8.200h-3.200l3-4.800zM196.6 334.9l-5 7h3l-2.200 6 6.800-8.200h-3.200l3-4.800z"/><path fill="#19b4f2" d="M257.5 334.7l-5 7h3l-2.200 6 6.800-8.200h-3.200l3-4.800zM226 340.3l-5 7h3l-2.200 6 6.800-8.200h-3.200l3-4.800zM101.9 338.9l-5 7h3l-2.200 6 6.800-8.200h-3.200l3-4.800zM270.5 334.9l-5 7h3l-2.200 6 6.800-8.200h-3.200l3-4.800zM137.7 341.5l-5 7h3l-2.200 6 6.800-8.200h-3.200l3-4.800z"/><path fill="#ffff00" d="M212.2 339.1l-5 7h3l-2.200 6 6.800-8.200h-3.200l3-4.800zM209.2 338.7l-5 7h3l-2.200 6 6.800-8.200h-3.200l3-4.800zM183.2 335.6l-5 7h3l-2.200 6 6.800-8.200h-3.200l3-4.800z"/><path fill="#19b4f2" d="M125 339.2l-5 7h3l-2.200 6 6.800-8.200h-3.200l3-4.800zM290.5 341l-5 7h3l-2.200 6 6.800-8.200h-3.200l3-4.800zM83.4 341l-5 7h3l-2.200 6 6.800-8.200h-3.200l3-4.800zM259.9 339.5l-5 7h3l-2.200 6 6.800-8.200h-3.200l3-4.800z"/><path fill="#ffff00" d="M296.1 340.9l-5 7h3l-2.200 6 6.800-8.200h-3.200l3-4.800z"/><path fill="#19b4f2" d="M181.1 341.4l-5 7h3l-2.200 6 6.800-8.200h-3.200l3-4.800zM144.7 338.6l-5 7h3l-2.200 6 6.800-8.200h-3.200l3-4.800z"/><path fill="#ffff00" d="M183.7 340.5l-5 7h3l-2.200 6 6.800-8.200h-3.200l3-4.800z"/><path fill="#19b4f2" d="M220.3 338.6l-5 7h3l-2.200 6 6.800-8.200h-3.200l3-4.800z"/><path fill="#ffff00" d="M318.2 339.2l-5 7h3l-2.200 6 6.800-8.200h-3.200l3-4.800z"/><path fill="#19b4f2" d="M157.1 338.6l-5 7h3l-2.200 6 6.800-8.200h-3.200l3-4.800zM98.7 341l-5 7h3l-2.200 6 6.800-8.200h-3.200l3-4.800zM204.8 340.8l-5 7h3l-2.200 6 6.800-8.200h-3.200l3-4.800zM239.9 341.4l-5 7h3l-2.200 6 6.800-8.200h-3.200l3-4.800zM262.2 344.4l-5 7h3l-2.200 6 6.800-8.200h-3.200l3-4.800zM227.4 344.5l-5 7h3l-2.200 6 6.800-8.200h-3.200l3-4.800zM312.6 338.6l-5 7h3l-2.200 6 6.800-8.200h-3.200l3-4.800zM146.8 338.5l-5 7h3l-2.200 6 6.800-8.200h-3.200l3-4.800zM65.2 338.8l-5 7h3l-2.200 6 6.800-8.200h-3.200l3-4.800z"/><path fill="#ffff00" d="M325.6 344.8l-5 7h3l-2.200 6 6.800-8.200h-3.200l3-4.800z"/><path fill="#19b4f2" d="M277 338.7l-5 7h3l-2.200 6 6.800-8.200h-3.200l3-4.800z"/><path fill="#ffff00" d="M322.4 339.5l-5 7h3l-2.200 6 6.800-8.200h-3.200l3-4.800zM105.6 338.9l-5 7h3l-2.200 6 6.800-8.200h-3.200l3-4.800z"/><path fill="#19b4f2" d="M93.5 339.6l-5 7h3l-2.200 6 6.800-8.200h-3.200l3-4.800zM82.4 344.6l-5 7h3l-2.200 6 6.800-8.200h-3.200l3-4.800zM208.9 344.8l-5 7h3l-2.200 6 6.800-8.200h-3.200l3-4.800z"/><path fill="#f2701c" d="M170.3 340.9l-5 7h3l-2.200 6 6.800-8.200h-3.200l3-4.800z"/><path fill="#19b4f2" d="M250.6 345l-5 7h3l-2.200 6 6.800-8.200h-3.200l3-4.800zM117.1 339.7l-5 7h3l-2.200 6 6.800-8.200h-3.200l3-4.800zM237 340l-5 7h3l-2.200 6 6.800-8.200h-3.200l3-4.800z"/><path fill="#ffff00" d="M176.4 339.4l-5 7h3l-2.200 6 6.800-8.200h-3.200l3-4.800z"/><path fill="#19b4f2" d="M120.4 341.5l-5 7h3l-2.200 6 6.800-8.200h-3.200l3-4.800zM161.3 339l-5 7h3l-2.200 6 6.800-8.200h-3.200l3-4.800z"/><path fill="#ffff00" d="M328.6 341.1l-5 7h3l-2.200 6 6.800-8.200h-3.200l3-4.800z"/><path fill="#19b4f2" d="M282.3 341l-5 7h3l-2.200 6 6.800-8.200h-3.200l3-4.800z"/><path fill="#ffff00" d="M301.9 346.6l-5 7h3l-2.200 6 6.800-8.200h-3.200l3-4.800zM110.4 341.1l-5 7h3l-2.200 6 6.800-8.200h-3.200l3-4.800z"/><path fill="#19b4f2" d="M150.8 346.7l-5 7h3l-2.200 6 6.800-8.200h-3.200l3-4.800z"/><path fill="#ffff00" d="M184 345l-5 7h3l-2.200 6 6.800-8.200h-3.200l3-4.800z"/><path fill="#19b4f2" d="M232.9 344.7l-5 7h3l-2.200 6 6.800-8.200h-3.200l3-4.800z"/><path fill="#ffff00" d="M197.5 344.9l-5 7h3l-2.200 6 6.800-8.200h-3.200l3-4.800z"/><path fill="#19b4f2" d="M87.3 339.9l-5 7h3l-2.200 6 6.800-8.200h-3.200l3-4.800zM198.4 341l-5 7h3l-2.200 6 6.800-8.200h-3.200l3-4.800zM151.7 339.8l-5 7h3l-2.200 6 6.800-8.200h-3.200l3-4.800zM273.3 341l-5 7h3l-2.200 6 6.800-8.200h-3.200l3-4.800z"/><path fill="#ffff00" d="M297.4 345.2l-5 7h3l-2.200 6 6.800-8.200h-3.200l3-4.800z"/><path fill="#19b4f2" d="M286.3 341.3l-5 7h3l-2.200 6 6.800-8.200h-3.200l3-4.800zM236.7 344.6l-5 7h3l-2.200 6 6.800-8.200h-3.200l3-4.800zM293.1 345.6l-5 7h3l-2.200 6 6.800-8.200h-3.200l3-4.800zM243 346.9l-5 7h3l-2.200 6 6.800-8.200h-3.200l3-4.800z"/><path fill="#ffff00" d="M305.7 345.6l-5 7h3l-2.200 6 6.800-8.200h-3.200l3-4.800z"/><path fill="#19b4f2" d="M275.9 346.1l-5 7h3l-2.200 6 6.800-8.200h-3.200l3-4.800z"/><path fill="#ffff00" d="M311 346l-5 7h3l-2.200 6 6.800-8.200h-3.200l3-4.800z"/><path fill="#19b4f2" d="M91.6 344.9l-5 7h3l-2.200 6 6.800-8.200h-3.200l3-4.800z"/><path fill="#ffff00" d="M103.2 345.4l-5 7h3l-2.200 6 6.800-8.200h-3.200l3-4.800z"/><path fill="#19b4f2" d="M94.9 345.9l-5 7h3l-2.200 6 6.800-8.200h-3.200l3-4.800zM256.5 345.8l-5 7h3l-2.200 6 6.800-8.200h-3.200l3-4.800zM253.2 341.2l-5 7h3l-2.200 6 6.800-8.200h-3.200l3-4.800zM249.7 341.4l-5 7h3l-2.200 6 6.800-8.200h-3.200l3-4.800z"/><path fill="#e8140e" d="M77.9 341.4l-5 7h3l-2.200 6 6.800-8.200h-3.200l3-4.800z"/><path fill="#19b4f2" d="M205.4 346.3l-5 7h3l-2.200 6 6.800-8.200h-3.200l3-4.800zM159.4 344.4l-5 7h3l-2.200 6 6.800-8.200h-3.200l3-4.800zM288.2 345.2l-5 7h3l-2.200 6 6.800-8.200h-3.200l3-4.800z"/><path fill="#ffff00" d="M66.1 344.6l-5 7h3l-2.200 6 6.800-8.200h-3.200l3-4.800z"/><path fill="#19b4f2" d="M132.7 346.5l-5 7h3l-2.200 6 6.800-8.200h-3.200l3-4.800z"/><path fill="#ffff00" d="M316.1 347l-5 7h3l-2.200 6 6.800-8.200h-3.200l3-4.800z"/><path fill="#19b4f2" d="M112.4 345.4l-5 7h3l-2.200 6 6.800-8.200h-3.200l3-4.800z"/><path fill="#ffff00" d="M214.8 345.1l-5 7h3l-2.200 6 6.800-8.200h-3.200l3-4.800z"/><path fill="#19b4f2" d="M136.1 345.3l-5 7h3l-2.200 6 6.800-8.200h-3.200l3-4.800z"/><path fill="#ffff00" d="M185.8 344.7l-5 7h3l-2.200 6 6.800-8.200h-3.200l3-4.800z"/><path fill="#19b4f2" d="M75.7 345.3l-5 7h3l-2.200 6 6.800-8.200h-3.200l3-4.800zM173.8 347l-5 7h3l-2.200 6 6.800-8.200h-3.200l3-4.800zM122.7 346.6l-5 7h3l-2.200 6 6.800-8.200h-3.200l3-4.800z"/><path fill="#ffff00" d="M322.5 350l-5 7h3l-2.200 6 6.800-8.200h-3.200l3-4.800z"/><path fill="#19b4f2" d="M144.6 345.1l-5 7h3l-2.200 6 6.800-8.200h-3.200l3-4.800z"/><path fill="#e8140e" d="M71.5 344.9l-5 7h3l-2.200 6 6.800-8.200h-3.200l3-4.800z"/><path fill="#19b4f2" d="M201.6 345.3l-5 7h3l-2.200 6 6.800-8.200h-3.200l3-4.800z"/><path fill="#e8140e" d="M192.3 344.5l-5 7h3l-2.200 6 6.800-8.200h-3.200l3-4.800z"/><path fill="#19b4f2" d="M290.6 350.4l-5 7h3l-2.200 6 6.800-8.200h-3.200l3-4.800z"/><path fill="#f2701c" d="M295.5 350l-5 7h3l-2.200 6 6.800-8.200h-3.200l3-4.800z"/><path fill="#19b4f2" d="M220.3 345.3l-5 7h3l-2.200 6 6.800-8.200h-3.200l3-4.800zM247.2 346.6l-5 7h3l-2.200 6 6.800-8.200h-3.200l3-4.800zM177.9 346.8l-5 7h3l-2.200 6 6.800-8.200h-3.200l3-4.800zM100 346.1l-5 7h3l-2.200 6 6.800-8.200h-3.200l3-4.800zM266.5 345.5l-5 7h3l-2.200 6 6.800-8.200h-3.200l3-4.800z"/><path fill="#ffff00" d="M319.4 347.1l-5 7h3l-2.200 6 6.800-8.200h-3.200l3-4.800z"/><path fill="#19b4f2" d="M130.2 349.9l-5 7h3l-2.200 6 6.800-8.200h-3.200l3-4.800zM142.4 345.8l-5 7h3l-2.200 6 6.800-8.200h-3.200l3-4.800zM156.3 346.8l-5 7h3l-2.200 6 6.800-8.200h-3.200l3-4.800zM118 345.1l-5 7h3l-2.200 6 6.800-8.200h-3.200l3-4.800zM278 346.8l-5 7h3l-2.200 6 6.800-8.200h-3.200l3-4.800zM248.7 350.9l-5 7h3l-2.200 6 6.800-8.200h-3.200l3-4.800zM273.2 351.5l-5 7h3l-2.200 6 6.800-8.200h-3.200l3-4.800zM127.6 345l-5 7h3l-2.200 6 6.800-8.200h-3.200l3-4.800zM100.6 350.5l-5 7h3l-2.200 6 6.800-8.200h-3.200l3-4.800zM109.3 346.8l-5 7h3l-2.200 6 6.800-8.200h-3.200l3-4.800zM168.1 347l-5 7h3l-2.200 6 6.800-8.200h-3.200l3-4.800zM270.5 344.8l-5 7h3l-2.200 6 6.800-8.200h-3.200l3-4.800zM85.1 345.9l-5 7h3l-2.200 6 6.800-8.200h-3.200l3-4.800z"/><path fill="#e8140e" d="M93 351.4l-5 7h3l-2.200 6 6.800-8.200h-3.200l3-4.800z"/><path fill="#19b4f2" d="M160.7 350.3l-5 7h3l-2.200 6 6.800-8.200h-3.200l3-4.800zM299.9 351.7l-5 7h3l-2.200 6 6.800-8.200h-3.200l3-4.800z"/><path fill="#ffff00" d="M63.9 351.5l-5 7h3l-2.200 6 6.800-8.200h-3.200l3-4.800z"/><path fill="#19b4f2" d="M223.4 346.4l-5 7h3l-2.200 6 6.800-8.200h-3.200l3-4.800zM240.2 352l-5 7h3l-2.200 6 6.800-8.200h-3.200l3-4.800zM172.2 350l-5 7h3l-2.200 6 6.800-8.200h-3.200l3-4.800zM163.8 346.7l-5 7h3l-2.200 6 6.800-8.200h-3.200l3-4.800zM176.3 350.5l-5 7h3l-2.200 6 6.800-8.200h-3.200l3-4.800z"/><path fill="#f2701c" d="M318 350.7l-5 7h3l-2.200 6 6.800-8.200h-3.200l3-4.800z"/><path fill="#19b4f2" d="M257.6 352.4l-5 7h3l-2.200 6 6.800-8.200h-3.200l3-4.800z"/><path fill="#f2701c" d="M282.7 350.7l-5 7h3l-2.200 6 6.800-8.200h-3.200l3-4.800z"/><path fill="#19b4f2" d="M253.8 352.6l-5 7h3l-2.200 6 6.800-8.200h-3.200l3-4.800z"/><path fill="#f2701c" d="M193 350.1l-5 7h3l-2.200 6 6.800-8.200h-3.200l3-4.800zM305.9 352.2l-5 7h3l-2.200 6 6.800-8.200h-3.200l3-4.800z"/><path fill="#ffff00" d="M330 345.8l-5 7h3l-2.200 6 6.800-8.200h-3.200l3-4.800z"/><path fill="#19b4f2" d="M179.4 352.5l-5 7h3l-2.200 6 6.800-8.200h-3.200l3-4.800zM75.6 350.1l-5 7h3l-2.200 6 6.800-8.200h-3.200l3-4.800z"/><path fill="#8a1212" d="M283 346.2l-5 7h3l-2.200 6 6.800-8.200h-3.200l3-4.800z"/><path fill="#19b4f2" d="M209 350.6l-5 7h3l-2.200 6 6.800-8.200h-3.200l3-4.800zM86.9 352.3l-5 7h3l-2.200 6 6.800-8.200h-3.200l3-4.800zM96.1 351.9l-5 7h3l-2.200 6 6.800-8.200h-3.200l3-4.800zM222 352.3l-5 7h3l-2.200 6 6.800-8.200h-3.200l3-4.800zM77.8 352.2l-5 7h3l-2.200 6 6.800-8.200h-3.200l3-4.800zM156.4 351.1l-5 7h3l-2.200 6 6.800-8.200h-3.200l3-4.800zM153.6 351l-5 7h3l-2.200 6 6.800-8.200h-3.200l3-4.800zM115.9 351l-5 7h3l-2.200 6 6.800-8.200h-3.200l3-4.800zM229.7 351.8l-5 7h3l-2.200 6 6.800-8.200h-3.200l3-4.800zM107.1 350l-5 7h3l-2.200 6 6.800-8.200h-3.200l3-4.800z"/><path fill="#ffff00" d="M327.6 351.9l-5 7h3l-2.200 6 6.800-8.200h-3.200l3-4.800z"/><path fill="#19b4f2" d="M235.1 352.1l-5 7h3l-2.200 6 6.800-8.200h-3.200l3-4.800zM84.8 352l-5 7h3l-2.200 6 6.800-8.200h-3.200l3-4.800zM245 349.8l-5 7h3l-2.200 6 6.800-8.200h-3.200l3-4.800zM216.8 352.3l-5 7h3l-2.200 6 6.800-8.200h-3.200l3-4.800zM148.2 351.5l-5 7h3l-2.200 6 6.800-8.200h-3.200l3-4.800zM189.9 351.8l-5 7h3l-2.200 6 6.800-8.200h-3.200l3-4.800zM112.1 350.1l-5 7h3l-2.200 6 6.800-8.200h-3.200l3-4.800zM192.3 355.7l-5 7h3l-2.200 6 6.800-8.200h-3.200l3-4.800zM104.2 355.5l-5 7h3l-2.200 6 6.800-8.200h-3.200l3-4.800zM225.9 352.3l-5 7h3l-2.200 6 6.800-8.200h-3.200l3-4.800zM203.7 352.4l-5 7h3l-2.200 6 6.800-8.200h-3.200l3-4.800zM206.1 356.4l-5 7h3l-2.200 6 6.800-8.200h-3.200l3-4.800zM277.7 351.8l-5 7h3l-2.200 6 6.800-8.200h-3.200l3-4.800zM274.2 356.6l-5 7h3l-2.200 6 6.800-8.200h-3.200l3-4.800z"/><path fill="#f2701c" d="M308 351.2l-5 7h3l-2.200 6 6.800-8.200h-3.200l3-4.800z"/><path fill="#19b4f2" d="M267.1 350.2l-5 7h3l-2.200 6 6.800-8.200h-3.200l3-4.800zM124 352.6l-5 7h3l-2.200 6 6.800-8.200h-3.200l3-4.800zM149.3 355.6l-5 7h3l-2.200 6 6.800-8.200h-3.200l3-4.800zM155.5 357l-5 7h3l-2.200 6 6.800-8.200h-3.200l3-4.800zM213 350.4l-5 7h3l-2.200 6 6.800-8.200h-3.200l3-4.800zM264.2 350.7l-5 7h3l-2.200 6 6.800-8.200h-3.200l3-4.800zM140.2 352.4l-5 7h3l-2.200 6 6.800-8.200h-3.200l3-4.800z"/><path fill="#e8140e" d="M310.3 356.3l-5 7h3l-2.200 6 6.800-8.200h-3.200l3-4.800z"/><path fill="#19b4f2" d="M66.8 358l-5 7h3l-2.200 6 6.800-8.200h-3.200l3-4.800z"/><path fill="#ffff00" d="M317.4 355.3l-5 7h3l-2.200 6 6.800-8.200h-3.200l3-4.800z"/><path fill="#19b4f2" d="M184.8 351.5l-5 7h3l-2.200 6 6.800-8.200h-3.200l3-4.800zM95.2 356.9l-5 7h3l-2.200 6 6.800-8.200h-3.200l3-4.800zM211.6 357.8l-5 7h3l-2.200 6 6.800-8.200h-3.200l3-4.800zM119.8 350.7l-5 7h3l-2.200 6 6.800-8.200h-3.200l3-4.800zM200.5 357.4l-5 7h3l-2.200 6 6.800-8.200h-3.200l3-4.800zM72.2 355.9l-5 7h3l-2.200 6 6.800-8.200h-3.200l3-4.800zM197.9 350.6l-5 7h3l-2.200 6 6.800-8.200h-3.200l3-4.800zM134.2 352.1l-5 7h3l-2.200 6 6.800-8.200h-3.200l3-4.800z"/><path fill="#ffff00" d="M332.5 351l-5 7h3l-2.200 6 6.800-8.200h-3.200l3-4.800zM321.8 357.6l-5 7h3l-2.200 6 6.800-8.200h-3.200l3-4.800z"/><path fill="#f2701c" d="M289.8 355.9l-5 7h3l-2.200 6 6.800-8.200h-3.200l3-4.800z"/><path fill="#19b4f2" d="M187.2 356.5l-5 7h3l-2.200 6 6.800-8.200h-3.200l3-4.800z"/><path fill="#f2701c" d="M282.5 356.5l-5 7h3l-2.200 6 6.800-8.200h-3.200l3-4.800z"/><path fill="#19b4f2" d="M285.7 351.8l-5 7h3l-2.200 6 6.800-8.200h-3.200l3-4.800z"/><path fill="#f2701c" d="M329 358l-5 7h3l-2.200 6 6.800-8.200h-3.200l3-4.800z"/><path fill="#19b4f2" d="M64 356l-5 7h3l-2.200 6 6.800-8.200h-3.200l3-4.800z"/><path fill="#e8140e" d="M314.8 351.8l-5 7h3l-2.200 6 6.800-8.200h-3.200l3-4.800z"/><path fill="#19b4f2" d="M87.3 355.8l-5 7h3l-2.200 6 6.800-8.200h-3.200l3-4.800zM266.2 357l-5 7h3l-2.200 6 6.800-8.200h-3.200l3-4.800zM260 356l-5 7h3l-2.200 6 6.800-8.200h-3.200l3-4.800z"/><path fill="#8a1212" d="M71 352.5l-5 7h3l-2.200 6 6.800-8.200h-3.200l3-4.800z"/><path fill="#19b4f2" d="M142.2 356.7l-5 7h3l-2.200 6 6.800-8.200h-3.200l3-4.800zM220.7 355.4l-5 7h3l-2.200 6 6.800-8.200h-3.200l3-4.800zM233.5 355.3l-5 7h3l-2.200 6 6.800-8.200h-3.200l3-4.800zM143.3 352.5l-5 7h3l-2.200 6 6.800-8.200h-3.200l3-4.800zM167.3 351.7l-5 7h3l-2.200 6 6.800-8.200h-3.200l3-4.800zM91.3 355.6l-5 7h3l-2.200 6 6.800-8.200h-3.200l3-4.800zM181.3 357.1l-5 7h3l-2.200 6 6.800-8.200h-3.200l3-4.800zM243.5 358.1l-5 7h3l-2.200 6 6.800-8.200h-3.200l3-4.800zM270.5 358l-5 7h3l-2.200 6 6.800-8.200h-3.200l3-4.800zM306.7 356.2l-5 7h3l-2.200 6 6.800-8.200h-3.200l3-4.800zM253 355.7l-5 7h3l-2.200 6 6.800-8.200h-3.200l3-4.800zM113.9 356.4l-5 7h3l-2.200 6 6.800-8.200h-3.200l3-4.800zM80.5 356.1l-5 7h3l-2.200 6 6.800-8.200h-3.200l3-4.800zM146.8 355.6l-5 7h3l-2.200 6 6.800-8.200h-3.200l3-4.800zM159.3 356.9l-5 7h3l-2.200 6 6.800-8.200h-3.200l3-4.800zM172.2 361.4l-5 7h3l-2.200 6 6.800-8.200h-3.200l3-4.800zM132.3 358.1l-5 7h3l-2.200 6 6.800-8.200h-3.200l3-4.800zM239.2 358.2l-5 7h3l-2.200 6 6.800-8.200h-3.200l3-4.800zM195.6 356.6l-5 7h3l-2.200 6 6.800-8.200h-3.200l3-4.800zM302.5 355.4l-5 7h3l-2.200 6 6.800-8.200h-3.200l3-4.800zM293.6 356.9l-5 7h3l-2.200 6 6.800-8.200h-3.200l3-4.800zM178.7 356.5l-5 7h3l-2.200 6 6.800-8.200h-3.200l3-4.800zM118.2 356.8l-5 7h3l-2.200 6 6.800-8.200h-3.200l3-4.800zM173.8 357.1l-5 7h3l-2.200 6 6.800-8.200h-3.200l3-4.800zM165.7 355.8l-5 7h3l-2.200 6 6.800-8.200h-3.200l3-4.800zM256 356.2l-5 7h3l-2.200 6 6.800-8.200h-3.200l3-4.800zM243.8 361.3l-5 7h3l-2.200 6 6.800-8.200h-3.200l3-4.800zM119.7 361.6l-5 7h3l-2.200 6 6.800-8.200h-3.200l3-4.800zM136.1 357.8l-5 7h3l-2.200 6 6.800-8.200h-3.200l3-4.800z"/><path fill="#f2701c" d="M324.2 357.5l-5 7h3l-2.200 6 6.800-8.200h-3.200l3-4.800z"/><path fill="#19b4f2" d="M204.4 361.3l-5 7h3l-2.200 6 6.800-8.200h-3.200l3-4.800zM126.1 355.7l-5 7h3l-2.200 6 6.800-8.200h-3.200l3-4.800zM285.8 361.1l-5 7h3l-2.200 6 6.800-8.200h-3.200l3-4.800zM169.4 355.4l-5 7h3l-2.200 6 6.800-8.200h-3.200l3-4.800z"/><path fill="#ffff00" d="M321.5 362.5l-5 7h3l-2.200 6 6.800-8.200h-3.200l3-4.800z"/><path fill="#19b4f2" d="M125 362.6l-5 7h3l-2.200 6 6.800-8.200h-3.200l3-4.800zM293.8 362.2l-5 7h3l-2.200 6 6.800-8.200h-3.200l3-4.800zM76.4 356.8l-5 7h3l-2.200 6 6.800-8.200h-3.200l3-4.800zM109.3 356.5l-5 7h3l-2.200 6 6.800-8.200h-3.200l3-4.800z"/><path fill="#e8140e" d="M268 361.5l-5 7h3l-2.200 6 6.800-8.200h-3.200l3-4.800z"/><path fill="#19b4f2" d="M297.2 357.1l-5 7h3l-2.200 6 6.800-8.200h-3.200l3-4.800zM229.2 355.5l-5 7h3l-2.200 6 6.800-8.200h-3.200l3-4.800zM213.2 361.6l-5 7h3l-2.200 6 6.800-8.200h-3.200l3-4.800z"/><path fill="#e8140e" d="M270.9 361.3l-5 7h3l-2.200 6 6.800-8.200h-3.200l3-4.800zM279.5 356.5l-5 7h3l-2.200 6 6.800-8.200h-3.200l3-4.800z"/><path fill="#19b4f2" d="M92.1 362l-5 7h3l-2.200 6 6.800-8.200h-3.200l3-4.800zM246.7 356.3l-5 7h3l-2.200 6 6.800-8.200h-3.200l3-4.800zM100.6 356.5l-5 7h3l-2.200 6 6.800-8.200h-3.200l3-4.800zM186 363.6l-5 7h3l-2.200 6 6.800-8.200h-3.200l3-4.800zM121.5 358.1l-5 7h3l-2.200 6 6.800-8.200h-3.200l3-4.800zM215.4 356.7l-5 7h3l-2.200 6 6.800-8.200h-3.200l3-4.800z"/><path fill="#f2701c" d="M332.9 357.5l-5 7h3l-2.200 6 6.800-8.200h-3.200l3-4.800z"/><path fill="#19b4f2" d="M106.9 363.2l-5 7h3l-2.200 6 6.800-8.200h-3.200l3-4.800zM137.7 361.4l-5 7h3l-2.200 6 6.800-8.200h-3.200l3-4.800zM65.6 361.4l-5 7h3l-2.200 6 6.800-8.200h-3.200l3-4.800z"/><path fill="#ffff00" d="M276 362l-5 7h3l-2.200 6 6.800-8.200h-3.200l3-4.800z"/><path fill="#19b4f2" d="M236.8 363.4l-5 7h3l-2.200 6 6.800-8.200h-3.200l3-4.800zM301 362.5l-5 7h3l-2.200 6 6.800-8.200h-3.200l3-4.800zM134.7 361l-5 7h3l-2.200 6 6.800-8.200h-3.200l3-4.800zM111.1 362l-5 7h3l-2.200 6 6.800-8.200h-3.200l3-4.800z"/><path fill="#ffff00" d="M282.5 362.2l-5 7h3l-2.200 6 6.800-8.200h-3.200l3-4.800z"/><path fill="#19b4f2" d="M83.1 361.3l-5 7h3l-2.200 6 6.800-8.200h-3.200l3-4.800zM143.6 362.8l-5 7h3l-2.200 6 6.800-8.200h-3.200l3-4.800zM101.6 363.1l-5 7h3l-2.200 6 6.800-8.200h-3.200l3-4.800zM222.9 357.9l-5 7h3l-2.200 6 6.800-8.200h-3.200l3-4.800zM248 363l-5 7h3l-2.200 6 6.800-8.200h-3.200l3-4.800zM152.3 361.2l-5 7h3l-2.200 6 6.800-8.200h-3.200l3-4.800zM162.3 363.3l-5 7h3l-2.200 6 6.800-8.200h-3.200l3-4.800zM264.2 361.9l-5 7h3l-2.200 6 6.800-8.200h-3.200l3-4.800zM165.5 362.9l-5 7h3l-2.200 6 6.800-8.200h-3.200l3-4.800zM73.2 361.2l-5 7h3l-2.200 6 6.800-8.200h-3.200l3-4.800zM216.2 363.3l-5 7h3l-2.200 6 6.800-8.200h-3.200l3-4.800zM71.5 366.5l-5 7h3l-2.200 6 6.800-8.200h-3.200l3-4.800zM87.1 361.3l-5 7h3l-2.200 6 6.800-8.200h-3.200l3-4.800zM188.6 363.1l-5 7h3l-2.200 6 6.800-8.200h-3.200l3-4.800zM149.2 361.1l-5 7h3l-2.200 6 6.800-8.200h-3.200l3-4.800zM70.9 362l-5 7h3l-2.200 6 6.800-8.200h-3.200l3-4.800zM195.1 363.8l-5 7h3l-2.200 6 6.800-8.200h-3.200l3-4.800z"/><path fill="#f2701c" d="M331.7 361.9l-5 7h3l-2.200 6 6.800-8.200h-3.200l3-4.800z"/><path fill="#19b4f2" d="M260.2 366.7l-5 7h3l-2.200 6 6.800-8.200h-3.200l3-4.800zM305.1 363l-5 7h3l-2.200 6 6.800-8.200h-3.200l3-4.800z"/><path fill="#ffff00" d="M314.9 363.1l-5 7h3l-2.200 6 6.800-8.200h-3.200l3-4.800z"/><path fill="#f2701c" d="M335.3 361.3l-5 7h3l-2.200 6 6.800-8.200h-3.200l3-4.800z"/><path fill="#19b4f2" d="M128.9 367.1l-5 7h3l-2.200 6 6.800-8.200h-3.200l3-4.800z"/><path fill="#ffff00" d="M278.5 367.7l-5 7h3l-2.200 6 6.800-8.200h-3.200l3-4.800z"/><path fill="#f2701c" d="M326.1 363.1l-5 7h3l-2.200 6 6.800-8.200h-3.200l3-4.800z"/><path fill="#19b4f2" d="M156.9 362.4l-5 7h3l-2.200 6 6.800-8.200h-3.200l3-4.800zM128.3 362.2l-5 7h3l-2.200 6 6.800-8.200h-3.200l3-4.800zM220.6 363.7l-5 7h3l-2.200 6 6.800-8.200h-3.200l3-4.800zM234 368.1l-5 7h3l-2.200 6 6.800-8.200h-3.200l3-4.800zM290.5 362.9l-5 7h3l-2.200 6 6.800-8.200h-3.200l3-4.800zM101.1 368.1l-5 7h3l-2.200 6 6.800-8.200h-3.200l3-4.800zM289.8 366.5l-5 7h3l-2.200 6 6.800-8.200h-3.200l3-4.800zM97.1 362l-5 7h3l-2.200 6 6.800-8.200h-3.200l3-4.800z"/><path fill="#ffff00" d="M314.5 367l-5 7h3l-2.200 6 6.800-8.200h-3.200l3-4.800z"/><path fill="#19b4f2" d="M180.1 363.5l-5 7h3l-2.200 6 6.800-8.200h-3.200l3-4.800z"/><path fill="#ffff00" d="M316.9 361.6l-5 7h3l-2.200 6 6.800-8.200h-3.200l3-4.800z"/><path fill="#19b4f2" d="M255.3 361l-5 7h3l-2.200 6 6.800-8.200h-3.200l3-4.800zM197.5 362l-5 7h3l-2.200 6 6.800-8.200h-3.200l3-4.800zM285.2 367l-5 7h3l-2.200 6 6.800-8.200h-3.200l3-4.800zM103.3 366.5l-5 7h3l-2.200 6 6.800-8.200h-3.200l3-4.800zM186.9 366.6l-5 7h3l-2.200 6 6.800-8.200h-3.200l3-4.800zM155.9 368.3l-5 7h3l-2.200 6 6.800-8.200h-3.200l3-4.800zM241.1 362.7l-5 7h3l-2.200 6 6.800-8.200h-3.200l3-4.800zM308.3 368.1l-5 7h3l-2.200 6 6.800-8.200h-3.200l3-4.800zM226.9 362.1l-5 7h3l-2.200 6 6.800-8.200h-3.200l3-4.800z"/><path fill="#ffff00" d="M117 363.7l-5 7h3l-2.200 6 6.800-8.200h-3.200l3-4.800z"/><path fill="#19b4f2" d="M308.5 363.1l-5 7h3l-2.200 6 6.800-8.200h-3.200l3-4.800zM208.1 363.2l-5 7h3l-2.200 6 6.800-8.200h-3.200l3-4.800zM79.9 362.9l-5 7h3l-2.200 6 6.800-8.200h-3.200l3-4.800zM116.8 368.4l-5 7h3l-2.200 6 6.800-8.200h-3.200l3-4.800zM177 362.9l-5 7h3l-2.200 6 6.800-8.200h-3.200l3-4.800zM123.7 366.5l-5 7h3l-2.200 6 6.800-8.200h-3.200l3-4.800zM243.3 368l-5 7h3l-2.200 6 6.800-8.200h-3.200l3-4.800zM169.1 369.3l-5 7h3l-2.200 6 6.800-8.200h-3.200l3-4.800zM227.7 366.9l-5 7h3l-2.200 6 6.800-8.200h-3.200l3-4.800zM131.7 366.6l-5 7h3l-2.200 6 6.800-8.200h-3.200l3-4.800zM293 369l-5 7h3l-2.200 6 6.800-8.200h-3.200l3-4.800zM84.7 368.6l-5 7h3l-2.200 6 6.800-8.200h-3.200l3-4.800zM94.8 369.2l-5 7h3l-2.200 6 6.800-8.200h-3.200l3-4.800zM229.7 363.2l-5 7h3l-2.200 6 6.800-8.200h-3.200l3-4.800zM257.4 363.1l-5 7h3l-2.200 6 6.800-8.200h-3.200l3-4.800zM159.2 368.4l-5 7h3l-2.200 6 6.800-8.200h-3.200l3-4.800zM89.6 366.9l-5 7h3l-2.200 6 6.800-8.200h-3.200l3-4.800z"/><path fill="#e8140e" d="M269.1 367.2l-5 7h3l-2.200 6 6.800-8.200h-3.200l3-4.800z"/><path fill="#ffff00" d="M338 368l-5 7h3l-2.200 6 6.800-8.200h-3.200l3-4.800z"/><path fill="#19b4f2" d="M107.6 366.9l-5 7h3l-2.200 6 6.800-8.200h-3.200l3-4.800zM219.2 368.9l-5 7h3l-2.200 6 6.800-8.200h-3.200l3-4.800z"/><path fill="#f2701c" d="M303.3 368.7l-5 7h3l-2.200 6 6.800-8.200h-3.200l3-4.800z"/><path fill="#19b4f2" d="M114.3 368.7l-5 7h3l-2.200 6 6.800-8.200h-3.200l3-4.800zM251.4 368l-5 7h3l-2.200 6 6.800-8.200h-3.200l3-4.800z"/><path fill="#f2701c" d="M324.7 366.8l-5 7h3l-2.200 6 6.800-8.200h-3.200l3-4.800z"/><path fill="#ffff00" d="M330 368.9l-5 7h3l-2.200 6 6.800-8.200h-3.200l3-4.800z"/><path fill="#19b4f2" d="M290 372.7l-5 7h3l-2.200 6 6.800-8.200h-3.200l3-4.800zM209.4 368.4l-5 7h3l-2.200 6 6.800-8.200h-3.200l3-4.800zM140.9 369.4l-5 7h3l-2.200 6 6.800-8.200h-3.200l3-4.800zM152 372.8l-5 7h3l-2.200 6 6.800-8.200h-3.200l3-4.800zM256 366.6l-5 7h3l-2.200 6 6.800-8.200h-3.200l3-4.800zM244.1 372.6l-5 7h3l-2.200 6 6.800-8.200h-3.200l3-4.800zM144.2 372.6l-5 7h3l-2.200 6 6.800-8.200h-3.200l3-4.800zM149 368l-5 7h3l-2.200 6 6.800-8.200h-3.200l3-4.800zM183.4 367.7l-5 7h3l-2.200 6 6.800-8.200h-3.200l3-4.800zM295.7 373.1l-5 7h3l-2.200 6 6.800-8.200h-3.200l3-4.800zM313.8 372.3l-5 7h3l-2.200 6 6.800-8.200h-3.200l3-4.800z"/><path fill="#e8140e" d="M266.3 368.3l-5 7h3l-2.200 6 6.800-8.200h-3.200l3-4.800z"/><path fill="#19b4f2" d="M163.5 366.7l-5 7h3l-2.200 6 6.800-8.200h-3.200l3-4.800zM68.2 367.4l-5 7h3l-2.200 6 6.800-8.200h-3.200l3-4.800zM248.7 372.4l-5 7h3l-2.200 6 6.800-8.200h-3.200l3-4.800zM223.8 366.6l-5 7h3l-2.200 6 6.800-8.200h-3.200l3-4.800zM80.9 369l-5 7h3l-2.200 6 6.800-8.200h-3.200l3-4.800zM146.5 367.3l-5 7h3l-2.200 6 6.800-8.200h-3.200l3-4.800zM220.3 373.8l-5 7h3l-2.200 6 6.800-8.200h-3.200l3-4.800zM212.8 373.4l-5 7h3l-2.200 6 6.800-8.200h-3.200l3-4.800zM216.2 373.3l-5 7h3l-2.200 6 6.800-8.200h-3.200l3-4.800z"/><path fill="#ffff00" d="M273.2 368.1l-5 7h3l-2.200 6 6.800-8.200h-3.200l3-4.800zM312.7 367.8l-5 7h3l-2.200 6 6.800-8.200h-3.200l3-4.800z"/><path fill="#19b4f2" d="M197.3 368l-5 7h3l-2.200 6 6.800-8.200h-3.200l3-4.800z"/><path fill="#ffff00" d="M272.4 373.5l-5 7h3l-2.200 6 6.800-8.200h-3.200l3-4.800z"/><path fill="#19b4f2" d="M207.1 368.8l-5 7h3l-2.200 6 6.800-8.200h-3.200l3-4.800zM157.4 373.7l-5 7h3l-2.200 6 6.800-8.200h-3.200l3-4.800zM160.9 372.4l-5 7h3l-2.200 6 6.800-8.200h-3.200l3-4.800zM174.4 369.4l-5 7h3l-2.200 6 6.800-8.200h-3.200l3-4.800zM199.7 368.3l-5 7h3l-2.200 6 6.800-8.200h-3.200l3-4.800zM93.7 373l-5 7h3l-2.200 6 6.800-8.200h-3.200l3-4.800zM178.7 367.5l-5 7h3l-2.200 6 6.800-8.200h-3.200l3-4.800zM200.1 372.9l-5 7h3l-2.200 6 6.800-8.200h-3.200l3-4.800z"/><path fill="#ffff00" d="M333.7 367.5l-5 7h3l-2.200 6 6.800-8.200h-3.200l3-4.800zM332.1 373.3l-5 7h3l-2.200 6 6.800-8.200h-3.200l3-4.800zM319.1 367.5l-5 7h3l-2.200 6 6.800-8.200h-3.200l3-4.800z"/><path fill="#19b4f2" d="M185.1 373.9l-5 7h3l-2.200 6 6.800-8.200h-3.200l3-4.800zM192.7 367.9l-5 7h3l-2.200 6 6.800-8.200h-3.200l3-4.800z"/><path fill="#ffff00" d="M281.9 372.9l-5 7h3l-2.200 6 6.800-8.200h-3.200l3-4.800z"/><path fill="#19b4f2" d="M247.9 369.3l-5 7h3l-2.200 6 6.800-8.200h-3.200l3-4.800z"/><path fill="#ffff00" d="M258.8 372.5l-5 7h3l-2.200 6 6.800-8.200h-3.200l3-4.800z"/><path fill="#19b4f2" d="M84 373.1l-5 7h3l-2.200 6 6.800-8.200h-3.200l3-4.800zM237.6 368.4l-5 7h3l-2.200 6 6.800-8.200h-3.200l3-4.800zM297.1 369.1l-5 7h3l-2.200 6 6.800-8.200h-3.200l3-4.800zM77.5 369.4l-5 7h3l-2.200 6 6.800-8.200h-3.200l3-4.800zM235.6 372.3l-5 7h3l-2.200 6 6.800-8.200h-3.200l3-4.800zM105.4 372.2l-5 7h3l-2.200 6 6.800-8.200h-3.200l3-4.800zM216 369l-5 7h3l-2.200 6 6.800-8.200h-3.200l3-4.800z"/><path fill="#f2701c" d="M342.7 372.2l-5 7h3l-2.200 6 6.800-8.200h-3.200l3-4.800zM319.3 374.9l-5 7h3l-2.200 6 6.800-8.200h-3.200l3-4.800z"/><path fill="#19b4f2" d="M136.5 369.1l-5 7h3l-2.200 6 6.800-8.200h-3.200l3-4.800zM112.7 372.2l-5 7h3l-2.200 6 6.800-8.200h-3.200l3-4.800zM275.5 372.2l-5 7h3l-2.200 6 6.800-8.200h-3.200l3-4.800z"/><path fill="#ffff00" d="M336.2 372.8l-5 7h3l-2.200 6 6.800-8.200h-3.200l3-4.800z"/><path fill="#19b4f2" d="M180.5 374.6l-5 7h3l-2.200 6 6.800-8.200h-3.200l3-4.800z"/><path fill="#ffff00" d="M286.6 372.2l-5 7h3l-2.200 6 6.800-8.200h-3.200l3-4.800zM254.6 372.1l-5 7h3l-2.200 6 6.800-8.200h-3.200l3-4.800z"/><path fill="#19b4f2" d="M188.2 374.1l-5 7h3l-2.200 6 6.800-8.200h-3.200l3-4.800zM119.6 374.6l-5 7h3l-2.200 6 6.800-8.200h-3.200l3-4.800z"/><path fill="#ffff00" d="M309.3 373l-5 7h3l-2.200 6 6.800-8.200h-3.200l3-4.800z"/><path fill="#19b4f2" d="M232.1 373.3l-5 7h3l-2.200 6 6.800-8.200h-3.200l3-4.800zM169.7 372.3l-5 7h3l-2.200 6 6.800-8.200h-3.200l3-4.800zM207.3 373.6l-5 7h3l-2.200 6 6.800-8.200h-3.200l3-4.800zM130.1 372.5l-5 7h3l-2.200 6 6.800-8.200h-3.200l3-4.800zM126.4 372.4l-5 7h3l-2.200 6 6.800-8.200h-3.200l3-4.800zM227 373.6l-5 7h3l-2.200 6 6.800-8.200h-3.200l3-4.800z"/><path fill="#f2701c" d="M320.7 378.2l-5 7h3l-2.200 6 6.800-8.200h-3.200l3-4.800z"/><path fill="#19b4f2" d="M239.9 373.3l-5 7h3l-2.200 6 6.800-8.200h-3.200l3-4.800zM174.9 373.4l-5 7h3l-2.200 6 6.800-8.200h-3.200l3-4.800zM98.3 372.5l-5 7h3l-2.200 6 6.800-8.200h-3.200l3-4.800zM218.2 378.5l-5 7h3l-2.200 6 6.800-8.200h-3.200l3-4.800zM126.7 379.1l-5 7h3l-2.200 6 6.800-8.200h-3.200l3-4.800z"/><path fill="#ffff00" d="M326.8 372.7l-5 7h3l-2.200 6 6.800-8.200h-3.200l3-4.800z"/><path fill="#e8140e" d="M512.8 378.8l-5 7h3l-2.200 6 6.800-8.200h-3.200l3-4.800z"/><path fill="#19b4f2" d="M116.4 374l-5 7h3l-2.200 6 6.800-8.200h-3.200l3-4.800z"/><path fill="#ffff00" d="M357.3 378.2l-5 7h3l-2.200 6 6.800-8.200h-3.200l3-4.800z"/><path fill="#19b4f2" d="M68.5 373.1l-5 7h3l-2.200 6 6.800-8.200h-3.200l3-4.800zM87.1 372.6l-5 7h3l-2.200 6 6.800-8.200h-3.200l3-4.800zM299.2 373.2l-5 7h3l-2.200 6 6.800-8.200h-3.200l3-4.800zM247.1 378.3l-5 7h3l-2.200 6 6.800-8.200h-3.200l3-4.800zM194.4 372.7l-5 7h3l-2.200 6 6.800-8.200h-3.200l3-4.800z"/><path fill="#ffff00" d="M264.3 374.9l-5 7h3l-2.200 6 6.800-8.200h-3.200l3-4.800z"/><path fill="#19b4f2" d="M79.5 373l-5 7h3l-2.200 6 6.800-8.200h-3.200l3-4.800zM85.3 378.7l-5 7h3l-2.200 6 6.800-8.200h-3.200l3-4.800zM118.3 378.8l-5 7h3l-2.200 6 6.800-8.200h-3.200l3-4.800z"/><path fill="#ffff00" d="M324.4 374l-5 7h3l-2.200 6 6.800-8.200h-3.200l3-4.800z"/><path fill="#19b4f2" d="M131.3 379.3l-5 7h3l-2.200 6 6.800-8.200h-3.200l3-4.800z"/><path fill="#ffff00" d="M275.3 378.9l-5 7h3l-2.200 6 6.800-8.200h-3.200l3-4.800z"/><path fill="#8a1212" d="M326.4 378.7l-5 7h3l-2.200 6 6.800-8.200h-3.200l3-4.800z"/><path fill="#ffff00" d="M305.5 373.8l-5 7h3l-2.200 6 6.800-8.200h-3.200l3-4.800zM523.3 378.9l-5 7h3l-2.200 6 6.800-8.200h-3.200l3-4.800zM353 378.5l-5 7h3l-2.200 6 6.800-8.200h-3.200l3-4.800z"/><path fill="#19b4f2" d="M163.9 378.1l-5 7h3l-2.200 6 6.800-8.200h-3.200l3-4.800zM101 372.9l-5 7h3l-2.200 6 6.800-8.200h-3.200l3-4.800zM172.4 379.7l-5 7h3l-2.200 6 6.800-8.200h-3.200l3-4.800zM227.7 379.1l-5 7h3l-2.200 6 6.800-8.200h-3.200l3-4.800zM241.9 380.3l-5 7h3l-2.200 6 6.800-8.200h-3.200l3-4.800zM133.4 373.5l-5 7h3l-2.200 6 6.800-8.200h-3.200l3-4.800z"/><path fill="#ffff00" d="M266.7 374.8l-5 7h3l-2.200 6 6.800-8.200h-3.200l3-4.800z"/><path fill="#19b4f2" d="M123.4 378l-5 7h3l-2.200 6 6.800-8.200h-3.200l3-4.800z"/><path fill="#ffff00" d="M94.7 378.1l-5 7h3l-2.200 6 6.800-8.200h-3.200l3-4.800z"/><path fill="#19b4f2" d="M202.5 374.7l-5 7h3l-2.200 6 6.800-8.200h-3.200l3-4.800z"/><path fill="#ffff00" d="M339.8 380.1l-5 7h3l-2.200 6 6.800-8.200h-3.200l3-4.800z"/><path fill="#19b4f2" d="M139.3 375.1l-5 7h3l-2.200 6 6.800-8.200h-3.200l3-4.800z"/><path fill="#ffff00" d="M197.6 380.7l-5 7h3l-2.200 6 6.800-8.200h-3.200l3-4.800z"/><path fill="#19b4f2" d="M148.6 374l-5 7h3l-2.200 6 6.800-8.200h-3.200l3-4.800zM156.3 377.8l-5 7h3l-2.200 6 6.800-8.200h-3.200l3-4.800zM71.8 379.7l-5 7h3l-2.200 6 6.800-8.200h-3.200l3-4.800z"/><path fill="#f2701c" d="M334.2 378.2l-5 7h3l-2.200 6 6.800-8.200h-3.200l3-4.800z"/><path fill="#ffff00" d="M74.9 374.7l-5 7h3l-2.200 6 6.800-8.200h-3.200l3-4.800z"/><path fill="#19b4f2" d="M165.9 374.8l-5 7h3l-2.200 6 6.800-8.200h-3.200l3-4.800z"/><path fill="#8a1212" d="M351.1 375.1l-5 7h3l-2.200 6 6.800-8.200h-3.200l3-4.800z"/><path fill="#f2701c" d="M331 378.8l-5 7h3l-2.200 6 6.800-8.200h-3.200l3-4.800z"/><path fill="#19b4f2" d="M170.3 379.6l-5 7h3l-2.200 6 6.800-8.200h-3.200l3-4.800z"/><path fill="#ffff00" d="M315.6 380.1l-5 7h3l-2.200 6 6.800-8.200h-3.200l3-4.800z"/><path fill="#19b4f2" d="M237.5 379.3l-5 7h3l-2.200 6 6.800-8.200h-3.200l3-4.800zM113.5 379.6l-5 7h3l-2.200 6 6.800-8.200h-3.200l3-4.800zM142.4 380l-5 7h3l-2.200 6 6.800-8.200h-3.200l3-4.800zM75.8 379.2l-5 7h3l-2.200 6 6.800-8.200h-3.200l3-4.800z"/><path fill="#ffff00" d="M189.8 383.3l-5 7h3l-2.200 6 6.800-8.200h-3.200l3-4.800zM257.2 379.8l-5 7h3l-2.200 6 6.800-8.200h-3.200l3-4.800zM287.7 380.4l-5 7h3l-2.200 6 6.800-8.200h-3.200l3-4.800z"/><path fill="#8a1212" d="M278.8 379.8l-5 7h3l-2.200 6 6.800-8.200h-3.200l3-4.800z"/><path fill="#19b4f2" d="M183.9 379.2l-5 7h3l-2.200 6 6.800-8.200h-3.200l3-4.800z"/><path fill="#ffff00" d="M265.3 378.1l-5 7h3l-2.200 6 6.800-8.200h-3.200l3-4.800z"/><path fill="#19b4f2" d="M80.8 378.9l-5 7h3l-2.200 6 6.800-8.200h-3.200l3-4.800z"/><path fill="#ffff00" d="M518.1 378l-5 7h3l-2.200 6 6.800-8.200h-3.200l3-4.800z"/><path fill="#19b4f2" d="M157.5 384.3l-5 7h3l-2.200 6 6.800-8.200h-3.200l3-4.800z"/><path fill="#ffff00" d="M294.9 383.5l-5 7h3l-2.200 6 6.800-8.200h-3.200l3-4.800zM211 379.9l-5 7h3l-2.200 6 6.800-8.200h-3.200l3-4.800z"/><path fill="#19b4f2" d="M206.7 384.2l-5 7h3l-2.200 6 6.800-8.200h-3.200l3-4.800z"/><path fill="#ffff00" d="M192.7 383.7l-5 7h3l-2.200 6 6.800-8.200h-3.200l3-4.800z"/><path fill="#19b4f2" d="M223.2 379.1l-5 7h3l-2.200 6 6.800-8.200h-3.200l3-4.800zM159.4 380.7l-5 7h3l-2.200 6 6.800-8.200h-3.200l3-4.800zM296.3 380.4l-5 7h3l-2.200 6 6.800-8.200h-3.200l3-4.800z"/><path fill="#ffff00" d="M89.6 378.3l-5 7h3l-2.200 6 6.800-8.200h-3.200l3-4.800z"/><path fill="#19b4f2" d="M200 380.1l-5 7h3l-2.200 6 6.800-8.200h-3.200l3-4.800zM128.4 384.2l-5 7h3l-2.200 6 6.800-8.200h-3.200l3-4.800zM163.1 383.5l-5 7h3l-2.200 6 6.800-8.200h-3.200l3-4.800zM202.4 384.7l-5 7h3l-2.200 6 6.800-8.200h-3.200l3-4.800zM252.8 379.5l-5 7h3l-2.200 6 6.800-8.200h-3.200l3-4.800z"/><path fill="#ffff00" d="M291.9 379.4l-5 7h3l-2.200 6 6.800-8.200h-3.200l3-4.800z"/><path fill="#19b4f2" d="M110.3 383.9l-5 7h3l-2.200 6 6.800-8.200h-3.200l3-4.800zM205.1 377.8l-5 7h3l-2.200 6 6.800-8.200h-3.200l3-4.800z"/><path fill="#e8140e" d="M96.2 384.1l-5 7h3l-2.200 6 6.800-8.200h-3.200l3-4.800z"/><path fill="#19b4f2" d="M309.9 383.6l-5 7h3l-2.200 6 6.800-8.200h-3.200l3-4.800zM190.5 377.9l-5 7h3l-2.200 6 6.800-8.200h-3.200l3-4.800z"/><path fill="#ffff00" d="M269.6 380.3l-5 7h3l-2.200 6 6.800-8.200h-3.200l3-4.800zM260.2 379.4l-5 7h3l-2.200 6 6.800-8.200h-3.200l3-4.800zM344.5 379.5l-5 7h3l-2.200 6 6.800-8.200h-3.200l3-4.800z"/><path fill="#19b4f2" d="M147.7 384.2l-5 7h3l-2.200 6 6.800-8.200h-3.200l3-4.800z"/><path fill="#ffff00" d="M290.9 384.4l-5 7h3l-2.200 6 6.800-8.200h-3.200l3-4.800z"/><path fill="#19b4f2" d="M99.2 379l-5 7h3l-2.200 6 6.800-8.200h-3.200l3-4.800z"/><path fill="#ffff00" d="M258.1 385.1l-5 7h3l-2.200 6 6.800-8.200h-3.200l3-4.800z"/><path fill="#e8140e" d="M347.7 380.4l-5 7h3l-2.200 6 6.800-8.200h-3.200l3-4.800z"/><path fill="#ffff00" d="M515.2 384.2l-5 7h3l-2.200 6 6.800-8.200h-3.200l3-4.800zM492.1 385.2l-5 7h3l-2.200 6 6.800-8.200h-3.200l3-4.800z"/><path fill="#e8140e" d="M509.7 378.9l-5 7h3l-2.200 6 6.800-8.200h-3.200l3-4.800z"/><path fill="#19b4f2" d="M149.5 378.9l-5 7h3l-2.200 6 6.800-8.200h-3.200l3-4.800z"/><path fill="#f2701c" d="M248.9 385.6l-5 7h3l-2.200 6 6.800-8.200h-3.200l3-4.800z"/><path fill="#ffff00" d="M360.5 380.6l-5 7h3l-2.200 6 6.800-8.200h-3.200l3-4.800z"/><path fill="#19b4f2" d="M105 379.4l-5 7h3l-2.200 6 6.800-8.200h-3.200l3-4.800zM233.2 379.5l-5 7h3l-2.200 6 6.800-8.200h-3.200l3-4.800zM178.1 380.2l-5 7h3l-2.200 6 6.800-8.200h-3.200l3-4.800z"/><path fill="#f2701c" d="M489.2 386l-5 7h3l-2.200 6 6.800-8.200h-3.200l3-4.800z"/><path fill="#19b4f2" d="M135.1 380.3l-5 7h3l-2.200 6 6.800-8.200h-3.200l3-4.800zM227 383.9l-5 7h3l-2.200 6 6.800-8.200h-3.200l3-4.800zM110.4 379.5l-5 7h3l-2.200 6 6.800-8.200h-3.200l3-4.800z"/><path fill="#8a1212" d="M284.2 378.9l-5 7h3l-2.200 6 6.800-8.200h-3.200l3-4.800zM281 385.3l-5 7h3l-2.200 6 6.800-8.200h-3.200l3-4.800z"/><path fill="#ffff00" d="M499 384.2l-5 7h3l-2.200 6 6.800-8.200h-3.200l3-4.800zM277.4 384l-5 7h3l-2.200 6 6.800-8.200h-3.200l3-4.800zM272.7 383.4l-5 7h3l-2.200 6 6.800-8.200h-3.200l3-4.800zM80.2 385.1l-5 7h3l-2.200 6 6.800-8.200h-3.200l3-4.800z"/><path fill="#19b4f2" d="M187.7 379.2l-5 7h3l-2.200 6 6.800-8.200h-3.200l3-4.800zM241.4 384.9l-5 7h3l-2.200 6 6.800-8.200h-3.200l3-4.800zM135.7 383.6l-5 7h3l-2.200 6 6.800-8.200h-3.200l3-4.800zM126 385.5l-5 7h3l-2.200 6 6.800-8.200h-3.200l3-4.800zM121.2 383.7l-5 7h3l-2.200 6 6.800-8.200h-3.200l3-4.800z"/><path fill="#ffff00" d="M538.9 384.3l-5 7h3l-2.200 6 6.800-8.200h-3.200l3-4.800z"/><path fill="#19b4f2" d="M213.4 380.6l-5 7h3l-2.200 6 6.800-8.200h-3.200l3-4.800z"/><path fill="#ffff00" d="M198 386.2l-5 7h3l-2.200 6 6.800-8.200h-3.200l3-4.800zM542.6 385.4l-5 7h3l-2.200 6 6.800-8.200h-3.200l3-4.800z"/><path fill="#19b4f2" d="M146.8 380.6l-5 7h3l-2.200 6 6.800-8.200h-3.200l3-4.800z"/><path fill="#ffff00" d="M311.8 380.4l-5 7h3l-2.200 6 6.800-8.200h-3.200l3-4.800zM305.3 380.2l-5 7h3l-2.200 6 6.800-8.200h-3.200l3-4.800zM167.8 384.9l-5 7h3l-2.200 6 6.800-8.200h-3.200l3-4.800zM88.6 386.2l-5 7h3l-2.200 6 6.800-8.200h-3.200l3-4.800zM328.6 386.1l-5 7h3l-2.200 6 6.800-8.200h-3.200l3-4.800z"/><path fill="#19b4f2" d="M305.6 385.1l-5 7h3l-2.200 6 6.800-8.200h-3.200l3-4.800z"/><path fill="#ffff00" d="M185.6 384.3l-5 7h3l-2.200 6 6.800-8.200h-3.200l3-4.800zM534.8 386.2l-5 7h3l-2.200 6 6.800-8.200h-3.200l3-4.800z"/><path fill="#f2701c" d="M302.8 380.2l-5 7h3l-2.200 6 6.800-8.200h-3.200l3-4.800z"/><path fill="#ffff00" d="M363.2 385.8l-5 7h3l-2.200 6 6.800-8.200h-3.200l3-4.800z"/><path fill="#f2701c" d="M285.8 384.5l-5 7h3l-2.200 6 6.800-8.200h-3.200l3-4.800zM212.7 384.7l-5 7h3l-2.200 6 6.800-8.200h-3.200l3-4.800z"/><path fill="#ffff00" d="M333.4 385.1l-5 7h3l-2.200 6 6.800-8.200h-3.200l3-4.800zM358.5 384.2l-5 7h3l-2.200 6 6.800-8.200h-3.200l3-4.800z"/><path fill="#19b4f2" d="M70.7 384.7l-5 7h3l-2.200 6 6.800-8.200h-3.200l3-4.800z"/><path fill="#ffff00" d="M301.2 385.6l-5 7h3l-2.200 6 6.800-8.200h-3.200l3-4.800z"/><path fill="#e8140e" d="M345.7 384.4l-5 7h3l-2.200 6 6.800-8.200h-3.200l3-4.800z"/><path fill="#ffff00" d="M84.5 383.6l-5 7h3l-2.200 6 6.800-8.200h-3.200l3-4.800z"/><path fill="#19b4f2" d="M107.8 383.7l-5 7h3l-2.200 6 6.800-8.200h-3.200l3-4.800zM317.8 385.8l-5 7h3l-2.200 6 6.800-8.200h-3.200l3-4.800z"/><path fill="#ffff00" d="M180.5 385.3l-5 7h3l-2.200 6 6.800-8.200h-3.200l3-4.800zM267.4 386l-5 7h3l-2.200 6 6.800-8.200h-3.200l3-4.800z"/><path fill="#f2701c" d="M216.6 386.3l-5 7h3l-2.200 6 6.800-8.200h-3.200l3-4.800z"/><path fill="#19b4f2" d="M229.6 384.9l-5 7h3l-2.200 6 6.800-8.200h-3.200l3-4.800z"/><path fill="#ffff00" d="M220.1 389.1l-5 7h3l-2.200 6 6.800-8.200h-3.200l3-4.800zM480.5 385.9l-5 7h3l-2.200 6 6.800-8.200h-3.200l3-4.800z"/><path fill="#e8140e" d="M172.2 384.3l-5 7h3l-2.200 6 6.800-8.200h-3.200l3-4.800z"/><path fill="#19b4f2" d="M321.9 384.8l-5 7h3l-2.200 6 6.800-8.200h-3.200l3-4.800zM153.5 384.5l-5 7h3l-2.200 6 6.800-8.200h-3.200l3-4.800zM521.7 384.8l-5 7h3l-2.200 6 6.800-8.200h-3.200l3-4.800z"/><path fill="#ffff00" d="M530.1 384.1l-5 7h3l-2.200 6 6.800-8.200h-3.200l3-4.800zM255.2 386.3l-5 7h3l-2.200 6 6.800-8.200h-3.200l3-4.800zM439.8 389.6l-5 7h3l-2.200 6 6.800-8.200h-3.200l3-4.800z"/><path fill="#e8140e" d="M163 390.5l-5 7h3l-2.200 6 6.800-8.200h-3.200l3-4.800z"/><path fill="#19b4f2" d="M501.5 384.3l-5 7h3l-2.200 6 6.800-8.200h-3.200l3-4.800z"/><path fill="#e8140e" d="M93.7 386.2l-5 7h3l-2.200 6 6.800-8.200h-3.200l3-4.800z"/><path fill="#f2701c" d="M132.9 390.6l-5 7h3l-2.200 6 6.800-8.200h-3.200l3-4.800z"/><path fill="#ffff00" d="M512.3 384.3l-5 7h3l-2.200 6 6.800-8.200h-3.200l3-4.800z"/><path fill="#19b4f2" d="M234.6 385.7l-5 7h3l-2.200 6 6.800-8.200h-3.200l3-4.800z"/><path fill="#ffff00" d="M526.5 385.3l-5 7h3l-2.200 6 6.800-8.200h-3.200l3-4.800z"/><path fill="#19b4f2" d="M243.4 383.8l-5 7h3l-2.200 6 6.800-8.200h-3.200l3-4.800z"/><path fill="#ffff00" d="M335.7 385.5l-5 7h3l-2.200 6 6.800-8.200h-3.200l3-4.800z"/><path fill="#19b4f2" d="M115.6 386.1l-5 7h3l-2.200 6 6.800-8.200h-3.200l3-4.800z"/><path fill="#f2701c" d="M316.2 391.2l-5 7h3l-2.200 6 6.800-8.200h-3.200l3-4.800z"/><path fill="#8a1212" d="M73.4 389.6l-5 7h3l-2.200 6 6.800-8.200h-3.200l3-4.800z"/><path fill="#19b4f2" d="M101 386l-5 7h3l-2.200 6 6.800-8.200h-3.200l3-4.800zM238.7 389.8l-5 7h3l-2.200 6 6.800-8.200h-3.200l3-4.800z"/><path fill="#ffff00" d="M264.4 386.2l-5 7h3l-2.200 6 6.800-8.200h-3.200l3-4.800z"/><path fill="#19b4f2" d="M138.2 384l-5 7h3l-2.200 6 6.800-8.200h-3.200l3-4.800z"/><path fill="#ffff00" d="M540.4 389.1l-5 7h3l-2.200 6 6.800-8.200h-3.200l3-4.800zM177.6 389.9l-5 7h3l-2.200 6 6.800-8.200h-3.200l3-4.800zM287.6 390.5l-5 7h3l-2.200 6 6.800-8.200h-3.200l3-4.800zM355.5 384.7l-5 7h3l-2.200 6 6.800-8.200h-3.200l3-4.800z"/><path fill="#19b4f2" d="M141.2 390l-5 7h3l-2.200 6 6.800-8.200h-3.200l3-4.800z"/><path fill="#ffff00" d="M436.9 389.2l-5 7h3l-2.200 6 6.800-8.200h-3.200l3-4.800zM246.8 390.4l-5 7h3l-2.200 6 6.800-8.200h-3.200l3-4.800z"/><path fill="#19b4f2" d="M109.3 391l-5 7h3l-2.200 6 6.800-8.200h-3.200l3-4.800z"/><path fill="#ffff00" d="M347.8 390.6l-5 7h3l-2.200 6 6.800-8.200h-3.200l3-4.800zM486.3 388.9l-5 7h3l-2.200 6 6.800-8.200h-3.200l3-4.800zM176.1 385.5l-5 7h3l-2.200 6 6.800-8.200h-3.200l3-4.800z"/><path fill="#19b4f2" d="M259.6 390.5l-5 7h3l-2.200 6 6.800-8.200h-3.200l3-4.800zM159.4 390.8l-5 7h3l-2.200 6 6.800-8.200h-3.200l3-4.800z"/><path fill="#ffff00" d="M507.7 385.4l-5 7h3l-2.200 6 6.800-8.200h-3.200l3-4.800zM197.4 389.1l-5 7h3l-2.200 6 6.800-8.200h-3.200l3-4.800z"/><path fill="#e8140e" d="M484 384.6l-5 7h3l-2.200 6 6.800-8.200h-3.200l3-4.800z"/><path fill="#ffff00" d="M342.3 386l-5 7h3l-2.200 6 6.800-8.200h-3.200l3-4.800z"/><path fill="#19b4f2" d="M142.5 384.6l-5 7h3l-2.200 6 6.800-8.200h-3.200l3-4.800z"/><path fill="#8a1212" d="M274.8 389.5l-5 7h3l-2.200 6 6.800-8.200h-3.200l3-4.800z"/><path fill="#19b4f2" d="M227.6 391.3l-5 7h3l-2.200 6 6.800-8.200h-3.200l3-4.800z"/><path fill="#f2701c" d="M128.4 391.8l-5 7h3l-2.200 6 6.800-8.200h-3.200l3-4.800z"/><path fill="#ffff00" d="M349.3 385.4l-5 7h3l-2.200 6 6.800-8.200h-3.200l3-4.800z"/><path fill="#19b4f2" d="M221.8 385.3l-5 7h3l-2.200 6 6.800-8.200h-3.200l3-4.800z"/><path fill="#ffff00" d="M450.7 389.9l-5 7h3l-2.200 6 6.800-8.200h-3.200l3-4.800z"/><path fill="#f2701c" d="M313.5 385.1l-5 7h3l-2.200 6 6.800-8.200h-3.200l3-4.800z"/><path fill="#19b4f2" d="M223.3 389.1l-5 7h3l-2.200 6 6.800-8.200h-3.200l3-4.800zM154.2 390.7l-5 7h3l-2.200 6 6.800-8.200h-3.200l3-4.800zM255.1 391l-5 7h3l-2.200 6 6.800-8.200h-3.200l3-4.800z"/><path fill="#ffff00" d="M192.3 389.1l-5 7h3l-2.200 6 6.800-8.200h-3.200l3-4.800zM432.3 390.3l-5 7h3l-2.200 6 6.800-8.200h-3.200l3-4.800z"/><path fill="#19b4f2" d="M74.2 386.2l-5 7h3l-2.200 6 6.800-8.200h-3.200l3-4.800z"/><path fill="#f2701c" d="M559.9 391.1l-5 7h3l-2.200 6 6.800-8.200h-3.200l3-4.800z"/><path fill="#e8140e" d="M298 388.9l-5 7h3l-2.200 6 6.800-8.200h-3.200l3-4.800z"/><path fill="#19b4f2" d="M99.3 390.3l-5 7h3l-2.200 6 6.800-8.200h-3.200l3-4.800z"/><path fill="#e8140e" d="M305.6 391.1l-5 7h3l-2.200 6 6.800-8.200h-3.200l3-4.800z"/><path fill="#19b4f2" d="M243.9 389l-5 7h3l-2.200 6 6.800-8.200h-3.200l3-4.800zM328.7 391.4l-5 7h3l-2.200 6 6.800-8.200h-3.200l3-4.800z"/><path fill="#ffff00" d="M463.8 389l-5 7h3l-2.200 6 6.800-8.200h-3.200l3-4.800z"/><path fill="#8a1212" d="M319.4 391l-5 7h3l-2.200 6 6.800-8.200h-3.200l3-4.800zM280.2 389.4l-5 7h3l-2.200 6 6.800-8.200h-3.200l3-4.800z"/><path fill="#19b4f2" d="M169.6 390.2l-5 7h3l-2.200 6 6.800-8.200h-3.200l3-4.800zM119.4 391.6l-5 7h3l-2.200 6 6.800-8.200h-3.200l3-4.800z"/><path fill="#e8140e" d="M554.8 391.8l-5 7h3l-2.200 6 6.800-8.200h-3.200l3-4.800z"/><path fill="#19b4f2" d="M80.1 391.4l-5 7h3l-2.200 6 6.800-8.200h-3.200l3-4.800z"/><path fill="#ffff00" d="M480.3 388.9l-5 7h3l-2.200 6 6.800-8.200h-3.200l3-4.800zM452.9 390.6l-5 7h3l-2.200 6 6.800-8.200h-3.200l3-4.800zM471.6 390.5l-5 7h3l-2.200 6 6.800-8.200h-3.200l3-4.800zM186.2 389.5l-5 7h3l-2.200 6 6.800-8.200h-3.200l3-4.800zM546.7 390.8l-5 7h3l-2.200 6 6.800-8.200h-3.200l3-4.800z"/><path fill="#19b4f2" d="M103.2 390.2l-5 7h3l-2.200 6 6.800-8.200h-3.200l3-4.800z"/><path fill="#ffff00" d="M293.2 389.4l-5 7h3l-2.200 6 6.800-8.200h-3.200l3-4.800z"/><path fill="#19b4f2" d="M150.8 389.3l-5 7h3l-2.200 6 6.800-8.200h-3.200l3-4.800z"/><path fill="#ffff00" d="M501.3 390l-5 7h3l-2.200 6 6.800-8.200h-3.200l3-4.800zM477.1 389.5l-5 7h3l-2.200 6 6.800-8.200h-3.200l3-4.800zM441.3 394.8l-5 7h3l-2.200 6 6.800-8.200h-3.200l3-4.800zM536.8 391.6l-5 7h3l-2.200 6 6.800-8.200h-3.200l3-4.800z"/><path fill="#f2701c" d="M135.8 390.8l-5 7h3l-2.200 6 6.800-8.200h-3.200l3-4.800z"/><path fill="#19b4f2" d="M122.6 390.2l-5 7h3l-2.200 6 6.800-8.200h-3.200l3-4.800z"/><path fill="#ffff00" d="M371 389.1l-5 7h3l-2.200 6 6.800-8.200h-3.200l3-4.800zM74.2 395.3l-5 7h3l-2.200 6 6.800-8.200h-3.200l3-4.800z"/><path fill="#e8140e" d="M113.8 388.9l-5 7h3l-2.200 6 6.800-8.200h-3.200l3-4.800z"/><path fill="#ffff00" d="M407.1 390.1l-5 7h3l-2.200 6 6.800-8.200h-3.200l3-4.800zM352.9 391.7l-5 7h3l-2.200 6 6.800-8.200h-3.200l3-4.800z"/><path fill="#e8140e" d="M505.8 391.3l-5 7h3l-2.200 6 6.800-8.200h-3.200l3-4.800z"/><path fill="#ffff00" d="M526.9 391.1l-5 7h3l-2.200 6 6.800-8.200h-3.200l3-4.800zM103 395l-5 7h3l-2.200 6 6.800-8.200h-3.200l3-4.800zM265.4 391.2l-5 7h3l-2.200 6 6.800-8.200h-3.200l3-4.800zM519.1 389l-5 7h3l-2.200 6 6.800-8.200h-3.200l3-4.800zM459.8 390.6l-5 7h3l-2.200 6 6.800-8.200h-3.200l3-4.800zM182.5 389.9l-5 7h3l-2.200 6 6.800-8.200h-3.200l3-4.800zM147.1 391.4l-5 7h3l-2.200 6 6.800-8.200h-3.200l3-4.800zM269 395.3l-5 7h3l-2.200 6 6.800-8.200h-3.200l3-4.800zM427 389.3l-5 7h3l-2.200 6 6.800-8.200h-3.200l3-4.800z"/><path fill="#19b4f2" d="M89.8 391.2l-5 7h3l-2.200 6 6.800-8.200h-3.200l3-4.800zM204.7 390.8l-5 7h3l-2.200 6 6.800-8.200h-3.200l3-4.800z"/><path fill="#ffff00" d="M344.7 390.9l-5 7h3l-2.200 6 6.800-8.200h-3.200l3-4.800zM386 391.7l-5 7h3l-2.200 6 6.800-8.200h-3.200l3-4.800z"/><path fill="#f2701c" d="M365.9 390.3l-5 7h3l-2.200 6 6.800-8.200h-3.200l3-4.800zM477.9 395.5l-5 7h3l-2.200 6 6.800-8.200h-3.200l3-4.800z"/><path fill="#ffff00" d="M402.5 391.6l-5 7h3l-2.200 6 6.800-8.200h-3.200l3-4.800z"/><path fill="#19b4f2" d="M505.8 396l-5 7h3l-2.200 6 6.800-8.200h-3.200l3-4.800z"/><path fill="#f2701c" d="M257.3 395.1l-5 7h3l-2.200 6 6.800-8.200h-3.200l3-4.800z"/><path fill="#ffff00" d="M390.8 391.5l-5 7h3l-2.200 6 6.800-8.200h-3.200l3-4.800z"/><path fill="#f2701c" d="M310.2 389.9l-5 7h3l-2.200 6 6.800-8.200h-3.200l3-4.800z"/><path fill="#ffff00" d="M183.4 394.8l-5 7h3l-2.200 6 6.800-8.200h-3.200l3-4.800zM383.5 396.1l-5 7h3l-2.200 6 6.800-8.200h-3.200l3-4.800zM507.8 389.7l-5 7h3l-2.200 6 6.800-8.200h-3.200l3-4.800zM514.2 389.9l-5 7h3l-2.200 6 6.800-8.200h-3.200l3-4.800zM418.6 389.4l-5 7h3l-2.200 6 6.800-8.200h-3.200l3-4.800zM357.9 389.7l-5 7h3l-2.200 6 6.800-8.200h-3.200l3-4.800z"/><path fill="#19b4f2" d="M324.5 389l-5 7h3l-2.200 6 6.800-8.200h-3.200l3-4.800z"/><path fill="#ffff00" d="M363.1 390.9l-5 7h3l-2.200 6 6.800-8.200h-3.200l3-4.800z"/><path fill="#19b4f2" d="M85.9 391.4l-5 7h3l-2.200 6 6.800-8.200h-3.200l3-4.800z"/><path fill="#ffff00" d="M422.9 391.4l-5 7h3l-2.200 6 6.800-8.200h-3.200l3-4.800zM444.1 389.2l-5 7h3l-2.200 6 6.800-8.200h-3.200l3-4.800z"/><path fill="#f2701c" d="M209.9 389.7l-5 7h3l-2.200 6 6.800-8.200h-3.200l3-4.800z"/><path fill="#e8140e" d="M401.4 395.2l-5 7h3l-2.200 6 6.800-8.200h-3.200l3-4.800z"/><path fill="#19b4f2" d="M411.3 391.3l-5 7h3l-2.200 6 6.800-8.200h-3.200l3-4.800z"/><path fill="#ffff00" d="M270.2 390.6l-5 7h3l-2.200 6 6.800-8.200h-3.200l3-4.800z"/><path fill="#19b4f2" d="M233.9 389.7l-5 7h3l-2.200 6 6.800-8.200h-3.200l3-4.800z"/><path fill="#ffff00" d="M522.9 391.7l-5 7h3l-2.200 6 6.800-8.200h-3.200l3-4.800z"/><path fill="#19b4f2" d="M87.2 395.9l-5 7h3l-2.200 6 6.800-8.200h-3.200l3-4.800z"/><path fill="#ffff00" d="M400.2 391.7l-5 7h3l-2.200 6 6.800-8.200h-3.200l3-4.800zM334.5 389.4l-5 7h3l-2.200 6 6.800-8.200h-3.200l3-4.800zM473.5 394.9l-5 7h3l-2.200 6 6.800-8.200h-3.200l3-4.800zM567.5 396.3l-5 7h3l-2.200 6 6.800-8.200h-3.200l3-4.800zM467.5 390.5l-5 7h3l-2.200 6 6.800-8.200h-3.200l3-4.800zM77.8 396.9l-5 7h3l-2.200 6 6.800-8.200h-3.200l3-4.800z"/><path fill="#19b4f2" d="M379.4 394.8l-5 7h3l-2.200 6 6.800-8.200h-3.200l3-4.800z"/><path fill="#e8140e" d="M173.9 391.7l-5 7h3l-2.200 6 6.800-8.200h-3.200l3-4.800zM302.4 390.3l-5 7h3l-2.200 6 6.800-8.200h-3.200l3-4.800z"/><path fill="#19b4f2" d="M327.3 395.5l-5 7h3l-2.200 6 6.800-8.200h-3.200l3-4.800z"/><path fill="#ffff00" d="M491 389.9l-5 7h3l-2.200 6 6.800-8.200h-3.200l3-4.800z"/><path fill="#8a1212" d="M282.6 389.4l-5 7h3l-2.200 6 6.800-8.200h-3.200l3-4.800z"/><path fill="#19b4f2" d="M166.8 397.1l-5 7h3l-2.200 6 6.800-8.200h-3.200l3-4.800zM194.6 396.7l-5 7h3l-2.200 6 6.800-8.200h-3.200l3-4.800z"/><path fill="#8a1212" d="M112.1 397.1l-5 7h3l-2.200 6 6.800-8.200h-3.200l3-4.800z"/><path fill="#ffff00" d="M487.8 395.8l-5 7h3l-2.200 6 6.800-8.200h-3.200l3-4.800zM532.3 390.3l-5 7h3l-2.200 6 6.800-8.200h-3.200l3-4.800zM340 390.6l-5 7h3l-2.200 6 6.800-8.200h-3.200l3-4.800z"/><path fill="#19b4f2" d="M411.1 397.3l-5 7h3l-2.200 6 6.800-8.200h-3.200l3-4.800zM322.4 397.1l-5 7h3l-2.200 6 6.800-8.200h-3.200l3-4.800zM354.4 395.9l-5 7h3l-2.200 6 6.800-8.200h-3.200l3-4.800z"/><path fill="#ffff00" d="M494.4 390.2l-5 7h3l-2.200 6 6.800-8.200h-3.200l3-4.800z"/><path fill="#19b4f2" d="M95.7 389.8l-5 7h3l-2.200 6 6.800-8.200h-3.200l3-4.800z"/><path fill="#e8140e" d="M124 395.1l-5 7h3l-2.200 6 6.800-8.200h-3.200l3-4.800zM553.1 395.4l-5 7h3l-2.200 6 6.800-8.200h-3.200l3-4.800z"/><path fill="#ffff00" d="M313.5 396.5l-5 7h3l-2.200 6 6.800-8.200h-3.200l3-4.800z"/><path fill="#f2701c" d="M393.9 391.9l-5 7h3l-2.200 6 6.800-8.200h-3.200l3-4.800z"/><path fill="#ffff00" d="M147.7 396.9l-5 7h3l-2.200 6 6.800-8.200h-3.200l3-4.800zM516.1 395.4l-5 7h3l-2.200 6 6.800-8.200h-3.200l3-4.800zM346.6 395.4l-5 7h3l-2.200 6 6.800-8.200h-3.200l3-4.800zM222.7 395l-5 7h3l-2.200 6 6.800-8.200h-3.200l3-4.800z"/><path fill="#19b4f2" d="M250.8 390.3l-5 7h3l-2.200 6 6.800-8.200h-3.200l3-4.800z"/><path fill="#ffff00" d="M393.1 396.7l-5 7h3l-2.200 6 6.800-8.200h-3.200l3-4.800z"/><path fill="#e8140e" d="M163.2 395.8l-5 7h3l-2.200 6 6.800-8.200h-3.200l3-4.800z"/><path fill="#ffff00" d="M386.1 396.7l-5 7h3l-2.200 6 6.800-8.200h-3.200l3-4.800z"/><path fill="#f2701c" d="M213.3 391.1l-5 7h3l-2.200 6 6.800-8.200h-3.200l3-4.800z"/><path fill="#ffff00" d="M231.3 397l-5 7h3l-2.200 6 6.800-8.200h-3.200l3-4.800z"/><path fill="#f2701c" d="M206.7 395.7l-5 7h3l-2.200 6 6.800-8.200h-3.200l3-4.800z"/><path fill="#ffff00" d="M252.7 397.2l-5 7h3l-2.200 6 6.800-8.200h-3.200l3-4.800z"/><path fill="#19b4f2" d="M543.7 395.8l-5 7h3l-2.200 6 6.800-8.200h-3.200l3-4.800z"/><path fill="#ffff00" d="M526.2 395.4l-5 7h3l-2.200 6 6.800-8.200h-3.200l3-4.800zM549.2 390.9l-5 7h3l-2.200 6 6.800-8.200h-3.200l3-4.800z"/><path fill="#f2701c" d="M510.3 395.1l-5 7h3l-2.200 6 6.800-8.200h-3.200l3-4.800z"/><path fill="#19b4f2" d="M96.5 396.9l-5 7h3l-2.200 6 6.800-8.200h-3.200l3-4.800z"/><path fill="#ffff00" d="M77.4 391.5l-5 7h3l-2.200 6 6.800-8.200h-3.200l3-4.800z"/><path fill="#19b4f2" d="M84.8 394.5l-5 7h3l-2.200 6 6.800-8.200h-3.200l3-4.800z"/><path fill="#ffff00" d="M424.8 396.5l-5 7h3l-2.200 6 6.800-8.200h-3.200l3-4.800zM361.1 396.4l-5 7h3l-2.200 6 6.800-8.200h-3.200l3-4.800zM427.6 394.5l-5 7h3l-2.200 6 6.800-8.200h-3.200l3-4.800z"/><path fill="#19b4f2" d="M413.7 396.1l-5 7h3l-2.200 6 6.800-8.200h-3.200l3-4.800z"/><path fill="#ffff00" d="M465.5 396.4l-5 7h3l-2.200 6 6.800-8.200h-3.200l3-4.800zM462.2 395.8l-5 7h3l-2.200 6 6.800-8.200h-3.200l3-4.800z"/><path fill="#19b4f2" d="M200.1 395.6l-5 7h3l-2.200 6 6.800-8.200h-3.200l3-4.800z"/><path fill="#ffff00" d="M519.9 397l-5 7h3l-2.200 6 6.800-8.200h-3.200l3-4.800zM452.1 396.3l-5 7h3l-2.200 6 6.800-8.200h-3.200l3-4.800z"/><path fill="#19b4f2" d="M200.9 391.8l-5 7h3l-2.200 6 6.800-8.200h-3.200l3-4.800z"/><path fill="#f2701c" d="M143 395.5l-5 7h3l-2.200 6 6.800-8.200h-3.200l3-4.800z"/><path fill="#19b4f2" d="M499.1 395.5l-5 7h3l-2.200 6 6.800-8.200h-3.200l3-4.800zM492.9 396l-5 7h3l-2.200 6 6.800-8.200h-3.200l3-4.800z"/><path fill="#e8140e" d="M303.6 395.8l-5 7h3l-2.200 6 6.800-8.200h-3.200l3-4.800z"/><path fill="#ffff00" d="M471.1 396.2l-5 7h3l-2.200 6 6.800-8.200h-3.200l3-4.800z"/><path fill="#e8140e" d="M557.8 396.1l-5 7h3l-2.200 6 6.800-8.200h-3.200l3-4.800z"/><path fill="#ffff00" d="M225.4 396.7l-5 7h3l-2.200 6 6.800-8.200h-3.200l3-4.800zM405.6 395.1l-5 7h3l-2.200 6 6.800-8.200h-3.200l3-4.800zM104.5 400.3l-5 7h3l-2.200 6 6.800-8.200h-3.200l3-4.800zM235.2 396.1l-5 7h3l-2.200 6 6.800-8.200h-3.200l3-4.800z"/><path fill="#8a1212" d="M281.1 397.5l-5 7h3l-2.200 6 6.800-8.200h-3.200l3-4.800zM277.9 396.3l-5 7h3l-2.200 6 6.800-8.200h-3.200l3-4.800z"/><path fill="#ffff00" d="M434.6 397.4l-5 7h3l-2.200 6 6.800-8.200h-3.200l3-4.800z"/><path fill="#19b4f2" d="M501.2 396.2l-5 7h3l-2.200 6 6.800-8.200h-3.200l3-4.800z"/><path fill="#f2701c" d="M138 394.7l-5 7h3l-2.200 6 6.800-8.200h-3.200l3-4.800z"/><path fill="#8a1212" d="M115.1 396.1l-5 7h3l-2.200 6 6.800-8.200h-3.200l3-4.800z"/><path fill="#19b4f2" d="M561.6 394.5l-5 7h3l-2.200 6 6.800-8.200h-3.200l3-4.800z"/><path fill="#8a1212" d="M283 400.7l-5 7h3l-2.200 6 6.800-8.200h-3.200l3-4.800z"/><path fill="#ffff00" d="M262.2 395l-5 7h3l-2.200 6 6.800-8.200h-3.200l3-4.800z"/><path fill="#e8140e" d="M248.7 397.2l-5 7h3l-2.200 6 6.800-8.200h-3.200l3-4.800z"/><path fill="#ffff00" d="M338.1 394.7l-5 7h3l-2.200 6 6.800-8.200h-3.200l3-4.800zM571.3 397.4l-5 7h3l-2.200 6 6.800-8.200h-3.200l3-4.800zM448.4 395.8l-5 7h3l-2.200 6 6.800-8.200h-3.200l3-4.800z"/><path fill="#f2701c" d="M369.8 395.2l-5 7h3l-2.200 6 6.800-8.200h-3.200l3-4.800z"/><path fill="#ffff00" d="M153.2 394.9l-5 7h3l-2.200 6 6.800-8.200h-3.200l3-4.800zM373.2 397l-5 7h3l-2.200 6 6.800-8.200h-3.200l3-4.800zM228.9 400.2l-5 7h3l-2.200 6 6.800-8.200h-3.200l3-4.800z"/><path fill="#f2701c" d="M318 395.9l-5 7h3l-2.200 6 6.800-8.200h-3.200l3-4.800zM128.9 396.3l-5 7h3l-2.200 6 6.800-8.200h-3.200l3-4.800z"/><path fill="#ffff00" d="M533.9 394.8l-5 7h3l-2.200 6 6.800-8.200h-3.200l3-4.800zM529.3 396.9l-5 7h3l-2.200 6 6.800-8.200h-3.200l3-4.800zM381.7 401.3l-5 7h3l-2.200 6 6.800-8.200h-3.200l3-4.800z"/><path fill="#19b4f2" d="M211.3 397.5l-5 7h3l-2.200 6 6.800-8.200h-3.200l3-4.800z"/><path fill="#ffff00" d="M180.9 394.8l-5 7h3l-2.200 6 6.800-8.200h-3.200l3-4.800zM273.3 396l-5 7h3l-2.200 6 6.800-8.200h-3.200l3-4.800z"/><path fill="#e8140e" d="M157.1 395.8l-5 7h3l-2.200 6 6.800-8.200h-3.200l3-4.800zM291 396.6l-5 7h3l-2.200 6 6.800-8.200h-3.200l3-4.800zM295.8 395.1l-5 7h3l-2.200 6 6.800-8.200h-3.200l3-4.800z"/><path fill="#ffff00" d="M393.1 401.3l-5 7h3l-2.200 6 6.800-8.200h-3.200l3-4.800zM308.9 395.2l-5 7h3l-2.200 6 6.800-8.200h-3.200l3-4.800z"/><path fill="#19b4f2" d="M351.6 397.2l-5 7h3l-2.200 6 6.800-8.200h-3.200l3-4.800z"/><path fill="#ffff00" d="M495.7 401.6l-5 7h3l-2.200 6 6.800-8.200h-3.200l3-4.800z"/><path fill="#19b4f2" d="M220 400.4l-5 7h3l-2.200 6 6.800-8.200h-3.200l3-4.800z"/><path fill="#f2701c" d="M396.7 395.1l-5 7h3l-2.200 6 6.800-8.200h-3.200l3-4.800z"/><path fill="#8a1212" d="M176.3 395.1l-5 7h3l-2.200 6 6.800-8.200h-3.200l3-4.800z"/><path fill="#19b4f2" d="M351.4 400.3l-5 7h3l-2.200 6 6.800-8.200h-3.200l3-4.800z"/><path fill="#8a1212" d="M286 395.1l-5 7h3l-2.200 6 6.800-8.200h-3.200l3-4.800z"/><path fill="#19b4f2" d="M418.7 395.5l-5 7h3l-2.200 6 6.800-8.200h-3.200l3-4.800z"/><path fill="#ffff00" d="M549.3 395.2l-5 7h3l-2.200 6 6.800-8.200h-3.200l3-4.800zM505.4 400.8l-5 7h3l-2.200 6 6.800-8.200h-3.200l3-4.800zM564.7 400.6l-5 7h3l-2.200 6 6.800-8.200h-3.200l3-4.800z"/><path fill="#e8140e" d="M160.4 400.5l-5 7h3l-2.200 6 6.800-8.200h-3.200l3-4.800zM244 396.6l-5 7h3l-2.200 6 6.800-8.200h-3.200l3-4.800zM120.7 396.6l-5 7h3l-2.200 6 6.800-8.200h-3.200l3-4.800zM119 401.8l-5 7h3l-2.200 6 6.800-8.200h-3.200l3-4.800z"/><path fill="#8a1212" d="M300.9 401.7l-5 7h3l-2.200 6 6.800-8.200h-3.200l3-4.800z"/><path fill="#ffff00" d="M149.8 400.6l-5 7h3l-2.200 6 6.800-8.200h-3.200l3-4.800zM215.5 400.7l-5 7h3l-2.200 6 6.800-8.200h-3.200l3-4.800zM145.4 401.1l-5 7h3l-2.200 6 6.800-8.200h-3.200l3-4.800zM487.4 402.4l-5 7h3l-2.200 6 6.800-8.200h-3.200l3-4.800zM260.9 402.2l-5 7h3l-2.200 6 6.800-8.200h-3.200l3-4.800zM342.6 402l-5 7h3l-2.200 6 6.800-8.200h-3.200l3-4.800zM365.2 395.9l-5 7h3l-2.200 6 6.800-8.200h-3.200l3-4.800zM531 401l-5 7h3l-2.200 6 6.800-8.200h-3.200l3-4.800z"/><path fill="#19b4f2" d="M333.5 395.6l-5 7h3l-2.200 6 6.800-8.200h-3.200l3-4.800zM142.5 401.1l-5 7h3l-2.200 6 6.800-8.200h-3.200l3-4.800z"/><path fill="#ffff00" d="M541.1 402.1l-5 7h3l-2.200 6 6.800-8.200h-3.200l3-4.800z"/><path fill="#19b4f2" d="M208.8 400.4l-5 7h3l-2.200 6 6.800-8.200h-3.200l3-4.800z"/><path fill="#ffff00" d="M528.7 402l-5 7h3l-2.200 6 6.800-8.200h-3.200l3-4.800z"/><path fill="#e8140e" d="M240.1 395.8l-5 7h3l-2.200 6 6.800-8.200h-3.200l3-4.800z"/><path fill="#8a1212" d="M457.4 396.9l-5 7h3l-2.200 6 6.800-8.200h-3.200l3-4.800z"/><path fill="#f2701c" d="M134.8 396.9l-5 7h3l-2.200 6 6.800-8.200h-3.200l3-4.800z"/><path fill="#ffff00" d="M255 400.7l-5 7h3l-2.200 6 6.800-8.200h-3.200l3-4.800zM452.9 401l-5 7h3l-2.200 6 6.800-8.200h-3.200l3-4.800z"/><path fill="#e8140e" d="M171.7 396.6l-5 7h3l-2.200 6 6.800-8.200h-3.200l3-4.800z"/><path fill="#ffff00" d="M402.6 400.5l-5 7h3l-2.200 6 6.800-8.200h-3.200l3-4.800z"/><path fill="#e8140e" d="M199.6 400.8l-5 7h3l-2.200 6 6.800-8.200h-3.200l3-4.800z"/><path fill="#ffff00" d="M434.9 403.1l-5 7h3l-2.200 6 6.800-8.200h-3.200l3-4.800z"/><path fill="#8a1212" d="M107.6 397.1l-5 7h3l-2.200 6 6.800-8.200h-3.200l3-4.800z"/><path fill="#ffff00" d="M438.6 396.5l-5 7h3l-2.200 6 6.800-8.200h-3.200l3-4.800zM190.8 396l-5 7h3l-2.200 6 6.800-8.200h-3.200l3-4.800zM539.5 395.9l-5 7h3l-2.200 6 6.800-8.200h-3.200l3-4.800zM484.8 396.4l-5 7h3l-2.200 6 6.800-8.200h-3.200l3-4.800zM458.5 401.4l-5 7h3l-2.200 6 6.800-8.200h-3.200l3-4.800z"/><path fill="#19b4f2" d="M98.4 402.9l-5 7h3l-2.200 6 6.800-8.200h-3.200l3-4.800zM216.4 396.3l-5 7h3l-2.200 6 6.800-8.200h-3.200l3-4.800zM94 396.1l-5 7h3l-2.200 6 6.800-8.200h-3.200l3-4.800z"/><path fill="#ffff00" d="M342.5 396.4l-5 7h3l-2.200 6 6.800-8.200h-3.200l3-4.800zM464.1 402.5l-5 7h3l-2.200 6 6.800-8.200h-3.200l3-4.800z"/><path fill="#19b4f2" d="M280.3 401.9l-5 7h3l-2.200 6 6.800-8.200h-3.200l3-4.800z"/><path fill="#f2701c" d="M237.4 402.6l-5 7h3l-2.200 6 6.800-8.200h-3.200l3-4.800z"/><path fill="#e8140e" d="M203.9 397.2l-5 7h3l-2.200 6 6.800-8.200h-3.200l3-4.800zM242.5 403.1l-5 7h3l-2.200 6 6.800-8.200h-3.200l3-4.800zM301.3 397.2l-5 7h3l-2.200 6 6.800-8.200h-3.200l3-4.800z"/><path fill="#ffff00" d="M339.9 401.6l-5 7h3l-2.200 6 6.800-8.200h-3.200l3-4.800zM86.4 401.5l-5 7h3l-2.200 6 6.800-8.200h-3.200l3-4.800z"/><path fill="#e8140e" d="M173.2 401.3l-5 7h3l-2.200 6 6.800-8.200h-3.200l3-4.800z"/><path fill="#ffff00" d="M498.9 401.2l-5 7h3l-2.200 6 6.800-8.200h-3.200l3-4.800zM287.1 402.8l-5 7h3l-2.200 6 6.800-8.200h-3.200l3-4.800zM357.3 402.5l-5 7h3l-2.200 6 6.800-8.200h-3.200l3-4.800z"/><path fill="#f2701c" d="M135.7 400.4l-5 7h3l-2.200 6 6.800-8.200h-3.200l3-4.800z"/><path fill="#e8140e" d="M181.2 402.1l-5 7h3l-2.200 6 6.800-8.200h-3.200l3-4.800z"/><path fill="#ffff00" d="M555.5 401.8l-5 7h3l-2.200 6 6.800-8.200h-3.200l3-4.800zM386.3 400.9l-5 7h3l-2.200 6 6.800-8.200h-3.200l3-4.800zM466.7 401.8l-5 7h3l-2.200 6 6.800-8.200h-3.200l3-4.800z"/><path fill="#19b4f2" d="M132.8 401.2l-5 7h3l-2.200 6 6.800-8.200h-3.200l3-4.800z"/><path fill="#ffff00" d="M335.3 401l-5 7h3l-2.200 6 6.800-8.200h-3.200l3-4.800z"/><path fill="#e8140e" d="M170 402.4l-5 7h3l-2.200 6 6.800-8.200h-3.200l3-4.800z"/><path fill="#ffff00" d="M427.4 405.8l-5 7h3l-2.200 6 6.800-8.200h-3.200l3-4.800zM365.5 402.5l-5 7h3l-2.200 6 6.800-8.200h-3.200l3-4.800z"/><path fill="#e8140e" d="M96 403l-5 7h3l-2.200 6 6.800-8.200h-3.200l3-4.800z"/><path fill="#ffff00" d="M477.1 402.8l-5 7h3l-2.200 6 6.800-8.200h-3.200l3-4.800zM212 405.7l-5 7h3l-2.200 6 6.800-8.200h-3.200l3-4.800z"/><path fill="#19b4f2" d="M325 402.2l-5 7h3l-2.200 6 6.800-8.200h-3.200l3-4.800z"/><path fill="#ffff00" d="M236.4 406.2l-5 7h3l-2.200 6 6.800-8.200h-3.200l3-4.800zM128.7 401.3l-5 7h3l-2.200 6 6.800-8.200h-3.200l3-4.800zM569.4 402l-5 7h3l-2.200 6 6.800-8.200h-3.200l3-4.800zM161.5 405.8l-5 7h3l-2.200 6 6.800-8.200h-3.200l3-4.800z"/><path fill="#e8140e" d="M246 400.4l-5 7h3l-2.200 6 6.800-8.200h-3.200l3-4.800z"/><path fill="#ffff00" d="M123.7 401.2l-5 7h3l-2.200 6 6.800-8.200h-3.200l3-4.800z"/><path fill="#19b4f2" d="M290 406.7l-5 7h3l-2.200 6 6.800-8.200h-3.200l3-4.800z"/><path fill="#e8140e" d="M97 406.3l-5 7h3l-2.200 6 6.800-8.200h-3.200l3-4.800z"/><path fill="#ffff00" d="M374.4 401.4l-5 7h3l-2.200 6 6.800-8.200h-3.200l3-4.800z"/><path fill="#e8140e" d="M108.3 400.5l-5 7h3l-2.200 6 6.800-8.200h-3.200l3-4.800z"/><path fill="#ffff00" d="M441 402.4l-5 7h3l-2.200 6 6.800-8.200h-3.200l3-4.800zM178.9 400.5l-5 7h3l-2.200 6 6.800-8.200h-3.200l3-4.800zM430.5 402.5l-5 7h3l-2.200 6 6.800-8.200h-3.200l3-4.800z"/><path fill="#19b4f2" d="M409.1 400.2l-5 7h3l-2.200 6 6.800-8.200h-3.200l3-4.800z"/><path fill="#ffff00" d="M570.6 406.1l-5 7h3l-2.200 6 6.800-8.200h-3.200l3-4.800z"/><path fill="#19b4f2" d="M222.7 401.9l-5 7h3l-2.200 6 6.800-8.200h-3.200l3-4.800z"/><path fill="#ffff00" d="M522.9 402.4l-5 7h3l-2.200 6 6.800-8.200h-3.200l3-4.800z"/><path fill="#19b4f2" d="M412.5 401.6l-5 7h3l-2.200 6 6.800-8.200h-3.200l3-4.800z"/><path fill="#ffff00" d="M361 403.1l-5 7h3l-2.200 6 6.800-8.200h-3.200l3-4.800z"/><path fill="#f2701c" d="M206.9 402.4l-5 7h3l-2.200 6 6.800-8.200h-3.200l3-4.800z"/><path fill="#ffff00" d="M573.2 403l-5 7h3l-2.200 6 6.800-8.200h-3.200l3-4.800z"/><path fill="#19b4f2" d="M90.3 400.9l-5 7h3l-2.200 6 6.800-8.200h-3.200l3-4.800z"/><path fill="#ffff00" d="M291.9 400.5l-5 7h3l-2.200 6 6.800-8.200h-3.200l3-4.800zM521.6 405.7l-5 7h3l-2.200 6 6.800-8.200h-3.200l3-4.800zM424.2 406.9l-5 7h3l-2.200 6 6.800-8.200h-3.200l3-4.800z"/><path fill="#19b4f2" d="M195.8 401.9l-5 7h3l-2.200 6 6.800-8.200h-3.200l3-4.800zM415.9 400.5l-5 7h3l-2.200 6 6.800-8.200h-3.200l3-4.800z"/><path fill="#ffff00" d="M390.5 400.2l-5 7h3l-2.200 6 6.800-8.200h-3.200l3-4.800zM296.7 401.9l-5 7h3l-2.200 6 6.800-8.200h-3.200l3-4.800zM529.2 406.1l-5 7h3l-2.200 6 6.800-8.200h-3.200l3-4.800z"/><path fill="#e8140e" d="M94 407.1l-5 7h3l-2.200 6 6.800-8.200h-3.200l3-4.800z"/><path fill="#ffff00" d="M209.2 405.9l-5 7h3l-2.200 6 6.800-8.200h-3.200l3-4.800zM307.1 400.6l-5 7h3l-2.200 6 6.800-8.200h-3.200l3-4.800zM545.9 402.9l-5 7h3l-2.200 6 6.800-8.200h-3.200l3-4.800zM183.6 407.3l-5 7h3l-2.200 6 6.800-8.200h-3.200l3-4.800zM450.3 401l-5 7h3l-2.200 6 6.800-8.200h-3.200l3-4.800zM190.2 406.5l-5 7h3l-2.200 6 6.800-8.200h-3.200l3-4.800zM270.6 400.2l-5 7h3l-2.200 6 6.800-8.200h-3.200l3-4.800zM518.5 402.9l-5 7h3l-2.200 6 6.800-8.200h-3.200l3-4.800z"/><path fill="#f2701c" d="M581.7 406.2l-5 7h3l-2.200 6 6.800-8.200h-3.200l3-4.800z"/><path fill="#19b4f2" d="M133 407l-5 7h3l-2.200 6 6.800-8.200h-3.200l3-4.800z"/><path fill="#ffff00" d="M264.6 406.7l-5 7h3l-2.200 6 6.800-8.200h-3.200l3-4.800zM471.2 403.1l-5 7h3l-2.200 6 6.800-8.200h-3.200l3-4.800z"/><path fill="#19b4f2" d="M513.6 402.5l-5 7h3l-2.200 6 6.800-8.200h-3.200l3-4.800z"/><path fill="#ffff00" d="M338.2 405.7l-5 7h3l-2.200 6 6.800-8.200h-3.200l3-4.800z"/><path fill="#19b4f2" d="M331.3 402.1l-5 7h3l-2.200 6 6.800-8.200h-3.200l3-4.800z"/><path fill="#ffff00" d="M186.3 400.7l-5 7h3l-2.200 6 6.800-8.200h-3.200l3-4.800z"/><path fill="#e8140e" d="M562.5 407.4l-5 7h3l-2.200 6 6.800-8.200h-3.200l3-4.800z"/><path fill="#ffff00" d="M300.3 406.6l-5 7h3l-2.200 6 6.800-8.200h-3.200l3-4.800zM392.9 405.9l-5 7h3l-2.200 6 6.800-8.200h-3.200l3-4.800z"/><path fill="#e8140e" d="M114.9 402.1l-5 7h3l-2.200 6 6.800-8.200h-3.200l3-4.800zM560.7 402.1l-5 7h3l-2.200 6 6.800-8.200h-3.200l3-4.800z"/><path fill="#ffff00" d="M377.7 408.4l-5 7h3l-2.200 6 6.800-8.200h-3.200l3-4.800z"/><path fill="#f2701c" d="M509.5 402.1l-5 7h3l-2.200 6 6.800-8.200h-3.200l3-4.800z"/><path fill="#ffff00" d="M493 406.8l-5 7h3l-2.200 6 6.800-8.200h-3.200l3-4.800zM474.5 408l-5 7h3l-2.200 6 6.800-8.200h-3.200l3-4.800z"/><path fill="#19b4f2" d="M319.8 401.8l-5 7h3l-2.200 6 6.800-8.200h-3.200l3-4.800z"/><path fill="#ffff00" d="M233.1 401.9l-5 7h3l-2.200 6 6.800-8.200h-3.200l3-4.800z"/><path fill="#19b4f2" d="M402 408.7l-5 7h3l-2.200 6 6.800-8.200h-3.200l3-4.800z"/><path fill="#ffff00" d="M178.9 406.2l-5 7h3l-2.200 6 6.800-8.200h-3.200l3-4.800zM231.2 408.3l-5 7h3l-2.200 6 6.800-8.200h-3.200l3-4.800z"/><path fill="#e8140e" d="M165.2 401.7l-5 7h3l-2.200 6 6.800-8.200h-3.200l3-4.800z"/><path fill="#19b4f2" d="M426.2 402l-5 7h3l-2.200 6 6.800-8.200h-3.200l3-4.800z"/><path fill="#ffff00" d="M536 401.3l-5 7h3l-2.200 6 6.800-8.200h-3.200l3-4.800zM372.2 401.8l-5 7h3l-2.200 6 6.800-8.200h-3.200l3-4.800zM348.4 403.1l-5 7h3l-2.200 6 6.800-8.200h-3.200l3-4.800zM265.3 403l-5 7h3l-2.200 6 6.800-8.200h-3.200l3-4.800zM251.8 402.2l-5 7h3l-2.200 6 6.800-8.200h-3.200l3-4.800z"/><path fill="#f2701c" d="M275.1 401.4l-5 7h3l-2.200 6 6.800-8.200h-3.200l3-4.800z"/><path fill="#e8140e" d="M551.5 402.3l-5 7h3l-2.200 6 6.800-8.200h-3.200l3-4.800zM170 407.1l-5 7h3l-2.200 6 6.800-8.200h-3.200l3-4.800z"/><path fill="#ffff00" d="M445.1 402.7l-5 7h3l-2.200 6 6.800-8.200h-3.200l3-4.800z"/><path fill="#f2701c" d="M578.6 402.9l-5 7h3l-2.200 6 6.800-8.200h-3.200l3-4.800z"/><path fill="#19b4f2" d="M411.2 406.6l-5 7h3l-2.200 6 6.800-8.200h-3.200l3-4.800z"/><path fill="#ffff00" d="M469.1 407.5l-5 7h3l-2.200 6 6.800-8.200h-3.200l3-4.800zM480.1 401.8l-5 7h3l-2.200 6 6.800-8.200h-3.200l3-4.800zM505.7 407.5l-5 7h3l-2.200 6 6.800-8.200h-3.200l3-4.800z"/><path fill="#19b4f2" d="M155.1 402.4l-5 7h3l-2.200 6 6.800-8.200h-3.200l3-4.800z"/><path fill="#ffff00" d="M255.3 406.3l-5 7h3l-2.200 6 6.800-8.200h-3.200l3-4.800z"/><path fill="#e8140e" d="M101.8 406l-5 7h3l-2.200 6 6.800-8.200h-3.200l3-4.800z"/><path fill="#ffff00" d="M217.3 408.1l-5 7h3l-2.200 6 6.800-8.200h-3.200l3-4.800z"/><path fill="#e8140e" d="M112.6 406.2l-5 7h3l-2.200 6 6.800-8.200h-3.200l3-4.800z"/><path fill="#ffff00" d="M447.7 408l-5 7h3l-2.200 6 6.800-8.200h-3.200l3-4.800zM303.3 406.6l-5 7h3l-2.200 6 6.800-8.200h-3.200l3-4.800z"/><path fill="#19b4f2" d="M282.1 406.9l-5 7h3l-2.200 6 6.800-8.200h-3.200l3-4.800zM326.5 406.3l-5 7h3l-2.200 6 6.800-8.200h-3.200l3-4.800z"/><path fill="#ffff00" d="M310.9 402.4l-5 7h3l-2.200 6 6.800-8.200h-3.200l3-4.800zM489.4 402.6l-5 7h3l-2.200 6 6.800-8.200h-3.200l3-4.800z"/><path fill="#19b4f2" d="M420.3 402.5l-5 7h3l-2.200 6 6.800-8.200h-3.200l3-4.800z"/><path fill="#f2701c" d="M511.7 406.5l-5 7h3l-2.200 6 6.800-8.200h-3.200l3-4.800z"/><path fill="#ffff00" d="M397.7 402.5l-5 7h3l-2.200 6 6.800-8.200h-3.200l3-4.800zM317.2 402.8l-5 7h3l-2.200 6 6.800-8.200h-3.200l3-4.800z"/><path fill="#e8140e" d="M176.9 406.1l-5 7h3l-2.200 6 6.800-8.200h-3.200l3-4.800z"/><path fill="#19b4f2" d="M190.6 402.9l-5 7h3l-2.200 6 6.800-8.200h-3.200l3-4.800z"/><path fill="#ffff00" d="M487.2 406.2l-5 7h3l-2.200 6 6.800-8.200h-3.200l3-4.800zM502.1 407.5l-5 7h3l-2.200 6 6.800-8.200h-3.200l3-4.800z"/><path fill="#8a1212" d="M221 406.1l-5 7h3l-2.200 6 6.800-8.200h-3.200l3-4.800z"/><path fill="#e8140e" d="M556.3 406l-5 7h3l-2.200 6 6.800-8.200h-3.200l3-4.800z"/><path fill="#19b4f2" d="M542.4 405.9l-5 7h3l-2.200 6 6.800-8.200h-3.200l3-4.800z"/><path fill="#ffff00" d="M346.5 406.1l-5 7h3l-2.200 6 6.800-8.200h-3.200l3-4.800zM419.5 406.1l-5 7h3l-2.200 6 6.800-8.200h-3.200l3-4.800zM466.5 407.6l-5 7h3l-2.200 6 6.800-8.200h-3.200l3-4.800zM131.1 407.7l-5 7h3l-2.200 6 6.800-8.200h-3.200l3-4.800zM461.7 407.9l-5 7h3l-2.200 6 6.800-8.200h-3.200l3-4.800zM125.9 407.9l-5 7h3l-2.200 6 6.800-8.200h-3.200l3-4.800zM395.6 406.5l-5 7h3l-2.200 6 6.800-8.200h-3.200l3-4.800zM383.1 407.8l-5 7h3l-2.200 6 6.800-8.200h-3.200l3-4.800zM355.4 408.6l-5 7h3l-2.200 6 6.800-8.200h-3.200l3-4.800zM167.7 406.8l-5 7h3l-2.200 6 6.800-8.200h-3.200l3-4.800zM272.4 405.7l-5 7h3l-2.200 6 6.800-8.200h-3.200l3-4.800z"/><path fill="#19b4f2" d="M142.4 405.7l-5 7h3l-2.200 6 6.800-8.200h-3.200l3-4.800z"/><path fill="#8a1212" d="M245.2 406.6l-5 7h3l-2.200 6 6.800-8.200h-3.200l3-4.800z"/><path fill="#e8140e" d="M119.8 408.6l-5 7h3l-2.200 6 6.800-8.200h-3.200l3-4.800z"/><path fill="#19b4f2" d="M319.3 408.5l-5 7h3l-2.200 6 6.800-8.200h-3.200l3-4.800z"/><path fill="#f2701c" d="M575.7 408.5l-5 7h3l-2.200 6 6.800-8.200h-3.200l3-4.800z"/><path fill="#ffff00" d="M147.7 407.3l-5 7h3l-2.200 6 6.800-8.200h-3.200l3-4.800z"/><path fill="#19b4f2" d="M350.6 407l-5 7h3l-2.200 6 6.800-8.200h-3.200l3-4.800z"/><path fill="#ffff00" d="M364.7 406.8l-5 7h3l-2.200 6 6.800-8.200h-3.200l3-4.800z"/><path fill="#e8140e" d="M193.9 406.8l-5 7h3l-2.200 6 6.800-8.200h-3.200l3-4.800z"/><path fill="#ffff00" d="M496.8 406.8l-5 7h3l-2.200 6 6.800-8.200h-3.200l3-4.800z"/><path fill="#f2701c" d="M202.6 406.7l-5 7h3l-2.200 6 6.800-8.200h-3.200l3-4.800z"/><path fill="#ffff00" d="M483.2 406.6l-5 7h3l-2.200 6 6.800-8.200h-3.200l3-4.800z"/><path fill="#e8140e" d="M565.2 405.8l-5 7h3l-2.200 6 6.800-8.200h-3.200l3-4.800z"/><path fill="#ffff00" d="M442.8 407.4l-5 7h3l-2.200 6 6.800-8.200h-3.200l3-4.800z"/><path fill="#e8140e" d="M553.7 406.6l-5 7h3l-2.200 6 6.800-8.200h-3.200l3-4.800z"/><path fill="#ffff00" d="M457.7 406l-5 7h3l-2.200 6 6.800-8.200h-3.200l3-4.800zM257.5 408.2l-5 7h3l-2.200 6 6.800-8.200h-3.200l3-4.800z"/><path fill="#f2701c" d="M508.4 412.3l-5 7h3l-2.200 6 6.800-8.200h-3.200l3-4.800z"/><path fill="#e8140e" d="M105.7 406l-5 7h3l-2.200 6 6.800-8.200h-3.200l3-4.800z"/><path fill="#ffff00" d="M536.4 412l-5 7h3l-2.200 6 6.800-8.200h-3.200l3-4.800z"/><path fill="#19b4f2" d="M414.9 407.5l-5 7h3l-2.200 6 6.800-8.200h-3.200l3-4.800z"/><path fill="#f2701c" d="M301.7 411.8l-5 7h3l-2.200 6 6.800-8.200h-3.200l3-4.800z"/><path fill="#ffff00" d="M311 411.8l-5 7h3l-2.200 6 6.800-8.200h-3.200l3-4.800z"/><path fill="#8a1212" d="M296.2 407.1l-5 7h3l-2.200 6 6.800-8.200h-3.200l3-4.800z"/><path fill="#ffff00" d="M359.4 408l-5 7h3l-2.200 6 6.800-8.200h-3.200l3-4.800z"/><path fill="#8a1212" d="M248.6 406.6l-5 7h3l-2.200 6 6.800-8.200h-3.200l3-4.800z"/><path fill="#ffff00" d="M228.1 413l-5 7h3l-2.200 6 6.800-8.200h-3.200l3-4.800zM331.9 405.8l-5 7h3l-2.200 6 6.800-8.200h-3.200l3-4.800z"/><path fill="#19b4f2" d="M427.2 412.6l-5 7h3l-2.200 6 6.800-8.200h-3.200l3-4.800z"/><path fill="#f2701c" d="M139.4 407.8l-5 7h3l-2.200 6 6.800-8.200h-3.200l3-4.800z"/><path fill="#ffff00" d="M436.5 406.7l-5 7h3l-2.200 6 6.800-8.200h-3.200l3-4.800z"/><path fill="#e8140e" d="M192.4 413.3l-5 7h3l-2.200 6 6.800-8.200h-3.200l3-4.800z"/><path fill="#ffff00" d="M569.7 413l-5 7h3l-2.200 6 6.800-8.200h-3.200l3-4.800zM467.9 412.3l-5 7h3l-2.200 6 6.800-8.200h-3.200l3-4.800zM279.4 411.4l-5 7h3l-2.200 6 6.800-8.200h-3.200l3-4.800zM240.1 406.6l-5 7h3l-2.200 6 6.800-8.200h-3.200l3-4.800zM267.4 407.7l-5 7h3l-2.200 6 6.800-8.200h-3.200l3-4.800zM412.4 412.9l-5 7h3l-2.200 6 6.800-8.200h-3.200l3-4.800z"/><path fill="#e8140e" d="M581.7 412.9l-5 7h3l-2.200 6 6.800-8.200h-3.200l3-4.800z"/><path fill="#ffff00" d="M386.3 406.8l-5 7h3l-2.200 6 6.800-8.200h-3.200l3-4.800z"/><path fill="#f2701c" d="M206.9 411.7l-5 7h3l-2.200 6 6.800-8.200h-3.200l3-4.800zM296.6 412.5l-5 7h3l-2.200 6 6.800-8.200h-3.200l3-4.800z"/><path fill="#ffff00" d="M550.9 412.3l-5 7h3l-2.200 6 6.800-8.200h-3.200l3-4.800zM156.5 406.4l-5 7h3l-2.200 6 6.800-8.200h-3.200l3-4.800zM201.3 412.6l-5 7h3l-2.200 6 6.800-8.200h-3.200l3-4.800zM275.8 406.6l-5 7h3l-2.200 6 6.800-8.200h-3.200l3-4.800z"/><path fill="#f2701c" d="M308.3 407l-5 7h3l-2.200 6 6.800-8.200h-3.200l3-4.800z"/><path fill="#ffff00" d="M234.2 412.5l-5 7h3l-2.200 6 6.800-8.200h-3.200l3-4.800zM305.7 412.3l-5 7h3l-2.200 6 6.800-8.200h-3.200l3-4.800zM197.9 408.3l-5 7h3l-2.200 6 6.800-8.200h-3.200l3-4.800zM369.2 408l-5 7h3l-2.200 6 6.800-8.200h-3.200l3-4.800zM539.9 406.9l-5 7h3l-2.200 6 6.800-8.200h-3.200l3-4.800z"/><path fill="#19b4f2" d="M342.2 407.3l-5 7h3l-2.200 6 6.800-8.200h-3.200l3-4.800z"/><path fill="#e8140e" d="M114.4 407.8l-5 7h3l-2.200 6 6.800-8.200h-3.200l3-4.800z"/><path fill="#ffff00" d="M227.8 408.4l-5 7h3l-2.200 6 6.800-8.200h-3.200l3-4.800zM450.4 408.5l-5 7h3l-2.200 6 6.800-8.200h-3.200l3-4.800z"/><path fill="#f2701c" d="M210.3 414.1l-5 7h3l-2.200 6 6.800-8.200h-3.200l3-4.800z"/><path fill="#ffff00" d="M247.7 413.7l-5 7h3l-2.200 6 6.800-8.200h-3.200l3-4.800zM409.1 411.5l-5 7h3l-2.200 6 6.800-8.200h-3.200l3-4.800z"/><path fill="#f2701c" d="M513.6 413.8l-5 7h3l-2.200 6 6.800-8.200h-3.200l3-4.800z"/><path fill="#ffff00" d="M152.6 407.9l-5 7h3l-2.200 6 6.800-8.200h-3.200l3-4.800zM471.9 412.6l-5 7h3l-2.200 6 6.800-8.200h-3.200l3-4.800z"/><path fill="#e8140e" d="M534 408.6l-5 7h3l-2.200 6 6.800-8.200h-3.200l3-4.800z"/><path fill="#8a1212" d="M291.8 413.3l-5 7h3l-2.200 6 6.800-8.200h-3.200l3-4.800z"/><path fill="#f2701c" d="M273.5 411.4l-5 7h3l-2.200 6 6.800-8.200h-3.200l3-4.800z"/><path fill="#ffff00" d="M525.1 407.4l-5 7h3l-2.200 6 6.800-8.200h-3.200l3-4.800zM547.6 408.2l-5 7h3l-2.200 6 6.800-8.200h-3.200l3-4.800z"/><path fill="#e8140e" d="M407.2 408.1l-5 7h3l-2.200 6 6.800-8.200h-3.200l3-4.800z"/><path fill="#19b4f2" d="M322.1 408l-5 7h3l-2.200 6 6.800-8.200h-3.200l3-4.800z"/><path fill="#ffff00" d="M394.4 411.3l-5 7h3l-2.200 6 6.800-8.200h-3.200l3-4.800z"/><path fill="#f2701c" d="M579.2 413.1l-5 7h3l-2.200 6 6.800-8.200h-3.200l3-4.800z"/><path fill="#e8140e" d="M264.3 414l-5 7h3l-2.200 6 6.800-8.200h-3.200l3-4.800z"/><path fill="#ffff00" d="M433.4 407.5l-5 7h3l-2.200 6 6.800-8.200h-3.200l3-4.800zM287.3 408.6l-5 7h3l-2.200 6 6.800-8.200h-3.200l3-4.800zM431.3 412.3l-5 7h3l-2.200 6 6.800-8.200h-3.200l3-4.800zM178.7 412.6l-5 7h3l-2.200 6 6.800-8.200h-3.200l3-4.800z"/><path fill="#19b4f2" d="M423.2 413.3l-5 7h3l-2.200 6 6.800-8.200h-3.200l3-4.800z"/><path fill="#ffff00" d="M372.1 408.7l-5 7h3l-2.200 6 6.800-8.200h-3.200l3-4.800zM478.3 407.9l-5 7h3l-2.200 6 6.800-8.200h-3.200l3-4.800zM356.2 411.7l-5 7h3l-2.200 6 6.800-8.200h-3.200l3-4.800z"/><path fill="#19b4f2" d="M314.2 408.6l-5 7h3l-2.200 6 6.800-8.200h-3.200l3-4.800z"/><path fill="#ffff00" d="M374.4 411.9l-5 7h3l-2.200 6 6.800-8.200h-3.200l3-4.800zM238.9 411.4l-5 7h3l-2.200 6 6.800-8.200h-3.200l3-4.800z"/><path fill="#f2701c" d="M515.1 408.6l-5 7h3l-2.200 6 6.800-8.200h-3.200l3-4.800z"/><path fill="#ffff00" d="M448.8 412.2l-5 7h3l-2.200 6 6.800-8.200h-3.200l3-4.800z"/><path fill="#f2701c" d="M112.2 411.7l-5 7h3l-2.200 6 6.800-8.200h-3.200l3-4.800z"/><path fill="#ffff00" d="M261.8 413.5l-5 7h3l-2.200 6 6.800-8.200h-3.200l3-4.800z"/><path fill="#19b4f2" d="M187.9 413l-5 7h3l-2.200 6 6.800-8.200h-3.200l3-4.800z"/><path fill="#8a1212" d="M487.6 411.8l-5 7h3l-2.200 6 6.800-8.200h-3.200l3-4.800z"/><path fill="#f2701c" d="M503.8 413.4l-5 7h3l-2.200 6 6.800-8.200h-3.200l3-4.800z"/><path fill="#ffff00" d="M441 412.7l-5 7h3l-2.200 6 6.800-8.200h-3.200l3-4.800zM196.6 411.6l-5 7h3l-2.200 6 6.800-8.200h-3.200l3-4.800z"/><path fill="#f2701c" d="M574.7 413.9l-5 7h3l-2.200 6 6.800-8.200h-3.200l3-4.800z"/><path fill="#ffff00" d="M367.9 414.2l-5 7h3l-2.200 6 6.800-8.200h-3.200l3-4.800zM250.5 414.1l-5 7h3l-2.200 6 6.800-8.200h-3.200l3-4.800zM380.8 413.1l-5 7h3l-2.200 6 6.800-8.200h-3.200l3-4.800zM283.2 412.4l-5 7h3l-2.200 6 6.800-8.200h-3.200l3-4.800zM463.1 412.5l-5 7h3l-2.200 6 6.800-8.200h-3.200l3-4.800z"/><path fill="#8a1212" d="M489.4 411.4l-5 7h3l-2.200 6 6.800-8.200h-3.200l3-4.800z"/><path fill="#ffff00" d="M119.3 411.9l-5 7h3l-2.200 6 6.800-8.200h-3.200l3-4.800zM517.8 411.6l-5 7h3l-2.200 6 6.800-8.200h-3.200l3-4.800z"/><path fill="#19b4f2" d="M128 413.8l-5 7h3l-2.200 6 6.800-8.200h-3.200l3-4.800z"/><path fill="#ffff00" d="M405.9 417.4l-5 7h3l-2.200 6 6.800-8.200h-3.200l3-4.800z"/><path fill="#f2701c" d="M531.5 413.3l-5 7h3l-2.200 6 6.800-8.200h-3.200l3-4.800z"/><path fill="#19b4f2" d="M285.6 417.3l-5 7h3l-2.200 6 6.800-8.200h-3.200l3-4.800z"/><path fill="#ffff00" d="M454.9 417.8l-5 7h3l-2.200 6 6.800-8.200h-3.200l3-4.800z"/><path fill="#19b4f2" d="M417.8 413.4l-5 7h3l-2.200 6 6.800-8.200h-3.200l3-4.800z"/><path fill="#ffff00" d="M384.6 411.7l-5 7h3l-2.200 6 6.800-8.200h-3.200l3-4.800z"/><path fill="#f2701c" d="M211.2 418.1l-5 7h3l-2.200 6 6.800-8.200h-3.200l3-4.800z"/><path fill="#ffff00" d="M322 413.6l-5 7h3l-2.200 6 6.800-8.200h-3.200l3-4.800zM369.7 414.3l-5 7h3l-2.200 6 6.800-8.200h-3.200l3-4.800zM564.5 411.8l-5 7h3l-2.200 6 6.800-8.200h-3.200l3-4.800zM481.5 412.1l-5 7h3l-2.200 6 6.800-8.200h-3.200l3-4.800zM326.3 412.4l-5 7h3l-2.200 6 6.800-8.200h-3.200l3-4.800zM224.1 412.1l-5 7h3l-2.200 6 6.800-8.200h-3.200l3-4.800z"/><path fill="#e8140e" d="M500 413.6l-5 7h3l-2.200 6 6.800-8.200h-3.200l3-4.800z"/><path fill="#19b4f2" d="M257.7 411.8l-5 7h3l-2.200 6 6.800-8.200h-3.200l3-4.800z"/><path fill="#ffff00" d="M453.7 412.5l-5 7h3l-2.200 6 6.800-8.200h-3.200l3-4.800zM540.2 412.8l-5 7h3l-2.200 6 6.800-8.200h-3.200l3-4.800zM348.5 411.9l-5 7h3l-2.200 6 6.800-8.200h-3.200l3-4.800zM144.8 412.1l-5 7h3l-2.200 6 6.800-8.200h-3.200l3-4.800zM477.7 412.1l-5 7h3l-2.200 6 6.800-8.200h-3.200l3-4.800zM436.4 412l-5 7h3l-2.200 6 6.800-8.200h-3.200l3-4.800zM334.1 413.6l-5 7h3l-2.200 6 6.800-8.200h-3.200l3-4.800zM183 412.5l-5 7h3l-2.200 6 6.800-8.200h-3.200l3-4.800zM218.6 413.9l-5 7h3l-2.200 6 6.800-8.200h-3.200l3-4.800zM447.8 418l-5 7h3l-2.200 6 6.800-8.200h-3.200l3-4.800zM369.3 418.9l-5 7h3l-2.200 6 6.800-8.200h-3.200l3-4.800zM402.1 413.6l-5 7h3l-2.200 6 6.800-8.200h-3.200l3-4.800z"/><path fill="#f2701c" d="M268.9 413.9l-5 7h3l-2.200 6 6.800-8.200h-3.200l3-4.800z"/><path fill="#ffff00" d="M445.4 413.1l-5 7h3l-2.200 6 6.800-8.200h-3.200l3-4.800zM507.4 417.7l-5 7h3l-2.200 6 6.800-8.200h-3.200l3-4.800z"/><path fill="#f2701c" d="M576 417.1l-5 7h3l-2.200 6 6.800-8.200h-3.200l3-4.800z"/><path fill="#ffff00" d="M321.7 417.7l-5 7h3l-2.200 6 6.800-8.200h-3.200l3-4.800zM231.3 417.4l-5 7h3l-2.200 6 6.800-8.200h-3.200l3-4.800zM400.2 413.4l-5 7h3l-2.200 6 6.800-8.200h-3.200l3-4.800zM553.7 412.8l-5 7h3l-2.200 6 6.800-8.200h-3.200l3-4.800zM172.5 411.7l-5 7h3l-2.200 6 6.800-8.200h-3.200l3-4.800zM242.4 412.7l-5 7h3l-2.200 6 6.800-8.200h-3.200l3-4.800zM337.9 414l-5 7h3l-2.200 6 6.800-8.200h-3.200l3-4.800z"/><path fill="#e8140e" d="M331.3 412.8l-5 7h3l-2.200 6 6.800-8.200h-3.200l3-4.800z"/><path fill="#ffff00" d="M495.9 412.1l-5 7h3l-2.200 6 6.800-8.200h-3.200l3-4.800z"/><path fill="#8a1212" d="M293.8 419.5l-5 7h3l-2.200 6 6.800-8.200h-3.200l3-4.800z"/><path fill="#f2701c" d="M528.3 412.1l-5 7h3l-2.200 6 6.800-8.200h-3.200l3-4.800z"/><path fill="#ffff00" d="M131.3 411.9l-5 7h3l-2.200 6 6.800-8.200h-3.200l3-4.800z"/><path fill="#8a1212" d="M215.7 413.9l-5 7h3l-2.200 6 6.800-8.200h-3.200l3-4.800z"/><path fill="#ffff00" d="M362.5 414.1l-5 7h3l-2.200 6 6.800-8.200h-3.200l3-4.800zM315.2 412.2l-5 7h3l-2.200 6 6.800-8.200h-3.200l3-4.800zM343.5 414.2l-5 7h3l-2.200 6 6.800-8.200h-3.200l3-4.800zM238.8 418.1l-5 7h3l-2.200 6 6.800-8.200h-3.200l3-4.800zM547.8 418.4l-5 7h3l-2.200 6 6.800-8.200h-3.200l3-4.800zM309.2 417.3l-5 7h3l-2.200 6 6.800-8.200h-3.200l3-4.800z"/><path fill="#19b4f2" d="M429.4 419.3l-5 7h3l-2.200 6 6.800-8.200h-3.200l3-4.800z"/><path fill="#ffff00" d="M388.9 413.9l-5 7h3l-2.200 6 6.800-8.200h-3.200l3-4.800zM562.9 419.2l-5 7h3l-2.200 6 6.800-8.200h-3.200l3-4.800zM459.2 412.8l-5 7h3l-2.200 6 6.800-8.200h-3.200l3-4.800zM349.4 418.9l-5 7h3l-2.200 6 6.800-8.200h-3.200l3-4.800zM561.1 413.5l-5 7h3l-2.200 6 6.800-8.200h-3.200l3-4.800zM352.6 414l-5 7h3l-2.200 6 6.800-8.200h-3.200l3-4.800z"/><path fill="#e8140e" d="M494.5 417.9l-5 7h3l-2.200 6 6.800-8.200h-3.200l3-4.800z"/><path fill="#ffff00" d="M289.4 413.8l-5 7h3l-2.200 6 6.800-8.200h-3.200l3-4.800zM452.9 418.6l-5 7h3l-2.200 6 6.800-8.200h-3.200l3-4.800zM544.7 413.8l-5 7h3l-2.200 6 6.800-8.200h-3.200l3-4.800z"/><path fill="#8a1212" d="M217.4 417.5l-5 7h3l-2.200 6 6.800-8.200h-3.200l3-4.800z"/><path fill="#19b4f2" d="M424 419.8l-5 7h3l-2.200 6 6.800-8.200h-3.200l3-4.800z"/><path fill="#ffff00" d="M328.6 419.3l-5 7h3l-2.200 6 6.800-8.200h-3.200l3-4.800z"/><path fill="#f2701c" d="M572 419.5l-5 7h3l-2.200 6 6.800-8.200h-3.200l3-4.800z"/><path fill="#ffff00" d="M337.7 418.1l-5 7h3l-2.200 6 6.800-8.200h-3.200l3-4.800z"/><path fill="#f2701c" d="M207.2 417.2l-5 7h3l-2.200 6 6.800-8.200h-3.200l3-4.800z"/><path fill="#ffff00" d="M372.5 418l-5 7h3l-2.200 6 6.800-8.200h-3.200l3-4.800zM543.9 418.9l-5 7h3l-2.200 6 6.800-8.200h-3.200l3-4.800z"/><path fill="#f2701c" d="M579.3 418.3l-5 7h3l-2.200 6 6.800-8.200h-3.200l3-4.800z"/><path fill="#ffff00" d="M521.7 414l-5 7h3l-2.200 6 6.800-8.200h-3.200l3-4.800z"/><path fill="#f2701c" d="M487.4 417.4l-5 7h3l-2.200 6 6.800-8.200h-3.200l3-4.800z"/><path fill="#ffff00" d="M538.1 418.4l-5 7h3l-2.200 6 6.800-8.200h-3.200l3-4.800zM503.7 419.3l-5 7h3l-2.200 6 6.800-8.200h-3.200l3-4.800z"/><path fill="#19b4f2" d="M431.8 418.9l-5 7h3l-2.200 6 6.800-8.200h-3.200l3-4.800z"/><path fill="#ffff00" d="M346 418.5l-5 7h3l-2.200 6 6.800-8.200h-3.200l3-4.800zM245.4 419.5l-5 7h3l-2.200 6 6.800-8.200h-3.200l3-4.800zM556.4 417.9l-5 7h3l-2.200 6 6.800-8.200h-3.200l3-4.800zM331.1 417.1l-5 7h3l-2.200 6 6.800-8.200h-3.200l3-4.800z"/><path fill="#f2701c" d="M276.7 417.1l-5 7h3l-2.200 6 6.800-8.200h-3.200l3-4.800z"/><path fill="#ffff00" d="M528.5 419l-5 7h3l-2.200 6 6.800-8.200h-3.200l3-4.800z"/><path fill="#f2701c" d="M299.6 418.4l-5 7h3l-2.200 6 6.800-8.200h-3.200l3-4.800z"/><path fill="#ffff00" d="M402.5 418.6l-5 7h3l-2.200 6 6.800-8.200h-3.200l3-4.800zM225.7 418.9l-5 7h3l-2.200 6 6.800-8.200h-3.200l3-4.800zM359.1 419.7l-5 7h3l-2.200 6 6.800-8.200h-3.200l3-4.800zM532 423l-5 7h3l-2.200 6 6.800-8.200h-3.200l3-4.800zM565.8 419.5l-5 7h3l-2.200 6 6.800-8.200h-3.200l3-4.800z"/><path fill="#f2701c" d="M267.2 419.7l-5 7h3l-2.200 6 6.800-8.200h-3.200l3-4.800z"/><path fill="#ffff00" d="M439 418l-5 7h3l-2.200 6 6.800-8.200h-3.200l3-4.800z"/><path fill="#e8140e" d="M496.2 417.8l-5 7h3l-2.200 6 6.800-8.200h-3.200l3-4.800z"/><path fill="#f2701c" d="M273.7 417.6l-5 7h3l-2.200 6 6.800-8.200h-3.200l3-4.800z"/><path fill="#ffff00" d="M317.3 417.8l-5 7h3l-2.200 6 6.800-8.200h-3.200l3-4.800zM314.6 417.1l-5 7h3l-2.200 6 6.800-8.200h-3.200l3-4.800zM274 423.1l-5 7h3l-2.200 6 6.800-8.200h-3.200l3-4.800z"/><path fill="#f2701c" d="M510.2 419.7l-5 7h3l-2.200 6 6.800-8.200h-3.200l3-4.800z"/><path fill="#ffff00" d="M465.9 418.6l-5 7h3l-2.200 6 6.800-8.200h-3.200l3-4.800zM222.1 419l-5 7h3l-2.200 6 6.800-8.200h-3.200l3-4.800zM397.1 419.1l-5 7h3l-2.200 6 6.800-8.200h-3.200l3-4.800zM280.5 418.1l-5 7h3l-2.200 6 6.800-8.200h-3.200l3-4.800zM525.7 418.1l-5 7h3l-2.200 6 6.800-8.200h-3.200l3-4.800z"/><path fill="#f2701c" d="M269 422.7l-5 7h3l-2.200 6 6.800-8.200h-3.200l3-4.800zM204 418.9l-5 7h3l-2.200 6 6.800-8.200h-3.200l3-4.800zM105.6 424l-5 7h3l-2.200 6 6.800-8.200h-3.200l3-4.800z"/><path fill="#ffff00" d="M235.8 418.9l-5 7h3l-2.200 6 6.800-8.200h-3.200l3-4.800z"/><path fill="#19b4f2" d="M426.7 423.9l-5 7h3l-2.200 6 6.800-8.200h-3.200l3-4.800z"/><path fill="#e8140e" d="M187.7 422.7l-5 7h3l-2.200 6 6.800-8.200h-3.200l3-4.800z"/><path fill="#19b4f2" d="M431.1 422.8l-5 7h3l-2.200 6 6.800-8.200h-3.200l3-4.800z"/><path fill="#ffff00" d="M519.6 417.4l-5 7h3l-2.200 6 6.800-8.200h-3.200l3-4.800zM515.7 417.6l-5 7h3l-2.200 6 6.800-8.200h-3.200l3-4.800z"/><path fill="#f2701c" d="M340.9 417.5l-5 7h3l-2.200 6 6.800-8.200h-3.200l3-4.800z"/><path fill="#ffff00" d="M398.9 423.8l-5 7h3l-2.200 6 6.800-8.200h-3.200l3-4.800zM552.7 418.3l-5 7h3l-2.200 6 6.800-8.200h-3.200l3-4.800zM96.1 418.7l-5 7h3l-2.200 6 6.800-8.200h-3.200l3-4.800zM393.5 423.3l-5 7h3l-2.200 6 6.800-8.200h-3.200l3-4.800zM265.9 424.8l-5 7h3l-2.200 6 6.800-8.200h-3.200l3-4.800zM577.8 424.3l-5 7h3l-2.200 6 6.800-8.200h-3.200l3-4.800zM442.6 419.2l-5 7h3l-2.200 6 6.800-8.200h-3.200l3-4.800zM305.8 419.4l-5 7h3l-2.200 6 6.800-8.200h-3.200l3-4.800zM259.9 418l-5 7h3l-2.200 6 6.800-8.200h-3.200l3-4.800z"/><path fill="#f2701c" d="M485.4 418.9l-5 7h3l-2.200 6 6.800-8.200h-3.200l3-4.800z"/><path fill="#ffff00" d="M542.3 424.5l-5 7h3l-2.200 6 6.800-8.200h-3.200l3-4.800zM264 419.5l-5 7h3l-2.200 6 6.800-8.200h-3.200l3-4.800z"/><path fill="#19b4f2" d="M421.7 423.3l-5 7h3l-2.200 6 6.800-8.200h-3.200l3-4.800z"/><path fill="#ffff00" d="M362.8 423.1l-5 7h3l-2.200 6 6.800-8.200h-3.200l3-4.800z"/><path fill="#f2701c" d="M535.8 419.7l-5 7h3l-2.200 6 6.800-8.200h-3.200l3-4.800z"/><path fill="#ffff00" d="M415.5 417.6l-5 7h3l-2.200 6 6.800-8.200h-3.200l3-4.800z"/><path fill="#19b4f2" d="M420.8 417.5l-5 7h3l-2.200 6 6.800-8.200h-3.200l3-4.800z"/><path fill="#ffff00" d="M385.2 423l-5 7h3l-2.200 6 6.800-8.200h-3.200l3-4.800zM512.6 424.5l-5 7h3l-2.200 6 6.800-8.200h-3.200l3-4.800zM411.7 417.5l-5 7h3l-2.200 6 6.800-8.200h-3.200l3-4.800z"/><path fill="#f2701c" d="M307.5 422.9l-5 7h3l-2.200 6 6.800-8.200h-3.200l3-4.800z"/><path fill="#ffff00" d="M415.8 423.7l-5 7h3l-2.200 6 6.800-8.200h-3.200l3-4.800zM133.6 419.5l-5 7h3l-2.200 6 6.800-8.200h-3.200l3-4.800zM527.2 424.3l-5 7h3l-2.200 6 6.800-8.200h-3.200l3-4.800zM389.2 423.7l-5 7h3l-2.200 6 6.800-8.200h-3.200l3-4.800zM255.5 424.1l-5 7h3l-2.200 6 6.800-8.200h-3.200l3-4.800zM454.5 425.1l-5 7h3l-2.200 6 6.800-8.200h-3.200l3-4.800zM461.2 418.3l-5 7h3l-2.200 6 6.800-8.200h-3.200l3-4.800zM573.3 425l-5 7h3l-2.200 6 6.800-8.200h-3.200l3-4.800zM355.3 419.8l-5 7h3l-2.200 6 6.800-8.200h-3.200l3-4.800zM351.3 422.8l-5 7h3l-2.200 6 6.800-8.200h-3.200l3-4.800z"/><path fill="#f2701c" d="M280.2 424l-5 7h3l-2.200 6 6.800-8.200h-3.200l3-4.800z"/><path fill="#ffff00" d="M387.1 419.5l-5 7h3l-2.200 6 6.800-8.200h-3.200l3-4.800zM391.1 418.4l-5 7h3l-2.200 6 6.800-8.200h-3.200l3-4.800zM380 423.9l-5 7h3l-2.200 6 6.800-8.200h-3.200l3-4.800zM378.9 418.9l-5 7h3l-2.200 6 6.800-8.200h-3.200l3-4.800z"/><path fill="#8a1212" d="M291.1 419.5l-5 7h3l-2.200 6 6.800-8.200h-3.200l3-4.800z"/><path fill="#ffff00" d="M471.1 418.5l-5 7h3l-2.200 6 6.800-8.200h-3.200l3-4.800zM466.8 423.5l-5 7h3l-2.200 6 6.800-8.200h-3.200l3-4.800zM537.8 424.2l-5 7h3l-2.200 6 6.800-8.200h-3.200l3-4.800zM283.6 423.6l-5 7h3l-2.200 6 6.800-8.200h-3.200l3-4.800zM518.4 423.8l-5 7h3l-2.200 6 6.800-8.200h-3.200l3-4.800zM382.6 419.1l-5 7h3l-2.200 6 6.800-8.200h-3.200l3-4.800zM233.1 424.7l-5 7h3l-2.200 6 6.800-8.200h-3.200l3-4.800zM413.6 422.8l-5 7h3l-2.200 6 6.800-8.200h-3.200l3-4.800z"/><path fill="#f2701c" d="M472.9 424l-5 7h3l-2.200 6 6.800-8.200h-3.200l3-4.800z"/><path fill="#ffff00" d="M250.6 419.7l-5 7h3l-2.200 6 6.800-8.200h-3.200l3-4.800zM364 419.3l-5 7h3l-2.200 6 6.800-8.200h-3.200l3-4.800z"/><path fill="#19b4f2" d="M480.5 419.6l-5 7h3l-2.200 6 6.800-8.200h-3.200l3-4.800z"/><path fill="#ffff00" d="M218.3 424.8l-5 7h3l-2.200 6 6.800-8.200h-3.200l3-4.800zM499.5 423.8l-5 7h3l-2.200 6 6.800-8.200h-3.200l3-4.800zM302.6 422.8l-5 7h3l-2.200 6 6.800-8.200h-3.200l3-4.800zM326.3 423.4l-5 7h3l-2.200 6 6.800-8.200h-3.200l3-4.800zM255.2 419.3l-5 7h3l-2.200 6 6.800-8.200h-3.200l3-4.800zM322 423.1l-5 7h3l-2.200 6 6.800-8.200h-3.200l3-4.800z"/><path fill="#f2701c" d="M474.8 419.8l-5 7h3l-2.200 6 6.800-8.200h-3.200l3-4.800zM504.4 423.6l-5 7h3l-2.200 6 6.800-8.200h-3.200l3-4.800z"/><path fill="#ffff00" d="M329.4 424.5l-5 7h3l-2.200 6 6.800-8.200h-3.200l3-4.800z"/><path fill="#f2701c" d="M509.4 423.2l-5 7h3l-2.200 6 6.800-8.200h-3.200l3-4.800zM463.3 423.2l-5 7h3l-2.200 6 6.800-8.200h-3.200l3-4.800z"/><path fill="#e8140e" d="M550.3 424.5l-5 7h3l-2.200 6 6.800-8.200h-3.200l3-4.800z"/><path fill="#ffff00" d="M208.8 423l-5 7h3l-2.200 6 6.800-8.200h-3.200l3-4.800z"/><path fill="#f2701c" d="M491.1 423.8l-5 7h3l-2.200 6 6.800-8.200h-3.200l3-4.800z"/><path fill="#ffff00" d="M342.9 424.7l-5 7h3l-2.200 6 6.800-8.200h-3.200l3-4.800zM404.9 424.4l-5 7h3l-2.200 6 6.800-8.200h-3.200l3-4.800z"/><path fill="#8a1212" d="M459.8 423.4l-5 7h3l-2.200 6 6.800-8.200h-3.200l3-4.800z"/><path fill="#19b4f2" d="M292.3 423.7l-5 7h3l-2.200 6 6.800-8.200h-3.200l3-4.800z"/><path fill="#ffff00" d="M348.9 425.3l-5 7h3l-2.200 6 6.800-8.200h-3.200l3-4.800z"/><path fill="#f2701c" d="M310.8 423.1l-5 7h3l-2.200 6 6.800-8.200h-3.200l3-4.800z"/><path fill="#ffff00" d="M446 425.3l-5 7h3l-2.200 6 6.800-8.200h-3.200l3-4.800z"/><path fill="#19b4f2" d="M356.2 424.1l-5 7h3l-2.200 6 6.800-8.200h-3.200l3-4.800z"/><path fill="#e8140e" d="M433.4 428.1l-5 7h3l-2.200 6 6.800-8.200h-3.200l3-4.800z"/><path fill="#ffff00" d="M435.9 423.8l-5 7h3l-2.200 6 6.800-8.200h-3.200l3-4.800zM367.8 424l-5 7h3l-2.200 6 6.800-8.200h-3.200l3-4.800zM407.1 425.3l-5 7h3l-2.200 6 6.800-8.200h-3.200l3-4.800zM480.3 424.5l-5 7h3l-2.200 6 6.800-8.200h-3.200l3-4.800zM338.5 422.8l-5 7h3l-2.200 6 6.800-8.200h-3.200l3-4.800zM521.6 423.6l-5 7h3l-2.200 6 6.800-8.200h-3.200l3-4.800zM555.4 425.1l-5 7h3l-2.200 6 6.800-8.200h-3.200l3-4.800zM247.8 424.9l-5 7h3l-2.200 6 6.800-8.200h-3.200l3-4.800zM268.9 428.3l-5 7h3l-2.200 6 6.800-8.200h-3.200l3-4.800zM368.9 428.1l-5 7h3l-2.200 6 6.800-8.200h-3.200l3-4.800zM478.1 425.1l-5 7h3l-2.200 6 6.800-8.200h-3.200l3-4.800zM450 423.1l-5 7h3l-2.200 6 6.800-8.200h-3.200l3-4.800zM372.1 423.2l-5 7h3l-2.200 6 6.800-8.200h-3.200l3-4.800z"/><path fill="#f2701c" d="M460.6 428.6l-5 7h3l-2.200 6 6.800-8.200h-3.200l3-4.800z"/><path fill="#19b4f2" d="M334 422.6l-5 7h3l-2.200 6 6.800-8.200h-3.200l3-4.800z"/><path fill="#f2701c" d="M487.2 423.7l-5 7h3l-2.200 6 6.800-8.200h-3.200l3-4.800z"/><path fill="#ffff00" d="M440.8 422.5l-5 7h3l-2.200 6 6.800-8.200h-3.200l3-4.800zM259.7 422.7l-5 7h3l-2.200 6 6.800-8.200h-3.200l3-4.800zM365.7 429.2l-5 7h3l-2.200 6 6.800-8.200h-3.200l3-4.800zM526.7 428.9l-5 7h3l-2.200 6 6.800-8.200h-3.200l3-4.800z"/><path fill="#f2701c" d="M495.9 423.8l-5 7h3l-2.200 6 6.800-8.200h-3.200l3-4.800z"/><path fill="#ffff00" d="M242.8 423.5l-5 7h3l-2.200 6 6.800-8.200h-3.200l3-4.800z"/><path fill="#f2701c" d="M465.5 429.2l-5 7h3l-2.200 6 6.800-8.200h-3.200l3-4.800zM314.8 424.5l-5 7h3l-2.200 6 6.800-8.200h-3.200l3-4.800z"/><path fill="#e8140e" d="M405.8 428.6l-5 7h3l-2.200 6 6.800-8.200h-3.200l3-4.800z"/><path fill="#ffff00" d="M451 429.3l-5 7h3l-2.200 6 6.800-8.200h-3.200l3-4.800zM410.3 429.8l-5 7h3l-2.200 6 6.800-8.200h-3.200l3-4.800zM296.7 424.7l-5 7h3l-2.200 6 6.800-8.200h-3.200l3-4.800z"/><path fill="#8a1212" d="M400.6 428.3l-5 7h3l-2.200 6 6.800-8.200h-3.200l3-4.800z"/><path fill="#ffff00" d="M322.1 428.6l-5 7h3l-2.200 6 6.800-8.200h-3.200l3-4.800zM473.2 428.5l-5 7h3l-2.200 6 6.800-8.200h-3.200l3-4.800z"/><path fill="#e8140e" d="M567.7 423.7l-5 7h3l-2.200 6 6.800-8.200h-3.200l3-4.800z"/><path fill="#ffff00" d="M375.8 423.4l-5 7h3l-2.200 6 6.800-8.200h-3.200l3-4.800z"/><path fill="#f2701c" d="M101.2 423.3l-5 7h3l-2.200 6 6.800-8.200h-3.200l3-4.800z"/><path fill="#e8140e" d="M565.8 425.4l-5 7h3l-2.200 6 6.800-8.200h-3.200l3-4.800z"/><path fill="#ffff00" d="M442.5 429l-5 7h3l-2.200 6 6.800-8.200h-3.200l3-4.800zM546.9 424.5l-5 7h3l-2.200 6 6.800-8.200h-3.200l3-4.800zM250.8 429.5l-5 7h3l-2.200 6 6.800-8.200h-3.200l3-4.800zM413.6 430.6l-5 7h3l-2.200 6 6.800-8.200h-3.200l3-4.800z"/><path fill="#f2701c" d="M342.2 429l-5 7h3l-2.200 6 6.800-8.200h-3.200l3-4.800z"/><path fill="#ffff00" d="M506.1 429.8l-5 7h3l-2.200 6 6.800-8.200h-3.200l3-4.800zM382.3 428.4l-5 7h3l-2.200 6 6.800-8.200h-3.200l3-4.800zM287.1 424.9l-5 7h3l-2.200 6 6.800-8.200h-3.200l3-4.800zM162.9 429.6l-5 7h3l-2.200 6 6.800-8.200h-3.200l3-4.800z"/><path fill="#19b4f2" d="M315 429l-5 7h3l-2.200 6 6.800-8.200h-3.200l3-4.800z"/><path fill="#e8140e" d="M560.4 425.3l-5 7h3l-2.200 6 6.800-8.200h-3.200l3-4.800z"/><path fill="#f2701c" d="M558.5 431l-5 7h3l-2.200 6 6.800-8.200h-3.200l3-4.800z"/><path fill="#ffff00" d="M292 430.4l-5 7h3l-2.200 6 6.800-8.200h-3.200l3-4.800z"/><path fill="#f2701c" d="M273.8 430.7l-5 7h3l-2.200 6 6.800-8.200h-3.200l3-4.800z"/><path fill="#ffff00" d="M471.1 428.5l-5 7h3l-2.200 6 6.800-8.200h-3.200l3-4.800zM571.9 428.3l-5 7h3l-2.200 6 6.800-8.200h-3.200l3-4.800z"/><path fill="#f2701c" d="M485.1 430.9l-5 7h3l-2.200 6 6.800-8.200h-3.200l3-4.800z"/><path fill="#ffff00" d="M327.5 430.8l-5 7h3l-2.200 6 6.800-8.200h-3.200l3-4.800z"/><path fill="#f2701c" d="M275.8 429.9l-5 7h3l-2.200 6 6.800-8.200h-3.200l3-4.800z"/><path fill="#e8140e" d="M549.6 428.6l-5 7h3l-2.200 6 6.800-8.200h-3.200l3-4.800z"/><path fill="#ffff00" d="M567.5 429.4l-5 7h3l-2.200 6 6.800-8.200h-3.200l3-4.800zM478.3 428.5l-5 7h3l-2.200 6 6.800-8.200h-3.200l3-4.800zM438.8 428.7l-5 7h3l-2.200 6 6.800-8.200h-3.200l3-4.800z"/><path fill="#8a1212" d="M303.6 430.3l-5 7h3l-2.200 6 6.800-8.200h-3.200l3-4.800z"/><path fill="#ffff00" d="M250.5 424.8l-5 7h3l-2.200 6 6.800-8.200h-3.200l3-4.800z"/><path fill="#19b4f2" d="M333.4 430.7l-5 7h3l-2.200 6 6.800-8.200h-3.200l3-4.800z"/><path fill="#ffff00" d="M294.8 429.8l-5 7h3l-2.200 6 6.800-8.200h-3.200l3-4.800zM516.5 431l-5 7h3l-2.200 6 6.800-8.200h-3.200l3-4.800z"/><path fill="#e8140e" d="M521.7 429.5l-5 7h3l-2.200 6 6.800-8.200h-3.200l3-4.800z"/><path fill="#ffff00" d="M574.9 428.3l-5 7h3l-2.200 6 6.800-8.200h-3.200l3-4.800zM258.4 429.6l-5 7h3l-2.200 6 6.800-8.200h-3.200l3-4.800z"/><path fill="#f2701c" d="M488.4 430.3l-5 7h3l-2.200 6 6.800-8.200h-3.200l3-4.800z"/><path fill="#ffff00" d="M538.7 429.6l-5 7h3l-2.200 6 6.800-8.200h-3.200l3-4.800z"/><path fill="#19b4f2" d="M353.9 431l-5 7h3l-2.200 6 6.800-8.200h-3.200l3-4.800z"/><path fill="#ffff00" d="M530.4 428.2l-5 7h3l-2.200 6 6.800-8.200h-3.200l3-4.800zM544.8 430.6l-5 7h3l-2.200 6 6.800-8.200h-3.200l3-4.800z"/><path fill="#f2701c" d="M391.8 428.5l-5 7h3l-2.200 6 6.800-8.200h-3.200l3-4.800z"/><path fill="#8a1212" d="M456 429l-5 7h3l-2.200 6 6.800-8.200h-3.200l3-4.800z"/><path fill="#19b4f2" d="M419.6 429.9l-5 7h3l-2.200 6 6.800-8.200h-3.200l3-4.800z"/><path fill="#ffff00" d="M510.4 428.8l-5 7h3l-2.200 6 6.800-8.200h-3.200l3-4.800zM429.7 430.1l-5 7h3l-2.200 6 6.800-8.200h-3.200l3-4.800z"/><path fill="#f2701c" d="M388.5 428.7l-5 7h3l-2.200 6 6.800-8.200h-3.200l3-4.800z"/><path fill="#ffff00" d="M216.9 429.7l-5 7h3l-2.200 6 6.800-8.200h-3.200l3-4.800z"/><path fill="#e8140e" d="M563.1 428.7l-5 7h3l-2.200 6 6.800-8.200h-3.200l3-4.800z"/><path fill="#ffff00" d="M339.5 434.3l-5 7h3l-2.200 6 6.800-8.200h-3.200l3-4.800z"/><path fill="#19b4f2" d="M282.5 430.1l-5 7h3l-2.200 6 6.800-8.200h-3.200l3-4.800zM351.9 428.5l-5 7h3l-2.200 6 6.800-8.200h-3.200l3-4.800z"/><path fill="#ffff00" d="M377 430.6l-5 7h3l-2.200 6 6.800-8.200h-3.200l3-4.800z"/><path fill="#19b4f2" d="M297.2 433.7l-5 7h3l-2.200 6 6.800-8.200h-3.200l3-4.800zM360.2 429l-5 7h3l-2.200 6 6.800-8.200h-3.200l3-4.800z"/><path fill="#f2701c" d="M491.7 434.2l-5 7h3l-2.200 6 6.800-8.200h-3.200l3-4.800z"/><path fill="#19b4f2" d="M397.8 430l-5 7h3l-2.200 6 6.800-8.200h-3.200l3-4.800zM309.6 428.5l-5 7h3l-2.200 6 6.800-8.200h-3.200l3-4.800zM317.3 428.8l-5 7h3l-2.200 6 6.800-8.200h-3.200l3-4.800z"/><path fill="#f2701c" d="M496.9 428.2l-5 7h3l-2.200 6 6.800-8.200h-3.200l3-4.800zM481.2 433.8l-5 7h3l-2.200 6 6.800-8.200h-3.200l3-4.800zM491.7 430.6l-5 7h3l-2.200 6 6.800-8.200h-3.200l3-4.800z"/><path fill="#19b4f2" d="M301.1 434.9l-5 7h3l-2.200 6 6.800-8.200h-3.200l3-4.800z"/><path fill="#f2701c" d="M502.7 428.3l-5 7h3l-2.200 6 6.800-8.200h-3.200l3-4.800z"/><path fill="#19b4f2" d="M372.1 428.3l-5 7h3l-2.200 6 6.800-8.200h-3.200l3-4.800z"/><path fill="#8a1212" d="M346.6 429.2l-5 7h3l-2.200 6 6.800-8.200h-3.200l3-4.800z"/><path fill="#19b4f2" d="M422.8 434.2l-5 7h3l-2.200 6 6.800-8.200h-3.200l3-4.800z"/><path fill="#ffff00" d="M399.8 434.6l-5 7h3l-2.200 6 6.800-8.200h-3.200l3-4.800z"/><path fill="#19b4f2" d="M294.3 436.2l-5 7h3l-2.200 6 6.800-8.200h-3.200l3-4.800z"/><path fill="#ffff00" d="M402.2 435.1l-5 7h3l-2.200 6 6.800-8.200h-3.200l3-4.800z"/><path fill="#19b4f2" d="M358.5 433.8l-5 7h3l-2.200 6 6.800-8.200h-3.200l3-4.800zM273.4 436.2l-5 7h3l-2.200 6 6.800-8.200h-3.200l3-4.800z"/><path fill="#ffff00" d="M312.3 435.7l-5 7h3l-2.200 6 6.800-8.200h-3.200l3-4.800z"/><path fill="#19b4f2" d="M424 430.5l-5 7h3l-2.200 6 6.800-8.200h-3.200l3-4.800z"/><path fill="#ffff00" d="M436.1 435.1l-5 7h3l-2.200 6 6.800-8.200h-3.200l3-4.800zM532.3 434.4l-5 7h3l-2.200 6 6.800-8.200h-3.200l3-4.800zM443.8 434.3l-5 7h3l-2.200 6 6.800-8.200h-3.200l3-4.800z"/><path fill="#19b4f2" d="M335.7 434.7l-5 7h3l-2.200 6 6.800-8.200h-3.200l3-4.800z"/><path fill="#ffff00" d="M330.5 435.2l-5 7h3l-2.200 6 6.800-8.200h-3.200l3-4.800zM262.9 429.9l-5 7h3l-2.200 6 6.800-8.200h-3.200l3-4.800z"/><path fill="#f2701c" d="M553.3 430.8l-5 7h3l-2.200 6 6.800-8.200h-3.200l3-4.800z"/><path fill="#ffff00" d="M459.4 436.4l-5 7h3l-2.200 6 6.800-8.200h-3.200l3-4.800z"/><path fill="#19b4f2" d="M287.2 430.8l-5 7h3l-2.200 6 6.800-8.200h-3.200l3-4.800z"/><path fill="#f2701c" d="M418.1 434.5l-5 7h3l-2.200 6 6.800-8.200h-3.200l3-4.800z"/><path fill="#ffff00" d="M271.4 434.4l-5 7h3l-2.200 6 6.800-8.200h-3.200l3-4.800zM447.6 430.9l-5 7h3l-2.200 6 6.800-8.200h-3.200l3-4.800z"/><path fill="#19b4f2" d="M519.5 435.7l-5 7h3l-2.200 6 6.800-8.200h-3.200l3-4.800z"/><path fill="#ffff00" d="M454.4 436.5l-5 7h3l-2.200 6 6.800-8.200h-3.200l3-4.800zM535.5 430.3l-5 7h3l-2.200 6 6.800-8.200h-3.200l3-4.800z"/><path fill="#19b4f2" d="M512.7 435.6l-5 7h3l-2.200 6 6.800-8.200h-3.200l3-4.800z"/><path fill="#ffff00" d="M300.2 429.9l-5 7h3l-2.200 6 6.800-8.200h-3.200l3-4.800z"/><path fill="#f2701c" d="M477 436.7l-5 7h3l-2.200 6 6.800-8.200h-3.200l3-4.800z"/><path fill="#ffff00" d="M178.7 436.1l-5 7h3l-2.200 6 6.800-8.200h-3.200l3-4.800z"/><path fill="#19b4f2" d="M523.8 435.3l-5 7h3l-2.200 6 6.800-8.200h-3.200l3-4.800z"/><path fill="#ffff00" d="M338.1 430.7l-5 7h3l-2.200 6 6.800-8.200h-3.200l3-4.800zM578.5 435.2l-5 7h3l-2.200 6 6.800-8.200h-3.200l3-4.800zM223.3 433.9l-5 7h3l-2.200 6 6.800-8.200h-3.200l3-4.800z"/><path fill="#e8140e" d="M554.1 435.4l-5 7h3l-2.200 6 6.800-8.200h-3.200l3-4.800z"/><path fill="#19b4f2" d="M395.2 434.2l-5 7h3l-2.200 6 6.800-8.200h-3.200l3-4.800z"/><path fill="#f2701c" d="M499.1 434.3l-5 7h3l-2.200 6 6.800-8.200h-3.200l3-4.800zM487.3 435.8l-5 7h3l-2.200 6 6.800-8.200h-3.200l3-4.800z"/><path fill="#ffff00" d="M570.3 436l-5 7h3l-2.200 6 6.800-8.200h-3.200l3-4.800zM449.8 435.5l-5 7h3l-2.200 6 6.800-8.200h-3.200l3-4.800zM314.6 436.5l-5 7h3l-2.200 6 6.800-8.200h-3.200l3-4.800zM324 434.1l-5 7h3l-2.200 6 6.800-8.200h-3.200l3-4.800z"/><path fill="#e8140e" d="M550.5 436.6l-5 7h3l-2.200 6 6.800-8.200h-3.200l3-4.800z"/><path fill="#19b4f2" d="M411.2 434l-5 7h3l-2.200 6 6.800-8.200h-3.200l3-4.800zM284.5 433.9l-5 7h3l-2.200 6 6.800-8.200h-3.200l3-4.800z"/><path fill="#e8140e" d="M427.4 436.2l-5 7h3l-2.200 6 6.800-8.200h-3.200l3-4.800z"/><path fill="#ffff00" d="M385.7 435.6l-5 7h3l-2.200 6 6.800-8.200h-3.200l3-4.800z"/><path fill="#19b4f2" d="M279.2 433.8l-5 7h3l-2.200 6 6.800-8.200h-3.200l3-4.800z"/><path fill="#ffff00" d="M541.4 436.1l-5 7h3l-2.200 6 6.800-8.200h-3.200l3-4.800z"/><path fill="#f2701c" d="M494.9 435.9l-5 7h3l-2.200 6 6.800-8.200h-3.200l3-4.800z"/><path fill="#e8140e" d="M432.3 435.5l-5 7h3l-2.200 6 6.800-8.200h-3.200l3-4.800zM545.5 434.7l-5 7h3l-2.200 6 6.800-8.200h-3.200l3-4.800z"/><path fill="#ffff00" d="M560.6 439.8l-5 7h3l-2.200 6 6.800-8.200h-3.200l3-4.800z"/><path fill="#e8140e" d="M424.8 439.5l-5 7h3l-2.200 6 6.800-8.200h-3.200l3-4.800z"/><path fill="#ffff00" d="M150.8 434.2l-5 7h3l-2.200 6 6.800-8.200h-3.200l3-4.800zM505 434.5l-5 7h3l-2.200 6 6.800-8.200h-3.200l3-4.800z"/><path fill="#f2701c" d="M526.3 433.9l-5 7h3l-2.200 6 6.800-8.200h-3.200l3-4.800z"/><path fill="#ffff00" d="M379 434.1l-5 7h3l-2.200 6 6.800-8.200h-3.200l3-4.800zM321.2 435.2l-5 7h3l-2.200 6 6.800-8.200h-3.200l3-4.800z"/><path fill="#e8140e" d="M512.2 440.1l-5 7h3l-2.200 6 6.800-8.200h-3.200l3-4.800z"/><path fill="#19b4f2" d="M408.9 434.8l-5 7h3l-2.200 6 6.800-8.200h-3.200l3-4.800zM375.2 436.5l-5 7h3l-2.200 6 6.800-8.200h-3.200l3-4.800zM318.4 439.6l-5 7h3l-2.200 6 6.800-8.200h-3.200l3-4.800zM366.2 434.5l-5 7h3l-2.200 6 6.800-8.200h-3.200l3-4.800zM352.3 436l-5 7h3l-2.200 6 6.800-8.200h-3.200l3-4.800z"/><path fill="#ffff00" d="M564.1 434.3l-5 7h3l-2.200 6 6.800-8.200h-3.200l3-4.800zM560.1 436.2l-5 7h3l-2.200 6 6.800-8.200h-3.200l3-4.800zM537.1 435.2l-5 7h3l-2.200 6 6.800-8.200h-3.200l3-4.800z"/><path fill="#19b4f2" d="M288.8 435.5l-5 7h3l-2.200 6 6.800-8.200h-3.200l3-4.800z"/><path fill="#f2701c" d="M489.6 439.9l-5 7h3l-2.200 6 6.800-8.200h-3.200l3-4.800z"/><path fill="#ffff00" d="M508.9 433.8l-5 7h3l-2.200 6 6.800-8.200h-3.200l3-4.800z"/><path fill="#19b4f2" d="M358.3 439.6l-5 7h3l-2.200 6 6.800-8.200h-3.200l3-4.800zM371.3 436.1l-5 7h3l-2.200 6 6.800-8.200h-3.200l3-4.800zM522.2 439.4l-5 7h3l-2.200 6 6.800-8.200h-3.200l3-4.800zM389.1 434.6l-5 7h3l-2.200 6 6.800-8.200h-3.200l3-4.800z"/><path fill="#ffff00" d="M471.8 435.2l-5 7h3l-2.200 6 6.800-8.200h-3.200l3-4.800z"/><path fill="#19b4f2" d="M438.7 435.5l-5 7h3l-2.200 6 6.800-8.200h-3.200l3-4.800z"/><path fill="#ffff00" d="M573 436.4l-5 7h3l-2.200 6 6.800-8.200h-3.200l3-4.800z"/><path fill="#19b4f2" d="M438 441l-5 7h3l-2.200 6 6.800-8.200h-3.200l3-4.800zM326.1 441.4l-5 7h3l-2.200 6 6.800-8.200h-3.200l3-4.800z"/><path fill="#ffff00" d="M466 440.9l-5 7h3l-2.200 6 6.800-8.200h-3.200l3-4.800z"/><path fill="#19b4f2" d="M516.8 440.5l-5 7h3l-2.200 6 6.800-8.200h-3.200l3-4.800z"/><path fill="#f2701c" d="M73.5 440.7l-5 7h3l-2.200 6 6.800-8.200h-3.200l3-4.800z"/><path fill="#ffff00" d="M245.8 441l-5 7h3l-2.200 6 6.800-8.200h-3.200l3-4.800z"/><path fill="#19b4f2" d="M369.5 441.5l-5 7h3l-2.200 6 6.800-8.200h-3.200l3-4.800zM277.3 440.4l-5 7h3l-2.200 6 6.800-8.200h-3.200l3-4.800zM286.8 440.8l-5 7h3l-2.200 6 6.800-8.200h-3.200l3-4.800z"/><path fill="#f2701c" d="M372.6 440.2l-5 7h3l-2.200 6 6.800-8.200h-3.200l3-4.800zM492.8 441.3l-5 7h3l-2.200 6 6.800-8.200h-3.200l3-4.800z"/><path fill="#ffff00" d="M344.4 436.5l-5 7h3l-2.200 6 6.800-8.200h-3.200l3-4.800z"/><path fill="#19b4f2" d="M410.8 441.9l-5 7h3l-2.200 6 6.800-8.200h-3.200l3-4.800z"/><path fill="#ffff00" d="M396.8 440.3l-5 7h3l-2.200 6 6.800-8.200h-3.200l3-4.800zM308.8 440l-5 7h3l-2.200 6 6.800-8.200h-3.200l3-4.800z"/><path fill="#e8140e" d="M566.1 440.7l-5 7h3l-2.200 6 6.800-8.200h-3.200l3-4.800z"/><path fill="#ffff00" d="M462.8 436.1l-5 7h3l-2.200 6 6.800-8.200h-3.200l3-4.800z"/><path fill="#f2701c" d="M103.2 434.9l-5 7h3l-2.200 6 6.800-8.200h-3.200l3-4.800z"/><path fill="#ffff00" d="M456.5 440.3l-5 7h3l-2.200 6 6.800-8.200h-3.200l3-4.800zM254.3 439.4l-5 7h3l-2.200 6 6.800-8.200h-3.200l3-4.800z"/><path fill="#f2701c" d="M483.2 441.9l-5 7h3l-2.200 6 6.800-8.200h-3.200l3-4.800z"/><path fill="#19b4f2" d="M363.9 440.8l-5 7h3l-2.200 6 6.800-8.200h-3.200l3-4.800z"/><path fill="#ffff00" d="M461.8 439.8l-5 7h3l-2.200 6 6.800-8.200h-3.200l3-4.800zM337.2 439.4l-5 7h3l-2.200 6 6.800-8.200h-3.200l3-4.800z"/><path fill="#19b4f2" d="M361.6 436.6l-5 7h3l-2.200 6 6.800-8.200h-3.200l3-4.800zM348.9 436.6l-5 7h3l-2.200 6 6.800-8.200h-3.200l3-4.800zM305.8 436.2l-5 7h3l-2.200 6 6.800-8.200h-3.200l3-4.800z"/><path fill="#e8140e" d="M547.1 440.4l-5 7h3l-2.200 6 6.800-8.200h-3.200l3-4.800z"/><path fill="#ffff00" d="M466.9 436.7l-5 7h3l-2.200 6 6.800-8.200h-3.200l3-4.800z"/><path fill="#19b4f2" d="M416.3 439.4l-5 7h3l-2.200 6 6.800-8.200h-3.200l3-4.800z"/><path fill="#ffff00" d="M189.7 441l-5 7h3l-2.200 6 6.800-8.200h-3.200l3-4.800zM442.8 440.1l-5 7h3l-2.200 6 6.800-8.200h-3.200l3-4.800z"/><path fill="#e8140e" d="M427.8 439.8l-5 7h3l-2.200 6 6.800-8.200h-3.200l3-4.800z"/><path fill="#19b4f2" d="M304.9 441.9l-5 7h3l-2.200 6 6.800-8.200h-3.200l3-4.800zM434.6 441.3l-5 7h3l-2.200 6 6.800-8.200h-3.200l3-4.800z"/><path fill="#ffff00" d="M453 440.6l-5 7h3l-2.200 6 6.800-8.200h-3.200l3-4.800z"/><path fill="#19b4f2" d="M351.7 440.4l-5 7h3l-2.200 6 6.800-8.200h-3.200l3-4.800z"/><path fill="#ffff00" d="M123.8 441.2l-5 7h3l-2.200 6 6.800-8.200h-3.200l3-4.800z"/><path fill="#f2701c" d="M498.5 440.8l-5 7h3l-2.200 6 6.800-8.200h-3.200l3-4.800z"/><path fill="#19b4f2" d="M402.3 440.7l-5 7h3l-2.200 6 6.800-8.200h-3.200l3-4.800zM404.5 440.1l-5 7h3l-2.200 6 6.800-8.200h-3.200l3-4.800z"/><path fill="#ffff00" d="M386.8 441.3l-5 7h3l-2.200 6 6.800-8.200h-3.200l3-4.800z"/><path fill="#e8140e" d="M543.4 440.3l-5 7h3l-2.200 6 6.800-8.200h-3.200l3-4.800z"/><path fill="#19b4f2" d="M275.2 445.2l-5 7h3l-2.200 6 6.800-8.200h-3.200l3-4.800z"/><path fill="#ffff00" d="M314.8 441.3l-5 7h3l-2.200 6 6.800-8.200h-3.200l3-4.800z"/><path fill="#19b4f2" d="M354.4 440.3l-5 7h3l-2.200 6 6.800-8.200h-3.200l3-4.800zM294.1 440.7l-5 7h3l-2.200 6 6.800-8.200h-3.200l3-4.800z"/><path fill="#ffff00" d="M383.9 441.1l-5 7h3l-2.200 6 6.800-8.200h-3.200l3-4.800z"/><path fill="#19b4f2" d="M322.1 439.8l-5 7h3l-2.200 6 6.800-8.200h-3.200l3-4.800z"/><path fill="#ffff00" d="M557.7 440.1l-5 7h3l-2.200 6 6.800-8.200h-3.200l3-4.800zM538.4 440.7l-5 7h3l-2.200 6 6.800-8.200h-3.200l3-4.800zM530.5 441.1l-5 7h3l-2.200 6 6.800-8.200h-3.200l3-4.800z"/><path fill="#e8140e" d="M419.4 441.9l-5 7h3l-2.200 6 6.800-8.200h-3.200l3-4.800z"/><path fill="#f2701c" d="M474.5 442.2l-5 7h3l-2.200 6 6.800-8.200h-3.200l3-4.800z"/><path fill="#8a1212" d="M291.9 446.1l-5 7h3l-2.200 6 6.800-8.200h-3.200l3-4.800z"/><path fill="#ffff00" d="M280.7 439.8l-5 7h3l-2.200 6 6.800-8.200h-3.200l3-4.800z"/><path fill="#e8140e" d="M413.7 446.7l-5 7h3l-2.200 6 6.800-8.200h-3.200l3-4.800z"/><path fill="#ffff00" d="M446.2 440.3l-5 7h3l-2.200 6 6.800-8.200h-3.200l3-4.800zM345 439.3l-5 7h3l-2.200 6 6.800-8.200h-3.200l3-4.800zM325.2 445.1l-5 7h3l-2.200 6 6.800-8.200h-3.200l3-4.800zM340.4 440.4l-5 7h3l-2.200 6 6.800-8.200h-3.200l3-4.800zM535.2 440.9l-5 7h3l-2.200 6 6.800-8.200h-3.200l3-4.800zM402.7 445.7l-5 7h3l-2.200 6 6.800-8.200h-3.200l3-4.800zM353.7 445.4l-5 7h3l-2.200 6 6.800-8.200h-3.200l3-4.800zM569.7 445.4l-5 7h3l-2.200 6 6.800-8.200h-3.200l3-4.800zM469 440.1l-5 7h3l-2.200 6 6.800-8.200h-3.200l3-4.800z"/><path fill="#19b4f2" d="M300.6 440.9l-5 7h3l-2.200 6 6.800-8.200h-3.200l3-4.800z"/><path fill="#ffff00" d="M339.3 445.2l-5 7h3l-2.200 6 6.800-8.200h-3.200l3-4.800z"/><path fill="#f2701c" d="M577.2 441.3l-5 7h3l-2.200 6 6.800-8.200h-3.200l3-4.800z"/><path fill="#e8140e" d="M553.4 439.6l-5 7h3l-2.200 6 6.800-8.200h-3.200l3-4.800z"/><path fill="#19b4f2" d="M372.7 445.2l-5 7h3l-2.200 6 6.800-8.200h-3.200l3-4.800zM333.3 441.5l-5 7h3l-2.200 6 6.800-8.200h-3.200l3-4.800z"/><path fill="#f2701c" d="M501.1 441l-5 7h3l-2.200 6 6.800-8.200h-3.200l3-4.800zM487.5 447.2l-5 7h3l-2.200 6 6.800-8.200h-3.200l3-4.800z"/><path fill="#ffff00" d="M569.9 442.1l-5 7h3l-2.200 6 6.800-8.200h-3.200l3-4.800z"/><path fill="#f2701c" d="M479.9 440.4l-5 7h3l-2.200 6 6.800-8.200h-3.200l3-4.800z"/><path fill="#ffff00" d="M379.5 441.7l-5 7h3l-2.200 6 6.800-8.200h-3.200l3-4.800zM312 445.7l-5 7h3l-2.200 6 6.800-8.200h-3.200l3-4.800z"/><path fill="#19b4f2" d="M283.7 447.8l-5 7h3l-2.200 6 6.800-8.200h-3.200l3-4.800z"/><path fill="#ffff00" d="M320.7 446.5l-5 7h3l-2.200 6 6.800-8.200h-3.200l3-4.800z"/><path fill="#19b4f2" d="M524.6 441l-5 7h3l-2.200 6 6.800-8.200h-3.200l3-4.800z"/><path fill="#f2701c" d="M554.8 447.4l-5 7h3l-2.200 6 6.800-8.200h-3.200l3-4.800z"/><path fill="#ffff00" d="M467 446.7l-5 7h3l-2.200 6 6.800-8.200h-3.200l3-4.800z"/><path fill="#f2701c" d="M435 445.2l-5 7h3l-2.200 6 6.800-8.200h-3.200l3-4.800z"/><path fill="#ffff00" d="M505.7 441.5l-5 7h3l-2.200 6 6.800-8.200h-3.200l3-4.800z"/><path fill="#f2701c" d="M453.9 446.2l-5 7h3l-2.200 6 6.800-8.200h-3.200l3-4.800z"/><path fill="#ffff00" d="M346.7 447.8l-5 7h3l-2.200 6 6.800-8.200h-3.200l3-4.800zM384.7 447.6l-5 7h3l-2.200 6 6.800-8.200h-3.200l3-4.800zM495.7 446l-5 7h3l-2.200 6 6.800-8.200h-3.200l3-4.800zM395.5 444.9l-5 7h3l-2.200 6 6.800-8.200h-3.200l3-4.800zM400.3 445l-5 7h3l-2.200 6 6.800-8.200h-3.200l3-4.800zM501.1 447.1l-5 7h3l-2.200 6 6.800-8.200h-3.200l3-4.800z"/><path fill="#19b4f2" d="M392.6 441.8l-5 7h3l-2.200 6 6.800-8.200h-3.200l3-4.800zM290 442.1l-5 7h3l-2.200 6 6.800-8.200h-3.200l3-4.800z"/><path fill="#e8140e" d="M430.8 446l-5 7h3l-2.200 6 6.800-8.200h-3.200l3-4.800z"/><path fill="#ffff00" d="M443.7 445.6l-5 7h3l-2.200 6 6.800-8.200h-3.200l3-4.800z"/><path fill="#e8140e" d="M415.9 447.7l-5 7h3l-2.200 6 6.800-8.200h-3.200l3-4.800z"/><path fill="#ffff00" d="M536.6 445.5l-5 7h3l-2.200 6 6.800-8.200h-3.200l3-4.800z"/><path fill="#e8140e" d="M489.8 447.6l-5 7h3l-2.200 6 6.800-8.200h-3.200l3-4.800z"/><path fill="#f2701c" d="M482.7 446.2l-5 7h3l-2.200 6 6.800-8.200h-3.200l3-4.800z"/><path fill="#ffff00" d="M563.4 445.2l-5 7h3l-2.200 6 6.800-8.200h-3.200l3-4.800zM363 446.5l-5 7h3l-2.200 6 6.800-8.200h-3.200l3-4.800z"/><path fill="#19b4f2" d="M303.4 445l-5 7h3l-2.200 6 6.800-8.200h-3.200l3-4.800z"/><path fill="#f2701c" d="M545 447.5l-5 7h3l-2.200 6 6.800-8.200h-3.200l3-4.800z"/><path fill="#19b4f2" d="M289.8 447.5l-5 7h3l-2.200 6 6.800-8.200h-3.200l3-4.800z"/><path fill="#f2701c" d="M457.8 446.6l-5 7h3l-2.200 6 6.800-8.200h-3.200l3-4.800z"/><path fill="#19b4f2" d="M270.6 447.7l-5 7h3l-2.200 6 6.800-8.200h-3.200l3-4.800zM367.6 446l-5 7h3l-2.200 6 6.800-8.200h-3.200l3-4.800z"/><path fill="#8a1212" d="M296.1 445.4l-5 7h3l-2.200 6 6.800-8.200h-3.200l3-4.800z"/><path fill="#ffff00" d="M528.5 447.5l-5 7h3l-2.200 6 6.800-8.200h-3.200l3-4.800zM509.5 446.9l-5 7h3l-2.200 6 6.800-8.200h-3.200l3-4.800z"/><path fill="#19b4f2" d="M388.3 445.5l-5 7h3l-2.200 6 6.800-8.200h-3.200l3-4.800z"/><path fill="#ffff00" d="M313.9 451l-5 7h3l-2.200 6 6.800-8.200h-3.200l3-4.800zM441.6 446.4l-5 7h3l-2.200 6 6.800-8.200h-3.200l3-4.800zM506.5 450.7l-5 7h3l-2.200 6 6.800-8.200h-3.200l3-4.800zM504.3 445.6l-5 7h3l-2.200 6 6.800-8.200h-3.200l3-4.800z"/><path fill="#e8140e" d="M425.3 447.2l-5 7h3l-2.200 6 6.800-8.200h-3.200l3-4.800z"/><path fill="#ffff00" d="M473.3 447.2l-5 7h3l-2.200 6 6.800-8.200h-3.200l3-4.800zM476.7 447.2l-5 7h3l-2.200 6 6.800-8.200h-3.200l3-4.800zM531.2 445.7l-5 7h3l-2.200 6 6.800-8.200h-3.200l3-4.800zM342.8 445.4l-5 7h3l-2.200 6 6.800-8.200h-3.200l3-4.800z"/><path fill="#e8140e" d="M423.2 450.6l-5 7h3l-2.200 6 6.800-8.200h-3.200l3-4.800z"/><path fill="#ffff00" d="M315.4 445.9l-5 7h3l-2.200 6 6.800-8.200h-3.200l3-4.800zM380.7 445.2l-5 7h3l-2.200 6 6.800-8.200h-3.200l3-4.800zM378 451.4l-5 7h3l-2.200 6 6.800-8.200h-3.200l3-4.800zM470.4 451l-5 7h3l-2.200 6 6.800-8.200h-3.200l3-4.800zM448.6 447.1l-5 7h3l-2.200 6 6.800-8.200h-3.200l3-4.800zM328.5 450.9l-5 7h3l-2.200 6 6.800-8.200h-3.200l3-4.800zM303.2 451.1l-5 7h3l-2.200 6 6.800-8.200h-3.200l3-4.800z"/><path fill="#19b4f2" d="M291 451.7l-5 7h3l-2.200 6 6.800-8.200h-3.200l3-4.800zM287.5 451l-5 7h3l-2.200 6 6.800-8.200h-3.200l3-4.800z"/><path fill="#ffff00" d="M331 446.1l-5 7h3l-2.200 6 6.800-8.200h-3.200l3-4.800z"/><path fill="#19b4f2" d="M280.3 445.7l-5 7h3l-2.200 6 6.800-8.200h-3.200l3-4.800z"/><path fill="#e8140e" d="M421.7 445.7l-5 7h3l-2.200 6 6.800-8.200h-3.200l3-4.800z"/><path fill="#8a1212" d="M330.7 451.2l-5 7h3l-2.200 6 6.800-8.200h-3.200l3-4.800z"/><path fill="#19b4f2" d="M521.9 447.2l-5 7h3l-2.200 6 6.800-8.200h-3.200l3-4.800z"/><path fill="#ffff00" d="M334.3 446.7l-5 7h3l-2.200 6 6.800-8.200h-3.200l3-4.800zM377.2 447.8l-5 7h3l-2.200 6 6.800-8.200h-3.200l3-4.800z"/><path fill="#e8140e" d="M551.2 446.9l-5 7h3l-2.200 6 6.800-8.200h-3.200l3-4.800z"/><path fill="#ffff00" d="M407.9 446.3l-5 7h3l-2.200 6 6.800-8.200h-3.200l3-4.800zM462.8 445.7l-5 7h3l-2.200 6 6.800-8.200h-3.200l3-4.800z"/><path fill="#19b4f2" d="M300.4 451.2l-5 7h3l-2.200 6 6.800-8.200h-3.200l3-4.800z"/><path fill="#f2701c" d="M558.5 446l-5 7h3l-2.200 6 6.800-8.200h-3.200l3-4.800z"/><path fill="#19b4f2" d="M307 447.1l-5 7h3l-2.200 6 6.800-8.200h-3.200l3-4.800z"/><path fill="#f2701c" d="M542.9 446.4l-5 7h3l-2.200 6 6.800-8.200h-3.200l3-4.800z"/><path fill="#ffff00" d="M520.5 452.2l-5 7h3l-2.200 6 6.800-8.200h-3.200l3-4.800zM358.2 445.8l-5 7h3l-2.200 6 6.800-8.200h-3.200l3-4.800zM441.9 452.8l-5 7h3l-2.200 6 6.800-8.200h-3.200l3-4.800zM350.1 451l-5 7h3l-2.200 6 6.800-8.200h-3.200l3-4.800z"/><path fill="#e8140e" d="M566.2 450.5l-5 7h3l-2.200 6 6.800-8.200h-3.200l3-4.800z"/><path fill="#ffff00" d="M473.9 451.8l-5 7h3l-2.200 6 6.800-8.200h-3.200l3-4.800zM45.8 451.3l-5 7h3l-2.200 6 6.800-8.200h-3.200l3-4.800zM346.8 452.7l-5 7h3l-2.200 6 6.800-8.200h-3.200l3-4.800zM382.9 453l-5 7h3l-2.200 6 6.800-8.200h-3.200l3-4.800z"/><path fill="#19b4f2" d="M517.9 446.4l-5 7h3l-2.200 6 6.800-8.200h-3.200l3-4.800z"/><path fill="#ffff00" d="M483.2 451.8l-5 7h3l-2.200 6 6.800-8.200h-3.200l3-4.800z"/><path fill="#19b4f2" d="M397.9 452.9l-5 7h3l-2.200 6 6.800-8.200h-3.200l3-4.800z"/><path fill="#ffff00" d="M529.4 450.8l-5 7h3l-2.200 6 6.800-8.200h-3.200l3-4.800z"/><path fill="#19b4f2" d="M430.2 450.8l-5 7h3l-2.200 6 6.800-8.200h-3.200l3-4.800z"/><path fill="#f2701c" d="M455.3 450.6l-5 7h3l-2.200 6 6.800-8.200h-3.200l3-4.800z"/><path fill="#ffff00" d="M446.7 452.2l-5 7h3l-2.200 6 6.800-8.200h-3.200l3-4.800zM308.7 451.8l-5 7h3l-2.200 6 6.800-8.200h-3.200l3-4.800z"/><path fill="#f2701c" d="M557.3 451.1l-5 7h3l-2.200 6 6.800-8.200h-3.200l3-4.800z"/><path fill="#ffff00" d="M514.3 447.7l-5 7h3l-2.200 6 6.800-8.200h-3.200l3-4.800z"/><path fill="#8a1212" d="M543.9 452.2l-5 7h3l-2.200 6 6.800-8.200h-3.200l3-4.800z"/><path fill="#ffff00" d="M572.4 447.5l-5 7h3l-2.200 6 6.800-8.200h-3.200l3-4.800z"/><path fill="#19b4f2" d="M359.4 450.5l-5 7h3l-2.200 6 6.800-8.200h-3.200l3-4.800z"/><path fill="#ffff00" d="M413.6 453.4l-5 7h3l-2.200 6 6.800-8.200h-3.200l3-4.800z"/><path fill="#19b4f2" d="M355.5 450.5l-5 7h3l-2.200 6 6.800-8.200h-3.200l3-4.800z"/><path fill="#ffff00" d="M365.1 453.3l-5 7h3l-2.200 6 6.800-8.200h-3.200l3-4.800zM502.3 452.1l-5 7h3l-2.200 6 6.800-8.200h-3.200l3-4.800zM370 451.5l-5 7h3l-2.200 6 6.800-8.200h-3.200l3-4.800z"/><path fill="#e8140e" d="M488.4 451.9l-5 7h3l-2.200 6 6.800-8.200h-3.200l3-4.800z"/><path fill="#ffff00" d="M533.8 451.1l-5 7h3l-2.200 6 6.800-8.200h-3.200l3-4.800zM186.2 451.6l-5 7h3l-2.200 6 6.800-8.200h-3.200l3-4.800z"/><path fill="#19b4f2" d="M264 451.5l-5 7h3l-2.200 6 6.800-8.200h-3.200l3-4.800z"/><path fill="#ffff00" d="M411.8 453.3l-5 7h3l-2.200 6 6.800-8.200h-3.200l3-4.800z"/><path fill="#f2701c" d="M464.2 451.8l-5 7h3l-2.200 6 6.800-8.200h-3.200l3-4.800z"/><path fill="#e8140e" d="M563.2 452.5l-5 7h3l-2.200 6 6.800-8.200h-3.200l3-4.800z"/><path fill="#ffff00" d="M345 456.4l-5 7h3l-2.200 6 6.800-8.200h-3.200l3-4.800zM479.2 451.5l-5 7h3l-2.200 6 6.800-8.200h-3.200l3-4.800zM451.7 451.3l-5 7h3l-2.200 6 6.800-8.200h-3.200l3-4.800zM317.6 451.1l-5 7h3l-2.200 6 6.800-8.200h-3.200l3-4.800zM512.8 450.5l-5 7h3l-2.200 6 6.800-8.200h-3.200l3-4.800zM391.4 450.7l-5 7h3l-2.200 6 6.800-8.200h-3.200l3-4.800zM337.8 452.7l-5 7h3l-2.200 6 6.800-8.200h-3.200l3-4.800z"/><path fill="#19b4f2" d="M281.7 451.8l-5 7h3l-2.200 6 6.800-8.200h-3.200l3-4.800z"/><path fill="#ffff00" d="M405.3 452.5l-5 7h3l-2.200 6 6.800-8.200h-3.200l3-4.800zM371.9 456.5l-5 7h3l-2.200 6 6.800-8.200h-3.200l3-4.800z"/><path fill="#e8140e" d="M495.1 457l-5 7h3l-2.200 6 6.800-8.200h-3.200l3-4.800z"/><path fill="#19b4f2" d="M296 453.5l-5 7h3l-2.200 6 6.800-8.200h-3.200l3-4.800z"/><path fill="#ffff00" d="M498.4 451.6l-5 7h3l-2.200 6 6.800-8.200h-3.200l3-4.800zM518.4 457.5l-5 7h3l-2.200 6 6.800-8.200h-3.200l3-4.800zM340.8 452.4l-5 7h3l-2.200 6 6.800-8.200h-3.200l3-4.800z"/><path fill="#f2701c" d="M547.6 451l-5 7h3l-2.200 6 6.800-8.200h-3.200l3-4.800z"/><path fill="#ffff00" d="M525.1 451.5l-5 7h3l-2.200 6 6.800-8.200h-3.200l3-4.800zM449.9 456.8l-5 7h3l-2.200 6 6.800-8.200h-3.200l3-4.800z"/><path fill="#f2701c" d="M552.2 453.2l-5 7h3l-2.200 6 6.800-8.200h-3.200l3-4.800zM572.3 456.3l-5 7h3l-2.200 6 6.800-8.200h-3.200l3-4.800z"/><path fill="#ffff00" d="M515.9 450.5l-5 7h3l-2.200 6 6.800-8.200h-3.200l3-4.800zM115.6 450.8l-5 7h3l-2.200 6 6.800-8.200h-3.200l3-4.800zM348.6 456.1l-5 7h3l-2.200 6 6.800-8.200h-3.200l3-4.800zM438.7 451.1l-5 7h3l-2.200 6 6.800-8.200h-3.200l3-4.800zM418.1 452.5l-5 7h3l-2.200 6 6.800-8.200h-3.200l3-4.800zM478.4 458.1l-5 7h3l-2.200 6 6.800-8.200h-3.200l3-4.800z"/><path fill="#e8140e" d="M423.1 457.8l-5 7h3l-2.200 6 6.800-8.200h-3.200l3-4.800z"/><path fill="#ffff00" d="M139.5 451l-5 7h3l-2.200 6 6.800-8.200h-3.200l3-4.800zM402.4 453.4l-5 7h3l-2.200 6 6.800-8.200h-3.200l3-4.800zM513.7 457l-5 7h3l-2.200 6 6.800-8.200h-3.200l3-4.800zM402 458.7l-5 7h3l-2.200 6 6.800-8.200h-3.200l3-4.800z"/><path fill="#19b4f2" d="M257.6 457.4l-5 7h3l-2.200 6 6.800-8.200h-3.200l3-4.800z"/><path fill="#ffff00" d="M379.8 458l-5 7h3l-2.200 6 6.800-8.200h-3.200l3-4.800z"/><path fill="#f2701c" d="M553.7 456.5l-5 7h3l-2.200 6 6.800-8.200h-3.200l3-4.800z"/><path fill="#ffff00" d="M323.3 451.1l-5 7h3l-2.200 6 6.800-8.200h-3.200l3-4.800z"/><path fill="#f2701c" d="M540 452.2l-5 7h3l-2.200 6 6.800-8.200h-3.200l3-4.800z"/><path fill="#ffff00" d="M329.1 458.3l-5 7h3l-2.200 6 6.800-8.200h-3.200l3-4.800z"/><path fill="#f2701c" d="M493.8 452.3l-5 7h3l-2.200 6 6.800-8.200h-3.200l3-4.800z"/><path fill="#ffff00" d="M472.4 456.9l-5 7h3l-2.200 6 6.800-8.200h-3.200l3-4.800zM324.6 457.5l-5 7h3l-2.200 6 6.800-8.200h-3.200l3-4.800zM467.7 457.6l-5 7h3l-2.200 6 6.800-8.200h-3.200l3-4.800z"/><path fill="#19b4f2" d="M277.7 453.3l-5 7h3l-2.200 6 6.800-8.200h-3.200l3-4.800z"/><path fill="#f2701c" d="M455 459l-5 7h3l-2.200 6 6.800-8.200h-3.200l3-4.800z"/><path fill="#ffff00" d="M373.9 452.5l-5 7h3l-2.200 6 6.800-8.200h-3.200l3-4.800z"/><path fill="#e8140e" d="M491.6 458.5l-5 7h3l-2.200 6 6.800-8.200h-3.200l3-4.800z"/><path fill="#ffff00" d="M482.7 457l-5 7h3l-2.200 6 6.800-8.200h-3.200l3-4.800z"/><path fill="#19b4f2" d="M296.1 458.7l-5 7h3l-2.200 6 6.800-8.200h-3.200l3-4.800z"/><path fill="#f2701c" d="M433.1 452.7l-5 7h3l-2.200 6 6.800-8.200h-3.200l3-4.800zM460.6 452.9l-5 7h3l-2.200 6 6.800-8.200h-3.200l3-4.800z"/><path fill="#ffff00" d="M394.8 458.2l-5 7h3l-2.200 6 6.800-8.200h-3.200l3-4.800zM301.3 458.7l-5 7h3l-2.200 6 6.800-8.200h-3.200l3-4.800z"/><path fill="#f2701c" d="M547.2 458.5l-5 7h3l-2.200 6 6.800-8.200h-3.200l3-4.800z"/><path fill="#19b4f2" d="M283.3 456.7l-5 7h3l-2.200 6 6.800-8.200h-3.200l3-4.800z"/><path fill="#e8140e" d="M280.6 456.4l-5 7h3l-2.200 6 6.800-8.200h-3.200l3-4.800z"/><path fill="#f2701c" d="M510.3 458.4l-5 7h3l-2.200 6 6.800-8.200h-3.200l3-4.800z"/><path fill="#ffff00" d="M386.2 458.9l-5 7h3l-2.200 6 6.800-8.200h-3.200l3-4.800z"/><path fill="#19b4f2" d="M390.9 458.3l-5 7h3l-2.200 6 6.800-8.200h-3.200l3-4.800z"/><path fill="#ffff00" d="M386.7 453l-5 7h3l-2.200 6 6.800-8.200h-3.200l3-4.800zM445.5 456.9l-5 7h3l-2.200 6 6.800-8.200h-3.200l3-4.800zM526.3 457.1l-5 7h3l-2.200 6 6.800-8.200h-3.200l3-4.800zM365.3 458.3l-5 7h3l-2.200 6 6.800-8.200h-3.200l3-4.800zM537 457.9l-5 7h3l-2.200 6 6.800-8.200h-3.200l3-4.800zM522.9 458.7l-5 7h3l-2.200 6 6.800-8.200h-3.200l3-4.800z"/><path fill="#f2701c" d="M570 453.5l-5 7h3l-2.200 6 6.800-8.200h-3.200l3-4.800z"/><path fill="#19b4f2" d="M333.8 458.4l-5 7h3l-2.200 6 6.800-8.200h-3.200l3-4.800z"/><path fill="#f2701c" d="M559.9 457.2l-5 7h3l-2.200 6 6.800-8.200h-3.200l3-4.800z"/><path fill="#19b4f2" d="M293.3 457.8l-5 7h3l-2.200 6 6.800-8.200h-3.200l3-4.800z"/><path fill="#ffff00" d="M541.2 456.4l-5 7h3l-2.200 6 6.800-8.200h-3.200l3-4.800z"/><path fill="#19b4f2" d="M321.6 459l-5 7h3l-2.200 6 6.800-8.200h-3.200l3-4.800z"/><path fill="#8a1212" d="M460.8 462.5l-5 7h3l-2.200 6 6.800-8.200h-3.200l3-4.800zM435.7 458.6l-5 7h3l-2.200 6 6.800-8.200h-3.200l3-4.800z"/><path fill="#ffff00" d="M338.1 458.9l-5 7h3l-2.200 6 6.800-8.200h-3.200l3-4.800z"/><path fill="#8a1212" d="M430.3 457.9l-5 7h3l-2.200 6 6.800-8.200h-3.200l3-4.800z"/><path fill="#ffff00" d="M376.6 456.2l-5 7h3l-2.200 6 6.800-8.200h-3.200l3-4.800zM353.6 462l-5 7h3l-2.200 6 6.800-8.200h-3.200l3-4.800zM409.3 457.1l-5 7h3l-2.200 6 6.800-8.200h-3.200l3-4.800z"/><path fill="#e8140e" d="M503.5 458.9l-5 7h3l-2.200 6 6.800-8.200h-3.200l3-4.800z"/><path fill="#ffff00" d="M477.9 462.9l-5 7h3l-2.200 6 6.800-8.200h-3.200l3-4.800z"/><path fill="#e8140e" d="M282.1 462.4l-5 7h3l-2.200 6 6.800-8.200h-3.200l3-4.800z"/><path fill="#ffff00" d="M398.1 456.6l-5 7h3l-2.200 6 6.800-8.200h-3.200l3-4.800z"/><path fill="#f2701c" d="M549.9 456.5l-5 7h3l-2.200 6 6.800-8.200h-3.200l3-4.800zM457.5 458.8l-5 7h3l-2.200 6 6.800-8.200h-3.200l3-4.800z"/><path fill="#ffff00" d="M428.8 462.4l-5 7h3l-2.200 6 6.800-8.200h-3.200l3-4.800z"/><path fill="#e8140e" d="M492.4 461.8l-5 7h3l-2.200 6 6.800-8.200h-3.200l3-4.800z"/><path fill="#19b4f2" d="M289.1 458.1l-5 7h3l-2.200 6 6.800-8.200h-3.200l3-4.800z"/><path fill="#f2701c" d="M538.1 461.9l-5 7h3l-2.200 6 6.800-8.200h-3.200l3-4.800z"/><path fill="#ffff00" d="M484.9 458.1l-5 7h3l-2.200 6 6.800-8.200h-3.200l3-4.800z"/><path fill="#e8140e" d="M286.4 462.6l-5 7h3l-2.200 6 6.800-8.200h-3.200l3-4.800z"/><path fill="#ffff00" d="M500.2 458l-5 7h3l-2.200 6 6.800-8.200h-3.200l3-4.800z"/><path fill="#19b4f2" d="M311.7 458.2l-5 7h3l-2.200 6 6.800-8.200h-3.200l3-4.800z"/><path fill="#f2701c" d="M560.7 462.8l-5 7h3l-2.200 6 6.800-8.200h-3.200l3-4.800z"/><path fill="#ffff00" d="M450.8 462.2l-5 7h3l-2.200 6 6.800-8.200h-3.200l3-4.800zM121.4 456.2l-5 7h3l-2.200 6 6.800-8.200h-3.200l3-4.800z"/><path fill="#19b4f2" d="M333.1 462.8l-5 7h3l-2.200 6 6.800-8.200h-3.200l3-4.800z"/><path fill="#ffff00" d="M316.7 456.8l-5 7h3l-2.200 6 6.800-8.200h-3.200l3-4.800z"/><path fill="#f2701c" d="M291.4 462.4l-5 7h3l-2.200 6 6.800-8.200h-3.200l3-4.800z"/><path fill="#ffff00" d="M358.6 458.8l-5 7h3l-2.200 6 6.800-8.200h-3.200l3-4.800z"/><path fill="#19b4f2" d="M232.2 457l-5 7h3l-2.200 6 6.800-8.200h-3.200l3-4.800z"/><path fill="#ffff00" d="M361.9 459.1l-5 7h3l-2.200 6 6.800-8.200h-3.200l3-4.800zM456.5 462.9l-5 7h3l-2.200 6 6.800-8.200h-3.200l3-4.800z"/><path fill="#19b4f2" d="M306.2 457.3l-5 7h3l-2.200 6 6.800-8.200h-3.200l3-4.800z"/><path fill="#e8140e" d="M487.2 464.4l-5 7h3l-2.200 6 6.800-8.200h-3.200l3-4.800z"/><path fill="#ffff00" d="M404.4 462.2l-5 7h3l-2.200 6 6.800-8.200h-3.200l3-4.800z"/><path fill="#f2701c" d="M570 457.8l-5 7h3l-2.200 6 6.800-8.200h-3.200l3-4.800z"/><path fill="#ffff00" d="M412.1 456.6l-5 7h3l-2.200 6 6.800-8.200h-3.200l3-4.800zM526.2 463.4l-5 7h3l-2.200 6 6.800-8.200h-3.200l3-4.800zM415.7 463.1l-5 7h3l-2.200 6 6.800-8.200h-3.200l3-4.800z"/><path fill="#8a1212" d="M303.3 464.5l-5 7h3l-2.200 6 6.800-8.200h-3.200l3-4.800z"/><path fill="#ffff00" d="M564.4 457.1l-5 7h3l-2.200 6 6.800-8.200h-3.200l3-4.800z"/><path fill="#19b4f2" d="M327 463.8l-5 7h3l-2.200 6 6.800-8.200h-3.200l3-4.800z"/><path fill="#e8140e" d="M416.5 459.1l-5 7h3l-2.200 6 6.800-8.200h-3.200l3-4.800z"/><path fill="#ffff00" d="M463.9 457.5l-5 7h3l-2.200 6 6.800-8.200h-3.200l3-4.800zM441.6 457.7l-5 7h3l-2.200 6 6.800-8.200h-3.200l3-4.800z"/><path fill="#e8140e" d="M426 457.6l-5 7h3l-2.200 6 6.800-8.200h-3.200l3-4.800z"/><path fill="#ffff00" d="M410.8 464l-5 7h3l-2.200 6 6.800-8.200h-3.200l3-4.800zM352.8 458.2l-5 7h3l-2.200 6 6.800-8.200h-3.200l3-4.800z"/><path fill="#19b4f2" d="M382 462.7l-5 7h3l-2.200 6 6.800-8.200h-3.200l3-4.800z"/><path fill="#ffff00" d="M530.2 463.6l-5 7h3l-2.200 6 6.800-8.200h-3.200l3-4.800z"/><path fill="#e8140e" d="M497.6 462.9l-5 7h3l-2.200 6 6.800-8.200h-3.200l3-4.800z"/><path fill="#19b4f2" d="M315 462.2l-5 7h3l-2.200 6 6.800-8.200h-3.200l3-4.800zM240.6 464.6l-5 7h3l-2.200 6 6.800-8.200h-3.200l3-4.800z"/><path fill="#ffff00" d="M476 464.4l-5 7h3l-2.200 6 6.800-8.200h-3.200l3-4.800z"/><path fill="#f2701c" d="M556.9 462.6l-5 7h3l-2.200 6 6.800-8.200h-3.200l3-4.800z"/><path fill="#e8140e" d="M377.7 463l-5 7h3l-2.200 6 6.800-8.200h-3.200l3-4.800z"/><path fill="#f2701c" d="M553.5 464.4l-5 7h3l-2.200 6 6.800-8.200h-3.200l3-4.800z"/><path fill="#ffff00" d="M543.7 463.1l-5 7h3l-2.200 6 6.800-8.200h-3.200l3-4.800zM532.2 458.5l-5 7h3l-2.200 6 6.800-8.200h-3.200l3-4.800z"/><path fill="#e8140e" d="M277.6 462.4l-5 7h3l-2.200 6 6.800-8.200h-3.200l3-4.800z"/><path fill="#ffff00" d="M443.3 463.4l-5 7h3l-2.200 6 6.800-8.200h-3.200l3-4.800z"/><path fill="#f2701c" d="M299.2 463.7l-5 7h3l-2.200 6 6.800-8.200h-3.200l3-4.800z"/><path fill="#ffff00" d="M369.4 462.7l-5 7h3l-2.200 6 6.800-8.200h-3.200l3-4.800zM358.3 462.2l-5 7h3l-2.200 6 6.800-8.200h-3.200l3-4.800zM510.9 463.2l-5 7h3l-2.200 6 6.800-8.200h-3.200l3-4.800z"/><path fill="#8a1212" d="M437.3 463.2l-5 7h3l-2.200 6 6.800-8.200h-3.200l3-4.800z"/><path fill="#ffff00" d="M531.1 467.5l-5 7h3l-2.200 6 6.800-8.200h-3.200l3-4.800z"/><path fill="#f2701c" d="M295.9 462.8l-5 7h3l-2.200 6 6.800-8.200h-3.200l3-4.800z"/><path fill="#ffff00" d="M385.9 463.1l-5 7h3l-2.200 6 6.800-8.200h-3.200l3-4.800z"/><path fill="#f2701c" d="M548.6 462.8l-5 7h3l-2.200 6 6.800-8.200h-3.200l3-4.800z"/><path fill="#19b4f2" d="M323.5 464.2l-5 7h3l-2.200 6 6.800-8.200h-3.200l3-4.800z"/><path fill="#ffff00" d="M447.6 462.9l-5 7h3l-2.200 6 6.800-8.200h-3.200l3-4.800zM491.7 468.2l-5 7h3l-2.200 6 6.800-8.200h-3.200l3-4.800zM365.1 464.6l-5 7h3l-2.200 6 6.800-8.200h-3.200l3-4.800z"/><path fill="#e8140e" d="M502.8 463.4l-5 7h3l-2.200 6 6.800-8.200h-3.200l3-4.800z"/><path fill="#19b4f2" d="M310.5 462.6l-5 7h3l-2.200 6 6.800-8.200h-3.200l3-4.800z"/><path fill="#8a1212" d="M303.3 467.9l-5 7h3l-2.200 6 6.800-8.200h-3.200l3-4.800z"/><path fill="#ffff00" d="M520.6 463.2l-5 7h3l-2.200 6 6.800-8.200h-3.200l3-4.800zM515.9 462.7l-5 7h3l-2.200 6 6.800-8.200h-3.200l3-4.800zM350 463l-5 7h3l-2.200 6 6.800-8.200h-3.200l3-4.800z"/><path fill="#e8140e" d="M433.2 464.4l-5 7h3l-2.200 6 6.800-8.200h-3.200l3-4.800zM335.1 468.6l-5 7h3l-2.200 6 6.800-8.200h-3.200l3-4.800z"/><path fill="#f2701c" d="M559.3 467.8l-5 7h3l-2.200 6 6.800-8.200h-3.200l3-4.800z"/><path fill="#8a1212" d="M453.6 467.5l-5 7h3l-2.200 6 6.800-8.200h-3.200l3-4.800z"/><path fill="#ffff00" d="M372.9 462.5l-5 7h3l-2.200 6 6.800-8.200h-3.200l3-4.800z"/><path fill="#19b4f2" d="M391.3 462.8l-5 7h3l-2.200 6 6.800-8.200h-3.200l3-4.800z"/><path fill="#8a1212" d="M277.8 467.6l-5 7h3l-2.200 6 6.800-8.200h-3.200l3-4.800z"/><path fill="#e8140e" d="M427.3 468.3l-5 7h3l-2.200 6 6.800-8.200h-3.200l3-4.800z"/><path fill="#f2701c" d="M533.5 461.9l-5 7h3l-2.200 6 6.800-8.200h-3.200l3-4.800z"/><path fill="#e8140e" d="M340.5 467.9l-5 7h3l-2.200 6 6.800-8.200h-3.200l3-4.800z"/><path fill="#f2701c" d="M507.7 463.7l-5 7h3l-2.200 6 6.800-8.200h-3.200l3-4.800z"/><path fill="#e8140e" d="M477.5 469l-5 7h3l-2.200 6 6.800-8.200h-3.200l3-4.800zM330.6 467.8l-5 7h3l-2.200 6 6.800-8.200h-3.200l3-4.800z"/><path fill="#19b4f2" d="M284.4 469.1l-5 7h3l-2.200 6 6.800-8.200h-3.200l3-4.800z"/><path fill="#e8140e" d="M289.2 468.4l-5 7h3l-2.200 6 6.800-8.200h-3.200l3-4.800z"/><path fill="#19b4f2" d="M357.9 469l-5 7h3l-2.200 6 6.800-8.200h-3.200l3-4.800z"/><path fill="#ffff00" d="M189.3 463.7l-5 7h3l-2.200 6 6.800-8.200h-3.200l3-4.800zM570.9 463.8l-5 7h3l-2.200 6 6.800-8.200h-3.200l3-4.800z"/><path fill="#f2701c" d="M567.9 467.9l-5 7h3l-2.200 6 6.800-8.200h-3.200l3-4.800z"/><path fill="#ffff00" d="M514 468l-5 7h3l-2.200 6 6.800-8.200h-3.200l3-4.800zM366.6 469.1l-5 7h3l-2.200 6 6.800-8.200h-3.200l3-4.800zM396.2 463.1l-5 7h3l-2.200 6 6.800-8.200h-3.200l3-4.800zM459.9 467.9l-5 7h3l-2.200 6 6.800-8.200h-3.200l3-4.800z"/><path fill="#e8140e" d="M422.2 467.8l-5 7h3l-2.200 6 6.800-8.200h-3.200l3-4.800zM335.9 464.5l-5 7h3l-2.200 6 6.800-8.200h-3.200l3-4.800z"/><path fill="#ffff00" d="M342.5 468.4l-5 7h3l-2.200 6 6.800-8.200h-3.200l3-4.800z"/><path fill="#e8140e" d="M377.3 469.9l-5 7h3l-2.200 6 6.800-8.200h-3.200l3-4.800z"/><path fill="#19b4f2" d="M341.6 462.8l-5 7h3l-2.200 6 6.800-8.200h-3.200l3-4.800z"/><path fill="#ffff00" d="M345.6 464.2l-5 7h3l-2.200 6 6.800-8.200h-3.200l3-4.800z"/><path fill="#19b4f2" d="M473.4 468.4l-5 7h3l-2.200 6 6.800-8.200h-3.200l3-4.800z"/><path fill="#e8140e" d="M484.6 464.3l-5 7h3l-2.200 6 6.800-8.200h-3.200l3-4.800z"/><path fill="#ffff00" d="M321.4 468l-5 7h3l-2.200 6 6.800-8.200h-3.200l3-4.800z"/><path fill="#19b4f2" d="M448.2 468.4l-5 7h3l-2.200 6 6.800-8.200h-3.200l3-4.800z"/><path fill="#e8140e" d="M425.2 464.2l-5 7h3l-2.200 6 6.800-8.200h-3.200l3-4.800z"/><path fill="#8a1212" d="M275.3 468l-5 7h3l-2.200 6 6.800-8.200h-3.200l3-4.800z"/><path fill="#ffff00" d="M468.5 468.2l-5 7h3l-2.200 6 6.800-8.200h-3.200l3-4.800zM316.9 463.9l-5 7h3l-2.200 6 6.800-8.200h-3.200l3-4.800zM469.7 463.3l-5 7h3l-2.200 6 6.800-8.200h-3.200l3-4.800z"/><path fill="#e8140e" d="M434.5 468.3l-5 7h3l-2.200 6 6.800-8.200h-3.200l3-4.800zM420.5 463.5l-5 7h3l-2.200 6 6.800-8.200h-3.200l3-4.800zM503.7 469l-5 7h3l-2.200 6 6.800-8.200h-3.200l3-4.800zM384.9 470.1l-5 7h3l-2.200 6 6.800-8.200h-3.200l3-4.800z"/><path fill="#ffff00" d="M567.8 464.4l-5 7h3l-2.200 6 6.800-8.200h-3.200l3-4.800z"/><path fill="#e8140e" d="M482.5 469.7l-5 7h3l-2.200 6 6.800-8.200h-3.200l3-4.800z"/><path fill="#ffff00" d="M402 464.7l-5 7h3l-2.200 6 6.800-8.200h-3.200l3-4.800z"/><path fill="#e8140e" d="M379.1 467.7l-5 7h3l-2.200 6 6.800-8.200h-3.200l3-4.800z"/><path fill="#ffff00" d="M464.4 463.9l-5 7h3l-2.200 6 6.800-8.200h-3.200l3-4.800z"/><path fill="#e8140e" d="M501.2 468.1l-5 7h3l-2.200 6 6.800-8.200h-3.200l3-4.800z"/><path fill="#ffff00" d="M404.3 469.7l-5 7h3l-2.200 6 6.800-8.200h-3.200l3-4.800z"/><path fill="#e8140e" d="M517.4 469.8l-5 7h3l-2.200 6 6.800-8.200h-3.200l3-4.800z"/><path fill="#ffff00" d="M408.8 468.8l-5 7h3l-2.200 6 6.800-8.200h-3.200l3-4.800zM463.9 468.9l-5 7h3l-2.200 6 6.800-8.200h-3.200l3-4.800z"/><path fill="#e8140e" d="M325.5 468.4l-5 7h3l-2.200 6 6.800-8.200h-3.200l3-4.800z"/><path fill="#ffff00" d="M412.8 469l-5 7h3l-2.200 6 6.800-8.200h-3.200l3-4.800z"/><path fill="#e8140e" d="M321.6 473l-5 7h3l-2.200 6 6.800-8.200h-3.200l3-4.800z"/><path fill="#19b4f2" d="M285.1 473.1l-5 7h3l-2.200 6 6.800-8.200h-3.200l3-4.800z"/><path fill="#ffff00" d="M486.9 467.9l-5 7h3l-2.200 6 6.800-8.200h-3.200l3-4.800z"/><path fill="#e8140e" d="M436.4 473.1l-5 7h3l-2.200 6 6.800-8.200h-3.200l3-4.800z"/><path fill="#ffff00" d="M537.4 468.8l-5 7h3l-2.200 6 6.800-8.200h-3.200l3-4.800zM389.8 469.9l-5 7h3l-2.200 6 6.800-8.200h-3.200l3-4.800zM363.9 473.7l-5 7h3l-2.200 6 6.800-8.200h-3.200l3-4.800z"/><path fill="#19b4f2" d="M306.3 469.4l-5 7h3l-2.200 6 6.800-8.200h-3.200l3-4.800z"/><path fill="#8a1212" d="M502.4 473.6l-5 7h3l-2.200 6 6.800-8.200h-3.200l3-4.800z"/><path fill="#ffff00" d="M471.4 473.3l-5 7h3l-2.200 6 6.800-8.200h-3.200l3-4.800zM550.3 468.8l-5 7h3l-2.200 6 6.800-8.200h-3.200l3-4.800z"/><path fill="#e8140e" d="M506.1 474l-5 7h3l-2.200 6 6.800-8.200h-3.200l3-4.800z"/><path fill="#ffff00" d="M523.6 468.3l-5 7h3l-2.200 6 6.800-8.200h-3.200l3-4.800zM316.4 468.3l-5 7h3l-2.200 6 6.800-8.200h-3.200l3-4.800zM347.1 468.8l-5 7h3l-2.200 6 6.800-8.200h-3.200l3-4.800zM372 467.8l-5 7h3l-2.200 6 6.800-8.200h-3.200l3-4.800zM395.1 468.4l-5 7h3l-2.200 6 6.800-8.200h-3.200l3-4.800z"/><path fill="#f2701c" d="M218.2 469.8l-5 7h3l-2.200 6 6.800-8.200h-3.200l3-4.800z"/><path fill="#ffff00" d="M493.6 473.3l-5 7h3l-2.200 6 6.800-8.200h-3.200l3-4.800z"/><path fill="#e8140e" d="M496.4 467.5l-5 7h3l-2.200 6 6.800-8.200h-3.200l3-4.800z"/><path fill="#19b4f2" d="M56.8 473.2l-5 7h3l-2.200 6 6.800-8.200h-3.200l3-4.800z"/><path fill="#f2701c" d="M368 473.5l-5 7h3l-2.200 6 6.800-8.200h-3.200l3-4.800z"/><path fill="#8a1212" d="M417.4 467.4l-5 7h3l-2.200 6 6.800-8.200h-3.200l3-4.800z"/><path fill="#e8140e" d="M425.3 474.8l-5 7h3l-2.200 6 6.800-8.200h-3.200l3-4.800zM544.5 468.4l-5 7h3l-2.200 6 6.800-8.200h-3.200l3-4.800zM441.5 468.8l-5 7h3l-2.200 6 6.800-8.200h-3.200l3-4.800z"/><path fill="#f2701c" d="M460.9 473.3l-5 7h3l-2.200 6 6.800-8.200h-3.200l3-4.800zM527.6 467.5l-5 7h3l-2.200 6 6.800-8.200h-3.200l3-4.800zM261.7 468.8l-5 7h3l-2.200 6 6.800-8.200h-3.200l3-4.800z"/><path fill="#e8140e" d="M298.2 470.2l-5 7h3l-2.200 6 6.800-8.200h-3.200l3-4.800zM290.2 473.7l-5 7h3l-2.200 6 6.800-8.200h-3.200l3-4.800z"/><path fill="#ffff00" d="M415.8 473.3l-5 7h3l-2.200 6 6.800-8.200h-3.200l3-4.800zM354.2 475.1l-5 7h3l-2.200 6 6.800-8.200h-3.200l3-4.800zM362.7 470.1l-5 7h3l-2.200 6 6.800-8.200h-3.200l3-4.800z"/><path fill="#e8140e" d="M299.4 473.7l-5 7h3l-2.200 6 6.800-8.200h-3.200l3-4.800zM562.4 474.6l-5 7h3l-2.200 6 6.800-8.200h-3.200l3-4.800z"/><path fill="#ffff00" d="M354.2 470l-5 7h3l-2.200 6 6.800-8.200h-3.200l3-4.800z"/><path fill="#e8140e" d="M420.1 474.3l-5 7h3l-2.200 6 6.800-8.200h-3.200l3-4.800z"/><path fill="#ffff00" d="M395.6 474.7l-5 7h3l-2.200 6 6.800-8.200h-3.200l3-4.800z"/><path fill="#e8140e" d="M431.7 470.1l-5 7h3l-2.200 6 6.800-8.200h-3.200l3-4.800zM310.5 469l-5 7h3l-2.200 6 6.800-8.200h-3.200l3-4.800z"/><path fill="#f2701c" d="M391.6 474.5l-5 7h3l-2.200 6 6.800-8.200h-3.200l3-4.800z"/><path fill="#ffff00" d="M386.5 474.4l-5 7h3l-2.200 6 6.800-8.200h-3.200l3-4.800zM397.4 469l-5 7h3l-2.200 6 6.800-8.200h-3.200l3-4.800zM533.9 474.3l-5 7h3l-2.200 6 6.800-8.200h-3.200l3-4.800z"/><path fill="#f2701c" d="M558.8 474.3l-5 7h3l-2.200 6 6.800-8.200h-3.200l3-4.800z"/><path fill="#ffff00" d="M542.1 469.7l-5 7h3l-2.200 6 6.800-8.200h-3.200l3-4.800z"/><path fill="#f2701c" d="M555.8 469.1l-5 7h3l-2.200 6 6.800-8.200h-3.200l3-4.800zM571 474.4l-5 7h3l-2.200 6 6.800-8.200h-3.200l3-4.800z"/><path fill="#ffff00" d="M509.2 469.7l-5 7h3l-2.200 6 6.800-8.200h-3.200l3-4.800z"/><path fill="#e8140e" d="M291.8 470.2l-5 7h3l-2.200 6 6.800-8.200h-3.200l3-4.800zM448 475.7l-5 7h3l-2.200 6 6.800-8.200h-3.200l3-4.800zM478 474.2l-5 7h3l-2.200 6 6.800-8.200h-3.200l3-4.800z"/><path fill="#ffff00" d="M465.4 474.4l-5 7h3l-2.200 6 6.800-8.200h-3.200l3-4.800z"/><path fill="#e8140e" d="M331.6 474.1l-5 7h3l-2.200 6 6.800-8.200h-3.200l3-4.800z"/><path fill="#ffff00" d="M545.2 475.3l-5 7h3l-2.200 6 6.800-8.200h-3.200l3-4.800z"/><path fill="#8a1212" d="M498.3 475.8l-5 7h3l-2.200 6 6.800-8.200h-3.200l3-4.800z"/><path fill="#ffff00" d="M340.8 472.9l-5 7h3l-2.200 6 6.800-8.200h-3.200l3-4.800z"/><path fill="#f2701c" d="M304.5 473.5l-5 7h3l-2.200 6 6.800-8.200h-3.200l3-4.800z"/><path fill="#e8140e" d="M377.9 473.9l-5 7h3l-2.200 6 6.800-8.200h-3.200l3-4.800z"/><path fill="#19b4f2" d="M282.3 474.3l-5 7h3l-2.200 6 6.800-8.200h-3.200l3-4.800z"/><path fill="#e8140e" d="M484 473.9l-5 7h3l-2.200 6 6.800-8.200h-3.200l3-4.800zM443.7 473.3l-5 7h3l-2.200 6 6.800-8.200h-3.200l3-4.800z"/><path fill="#ffff00" d="M372.7 475.8l-5 7h3l-2.200 6 6.800-8.200h-3.200l3-4.800z"/><path fill="#e8140e" d="M443.9 470.1l-5 7h3l-2.200 6 6.800-8.200h-3.200l3-4.800z"/><path fill="#f2701c" d="M563.2 470.2l-5 7h3l-2.200 6 6.800-8.200h-3.200l3-4.800z"/><path fill="#e8140e" d="M475.9 473.4l-5 7h3l-2.200 6 6.800-8.200h-3.200l3-4.800zM434.6 473.2l-5 7h3l-2.200 6 6.800-8.200h-3.200l3-4.800z"/><path fill="#f2701c" d="M552.7 472.9l-5 7h3l-2.200 6 6.800-8.200h-3.200l3-4.800z"/><path fill="#ffff00" d="M313.1 473.7l-5 7h3l-2.200 6 6.800-8.200h-3.200l3-4.800z"/><path fill="#e8140e" d="M309.1 474.4l-5 7h3l-2.200 6 6.800-8.200h-3.200l3-4.800z"/><path fill="#ffff00" d="M529.4 472.9l-5 7h3l-2.200 6 6.800-8.200h-3.200l3-4.800zM360.9 475.3l-5 7h3l-2.200 6 6.800-8.200h-3.200l3-4.800zM405.5 473.7l-5 7h3l-2.200 6 6.800-8.200h-3.200l3-4.800z"/><path fill="#e8140e" d="M381.9 474.7l-5 7h3l-2.200 6 6.800-8.200h-3.200l3-4.800z"/><path fill="#ffff00" d="M521.6 475.9l-5 7h3l-2.200 6 6.800-8.200h-3.200l3-4.800z"/><path fill="#e8140e" d="M540 475.1l-5 7h3l-2.200 6 6.800-8.200h-3.200l3-4.800z"/><path fill="#ffff00" d="M401.6 475.6l-5 7h3l-2.200 6 6.800-8.200h-3.200l3-4.800z"/><path fill="#e8140e" d="M432.1 478.7l-5 7h3l-2.200 6 6.800-8.200h-3.200l3-4.800zM294.7 474.4l-5 7h3l-2.200 6 6.800-8.200h-3.200l3-4.800z"/><path fill="#ffff00" d="M487.7 474.7l-5 7h3l-2.200 6 6.800-8.200h-3.200l3-4.800z"/><path fill="#e8140e" d="M513.7 479.6l-5 7h3l-2.200 6 6.800-8.200h-3.200l3-4.800z"/><path fill="#19b4f2" d="M277.9 474l-5 7h3l-2.200 6 6.800-8.200h-3.200l3-4.800z"/><path fill="#e8140e" d="M549.5 473.3l-5 7h3l-2.200 6 6.800-8.200h-3.200l3-4.800zM319 475.1l-5 7h3l-2.200 6 6.800-8.200h-3.200l3-4.800z"/><path fill="#19b4f2" d="M218.4 479.7l-5 7h3l-2.200 6 6.800-8.200h-3.200l3-4.800z"/><path fill="#f2701c" d="M456.8 475.6l-5 7h3l-2.200 6 6.800-8.200h-3.200l3-4.800z"/><path fill="#e8140e" d="M428.3 473.5l-5 7h3l-2.200 6 6.800-8.200h-3.200l3-4.800z"/><path fill="#ffff00" d="M526.6 473.7l-5 7h3l-2.200 6 6.800-8.200h-3.200l3-4.800z"/><path fill="#8a1212" d="M451.9 475.4l-5 7h3l-2.200 6 6.800-8.200h-3.200l3-4.800z"/><path fill="#ffff00" d="M344.5 478.8l-5 7h3l-2.200 6 6.800-8.200h-3.200l3-4.800z"/><path fill="#e8140e" d="M307.5 479.6l-5 7h3l-2.200 6 6.800-8.200h-3.200l3-4.800z"/><path fill="#ffff00" d="M542 479.1l-5 7h3l-2.200 6 6.800-8.200h-3.200l3-4.800z"/><path fill="#f2701c" d="M263.6 475.6l-5 7h3l-2.200 6 6.800-8.200h-3.200l3-4.800z"/><path fill="#ffff00" d="M487.6 479.7l-5 7h3l-2.200 6 6.800-8.200h-3.200l3-4.800zM409.6 473.8l-5 7h3l-2.200 6 6.800-8.200h-3.200l3-4.800zM440.9 480.7l-5 7h3l-2.200 6 6.800-8.200h-3.200l3-4.800z"/><path fill="#f2701c" d="M565.9 475.1l-5 7h3l-2.200 6 6.800-8.200h-3.200l3-4.800z"/><path fill="#ffff00" d="M369.8 479l-5 7h3l-2.200 6 6.800-8.200h-3.200l3-4.800z"/><path fill="#f2701c" d="M301.9 479l-5 7h3l-2.200 6 6.800-8.200h-3.200l3-4.800z"/><path fill="#ffff00" d="M345.4 475.5l-5 7h3l-2.200 6 6.800-8.200h-3.200l3-4.800z"/><path fill="#e8140e" d="M326.8 474.9l-5 7h3l-2.200 6 6.800-8.200h-3.200l3-4.800zM330.2 481l-5 7h3l-2.200 6 6.800-8.200h-3.200l3-4.800zM517.1 474.3l-5 7h3l-2.200 6 6.800-8.200h-3.200l3-4.800zM503.2 479l-5 7h3l-2.200 6 6.800-8.200h-3.200l3-4.800z"/><path fill="#ffff00" d="M434.3 481.3l-5 7h3l-2.200 6 6.800-8.200h-3.200l3-4.800z"/><path fill="#f2701c" d="M278.2 480.5l-5 7h3l-2.200 6 6.800-8.200h-3.200l3-4.800z"/><path fill="#ffff00" d="M398.6 480.2l-5 7h3l-2.200 6 6.800-8.200h-3.200l3-4.800zM450.9 480l-5 7h3l-2.200 6 6.800-8.200h-3.200l3-4.800z"/><path fill="#8a1212" d="M563.5 479.2l-5 7h3l-2.200 6 6.800-8.200h-3.200l3-4.800z"/><path fill="#19b4f2" d="M297.5 480l-5 7h3l-2.200 6 6.800-8.200h-3.200l3-4.800z"/><path fill="#e8140e" d="M336.7 475l-5 7h3l-2.200 6 6.800-8.200h-3.200l3-4.800z"/><path fill="#ffff00" d="M524.1 478.9l-5 7h3l-2.200 6 6.800-8.200h-3.200l3-4.800zM350.6 474.9l-5 7h3l-2.200 6 6.800-8.200h-3.200l3-4.800z"/><path fill="#8a1212" d="M559.8 478.8l-5 7h3l-2.200 6 6.800-8.200h-3.200l3-4.800z"/><path fill="#ffff00" d="M512.9 475.4l-5 7h3l-2.200 6 6.800-8.200h-3.200l3-4.800z"/><path fill="#e8140e" d="M496.3 479.6l-5 7h3l-2.200 6 6.800-8.200h-3.200l3-4.800z"/><path fill="#f2701c" d="M476.5 479.3l-5 7h3l-2.200 6 6.800-8.200h-3.200l3-4.800z"/><path fill="#ffff00" d="M287.1 481.5l-5 7h3l-2.200 6 6.800-8.200h-3.200l3-4.800zM347 479.1l-5 7h3l-2.200 6 6.800-8.200h-3.200l3-4.800z"/><path fill="#f2701c" d="M324.9 479l-5 7h3l-2.200 6 6.800-8.200h-3.200l3-4.800z"/><path fill="#e8140e" d="M385.1 479.6l-5 7h3l-2.200 6 6.800-8.200h-3.200l3-4.800zM292 478.7l-5 7h3l-2.200 6 6.800-8.200h-3.200l3-4.800z"/><path fill="#f2701c" d="M533.3 480.9l-5 7h3l-2.200 6 6.800-8.200h-3.200l3-4.800z"/><path fill="#e8140e" d="M421.6 480.5l-5 7h3l-2.200 6 6.800-8.200h-3.200l3-4.800z"/><path fill="#ffff00" d="M367.1 481.2l-5 7h3l-2.200 6 6.800-8.200h-3.200l3-4.800z"/><path fill="#f2701c" d="M282.7 479.8l-5 7h3l-2.200 6 6.800-8.200h-3.200l3-4.800z"/><path fill="#e8140e" d="M427 479l-5 7h3l-2.200 6 6.800-8.200h-3.200l3-4.800z"/><path fill="#ffff00" d="M454.6 480.7l-5 7h3l-2.200 6 6.800-8.200h-3.200l3-4.800zM443.5 479.1l-5 7h3l-2.200 6 6.800-8.200h-3.200l3-4.800z"/><path fill="#f2701c" d="M481.7 479.4l-5 7h3l-2.200 6 6.800-8.200h-3.200l3-4.800z"/><path fill="#ffff00" d="M174.8 480.6l-5 7h3l-2.200 6 6.800-8.200h-3.200l3-4.800z"/><path fill="#e8140e" d="M499.6 480.1l-5 7h3l-2.200 6 6.800-8.200h-3.200l3-4.800z"/><path fill="#ffff00" d="M408.5 479.8l-5 7h3l-2.200 6 6.800-8.200h-3.200l3-4.800z"/><path fill="#f2701c" d="M463.4 480.2l-5 7h3l-2.200 6 6.800-8.200h-3.200l3-4.800z"/><path fill="#ffff00" d="M411.2 481.3l-5 7h3l-2.200 6 6.800-8.200h-3.200l3-4.800zM394.2 480.5l-5 7h3l-2.200 6 6.800-8.200h-3.200l3-4.800zM473.6 478.7l-5 7h3l-2.200 6 6.800-8.200h-3.200l3-4.800zM375 480.5l-5 7h3l-2.200 6 6.800-8.200h-3.200l3-4.800z"/><path fill="#e8140e" d="M425.2 484.6l-5 7h3l-2.200 6 6.800-8.200h-3.200l3-4.800z"/><path fill="#f2701c" d="M538.7 484.5l-5 7h3l-2.200 6 6.800-8.200h-3.200l3-4.800z"/><path fill="#ffff00" d="M519.3 480.8l-5 7h3l-2.200 6 6.800-8.200h-3.200l3-4.800z"/><path fill="#e8140e" d="M335.2 479l-5 7h3l-2.200 6 6.800-8.200h-3.200l3-4.800z"/><path fill="#ffff00" d="M321.5 480.9l-5 7h3l-2.200 6 6.800-8.200h-3.200l3-4.800zM390.4 480.2l-5 7h3l-2.200 6 6.800-8.200h-3.200l3-4.800z"/><path fill="#e8140e" d="M510.5 480.1l-5 7h3l-2.200 6 6.800-8.200h-3.200l3-4.800z"/><path fill="#f2701c" d="M457.9 479.9l-5 7h3l-2.200 6 6.800-8.200h-3.200l3-4.800z"/><path fill="#ffff00" d="M562 485.3l-5 7h3l-2.200 6 6.800-8.200h-3.200l3-4.800zM361 478.7l-5 7h3l-2.200 6 6.800-8.200h-3.200l3-4.800zM352.1 478.6l-5 7h3l-2.200 6 6.800-8.200h-3.200l3-4.800zM489.7 485.2l-5 7h3l-2.200 6 6.800-8.200h-3.200l3-4.800z"/><path fill="#e8140e" d="M286.4 485.4l-5 7h3l-2.200 6 6.800-8.200h-3.200l3-4.800z"/><path fill="#ffff00" d="M356.8 480.3l-5 7h3l-2.200 6 6.800-8.200h-3.200l3-4.800zM551.2 479.8l-5 7h3l-2.200 6 6.800-8.200h-3.200l3-4.800z"/><path fill="#8a1212" d="M315.2 480.8l-5 7h3l-2.200 6 6.800-8.200h-3.200l3-4.800z"/><path fill="#19b4f2" d="M126.6 480.7l-5 7h3l-2.200 6 6.800-8.200h-3.200l3-4.800z"/><path fill="#f2701c" d="M304.1 484.1l-5 7h3l-2.200 6 6.800-8.200h-3.200l3-4.800z"/><path fill="#ffff00" d="M491.5 481.3l-5 7h3l-2.200 6 6.800-8.200h-3.200l3-4.800zM467.7 479.6l-5 7h3l-2.200 6 6.800-8.200h-3.200l3-4.800zM558 484.8l-5 7h3l-2.200 6 6.800-8.200h-3.200l3-4.800zM555.6 480.8l-5 7h3l-2.200 6 6.800-8.200h-3.200l3-4.800zM545 480.4l-5 7h3l-2.200 6 6.800-8.200h-3.200l3-4.800zM388.2 485.7l-5 7h3l-2.200 6 6.800-8.200h-3.200l3-4.800z"/><path fill="#f2701c" d="M478.6 485.2l-5 7h3l-2.200 6 6.800-8.200h-3.200l3-4.800z"/><path fill="#ffff00" d="M433.7 485.9l-5 7h3l-2.200 6 6.800-8.200h-3.200l3-4.800zM417.4 481.2l-5 7h3l-2.200 6 6.800-8.200h-3.200l3-4.800z"/><path fill="#f2701c" d="M277.3 484.3l-5 7h3l-2.200 6 6.800-8.200h-3.200l3-4.800z"/><path fill="#8a1212" d="M310.3 480.9l-5 7h3l-2.200 6 6.800-8.200h-3.200l3-4.800z"/><path fill="#ffff00" d="M317 486l-5 7h3l-2.200 6 6.800-8.200h-3.200l3-4.800z"/><path fill="#f2701c" d="M543 486.9l-5 7h3l-2.200 6 6.800-8.200h-3.200l3-4.800zM474 484.3l-5 7h3l-2.200 6 6.800-8.200h-3.200l3-4.800z"/><path fill="#ffff00" d="M391.2 486.9l-5 7h3l-2.200 6 6.800-8.200h-3.200l3-4.800zM547.2 486.1l-5 7h3l-2.200 6 6.800-8.200h-3.200l3-4.800z"/><path fill="#8a1212" d="M568.2 480.7l-5 7h3l-2.200 6 6.800-8.200h-3.200l3-4.800z"/><path fill="#ffff00" d="M404 479.3l-5 7h3l-2.200 6 6.800-8.200h-3.200l3-4.800zM443.6 484.8l-5 7h3l-2.200 6 6.800-8.200h-3.200l3-4.800zM367.7 486.3l-5 7h3l-2.200 6 6.800-8.200h-3.200l3-4.800z"/><path fill="#f2701c" d="M537.2 480.5l-5 7h3l-2.200 6 6.800-8.200h-3.200l3-4.800z"/><path fill="#ffff00" d="M372.9 485.9l-5 7h3l-2.200 6 6.800-8.200h-3.200l3-4.800zM409.3 485.3l-5 7h3l-2.200 6 6.800-8.200h-3.200l3-4.800z"/><path fill="#f2701c" d="M232.5 480.5l-5 7h3l-2.200 6 6.800-8.200h-3.200l3-4.800z"/><path fill="#ffff00" d="M519.6 485.1l-5 7h3l-2.200 6 6.800-8.200h-3.200l3-4.800zM290.7 484.4l-5 7h3l-2.200 6 6.800-8.200h-3.200l3-4.800z"/><path fill="#e8140e" d="M510.5 485.1l-5 7h3l-2.200 6 6.800-8.200h-3.200l3-4.800z"/><path fill="#ffff00" d="M340 481.1l-5 7h3l-2.200 6 6.800-8.200h-3.200l3-4.800zM380 481.2l-5 7h3l-2.200 6 6.800-8.200h-3.200l3-4.800z"/><path fill="#e8140e" d="M515.7 486.4l-5 7h3l-2.200 6 6.800-8.200h-3.200l3-4.800z"/><path fill="#ffff00" d="M363.1 485l-5 7h3l-2.200 6 6.800-8.200h-3.200l3-4.800zM395.2 484.7l-5 7h3l-2.200 6 6.800-8.200h-3.200l3-4.800zM405.7 486.3l-5 7h3l-2.200 6 6.800-8.200h-3.200l3-4.800z"/><path fill="#e8140e" d="M493.5 484.2l-5 7h3l-2.200 6 6.800-8.200h-3.200l3-4.800z"/><path fill="#8a1212" d="M526.7 481.5l-5 7h3l-2.200 6 6.800-8.200h-3.200l3-4.800z"/><path fill="#ffff00" d="M452 484.5l-5 7h3l-2.200 6 6.800-8.200h-3.200l3-4.800z"/><path fill="#e8140e" d="M498.5 485.3l-5 7h3l-2.200 6 6.800-8.200h-3.200l3-4.800z"/><path fill="#f2701c" d="M535.3 484.3l-5 7h3l-2.200 6 6.800-8.200h-3.200l3-4.800z"/><path fill="#ffff00" d="M346.7 486.1l-5 7h3l-2.200 6 6.800-8.200h-3.200l3-4.800zM294 487.1l-5 7h3l-2.200 6 6.800-8.200h-3.200l3-4.800zM524.2 485.4l-5 7h3l-2.200 6 6.800-8.200h-3.200l3-4.800zM459.7 485.2l-5 7h3l-2.200 6 6.800-8.200h-3.200l3-4.800z"/><path fill="#e8140e" d="M428.3 485l-5 7h3l-2.200 6 6.800-8.200h-3.200l3-4.800z"/><path fill="#ffff00" d="M551.9 484.2l-5 7h3l-2.200 6 6.800-8.200h-3.200l3-4.800z"/><path fill="#8a1212" d="M313.9 486.6l-5 7h3l-2.200 6 6.800-8.200h-3.200l3-4.800z"/><path fill="#f2701c" d="M315 489.7l-5 7h3l-2.200 6 6.800-8.200h-3.200l3-4.800z"/><path fill="#19b4f2" d="M277.8 489.9l-5 7h3l-2.200 6 6.800-8.200h-3.200l3-4.800z"/><path fill="#ffff00" d="M360.9 485.4l-5 7h3l-2.200 6 6.800-8.200h-3.200l3-4.800zM436.6 484.7l-5 7h3l-2.200 6 6.800-8.200h-3.200l3-4.800zM340.7 486.1l-5 7h3l-2.200 6 6.800-8.200h-3.200l3-4.800zM408 490.8l-5 7h3l-2.200 6 6.800-8.200h-3.200l3-4.800zM350.7 486.1l-5 7h3l-2.200 6 6.800-8.200h-3.200l3-4.800zM447.6 486.3l-5 7h3l-2.200 6 6.800-8.200h-3.200l3-4.800zM382.5 485.2l-5 7h3l-2.200 6 6.800-8.200h-3.200l3-4.800z"/><path fill="#19b4f2" d="M415.1 485.1l-5 7h3l-2.200 6 6.800-8.200h-3.200l3-4.800z"/><path fill="#ffff00" d="M356.3 485.6l-5 7h3l-2.200 6 6.800-8.200h-3.200l3-4.800z"/><path fill="#e8140e" d="M418.9 486.6l-5 7h3l-2.200 6 6.800-8.200h-3.200l3-4.800z"/><path fill="#8a1212" d="M309.6 485l-5 7h3l-2.200 6 6.800-8.200h-3.200l3-4.800zM530.3 484.3l-5 7h3l-2.200 6 6.800-8.200h-3.200l3-4.800z"/><path fill="#ffff00" d="M546.8 490.2l-5 7h3l-2.200 6 6.800-8.200h-3.200l3-4.800zM322 486.4l-5 7h3l-2.200 6 6.800-8.200h-3.200l3-4.800z"/><path fill="#f2701c" d="M482.5 484.4l-5 7h3l-2.200 6 6.800-8.200h-3.200l3-4.800z"/><path fill="#e8140e" d="M506.7 485.6l-5 7h3l-2.200 6 6.800-8.200h-3.200l3-4.800z"/><path fill="#f2701c" d="M126.4 484.1l-5 7h3l-2.200 6 6.800-8.200h-3.200l3-4.800z"/><path fill="#ffff00" d="M337.1 484.6l-5 7h3l-2.200 6 6.800-8.200h-3.200l3-4.800z"/><path fill="#f2701c" d="M281.9 484.2l-5 7h3l-2.200 6 6.800-8.200h-3.200l3-4.800z"/><path fill="#ffff00" d="M445.7 490.4l-5 7h3l-2.200 6 6.800-8.200h-3.200l3-4.800zM465.1 484.4l-5 7h3l-2.200 6 6.800-8.200h-3.200l3-4.800z"/><path fill="#e8140e" d="M327.3 485.1l-5 7h3l-2.200 6 6.800-8.200h-3.200l3-4.800zM456 486.4l-5 7h3l-2.200 6 6.800-8.200h-3.200l3-4.800z"/><path fill="#ffff00" d="M565.3 484.5l-5 7h3l-2.200 6 6.800-8.200h-3.200l3-4.800z"/><path fill="#f2701c" d="M471 486.6l-5 7h3l-2.200 6 6.800-8.200h-3.200l3-4.800zM301.3 485.4l-5 7h3l-2.200 6 6.800-8.200h-3.200l3-4.800z"/><path fill="#e8140e" d="M503.8 487.1l-5 7h3l-2.200 6 6.800-8.200h-3.200l3-4.800zM504.9 489.9l-5 7h3l-2.200 6 6.800-8.200h-3.200l3-4.800z"/><path fill="#ffff00" d="M401.8 487.1l-5 7h3l-2.200 6 6.800-8.200h-3.200l3-4.800z"/><path fill="#e8140e" d="M512.4 491.8l-5 7h3l-2.200 6 6.800-8.200h-3.200l3-4.800z"/><path fill="#ffff00" d="M421 492.1l-5 7h3l-2.200 6 6.800-8.200h-3.200l3-4.800z"/><path fill="#f2701c" d="M302.9 492.6l-5 7h3l-2.200 6 6.800-8.200h-3.200l3-4.800zM310.9 490.3l-5 7h3l-2.200 6 6.800-8.200h-3.200l3-4.800zM378 486.4l-5 7h3l-2.200 6 6.800-8.200h-3.200l3-4.800z"/><path fill="#8a1212" d="M438.8 490.2l-5 7h3l-2.200 6 6.800-8.200h-3.200l3-4.800z"/><path fill="#ffff00" d="M332.7 486.7l-5 7h3l-2.200 6 6.800-8.200h-3.200l3-4.800zM319.9 490.6l-5 7h3l-2.200 6 6.800-8.200h-3.200l3-4.800zM449.8 490.6l-5 7h3l-2.200 6 6.800-8.200h-3.200l3-4.800z"/><path fill="#f2701c" d="M486.7 490.2l-5 7h3l-2.200 6 6.800-8.200h-3.200l3-4.800z"/><path fill="#ffff00" d="M412.4 490.2l-5 7h3l-2.200 6 6.800-8.200h-3.200l3-4.800z"/><path fill="#f2701c" d="M298.9 492.4l-5 7h3l-2.200 6 6.800-8.200h-3.200l3-4.800zM489.3 492l-5 7h3l-2.200 6 6.800-8.200h-3.200l3-4.800z"/><path fill="#ffff00" d="M348.7 492.4l-5 7h3l-2.200 6 6.800-8.200h-3.200l3-4.800zM533.6 490.5l-5 7h3l-2.200 6 6.800-8.200h-3.200l3-4.800zM291.9 490.8l-5 7h3l-2.200 6 6.800-8.200h-3.200l3-4.800zM523.4 491.2l-5 7h3l-2.200 6 6.800-8.200h-3.200l3-4.800zM339.1 492.6l-5 7h3l-2.200 6 6.800-8.200h-3.200l3-4.800zM284.3 492.6l-5 7h3l-2.200 6 6.800-8.200h-3.200l3-4.800z"/><path fill="#8a1212" d="M517.9 492.4l-5 7h3l-2.200 6 6.800-8.200h-3.200l3-4.800z"/><path fill="#ffff00" d="M549.2 491.2l-5 7h3l-2.200 6 6.800-8.200h-3.200l3-4.800z"/><path fill="#f2701c" d="M325.4 490.5l-5 7h3l-2.200 6 6.800-8.200h-3.200l3-4.800z"/><path fill="#ffff00" d="M353.6 490.1l-5 7h3l-2.200 6 6.800-8.200h-3.200l3-4.800zM335.2 495.4l-5 7h3l-2.200 6 6.800-8.200h-3.200l3-4.800zM553.7 489.7l-5 7h3l-2.200 6 6.800-8.200h-3.200l3-4.800zM290.4 496.2l-5 7h3l-2.200 6 6.800-8.200h-3.200l3-4.800zM432.3 491l-5 7h3l-2.200 6 6.800-8.200h-3.200l3-4.800zM538.3 495.5l-5 7h3l-2.200 6 6.800-8.200h-3.200l3-4.800z"/><path fill="#f2701c" d="M473.6 491.1l-5 7h3l-2.200 6 6.800-8.200h-3.200l3-4.800z"/><path fill="#e8140e" d="M564.8 491.8l-5 7h3l-2.200 6 6.800-8.200h-3.200l3-4.800z"/><path fill="#ffff00" d="M552.3 496.6l-5 7h3l-2.200 6 6.800-8.200h-3.200l3-4.800zM459.9 492.1l-5 7h3l-2.200 6 6.800-8.200h-3.200l3-4.800zM463.8 491.1l-5 7h3l-2.200 6 6.800-8.200h-3.200l3-4.800z"/><path fill="#f2701c" d="M480.4 490.3l-5 7h3l-2.200 6 6.800-8.200h-3.200l3-4.800z"/><path fill="#e8140e" d="M466.7 490l-5 7h3l-2.200 6 6.800-8.200h-3.200l3-4.800z"/><path fill="#ffff00" d="M541.8 489.9l-5 7h3l-2.200 6 6.800-8.200h-3.200l3-4.800z"/><path fill="#8a1212" d="M443.9 497.2l-5 7h3l-2.200 6 6.800-8.200h-3.200l3-4.800z"/><path fill="#ffff00" d="M453.8 490.7l-5 7h3l-2.200 6 6.800-8.200h-3.200l3-4.800z"/><path fill="#f2701c" d="M528.5 490.2l-5 7h3l-2.200 6 6.800-8.200h-3.200l3-4.800z"/><path fill="#ffff00" d="M425.1 490.4l-5 7h3l-2.200 6 6.800-8.200h-3.200l3-4.800zM415.8 497.5l-5 7h3l-2.200 6 6.800-8.200h-3.200l3-4.800z"/><path fill="#e8140e" d="M308.1 497.8l-5 7h3l-2.200 6 6.800-8.200h-3.200l3-4.800z"/><path fill="#f2701c" d="M468.9 495.9l-5 7h3l-2.200 6 6.800-8.200h-3.200l3-4.800z"/><path fill="#ffff00" d="M333.6 491.7l-5 7h3l-2.200 6 6.800-8.200h-3.200l3-4.800z"/><path fill="#8a1212" d="M500.4 490.7l-5 7h3l-2.200 6 6.800-8.200h-3.200l3-4.800z"/><path fill="#ffff00" d="M560.3 492l-5 7h3l-2.200 6 6.800-8.200h-3.200l3-4.800z"/><path fill="#f2701c" d="M566.6 497.1l-5 7h3l-2.200 6 6.800-8.200h-3.200l3-4.800z"/><path fill="#e8140e" d="M328.4 496.3l-5 7h3l-2.200 6 6.800-8.200h-3.200l3-4.800z"/><path fill="#f2701c" d="M328.9 491.9l-5 7h3l-2.200 6 6.800-8.200h-3.200l3-4.800z"/><path fill="#ffff00" d="M432.1 495.8l-5 7h3l-2.200 6 6.800-8.200h-3.200l3-4.800z"/><path fill="#19b4f2" d="M322.7 497l-5 7h3l-2.200 6 6.800-8.200h-3.200l3-4.800z"/><path fill="#ffff00" d="M288.6 491.5l-5 7h3l-2.200 6 6.800-8.200h-3.200l3-4.800zM341.4 495.3l-5 7h3l-2.200 6 6.800-8.200h-3.200l3-4.800zM417.7 491.2l-5 7h3l-2.200 6 6.800-8.200h-3.200l3-4.800zM410.9 495.5l-5 7h3l-2.200 6 6.800-8.200h-3.200l3-4.800z"/><path fill="#8a1212" d="M503.1 495.9l-5 7h3l-2.200 6 6.800-8.200h-3.200l3-4.800z"/><path fill="#ffff00" d="M317.1 497.1l-5 7h3l-2.200 6 6.800-8.200h-3.200l3-4.800z"/><path fill="#8a1212" d="M446.7 495.5l-5 7h3l-2.200 6 6.800-8.200h-3.200l3-4.800z"/><path fill="#e8140e" d="M306.3 491.7l-5 7h3l-2.200 6 6.800-8.200h-3.200l3-4.800z"/><path fill="#ffff00" d="M556.6 496.8l-5 7h3l-2.200 6 6.800-8.200h-3.200l3-4.800z"/><path fill="#f2701c" d="M517.3 497.6l-5 7h3l-2.200 6 6.800-8.200h-3.200l3-4.800zM300.5 497.5l-5 7h3l-2.200 6 6.800-8.200h-3.200l3-4.800z"/><path fill="#8a1212" d="M535.4 498.1l-5 7h3l-2.200 6 6.800-8.200h-3.200l3-4.800z"/><path fill="#ffff00" d="M436.1 492l-5 7h3l-2.200 6 6.800-8.200h-3.200l3-4.800zM526.3 497.9l-5 7h3l-2.200 6 6.800-8.200h-3.200l3-4.800z"/><path fill="#e8140e" d="M510.2 492l-5 7h3l-2.200 6 6.800-8.200h-3.200l3-4.800z"/><path fill="#ffff00" d="M345.4 495.4l-5 7h3l-2.200 6 6.800-8.200h-3.200l3-4.800z"/><path fill="#e8140e" d="M480.7 498l-5 7h3l-2.200 6 6.800-8.200h-3.200l3-4.800z"/><path fill="#ffff00" d="M275.6 497.2l-5 7h3l-2.200 6 6.800-8.200h-3.200l3-4.800zM343.4 492l-5 7h3l-2.200 6 6.800-8.200h-3.200l3-4.800zM418.6 497.8l-5 7h3l-2.200 6 6.800-8.200h-3.200l3-4.800zM496.6 492.7l-5 7h3l-2.200 6 6.800-8.200h-3.200l3-4.800zM313.2 496.7l-5 7h3l-2.200 6 6.800-8.200h-3.200l3-4.800zM424.1 497.4l-5 7h3l-2.200 6 6.800-8.200h-3.200l3-4.800zM535.5 492.3l-5 7h3l-2.200 6 6.800-8.200h-3.200l3-4.800z"/><path fill="#8a1212" d="M530.5 497.7l-5 7h3l-2.200 6 6.800-8.200h-3.200l3-4.800z"/><path fill="#e8140e" d="M476.6 492.5l-5 7h3l-2.200 6 6.800-8.200h-3.200l3-4.800zM563.5 495.5l-5 7h3l-2.200 6 6.800-8.200h-3.200l3-4.800z"/><path fill="#ffff00" d="M456.6 497.4l-5 7h3l-2.200 6 6.800-8.200h-3.200l3-4.800z"/><path fill="#f2701c" d="M303.7 497.5l-5 7h3l-2.200 6 6.800-8.200h-3.200l3-4.800z"/><path fill="#ffff00" d="M548.2 495.8l-5 7h3l-2.200 6 6.800-8.200h-3.200l3-4.800zM459.7 497.7l-5 7h3l-2.200 6 6.800-8.200h-3.200l3-4.800z"/><path fill="#f2701c" d="M507.7 496.9l-5 7h3l-2.200 6 6.800-8.200h-3.200l3-4.800z"/><path fill="#ffff00" d="M544.8 496l-5 7h3l-2.200 6 6.800-8.200h-3.200l3-4.800z"/><path fill="#e8140e" d="M483.5 498.1l-5 7h3l-2.200 6 6.800-8.200h-3.200l3-4.800z"/><path fill="#f2701c" d="M492.3 495.6l-5 7h3l-2.200 6 6.800-8.200h-3.200l3-4.800zM487.6 497.7l-5 7h3l-2.200 6 6.800-8.200h-3.200l3-4.800z"/><path fill="#19b4f2" d="M512.3 495.5l-5 7h3l-2.200 6 6.800-8.200h-3.200l3-4.800z"/><path fill="#ffff00" d="M340 501.3l-5 7h3l-2.200 6 6.800-8.200h-3.200l3-4.800z"/><path fill="#f2701c" d="M458.2 501.5l-5 7h3l-2.200 6 6.800-8.200h-3.200l3-4.800z"/><path fill="#ffff00" d="M452.7 498.1l-5 7h3l-2.200 6 6.800-8.200h-3.200l3-4.800zM335.2 502.2l-5 7h3l-2.200 6 6.800-8.200h-3.200l3-4.800zM464.5 498l-5 7h3l-2.200 6 6.800-8.200h-3.200l3-4.800zM331.2 497l-5 7h3l-2.200 6 6.800-8.200h-3.200l3-4.800z"/><path fill="#e8140e" d="M474.1 495.9l-5 7h3l-2.200 6 6.800-8.200h-3.200l3-4.800z"/><path fill="#ffff00" d="M282.7 497l-5 7h3l-2.200 6 6.800-8.200h-3.200l3-4.800z"/><path fill="#19b4f2" d="M431.4 502.6l-5 7h3l-2.200 6 6.800-8.200h-3.200l3-4.800z"/><path fill="#ffff00" d="M487.6 502.6l-5 7h3l-2.200 6 6.800-8.200h-3.200l3-4.800z"/><path fill="#8a1212" d="M430 497.8l-5 7h3l-2.200 6 6.800-8.200h-3.200l3-4.800z"/><path fill="#ffff00" d="M519.8 496.4l-5 7h3l-2.200 6 6.800-8.200h-3.200l3-4.800zM550.8 501.6l-5 7h3l-2.200 6 6.800-8.200h-3.200l3-4.800zM284.7 497l-5 7h3l-2.200 6 6.800-8.200h-3.200l3-4.800z"/><path fill="#19b4f2" d="M450.9 503.9l-5 7h3l-2.200 6 6.800-8.200h-3.200l3-4.800z"/><path fill="#f2701c" d="M295.8 496.8l-5 7h3l-2.200 6 6.800-8.200h-3.200l3-4.800z"/><path fill="#ffff00" d="M496.8 496.7l-5 7h3l-2.200 6 6.800-8.200h-3.200l3-4.800z"/><path fill="#f2701c" d="M517.3 503.1l-5 7h3l-2.200 6 6.800-8.200h-3.200l3-4.800z"/><path fill="#ffff00" d="M314.5 502.6l-5 7h3l-2.200 6 6.800-8.200h-3.200l3-4.800z"/><path fill="#f2701c" d="M426.5 503.4l-5 7h3l-2.200 6 6.800-8.200h-3.200l3-4.800z"/><path fill="#ffff00" d="M312.9 503.1l-5 7h3l-2.200 6 6.800-8.200h-3.200l3-4.800z"/><path fill="#f2701c" d="M321.6 501.9l-5 7h3l-2.200 6 6.800-8.200h-3.200l3-4.800z"/><path fill="#ffff00" d="M270.8 501.9l-5 7h3l-2.200 6 6.800-8.200h-3.200l3-4.800z"/><path fill="#8a1212" d="M438.2 497.5l-5 7h3l-2.200 6 6.800-8.200h-3.200l3-4.800z"/><path fill="#e8140e" d="M476.1 501.8l-5 7h3l-2.200 6 6.800-8.200h-3.200l3-4.800z"/><path fill="#ffff00" d="M500.6 503l-5 7h3l-2.200 6 6.800-8.200h-3.200l3-4.800z"/><path fill="#f2701c" d="M329.7 502.1l-5 7h3l-2.200 6 6.800-8.200h-3.200l3-4.800z"/><path fill="#ffff00" d="M495.1 500.9l-5 7h3l-2.200 6 6.800-8.200h-3.200l3-4.800z"/><path fill="#19b4f2" d="M436.3 501.6l-5 7h3l-2.200 6 6.800-8.200h-3.200l3-4.800z"/><path fill="#ffff00" d="M292.2 502.9l-5 7h3l-2.200 6 6.800-8.200h-3.200l3-4.800zM568 502.8l-5 7h3l-2.200 6 6.800-8.200h-3.200l3-4.800z"/><path fill="#19b4f2" d="M274 503.2l-5 7h3l-2.200 6 6.800-8.200h-3.200l3-4.800z"/><path fill="#ffff00" d="M298.6 501.6l-5 7h3l-2.200 6 6.800-8.200h-3.200l3-4.800z"/><path fill="#f2701c" d="M537.1 502.3l-5 7h3l-2.200 6 6.800-8.200h-3.200l3-4.800z"/><path fill="#ffff00" d="M546 501.4l-5 7h3l-2.200 6 6.800-8.200h-3.200l3-4.800zM560.4 501.7l-5 7h3l-2.200 6 6.800-8.200h-3.200l3-4.800z"/><path fill="#8a1212" d="M512.1 506.7l-5 7h3l-2.200 6 6.800-8.200h-3.200l3-4.800z"/><path fill="#ffff00" d="M305.9 502.3l-5 7h3l-2.200 6 6.800-8.200h-3.200l3-4.800z"/><path fill="#f2701c" d="M422.4 503.4l-5 7h3l-2.200 6 6.800-8.200h-3.200l3-4.800z"/><path fill="#ffff00" d="M491.3 502l-5 7h3l-2.200 6 6.800-8.200h-3.200l3-4.800zM526.8 501.4l-5 7h3l-2.200 6 6.800-8.200h-3.200l3-4.800z"/><path fill="#e8140e" d="M462 506.9l-5 7h3l-2.200 6 6.800-8.200h-3.200l3-4.800z"/><path fill="#ffff00" d="M279 502.4l-5 7h3l-2.200 6 6.800-8.200h-3.200l3-4.800z"/><path fill="#e8140e" d="M462.5 502.9l-5 7h3l-2.200 6 6.800-8.200h-3.200l3-4.800z"/><path fill="#ffff00" d="M294.2 506.7l-5 7h3l-2.200 6 6.800-8.200h-3.200l3-4.800zM555.6 501.9l-5 7h3l-2.200 6 6.800-8.200h-3.200l3-4.800zM557.2 506.8l-5 7h3l-2.200 6 6.800-8.200h-3.200l3-4.800zM417 501.2l-5 7h3l-2.200 6 6.800-8.200h-3.200l3-4.800z"/><path fill="#f2701c" d="M515 501.9l-5 7h3l-2.200 6 6.800-8.200h-3.200l3-4.800z"/><path fill="#ffff00" d="M439.3 507.9l-5 7h3l-2.200 6 6.800-8.200h-3.200l3-4.800z"/><path fill="#8a1212" d="M531.1 507.7l-5 7h3l-2.200 6 6.800-8.200h-3.200l3-4.800z"/><path fill="#e8140e" d="M482.8 502.9l-5 7h3l-2.200 6 6.800-8.200h-3.200l3-4.800z"/><path fill="#ffff00" d="M504.4 502.1l-5 7h3l-2.200 6 6.800-8.200h-3.200l3-4.800z"/><path fill="#e8140e" d="M287.2 502.7l-5 7h3l-2.200 6 6.800-8.200h-3.200l3-4.800z"/><path fill="#ffff00" d="M502.2 508.1l-5 7h3l-2.200 6 6.800-8.200h-3.200l3-4.800zM543.6 507.3l-5 7h3l-2.200 6 6.800-8.200h-3.200l3-4.800z"/><path fill="#19b4f2" d="M432.5 507l-5 7h3l-2.200 6 6.800-8.200h-3.200l3-4.800z"/><path fill="#ffff00" d="M468.5 501.7l-5 7h3l-2.200 6 6.800-8.200h-3.200l3-4.800zM478.2 508.4l-5 7h3l-2.200 6 6.800-8.200h-3.200l3-4.800z"/><path fill="#e8140e" d="M472.4 503.8l-5 7h3l-2.200 6 6.800-8.200h-3.200l3-4.800z"/><path fill="#f2701c" d="M325.5 501.7l-5 7h3l-2.200 6 6.800-8.200h-3.200l3-4.800z"/><path fill="#ffff00" d="M291 506.5l-5 7h3l-2.200 6 6.800-8.200h-3.200l3-4.800z"/><path fill="#e8140e" d="M401.8 509l-5 7h3l-2.200 6 6.800-8.200h-3.200l3-4.800z"/><path fill="#ffff00" d="M505.5 507.5l-5 7h3l-2.200 6 6.800-8.200h-3.200l3-4.800zM305.3 508.6l-5 7h3l-2.200 6 6.800-8.200h-3.200l3-4.800zM540.5 502.5l-5 7h3l-2.200 6 6.800-8.200h-3.200l3-4.800z"/><path fill="#f2701c" d="M531.4 501.7l-5 7h3l-2.200 6 6.800-8.200h-3.200l3-4.800z"/><path fill="#ffff00" d="M522.3 501.9l-5 7h3l-2.200 6 6.800-8.200h-3.200l3-4.800zM565.1 503.6l-5 7h3l-2.200 6 6.800-8.200h-3.200l3-4.800z"/><path fill="#e8140e" d="M455 503.5l-5 7h3l-2.200 6 6.800-8.200h-3.200l3-4.800z"/><path fill="#ffff00" d="M282.6 502.1l-5 7h3l-2.200 6 6.800-8.200h-3.200l3-4.800z"/><path fill="#f2701c" d="M446 502.4l-5 7h3l-2.200 6 6.800-8.200h-3.200l3-4.800zM508.3 502.8l-5 7h3l-2.200 6 6.800-8.200h-3.200l3-4.800z"/><path fill="#8a1212" d="M442.7 506.6l-5 7h3l-2.200 6 6.800-8.200h-3.200l3-4.800z"/><path fill="#ffff00" d="M302 502.9l-5 7h3l-2.200 6 6.800-8.200h-3.200l3-4.800zM413.8 509.6l-5 7h3l-2.200 6 6.800-8.200h-3.200l3-4.800zM538.7 507.9l-5 7h3l-2.200 6 6.800-8.200h-3.200l3-4.800z"/><path fill="#f2701c" d="M524 509.2l-5 7h3l-2.200 6 6.800-8.200h-3.200l3-4.800zM397.2 509.9l-5 7h3l-2.200 6 6.800-8.200h-3.200l3-4.800z"/><path fill="#ffff00" d="M566.4 508.8l-5 7h3l-2.200 6 6.800-8.200h-3.200l3-4.800z"/><path fill="#f2701c" d="M441.1 503.8l-5 7h3l-2.200 6 6.800-8.200h-3.200l3-4.800z"/><path fill="#ffff00" d="M497 509.2l-5 7h3l-2.200 6 6.800-8.200h-3.200l3-4.800z"/><path fill="#e8140e" d="M464.5 507.2l-5 7h3l-2.200 6 6.800-8.200h-3.200l3-4.800z"/><path fill="#8a1212" d="M534.4 508.8l-5 7h3l-2.200 6 6.800-8.200h-3.200l3-4.800z"/><path fill="#ffff00" d="M521.9 508.6l-5 7h3l-2.200 6 6.800-8.200h-3.200l3-4.800zM547.3 507.3l-5 7h3l-2.200 6 6.800-8.200h-3.200l3-4.800zM487.7 507.7l-5 7h3l-2.200 6 6.800-8.200h-3.200l3-4.800zM472.7 512.7l-5 7h3l-2.200 6 6.800-8.200h-3.200l3-4.800zM401 509.2l-5 7h3l-2.200 6 6.800-8.200h-3.200l3-4.800zM468.6 508l-5 7h3l-2.200 6 6.800-8.200h-3.200l3-4.800zM420.1 513l-5 7h3l-2.200 6 6.800-8.200h-3.200l3-4.800zM402.1 507.8l-5 7h3l-2.200 6 6.800-8.200h-3.200l3-4.800zM452.7 513l-5 7h3l-2.200 6 6.800-8.200h-3.200l3-4.800z"/><path fill="#e8140e" d="M407.5 508.6l-5 7h3l-2.200 6 6.800-8.200h-3.200l3-4.800z"/><path fill="#ffff00" d="M482.8 508.3l-5 7h3l-2.200 6 6.800-8.200h-3.200l3-4.800zM560.8 507l-5 7h3l-2.200 6 6.800-8.200h-3.200l3-4.800zM300.2 509.2l-5 7h3l-2.200 6 6.800-8.200h-3.200l3-4.800zM475.8 509l-5 7h3l-2.200 6 6.800-8.200h-3.200l3-4.800z"/><path fill="#19b4f2" d="M521.7 514.5l-5 7h3l-2.200 6 6.800-8.200h-3.200l3-4.800zM446.6 509l-5 7h3l-2.200 6 6.800-8.200h-3.200l3-4.800z"/><path fill="#ffff00" d="M493.6 509.2l-5 7h3l-2.200 6 6.800-8.200h-3.200l3-4.800zM551.5 508.2l-5 7h3l-2.200 6 6.800-8.200h-3.200l3-4.800zM307.6 508.9l-5 7h3l-2.200 6 6.800-8.200h-3.200l3-4.800zM419.1 514.6l-5 7h3l-2.200 6 6.800-8.200h-3.200l3-4.800zM554.3 514.7l-5 7h3l-2.200 6 6.800-8.200h-3.200l3-4.800zM500.3 514.4l-5 7h3l-2.200 6 6.800-8.200h-3.200l3-4.800zM404.4 515.3l-5 7h3l-2.200 6 6.800-8.200h-3.200l3-4.800zM457 508.4l-5 7h3l-2.200 6 6.800-8.200h-3.200l3-4.800z"/><path fill="#8a1212" d="M527 512.9l-5 7h3l-2.200 6 6.800-8.200h-3.200l3-4.800z"/><path fill="#ffff00" d="M478.2 512.4l-5 7h3l-2.200 6 6.800-8.200h-3.200l3-4.800zM518.1 512.9l-5 7h3l-2.200 6 6.800-8.200h-3.200l3-4.800zM408.9 513.8l-5 7h3l-2.200 6 6.800-8.200h-3.200l3-4.800z"/><path fill="#19b4f2" d="M452.2 509.2l-5 7h3l-2.200 6 6.800-8.200h-3.200l3-4.800z"/><path fill="#ffff00" d="M496.6 513.4l-5 7h3l-2.200 6 6.800-8.200h-3.200l3-4.800zM414 509.3l-5 7h3l-2.200 6 6.800-8.200h-3.200l3-4.800zM540.9 513.9l-5 7h3l-2.200 6 6.800-8.200h-3.200l3-4.800z"/><path fill="#8a1212" d="M516 508.4l-5 7h3l-2.200 6 6.800-8.200h-3.200l3-4.800z"/><path fill="#ffff00" d="M561 514.4l-5 7h3l-2.200 6 6.800-8.200h-3.200l3-4.800zM486.9 512.6l-5 7h3l-2.200 6 6.800-8.200h-3.200l3-4.800zM403.3 510.4l-5 7h3l-2.200 6 6.800-8.200h-3.200l3-4.800zM411.9 516.3l-5 7h3l-2.200 6 6.800-8.200h-3.200l3-4.800zM482.1 514.9l-5 7h3l-2.200 6 6.800-8.200h-3.200l3-4.800zM546.6 513.4l-5 7h3l-2.200 6 6.800-8.200h-3.200l3-4.800zM414.2 516.5l-5 7h3l-2.200 6 6.800-8.200h-3.200l3-4.800zM405.5 514.2l-5 7h3l-2.200 6 6.800-8.200h-3.200l3-4.800zM459.7 514.8l-5 7h3l-2.200 6 6.800-8.200h-3.200l3-4.800z"/><path fill="#e8140e" d="M397.3 513l-5 7h3l-2.200 6 6.800-8.200h-3.200l3-4.800z"/><path fill="#ffff00" d="M573.2 514.1l-5 7h3l-2.200 6 6.800-8.200h-3.200l3-4.800zM474.2 518.1l-5 7h3l-2.200 6 6.800-8.200h-3.200l3-4.800zM491.4 514l-5 7h3l-2.200 6 6.800-8.200h-3.200l3-4.800zM464.6 518.4l-5 7h3l-2.200 6 6.800-8.200h-3.200l3-4.800z"/><path fill="#e8140e" d="M536.1 514.6l-5 7h3l-2.200 6 6.800-8.200h-3.200l3-4.800z"/><path fill="#ffff00" d="M471.1 517.9l-5 7h3l-2.200 6 6.800-8.200h-3.200l3-4.800zM579.1 519.3l-5 7h3l-2.200 6 6.800-8.200h-3.200l3-4.800zM549.4 514.6l-5 7h3l-2.200 6 6.800-8.200h-3.200l3-4.800zM413.6 515.8l-5 7h3l-2.200 6 6.800-8.200h-3.200l3-4.800zM498.8 517.9l-5 7h3l-2.200 6 6.800-8.200h-3.200l3-4.800z"/><path fill="#19b4f2" d="M462.1 512.3l-5 7h3l-2.200 6 6.800-8.200h-3.200l3-4.800z"/><path fill="#ffff00" d="M569.3 513.8l-5 7h3l-2.200 6 6.800-8.200h-3.200l3-4.800z"/><path fill="#e8140e" d="M535.8 518.8l-5 7h3l-2.200 6 6.800-8.200h-3.200l3-4.800z"/><path fill="#ffff00" d="M513 513.4l-5 7h3l-2.200 6 6.800-8.200h-3.200l3-4.800zM504.7 513.8l-5 7h3l-2.200 6 6.800-8.200h-3.200l3-4.800zM575 519.9l-5 7h3l-2.200 6 6.800-8.200h-3.200l3-4.800zM509.5 513.4l-5 7h3l-2.200 6 6.800-8.200h-3.200l3-4.800zM406.5 514l-5 7h3l-2.200 6 6.800-8.200h-3.200l3-4.800z"/><path fill="#19b4f2" d="M542.2 518.7l-5 7h3l-2.200 6 6.800-8.200h-3.200l3-4.800z"/><path fill="#ffff00" d="M515.8 519.1l-5 7h3l-2.200 6 6.800-8.200h-3.200l3-4.800zM552.5 518.7l-5 7h3l-2.200 6 6.800-8.200h-3.200l3-4.800zM488.5 519.1l-5 7h3l-2.200 6 6.800-8.200h-3.200l3-4.800zM565.8 514.7l-5 7h3l-2.200 6 6.800-8.200h-3.200l3-4.800zM556.9 520.1l-5 7h3l-2.200 6 6.800-8.200h-3.200l3-4.800zM572.5 518.2l-5 7h3l-2.200 6 6.800-8.200h-3.200l3-4.800zM483.4 519.1l-5 7h3l-2.200 6 6.800-8.200h-3.200l3-4.800zM467.7 514.9l-5 7h3l-2.200 6 6.800-8.200h-3.200l3-4.800zM507.4 519.5l-5 7h3l-2.200 6 6.800-8.200h-3.200l3-4.800zM540.4 518.9l-5 7h3l-2.200 6 6.800-8.200h-3.200l3-4.800z"/><path fill="#e8140e" d="M531.7 515l-5 7h3l-2.200 6 6.800-8.200h-3.200l3-4.800z"/><path fill="#ffff00" d="M547.8 519.7l-5 7h3l-2.200 6 6.800-8.200h-3.200l3-4.800zM479.7 519.7l-5 7h3l-2.200 6 6.800-8.200h-3.200l3-4.800z"/><path fill="#8a1212" d="M568.7 523.4l-5 7h3l-2.200 6 6.800-8.200h-3.200l3-4.800z"/><path fill="#ffff00" d="M517 523.7l-5 7h3l-2.200 6 6.800-8.200h-3.200l3-4.800z"/><path fill="#8a1212" d="M526.7 520.1l-5 7h3l-2.200 6 6.800-8.200h-3.200l3-4.800z"/><path fill="#ffff00" d="M581.4 525.4l-5 7h3l-2.200 6 6.800-8.200h-3.200l3-4.800zM562.4 518.9l-5 7h3l-2.200 6 6.800-8.200h-3.200l3-4.800z"/><path fill="#19b4f2" d="M521 518.3l-5 7h3l-2.200 6 6.800-8.200h-3.200l3-4.800z"/><path fill="#ffff00" d="M547.2 524.2l-5 7h3l-2.200 6 6.800-8.200h-3.200l3-4.800zM578.7 524.1l-5 7h3l-2.200 6 6.800-8.200h-3.200l3-4.800zM510.9 520.1l-5 7h3l-2.200 6 6.800-8.200h-3.200l3-4.800z"/><path fill="#8a1212" d="M530.2 519.8l-5 7h3l-2.200 6 6.800-8.200h-3.200l3-4.800z"/><path fill="#ffff00" d="M551.1 523.8l-5 7h3l-2.200 6 6.800-8.200h-3.200l3-4.800zM541.2 525.1l-5 7h3l-2.200 6 6.800-8.200h-3.200l3-4.800zM503.8 519.7l-5 7h3l-2.200 6 6.800-8.200h-3.200l3-4.800z"/><path fill="#8a1212" d="M565.6 519.5l-5 7h3l-2.200 6 6.800-8.200h-3.200l3-4.800z"/><path fill="#ffff00" d="M490.8 525.9l-5 7h3l-2.200 6 6.800-8.200h-3.200l3-4.800zM514.2 524.8l-5 7h3l-2.200 6 6.800-8.200h-3.200l3-4.800zM503.4 523.6l-5 7h3l-2.200 6 6.800-8.200h-3.200l3-4.800zM494.5 520.3l-5 7h3l-2.200 6 6.800-8.200h-3.200l3-4.800zM476.5 524.4l-5 7h3l-2.200 6 6.800-8.200h-3.200l3-4.800zM531.4 523.4l-5 7h3l-2.200 6 6.800-8.200h-3.200l3-4.800zM567.9 529l-5 7h3l-2.200 6 6.800-8.200h-3.200l3-4.800zM563 526.2l-5 7h3l-2.200 6 6.800-8.200h-3.200l3-4.800zM501 525.1l-5 7h3l-2.200 6 6.800-8.200h-3.200l3-4.800zM523.3 524.1l-5 7h3l-2.200 6 6.800-8.200h-3.200l3-4.800zM528.8 524.5l-5 7h3l-2.200 6 6.800-8.200h-3.200l3-4.800zM560.8 525.1l-5 7h3l-2.200 6 6.800-8.200h-3.200l3-4.800zM553.9 526.1l-5 7h3l-2.200 6 6.800-8.200h-3.200l3-4.800zM529.4 529.9l-5 7h3l-2.200 6 6.800-8.200h-3.200l3-4.800zM537.9 525.7l-5 7h3l-2.200 6 6.800-8.200h-3.200l3-4.800zM487.6 523.3l-5 7h3l-2.200 6 6.800-8.200h-3.200l3-4.800zM473.6 523.6l-5 7h3l-2.200 6 6.800-8.200h-3.200l3-4.800zM482.3 525.6l-5 7h3l-2.200 6 6.800-8.200h-3.200l3-4.800zM573 524.2l-5 7h3l-2.200 6 6.800-8.200h-3.200l3-4.800zM519.5 529.9l-5 7h3l-2.200 6 6.800-8.200h-3.200l3-4.800zM509.6 524.7l-5 7h3l-2.200 6 6.800-8.200h-3.200l3-4.800zM561.4 530.6l-5 7h3l-2.200 6 6.800-8.200h-3.200l3-4.800zM501.1 529.7l-5 7h3l-2.200 6 6.800-8.200h-3.200l3-4.800zM583.7 531.6l-5 7h3l-2.200 6 6.800-8.200h-3.200l3-4.800zM515.7 529.3l-5 7h3l-2.200 6 6.800-8.200h-3.200l3-4.800z"/><path fill="#f2701c" d="M575.6 529.1l-5 7h3l-2.200 6 6.800-8.200h-3.200l3-4.800z"/><path fill="#ffff00" d="M547.9 530.7l-5 7h3l-2.200 6 6.800-8.200h-3.200l3-4.800zM497.6 530.7l-5 7h3l-2.200 6 6.800-8.200h-3.200l3-4.800zM496.7 525.9l-5 7h3l-2.200 6 6.800-8.200h-3.200l3-4.800zM539.5 531.7l-5 7h3l-2.200 6 6.800-8.200h-3.200l3-4.800zM552.8 530.9l-5 7h3l-2.200 6 6.800-8.200h-3.200l3-4.800zM489.7 529.9l-5 7h3l-2.200 6 6.800-8.200h-3.200l3-4.800zM515.1 534.7l-5 7h3l-2.200 6 6.800-8.200h-3.200l3-4.800zM589.3 531.5l-5 7h3l-2.200 6 6.800-8.200h-3.200l3-4.800zM506.2 530.8l-5 7h3l-2.200 6 6.800-8.200h-3.200l3-4.800zM526.7 529.4l-5 7h3l-2.200 6 6.800-8.200h-3.200l3-4.800zM491.7 530.3l-5 7h3l-2.200 6 6.800-8.200h-3.200l3-4.800zM572.4 530.9l-5 7h3l-2.200 6 6.800-8.200h-3.200l3-4.800zM564 536.7l-5 7h3l-2.200 6 6.800-8.200h-3.200l3-4.800zM523.2 537.1l-5 7h3l-2.200 6 6.800-8.200h-3.200l3-4.800zM549.8 535.8l-5 7h3l-2.200 6 6.800-8.200h-3.200l3-4.800zM580.7 531.7l-5 7h3l-2.200 6 6.800-8.200h-3.200l3-4.800zM542.8 531.4l-5 7h3l-2.200 6 6.800-8.200h-3.200l3-4.800zM533 536.8l-5 7h3l-2.200 6 6.800-8.200h-3.200l3-4.800zM535.9 536.4l-5 7h3l-2.200 6 6.800-8.200h-3.200l3-4.800zM534.2 531.6l-5 7h3l-2.200 6 6.800-8.200h-3.200l3-4.800zM508.5 537.3l-5 7h3l-2.200 6 6.800-8.200h-3.200l3-4.800zM558.3 530.6l-5 7h3l-2.200 6 6.800-8.200h-3.200l3-4.800zM511.1 531l-5 7h3l-2.200 6 6.800-8.200h-3.200l3-4.800zM583.4 535.6l-5 7h3l-2.200 6 6.800-8.200h-3.200l3-4.800zM505.1 536.5l-5 7h3l-2.200 6 6.800-8.200h-3.200l3-4.800zM519.1 536.5l-5 7h3l-2.200 6 6.800-8.200h-3.200l3-4.800zM528.7 536.6l-5 7h3l-2.200 6 6.800-8.200h-3.200l3-4.800zM561 536.5l-5 7h3l-2.200 6 6.800-8.200h-3.200l3-4.800zM592.1 537.2l-5 7h3l-2.200 6 6.800-8.200h-3.200l3-4.800zM560.7 540.2l-5 7h3l-2.200 6 6.800-8.200h-3.200l3-4.800zM546.8 535.3l-5 7h3l-2.200 6 6.800-8.200h-3.200l3-4.800z"/><path fill="#e8140e" d="M602.5 540.8l-5 7h3l-2.200 6 6.800-8.200h-3.200l3-4.800z"/><path fill="#ffff00" d="M554.6 536.2l-5 7h3l-2.200 6 6.800-8.200h-3.200l3-4.800zM585.5 541.1l-5 7h3l-2.200 6 6.800-8.200h-3.200l3-4.800zM526.3 540.5l-5 7h3l-2.200 6 6.800-8.200h-3.200l3-4.800z"/><path fill="#e8140e" d="M597.5 535.7l-5 7h3l-2.200 6 6.800-8.200h-3.200l3-4.800z"/><path fill="#8a1212" d="M542.4 536.8l-5 7h3l-2.200 6 6.800-8.200h-3.200l3-4.800z"/><path fill="#ffff00" d="M587.9 536l-5 7h3l-2.200 6 6.800-8.200h-3.200l3-4.800z"/><path fill="#19b4f2" d="M574.7 536.1l-5 7h3l-2.200 6 6.800-8.200h-3.200l3-4.800zM568.4 537l-5 7h3l-2.200 6 6.800-8.200h-3.200l3-4.800z"/><path fill="#ffff00" d="M577.9 536.8l-5 7h3l-2.200 6 6.800-8.200h-3.200l3-4.800z"/><path fill="#e8140e" d="M602.5 537.4l-5 7h3l-2.200 6 6.800-8.200h-3.200l3-4.800z"/><path fill="#19b4f2" d="M565.6 540.2l-5 7h3l-2.200 6 6.800-8.200h-3.200l3-4.800z"/><path fill="#ffff00" d="M570.5 541.6l-5 7h3l-2.200 6 6.800-8.200h-3.200l3-4.800zM514.8 541.3l-5 7h3l-2.200 6 6.800-8.200h-3.200l3-4.800z"/><path fill="#e8140e" d="M606.9 542.1l-5 7h3l-2.200 6 6.800-8.200h-3.200l3-4.800z"/><path fill="#ffff00" d="M594.3 541.5l-5 7h3l-2.200 6 6.800-8.200h-3.200l3-4.800zM600.3 546.7l-5 7h3l-2.200 6 6.800-8.200h-3.200l3-4.800z"/><path fill="#19b4f2" d="M581.1 542l-5 7h3l-2.200 6 6.800-8.200h-3.200l3-4.800zM574.9 540.6l-5 7h3l-2.200 6 6.800-8.200h-3.200l3-4.800z"/><path fill="#ffff00" d="M575.1 546.8l-5 7h3l-2.200 6 6.800-8.200h-3.200l3-4.800zM589.5 542.3l-5 7h3l-2.200 6 6.800-8.200h-3.200l3-4.800zM581.3 548l-5 7h3l-2.200 6 6.800-8.200h-3.200l3-4.800zM599.4 542.8l-5 7h3l-2.200 6 6.800-8.200h-3.200l3-4.800zM592.8 546.3l-5 7h3l-2.200 6 6.800-8.200h-3.200l3-4.800zM567.9 545.9l-5 7h3l-2.200 6 6.800-8.200h-3.200l3-4.800zM596.1 548.1l-5 7h3l-2.200 6 6.800-8.200h-3.200l3-4.800zM602 552.8l-5 7h3l-2.200 6 6.800-8.200h-3.200l3-4.800zM587.1 546.6l-5 7h3l-2.200 6 6.800-8.200h-3.200l3-4.800zM578.3 548.5l-5 7h3l-2.200 6 6.800-8.200h-3.200l3-4.800zM590.5 553.4l-5 7h3l-2.200 6 6.800-8.200h-3.200l3-4.800zM595.4 553.5l-5 7h3l-2.200 6 6.800-8.200h-3.200l3-4.800z"/><path fill="#e8140e" d="M606 547.7l-5 7h3l-2.200 6 6.800-8.200h-3.200l3-4.800z"/><path fill="#ffff00" d="M567.2 554.2l-5 7h3l-2.200 6 6.800-8.200h-3.200l3-4.800zM571.5 553.9l-5 7h3l-2.200 6 6.800-8.200h-3.200l3-4.800zM600.3 553.4l-5 7h3l-2.200 6 6.800-8.200h-3.200l3-4.800zM583.3 557.3l-5 7h3l-2.200 6 6.800-8.200h-3.200l3-4.800zM586.3 551.4l-5 7h3l-2.200 6 6.800-8.200h-3.200l3-4.800zM591.7 557.8l-5 7h3l-2.200 6 6.800-8.200h-3.200l3-4.800zM576.5 554.2l-5 7h3l-2.200 6 6.800-8.200h-3.200l3-4.800zM579.7 552.9l-5 7h3l-2.200 6 6.800-8.200h-3.200l3-4.800zM574.4 556.9l-5 7h3l-2.200 6 6.800-8.200h-3.200l3-4.800zM587.9 558.1l-5 7h3l-2.200 6 6.800-8.200h-3.200l3-4.800zM577.1 559.7l-5 7h3l-2.200 6 6.800-8.200h-3.200l3-4.800zM595.3 558.9l-5 7h3l-2.200 6 6.800-8.200h-3.200l3-4.800z"/><g fill="none" stroke="#ffffff" stroke-width="0.9" stroke-linejoin="round" opacity="0.9"><path d="M26.7 465.8L33.1 455.1L53.5 451.9L63.1 448.7L65.3 433.7L83.5 431.5L87.8 423L91 412.2L85.6 403.7L72.8 397.3L68.5 378L61 355.8L64.2 334.4L74.9 326.9L89.9 336.5L111.3 342.9L109.2 334.4L126.3 321.5L137 304.4L139.2 289.4L131.7 278.7L137 263.7L148.8 250.8L169.2 255.1L190.6 251.9L199.2 259.4L207.8 269L229.2 271.2L250.6 268L274.1 270.1L283.8 264.7L291.3 274.4L297.7 289.4L302 308.7L308.4 319.4L323.4 323.7L329.8 336.5L328.8 357.9L334.6 372.9L335.6 381.5L361.4 390.1L369.9 400.8L389.2 402.9L427.8 398.7L457.8 400.8L474.9 396.5L500.6 394.4L514.5 382.6L524.2 392.2L547.8 398.7L569.1 407.2L580.9 415.8L583.1 420.8L575.6 431.5L575.6 450.8L570.2 461.5L569.1 480.8L563.8 500.1L564.8 517.2L573.4 525.8L579.8 538.7L594.8 545.1L604.5 553.7L601.3 562.2L590.6 565.4L562.7 559L568.1 547.2L556.3 538.7L543.4 540.8L513.5 542.9L500.6 536.5L479.2 530.1L466.3 523.7L449.2 515.1L427.8 508.7L414.9 502.2L402.1 491.5L382.8 488.3L361.4 490.5L348.5 495.8L339.9 505.5L320.7 505.5L306.3 514L287 506.5L267.8 504.4L254.8 497.9L229.2 494.7L201.3 492.6L179.8 488.3L162.8 486.2L155.3 500.1L147.8 501.2L137 494.7L117.8 495.7L107.1 486.2L87.8 485.1L64.2 487.2L40.6 480.7L27.8 476.5Z"/><path d="M307.8 295.8L316.4 289.4L327.1 274.4L359.2 270.1L427.8 271.2L479.2 270.1L496.3 267.5L513.5 271.2L527.4 280.8L522 287.2L507 290.5L498.5 295.8L492 308.7L462 306.5L447 308.7L440.6 321.5L434.2 327.9L423.5 323.7L382.8 322.6L361.4 319.4L333.5 315.1L316.4 313L307.8 304.4Z"/><path d="M136.8 303.7L152.8 310.7L177.8 316.7L199.8 320.7L213.8 316.7L230.8 308.7L235.8 288.7L229.2 271.2"/><path d="M230.8 308.7L224.8 338.7L217.8 356.7"/><path d="M111.3 342.9L142.8 350.7L165.8 360.7L192.8 356.7L217.8 356.7L237.8 348.7L257.8 340.7L282.8 333.7L301.8 320.7"/><path d="M282.8 333.7L289.8 308.7L301.8 308.7"/><path d="M237.8 348.7L239.8 368.7L249.8 383.7L255.8 400.7L263.8 416.7"/><path d="M165.8 360.7L173.8 378.7L169.8 396.7L159.8 406.7"/><path d="M142.8 350.7L133.8 370.7L119.8 386.7L107.8 408.7"/><path d="M72.8 397.3L97.8 386.7L119.8 386.7"/><path d="M249.8 383.7L277.8 376.7L299.8 370.7L328.8 357.7"/><path d="M299.8 370.7L309.8 393.7L329.8 406.7L347.8 418.7L369.8 400.7"/><path d="M263.8 416.7L282.8 423.7L309.8 420.7L329.8 406.7"/><path d="M347.8 418.7L342.8 448.7L345.8 478.7L339.8 504.7"/><path d="M342.8 448.7L367.8 444.7L392.8 438.7L409.8 448.7L417.8 428.7L427.8 398.7"/><path d="M409.8 448.7L403.8 470.7L402.1 491.5"/><path d="M417.8 428.7L447.8 418.7L472.8 420.7L482.8 438.7L497.8 448.7L522.8 438.7L537.8 426.7L547.8 398.7"/><path d="M457.8 400.7L461.8 418.7"/><path d="M482.8 438.7L477.8 460.7L485.8 478.7L477.8 504.7L479.2 530.1"/><path d="M497.8 448.7L509.8 460.7L527.8 454.7L537.8 426.7"/><path d="M359.2 270.1L355.8 293.7L347.8 316.7"/><path d="M403.8 270.7L395.8 296.7L389.8 322.7"/><path d="M452.8 270.7L445.8 288.7L440.6 321.5"/><path d="M91 412.2L99.8 433.7L105.8 453.7L109.8 470.7L107.1 486.2"/><path d="M105.8 453.7L127.8 448.7L142.8 438.7L159.8 406.7"/><path d="M142.8 438.7L153.8 460.7L162.8 486.2"/><path d="M159.8 406.7L173.8 430.7L185.8 448.7L199.8 460.7L203.8 492.6"/><path d="M185.8 448.7L212.8 444.7L237.8 438.7L255.8 448.7L259.8 470.7L254.8 497.9"/><path d="M199.8 416.7L209.8 430.7L212.8 444.7"/></g><g font-size="6.800" fill="#5a6a10" text-anchor="middle" opacity="0.9"><text x="184.7" y="285.1">TUBAN</text><text x="246.8" y="310.8">LAMONGAN</text><text x="165.3" y="332.7">BOJONEGORO</text><text x="276.3" y="331.8">GRESIK</text><text x="309.8" y="332.7">SURABAYA</text><text x="101.1" y="359">NGAWI</text><text x="303.5" y="359">SIDOARJO</text><text x="260.2" y="367.6">KOTA MOJOKERTO</text><text x="235.6" y="377.2">JOMBANG</text><text x="276.7" y="379.4">MOJOKERTO</text><text x="189.5" y="383.7">NGANJUK</text><text x="122.5" y="387.5">KOTA MADIUN MADIUN</text><text x="94.2" y="395.4">MAGETAN</text><text x="337.2" y="391.1">KOTA PASURUAN</text><text x="325.8" y="406.1">PASURUAN</text><text x="384.3" y="410.4">KOTA PROBOLINGGO</text><text x="403.6" y="422.2">PROBOLINGGO</text><text x="279.5" y="419.7">KOTA BATU</text><text x="229.2" y="418.7">KEDIRI</text><text x="295.6" y="442.2">KOTA MALANG</text><text x="374.6" y="464.7">LUMAJANG</text><text x="452.4" y="480.8">JEMBER</text><text x="492" y="436.3">BONDOWOSO</text><text x="550.6" y="417.7">SITUBONDO</text><text x="530.6" y="501.8">BANYUWANGI</text><text x="297.8" y="482.9">MALANG</text><text x="247.4" y="464.7">BLITAR</text><text x="342.5" y="295.8">BANGKALAN</text><text x="390.3" y="299">SAMPANG</text><text x="432.1" y="300.1">PAMEKASAN</text><text x="478.1" y="288.3">SUMENEP</text><text x="181" y="462.6">TULUNGAGUNG</text><text x="66.4" y="464.7">PACITAN</text><text x="300.8" y="100.2">GRESIK</text></g><g font-size="9.500" fill="#f4e9dc" stroke="#3a3020" stroke-width="1.600" paint-order="stroke" stroke-linejoin="round"><text x="0" y="221" font-size="9.5">para</text><text x="37.4" y="244.4" font-size="11">Pati</text><text x="96.3" y="239" font-size="9.5">Rembang</text><text x="11.8" y="257.2" font-size="9.5">Jati</text><text x="65.3" y="255.5" font-size="9.5">Juwana</text><text x="108" y="278.7" font-size="10">Kota</text><text x="29" y="299" font-size="11.5">Purwodadi</text><text x="14" y="371.8" font-size="12.5">Surakart</text><text x="0" y="397.6" font-size="9.5">en</text><text x="208" y="266.9" font-size="10">Tuban</text><text x="339" y="382.5" font-size="10.5">Pasuruan</text><text x="387" y="399.7" font-size="10.5">Probolinggo</text><text x="524" y="392" font-size="9.5">ubondo</text><text x="570" y="473.3" font-size="11">yuwangi</text><text x="314" y="326" font-size="12">urabaya</text><text x="115.2" y="418.7" font-size="10">Ponor</text><text x="219.5" y="455" font-size="10">Blitar</text><text x="208.8" y="412.2" font-size="10">ota Kedi</text></g><g fill="#fff" stroke="#443" stroke-width=".6"><circle cx="66" cy="244.4" r="1.800"/><circle cx="47" cy="250" r="1.800"/><circle cx="16" cy="263" r="1.800"/><circle cx="95.7" cy="244.4" r="1.800"/><circle cx="108.6" cy="284" r="1.800"/><circle cx="28.9" cy="303.7" r="1.800"/><circle cx="14.5" cy="377.2" r="1.800"/><circle cx="113.5" cy="423.6" r="1.800"/><circle cx="219.5" cy="458.7" r="1.800"/></g><g stroke="none"><g fill="#030a10" font-size="13.500"><text x="11.3" y="636.200">0</text><text x="25.7" y="636.200">15</text><text x="47.8" y="636.200">30</text><text x="90" y="636.200">60</text><text x="132" y="636.200">90</text><text x="170.6" y="636.200">120</text><text x="184" y="650">km</text></g><rect x="14.2" y="641" width="10.2" height="8.300" fill="#000"/><rect x="34.7" y="641" width="10.2" height="8.300" fill="#000"/><rect x="55.1" y="641" width="43" height="8.300" fill="#000"/><rect x="139.1" y="641" width="43" height="8.300" fill="#000"/><rect x="14.200" y="641" width="167.900" height="1" fill="#000"/><rect x="14.200" y="648.300" width="167.900" height="1" fill="#000"/></g><g font-size="8.800" fill="#f0f0f0" stroke="#1a2630" stroke-width="1.200" paint-order="stroke"><text x="320.5" y="630" font-size="8.8" font-weight="400" fill="#f0f0f0" textLength="300" lengthAdjust="spacingAndGlyphs" xml:space="preserve">Source: Esri, Maxar, GeoEye, Earthstar Geographics, CNES/Airbus DS,</text><text x="320.5" y="640.5" font-size="8.8" font-weight="400" fill="#f0f0f0" textLength="311" lengthAdjust="spacingAndGlyphs" xml:space="preserve">USDA, USGS, AeroGRID, IGN, and the GIS User Community, Esri, HERE,</text><text x="320.5" y="651" font-size="8.8" font-weight="400" fill="#f0f0f0" textLength="293" lengthAdjust="spacingAndGlyphs" xml:space="preserve">Garmin, (c) OpenStreetMap contributors, and the GIS user community</text></g></g><text x="108.5" y="360.8" font-size="11.5" font-weight="400" fill="#111" text-anchor="middle" textLength="48" lengthAdjust="spacingAndGlyphs" xml:space="preserve">111°0'0"E</text><rect x="108" y="365.3" width="1" height="3" fill="#000"/><rect x="108" y="1036.3" width="1" height="3" fill="#000"/><text x="264" y="360.8" font-size="11.5" font-weight="400" fill="#111" text-anchor="middle" textLength="48" lengthAdjust="spacingAndGlyphs" xml:space="preserve">112°0'0"E</text><rect x="263.5" y="365.3" width="1" height="3" fill="#000"/><rect x="263.5" y="1036.3" width="1" height="3" fill="#000"/><text x="419.5" y="360.8" font-size="11.5" font-weight="400" fill="#111" text-anchor="middle" textLength="48" lengthAdjust="spacingAndGlyphs" xml:space="preserve">113°0'0"E</text><rect x="419" y="365.3" width="1" height="3" fill="#000"/><rect x="419" y="1036.3" width="1" height="3" fill="#000"/><text x="575" y="360.8" font-size="11.5" font-weight="400" fill="#111" text-anchor="middle" textLength="48" lengthAdjust="spacingAndGlyphs" xml:space="preserve">114°0'0"E</text><rect x="574.5" y="365.3" width="1" height="3" fill="#000"/><rect x="574.5" y="1036.3" width="1" height="3" fill="#000"/><g transform="translate(54 506.5) rotate(-90)"><text x="0" y="0" font-size="11.5" font-weight="400" fill="#111" text-anchor="middle" textLength="40" lengthAdjust="spacingAndGlyphs" xml:space="preserve">6°0'0"S</text></g><g transform="translate(729 506.5) rotate(-90)"><text x="0" y="0" font-size="11.5" font-weight="400" fill="#111" text-anchor="middle" textLength="40" lengthAdjust="spacingAndGlyphs" xml:space="preserve">6°0'0"S</text></g><g transform="translate(54 662.3) rotate(-90)"><text x="0" y="0" font-size="11.5" font-weight="400" fill="#111" text-anchor="middle" textLength="40" lengthAdjust="spacingAndGlyphs" xml:space="preserve">7°0'0"S</text></g><g transform="translate(729 662.3) rotate(-90)"><text x="0" y="0" font-size="11.5" font-weight="400" fill="#111" text-anchor="middle" textLength="40" lengthAdjust="spacingAndGlyphs" xml:space="preserve">7°0'0"S</text></g><g transform="translate(54 818) rotate(-90)"><text x="0" y="0" font-size="11.5" font-weight="400" fill="#111" text-anchor="middle" textLength="40" lengthAdjust="spacingAndGlyphs" xml:space="preserve">8°0'0"S</text></g><g transform="translate(729 818) rotate(-90)"><text x="0" y="0" font-size="11.5" font-weight="400" fill="#111" text-anchor="middle" textLength="40" lengthAdjust="spacingAndGlyphs" xml:space="preserve">8°0'0"S</text></g><g transform="translate(54 974.8) rotate(-90)"><text x="0" y="0" font-size="11.5" font-weight="400" fill="#111" text-anchor="middle" textLength="40" lengthAdjust="spacingAndGlyphs" xml:space="preserve">9°0'0"S</text></g><g transform="translate(729 974.8) rotate(-90)"><text x="0" y="0" font-size="11.5" font-weight="400" fill="#111" text-anchor="middle" textLength="40" lengthAdjust="spacingAndGlyphs" xml:space="preserve">9°0'0"S</text></g><text x="55" y="1105.7" font-size="17.3" font-weight="700" fill="#111" textLength="95.5" lengthAdjust="spacingAndGlyphs" xml:space="preserve">Keterangan</text><text x="55" y="1134.2" font-size="13.5" font-weight="700" fill="#111" textLength="19" lengthAdjust="spacingAndGlyphs" xml:space="preserve">KA</text><path transform="translate(196 1123.5) scale(1)" fill="#f2701c" d="M5 0L1 6.200H3.500L2 12L7 4.800H4.300L6.500 0Z"/><text x="225" y="1135" font-size="14.5" font-weight="400" fill="#222" textLength="87" lengthAdjust="spacingAndGlyphs" xml:space="preserve">10,00 - 15,00</text><path transform="translate(68 1146.7) scale(1)" fill="#19b4f2" d="M5 0L1 6.200H3.500L2 12L7 4.800H4.300L6.500 0Z"/><text x="96.5" y="1158.2" font-size="14.5" font-weight="400" fill="#222" textLength="74" lengthAdjust="spacingAndGlyphs" xml:space="preserve">1,77  - 5,00</text><path transform="translate(196 1146.7) scale(1)" fill="#e8140e" d="M5 0L1 6.200H3.500L2 12L7 4.800H4.300L6.500 0Z"/><text x="225" y="1158.2" font-size="14.5" font-weight="400" fill="#222" textLength="87" lengthAdjust="spacingAndGlyphs" xml:space="preserve">15,00 - 20,00</text><path transform="translate(68 1170.3) scale(1)" fill="#f4f030" d="M5 0L1 6.200H3.500L2 12L7 4.800H4.300L6.500 0Z"/><text x="96.5" y="1181.8" font-size="14.5" font-weight="400" fill="#222" textLength="79" lengthAdjust="spacingAndGlyphs" xml:space="preserve">5,00 - 10,00</text><path transform="translate(196 1170.3) scale(1)" fill="#8a1212" d="M5 0L1 6.200H3.500L2 12L7 4.800H4.300L6.500 0Z"/><text x="225" y="1181.8" font-size="14.5" font-weight="400" fill="#222" textLength="87" lengthAdjust="spacingAndGlyphs" xml:space="preserve">20,00 - 75,05</text><g transform="translate(420.6 1091)"><path d="M0 0L0 -3.5L9 -9Z" fill="#000"/><path d="M0 0L3.5 -0L9 -9Z" fill="#fff" stroke="#000" stroke-width=".5"/><path d="M0 0L3.5 -0L9 9Z" fill="#000"/><path d="M0 0L0 3.5L9 9Z" fill="#fff" stroke="#000" stroke-width=".5"/><path d="M0 0L0 3.5L-9 9Z" fill="#000"/><path d="M0 0L-3.5 0L-9 9Z" fill="#fff" stroke="#000" stroke-width=".5"/><path d="M0 0L-3.5 0L-9 -9Z" fill="#000"/><path d="M0 0L-0 -3.5L-9 -9Z" fill="#fff" stroke="#000" stroke-width=".5"/><path d="M0 0L-3 -3L0 -22Z" fill="#000"/><path d="M0 0L3 -3L0 -22Z" fill="#fff" stroke="#000" stroke-width=".5"/><path d="M0 0L3 -3L22 -0Z" fill="#000"/><path d="M0 0L3 3L22 -0Z" fill="#fff" stroke="#000" stroke-width=".5"/><path d="M0 0L3 3L0 22Z" fill="#000"/><path d="M0 0L-3 3L0 22Z" fill="#fff" stroke="#000" stroke-width=".5"/><path d="M0 0L-3 3L-22 0Z" fill="#000"/><path d="M0 0L-3 -3L-22 0Z" fill="#fff" stroke="#000" stroke-width=".5"/><g font-size="5" fill="#333" text-anchor="middle" font-family="Liberation Serif"><text x="0" y="-23.5">N</text><text x="0" y="27.5">S</text><text x="-26" y="2">W</text><text x="26" y="2">E</text></g></g><text x="428.7" y="1151.5" font-size="10.8" font-weight="400" fill="#222" text-anchor="middle" textLength="60" lengthAdjust="spacingAndGlyphs" xml:space="preserve">Sumber Data :</text><text x="428.7" y="1162.8" font-size="10.8" font-weight="400" fill="#222" text-anchor="middle" textLength="176.5" lengthAdjust="spacingAndGlyphs" xml:space="preserve">Lightning Detector Network (LDN) - BMKG</text><text x="427.7" y="1173.8" font-size="10.8" font-weight="400" fill="#222" text-anchor="middle" textLength="127" lengthAdjust="spacingAndGlyphs" xml:space="preserve">Batas Administrasi 2021  : BIG</text><text x="425.7" y="1184.3" font-size="10.8" font-weight="400" fill="#222" text-anchor="middle" textLength="143" lengthAdjust="spacingAndGlyphs" xml:space="preserve">Peta Dasar ESRI, GEBCO, NOAA</text><g><clipPath id="ic1063"><rect x="528.5" y="1063.5" width="192" height="137"/></clipPath><g clip-path="url(#ic1063)"><rect x="528.5" y="1063.5" width="192" height="137" fill="#a3c4e8"/><g filter="url(#bl3)"><path d="M528.5 1134.8L554.9 1142.7L587.9 1150.6L620.9 1155.9L653.9 1161.2L673.7 1169.1L700.1 1167.8L720.5 1173L720.5 1208.7L528.5 1208.7Z" fill="#7a9fd6"/><path d="M720.5 1083.3L714.6 1097.8L712 1116.3L694.8 1121.6L675 1128.2L668.4 1138.7L675 1144L688.2 1141.4L698.8 1149.3L705.4 1163.8L720.5 1173Z" fill="#86a9da"/><ellipse cx="566.7" cy="1205.1" rx="9.9" ry="4.1" fill="#6189c8" opacity=".75" transform="rotate(8 566.7 1205.1)"/><ellipse cx="599.2" cy="1166.7" rx="13.9" ry="3.7" fill="#93b6e6" opacity=".75" transform="rotate(-23 599.2 1166.7)"/><ellipse cx="636.1" cy="1190.1" rx="11.4" ry="4.1" fill="#6189c8" opacity=".75" transform="rotate(1 636.1 1190.1)"/><ellipse cx="690.3" cy="1165.6" rx="13.3" ry="2.5" fill="#6d95d2" opacity=".75" transform="rotate(-18 690.3 1165.6)"/><ellipse cx="659.1" cy="1156.4" rx="6.9" ry="4.1" fill="#6d95d2" opacity=".75" transform="rotate(-15 659.1 1156.4)"/><ellipse cx="593.5" cy="1182.5" rx="12.7" ry="2.8" fill="#a8c6ee" opacity=".75" transform="rotate(4 593.5 1182.5)"/><ellipse cx="540.2" cy="1151.9" rx="13.1" ry="2.8" fill="#a8c6ee" opacity=".75" transform="rotate(-14 540.2 1151.9)"/><ellipse cx="700.4" cy="1189.7" rx="7.3" ry="2.5" fill="#a8c6ee" opacity=".75" transform="rotate(-23 700.4 1189.7)"/><ellipse cx="587.7" cy="1157.9" rx="6.8" ry="3.2" fill="#a8c6ee" opacity=".75" transform="rotate(-25 587.7 1157.9)"/><ellipse cx="717.8" cy="1197.8" rx="11.6" ry="2.3" fill="#6189c8" opacity=".75" transform="rotate(9 717.8 1197.8)"/><ellipse cx="571.2" cy="1174" rx="6.5" ry="3.9" fill="#93b6e6" opacity=".75" transform="rotate(-13 571.2 1174)"/><ellipse cx="711.5" cy="1187.7" rx="5.5" ry="2.8" fill="#6189c8" opacity=".75" transform="rotate(-15 711.5 1187.7)"/><ellipse cx="594.5" cy="1167.6" rx="11.1" ry="2.9" fill="#6d95d2" opacity=".75" transform="rotate(6 594.5 1167.6)"/><ellipse cx="626.3" cy="1165.2" rx="11.7" ry="3.2" fill="#6189c8" opacity=".75" transform="rotate(-27 626.3 1165.2)"/><ellipse cx="606.1" cy="1195.2" rx="11.7" ry="3.5" fill="#93b6e6" opacity=".75" transform="rotate(-20 606.1 1195.2)"/><ellipse cx="528.6" cy="1172.7" rx="8.7" ry="2.7" fill="#93b6e6" opacity=".75" transform="rotate(-3 528.6 1172.7)"/><ellipse cx="630.4" cy="1160.1" rx="13.3" ry="4.5" fill="#6d95d2" opacity=".75" transform="rotate(-22 630.4 1160.1)"/><ellipse cx="534.8" cy="1149.5" rx="11.3" ry="2" fill="#6189c8" opacity=".75" transform="rotate(-23 534.8 1149.5)"/><ellipse cx="711.3" cy="1183.6" rx="9.6" ry="1.8" fill="#6189c8" opacity=".75" transform="rotate(-15 711.3 1183.6)"/><ellipse cx="569.1" cy="1198.1" rx="7.9" ry="2.3" fill="#a8c6ee" opacity=".75" transform="rotate(-30 569.1 1198.1)"/><ellipse cx="706.8" cy="1168.5" rx="7.9" ry="2.8" fill="#6d95d2" opacity=".75" transform="rotate(-23 706.8 1168.5)"/><ellipse cx="560.1" cy="1195.9" rx="8.3" ry="2.6" fill="#6d95d2" opacity=".75" transform="rotate(-11 560.1 1195.9)"/><ellipse cx="541" cy="1198.1" rx="7.3" ry="3" fill="#93b6e6" opacity=".75" transform="rotate(-4 541 1198.1)"/><ellipse cx="671.5" cy="1187.1" rx="8.9" ry="3.6" fill="#6189c8" opacity=".75" transform="rotate(-13 671.5 1187.1)"/><ellipse cx="646.9" cy="1184.1" rx="6.5" ry="2" fill="#6d95d2" opacity=".75" transform="rotate(-15 646.9 1184.1)"/><ellipse cx="567.5" cy="1150.2" rx="12.9" ry="4.3" fill="#6189c8" opacity=".75" transform="rotate(2 567.5 1150.2)"/><ellipse cx="647" cy="1152.2" rx="12.3" ry="2.7" fill="#6189c8" opacity=".75" transform="rotate(-22 647 1152.2)"/><ellipse cx="613.9" cy="1168.1" rx="9.7" ry="3.7" fill="#93b6e6" opacity=".75" transform="rotate(-16 613.9 1168.1)"/><ellipse cx="615.3" cy="1156.2" rx="11.5" ry="2.6" fill="#a8c6ee" opacity=".75" transform="rotate(-15 615.3 1156.2)"/><ellipse cx="653" cy="1170.6" rx="13.7" ry="3.3" fill="#93b6e6" opacity=".75" transform="rotate(-11 653 1170.6)"/><ellipse cx="542.3" cy="1171.5" rx="10.4" ry="2.8" fill="#a8c6ee" opacity=".75" transform="rotate(7 542.3 1171.5)"/><ellipse cx="710.9" cy="1173.5" rx="11.3" ry="3" fill="#6189c8" opacity=".75" transform="rotate(9 710.9 1173.5)"/><ellipse cx="661.1" cy="1155.2" rx="6.5" ry="1.5" fill="#6d95d2" opacity=".75" transform="rotate(-12 661.1 1155.2)"/><ellipse cx="570.6" cy="1171.6" rx="5.6" ry="2.4" fill="#93b6e6" opacity=".75" transform="rotate(-3 570.6 1171.6)"/></g><path d="M528.5 1109.7L541.7 1109L558.9 1111.7L569.4 1109.7L574 1101.8L582.6 1099.8L586.6 1104.4L597.1 1105.7L606.4 1109L623.5 1112.3L626.2 1118.9L628.8 1125.5L631.4 1130.8L638 1130.8L647.3 1132.1L657.8 1130.8L661.8 1132.1L667.1 1137.4L668.4 1141.4L677.6 1142.7L686.9 1141.4L696.1 1145.3L697.4 1150.6L690.8 1154.6L680.3 1155.9L668.4 1154.6L657.8 1150.6L644.6 1148L628.8 1145.3L607.7 1144L587.9 1141.4L568.1 1137.4L548.3 1133.5L528.5 1131.5Z" fill="#f4f1e2" stroke="#e6eef2" stroke-width="1.500"/><path d="M624.8 1114.3L628.8 1111.7L647.3 1111L659.2 1112.3L655.2 1115.6L643.3 1117.6L628.8 1118.9Z" fill="#f4f1e2"/><ellipse cx="713.3" cy="1153.2" rx="8" ry="6.500" fill="#f4f1e2"/><ellipse cx="691.5" cy="1112.6" rx="4.500" ry="1.800" fill="#f4f1e2"/><circle cx="622.9" cy="1084" r="1.300" fill="#f4f1e2"/><circle cx="568.1" cy="1084.6" r=".9" fill="#f4f1e2"/><circle cx="587.9" cy="1129.5" r="1.600" fill="#dfe3c4"/><circle cx="602.4" cy="1132.1" r="1.600" fill="#dfe3c4"/><circle cx="620.9" cy="1133.5" r="1.600" fill="#dfe3c4"/><circle cx="647.3" cy="1140.1" r="1.600" fill="#dfe3c4"/><circle cx="660.5" cy="1142.7" r="1.600" fill="#dfe3c4"/><circle cx="673.7" cy="1148" r="1.600" fill="#dfe3c4"/><circle cx="539.1" cy="1120.3" r="1.600" fill="#dfe3c4"/><circle cx="570.7" cy="1125.5" r="1.600" fill="#dfe3c4"/></g><rect x="528.5" y="1063.5" width="192" height="137" fill="none" stroke="#1a1a2a" stroke-width="1"/><rect x="580" y="1071.5" width="103.7" height="101.5" fill="none" stroke="#b8405e" stroke-width="1.200"/><g stroke="#3f5a86" stroke-width="1.300" paint-order="stroke"><text x="588.6" y="1169.1" font-size="8" font-weight="400" fill="#fff" textLength="100" lengthAdjust="spacingAndGlyphs" xml:space="preserve">Esri, HERE, Garmin, (c)</text><text x="588.6" y="1179.7" font-size="8" font-weight="400" fill="#fff" textLength="120" lengthAdjust="spacingAndGlyphs" xml:space="preserve">OpenStreetMap contributors,</text><text x="588.6" y="1189.5" font-size="8" font-weight="400" fill="#fff" textLength="119" lengthAdjust="spacingAndGlyphs" xml:space="preserve">and the GIS user community</text></g></g><rect x="32.500" y="1197" width="697.500" height="988" fill="#fff" stroke="#000" stroke-width="4.400"/><use href="#bmkg" x="90.300" y="1211.700" width="74.400" height="74.400"/><text x="90.6" y="1305" font-size="24" font-weight="700" fill="#111" textLength="74.5" lengthAdjust="spacingAndGlyphs" xml:space="preserve">BMKG</text><text x="424" y="1233.6" font-size="20" font-weight="700" fill="#111" text-anchor="middle" textLength="385" lengthAdjust="spacingAndGlyphs" xml:space="preserve">PETA KERAPATAN SAMBARAN PETIR</text><text x="420.5" y="1259" font-size="20" font-weight="700" fill="#111" text-anchor="middle" textLength="209.5" lengthAdjust="spacingAndGlyphs" xml:space="preserve">CLOUD TO GROUND</text><text x="424" y="1284.4" font-size="20" font-weight="700" fill="#111" text-anchor="middle" textLength="246.5" lengthAdjust="spacingAndGlyphs" xml:space="preserve">KAB/KOTA JAWA TIMUR</text><text x="424" y="1309.3" font-size="20" font-weight="700" fill="#111" text-anchor="middle" textLength="357" lengthAdjust="spacingAndGlyphs" xml:space="preserve">PERIODE 08 - 14  DESEMBER  2025</text><rect x="57.2" y="1346" width="654" height="668.3" fill="#fff" stroke="#000" stroke-width="1"/><rect x="57.2" y="1346" width="90" height="5.300" fill="#000"/><rect x="57.2" y="2009" width="90" height="5.300" fill="#000"/><rect x="231.8" y="1346" width="84.4" height="5.300" fill="#000"/><rect x="231.8" y="2009" width="84.4" height="5.300" fill="#000"/><rect x="400.9" y="1346" width="86.3" height="5.300" fill="#000"/><rect x="400.9" y="2009" width="86.3" height="5.300" fill="#000"/><rect x="570.9" y="1346" width="85.3" height="5.300" fill="#000"/><rect x="570.9" y="2009" width="85.3" height="5.300" fill="#000"/><rect x="57.2" y="1346" width="5" height="67" fill="#000"/><rect x="705.7" y="1346" width="5.500" height="67" fill="#000"/><rect x="57.2" y="1498" width="5" height="85" fill="#000"/><rect x="705.7" y="1498" width="5.500" height="85" fill="#000"/><rect x="57.2" y="1668" width="5" height="85" fill="#000"/><rect x="705.7" y="1668" width="5.500" height="85" fill="#000"/><rect x="57.2" y="1838" width="5" height="85" fill="#000"/><rect x="705.7" y="1838" width="5.500" height="85" fill="#000"/><g transform="translate(62.2 1351.3)" clip-path="url(#mclip)" font-family="Liberation Sans"><use href="#basemap"/><path d="M26.7 465.8L33.1 455.1L53.5 451.9L63.1 448.7L65.3 433.7L83.5 431.5L87.8 423L91 412.2L85.6 403.7L72.8 397.3L68.5 378L61 355.8L64.2 334.4L74.9 326.9L89.9 336.5L111.3 342.9L109.2 334.4L126.3 321.5L137 304.4L139.2 289.4L131.7 278.7L137 263.7L148.8 250.8L169.2 255.1L190.6 251.9L199.2 259.4L207.8 269L229.2 271.2L250.6 268L274.1 270.1L283.8 264.7L291.3 274.4L297.7 289.4L302 308.7L308.4 319.4L323.4 323.7L329.8 336.5L328.8 357.9L334.6 372.9L335.6 381.5L361.4 390.1L369.9 400.8L389.2 402.9L427.8 398.7L457.8 400.8L474.9 396.5L500.6 394.4L514.5 382.6L524.2 392.2L547.8 398.7L569.1 407.2L580.9 415.8L583.1 420.8L575.6 431.5L575.6 450.8L570.2 461.5L569.1 480.8L563.8 500.1L564.8 517.2L573.4 525.8L579.8 538.7L594.8 545.1L604.5 553.7L601.3 562.2L590.6 565.4L562.7 559L568.1 547.2L556.3 538.7L543.4 540.8L513.5 542.9L500.6 536.5L479.2 530.1L466.3 523.7L449.2 515.1L427.8 508.7L414.9 502.2L402.1 491.5L382.8 488.3L361.4 490.5L348.5 495.8L339.9 505.5L320.7 505.5L306.3 514L287 506.5L267.8 504.4L254.8 497.9L229.2 494.7L201.3 492.6L179.8 488.3L162.8 486.2L155.3 500.1L147.8 501.2L137 494.7L117.8 495.7L107.1 486.2L87.8 485.1L64.2 487.2L40.6 480.7L27.8 476.5Z" fill="#62fb0e"/><path d="M307.8 295.8L316.4 289.4L327.1 274.4L359.2 270.1L427.8 271.2L479.2 270.1L496.3 267.5L513.5 271.2L527.4 280.8L522 287.2L507 290.5L498.5 295.8L492 308.7L462 306.5L447 308.7L440.6 321.5L434.2 327.9L423.5 323.7L382.8 322.6L361.4 319.4L333.5 315.1L316.4 313L307.8 304.4Z" fill="#62fb0e"/><path d="M26.7 465.8L33.1 455.1L53.5 451.9L63.1 448.7L65.3 433.7L83.5 431.5L87.8 423L91 412.2L107.8 408.7L122.8 416.7L142.8 414.7L159.8 406.7L173.8 416.7L189.8 410.7L205.8 420.7L223.8 414.7L237.8 420.7L255.8 418.7L269.8 433.7L271.8 454.7L277.8 470.7L299.8 474.7L317.8 486.7L321.8 505.7L320.7 505.5L306.3 514L287 506.5L267.8 504.4L254.8 497.9L229.2 494.7L201.3 492.6L179.8 488.3L162.8 486.2L155.3 500.1L147.8 501.2L137 494.7L117.8 495.7L107.1 486.2L87.8 485.1L64.2 487.2L40.6 480.7L27.8 476.5Z" fill="#3a3d26"/><g clip-path="url(#swclip)"><g filter="url(#bl6)"><ellipse cx="90" cy="465" rx="50" ry="22" fill="#2a3020"/><ellipse cx="200" cy="470" rx="45" ry="25" fill="#4a4530"/><ellipse cx="270" cy="465" rx="40" ry="25" fill="#4f4a30"/><ellipse cx="160" cy="430" rx="30" ry="18" fill="#4a4630"/><ellipse cx="140" cy="490" rx="40" ry="12" fill="#29301e"/></g></g><g fill="#343a24"><path d="M86.4 338.7L83.9 342L80.4 345.9L75.7 342.9L70.6 341L71.4 336.6L75.7 334.5L80.3 332.1L83.4 335.7Z"/><path d="M81 360.7L77.6 363.4L73.9 364.9L68.7 365.4L63.1 363.1L66.7 359.2L69.3 356.6L74.4 354.6L81.2 356Z"/><path d="M161.8 370.7L158 375.8L152.4 381.7L145.7 376L136.7 374.3L140.5 368.2L145.4 365L151.3 364.3L157.5 365.9Z"/><path d="M175.5 390.7L168.8 394.1L163.9 397.6L155.6 397L152 392.8L150.8 388.4L157.7 386.5L163.2 386L168.9 387.2Z"/><path d="M146.3 393.7L143.4 396.6L139 397.8L133.8 398L130.9 395.3L131.6 392.3L133.3 388.8L139.3 388.4L142.7 391.1Z"/><path d="M231.7 396.7L229.2 401L223.8 404.8L216.4 403.3L214.1 398.7L210.2 393.7L218.2 392.3L223.4 390.5L230.3 391.7Z"/><path d="M213.2 410.7L213 414.3L207 414.7L200.5 416.2L195.4 413L196.5 408.7L199.9 404.6L207.3 405.7L214 406.6Z"/><path d="M271.9 418.7L269 422.5L261.7 424.2L252.9 424.7L246.1 421.2L249.3 416.8L253.5 413.3L261.2 414.6L269.6 414.6Z"/><path d="M246.1 423.7L245.4 427.7L239.4 429.3L234.5 427.3L231.2 425.2L229.9 421.9L235.1 420.8L239.1 419.1L242.4 421.3Z"/><path d="M189.6 400.7L188 402.9L185.3 406.2L180.9 403.9L177.8 402.1L177.2 399.2L179.1 395.6L184.8 397.3L189.4 397.7Z"/><path d="M132.6 400.7L131.9 405.3L125.6 407.4L118.5 406.8L116.9 402.4L116.2 398.9L119.9 396.2L125.6 393.7L132.2 396Z"/><path d="M108.7 393.7L107.4 396.1L103.9 397.6L99.6 397.1L95.7 395.3L95.3 392L99.6 390.2L103.7 390.5L108.3 390.8Z"/><path d="M288.9 446.7L288.1 449.2L284.3 451.5L279.1 450.4L276.5 448L276.1 445.3L279.1 443L283.6 444L289.2 443.6Z"/><path d="M335.2 481.7L332.6 489.3L324.2 492.8L316.5 489.4L311.8 484.7L313.8 479.3L315.6 472.8L323.2 474.9L328.1 477.3Z"/><path d="M317.6 498.7L315.5 502.1L311.3 504.6L306.4 502.8L303.7 500.3L302.8 496.9L306.2 494.4L311.3 492.7L314.9 495.7Z"/><path d="M388.4 447.7L384.8 452.9L379 453.5L374.2 453.3L370.5 450L370.5 445.3L374.5 442.7L379.6 438.6L386.4 441.3Z"/><path d="M375.4 470.7L374.4 473.1L371.4 473.5L369 473.2L366.8 471.9L367 469.6L367.9 466.7L371.4 467.8L373.3 469Z"/><path d="M396.7 465.7L394.8 468.2L392.3 468.6L389.8 469.1L389.3 466.6L388.2 464.4L389.3 461.4L392.6 461.1L395.1 463Z"/><path d="M500.9 431.7L499.5 435.6L494.1 436.9L487.2 438.4L483.7 434L482.3 429L488.6 426.6L494.2 426.3L501.5 426.6Z"/><path d="M495.7 444.7L492.9 449.2L487.4 451.4L481.2 450.6L477.6 446.9L479.9 443.1L482 439.7L487 439.6L489.9 442.1Z"/><path d="M531.8 450.7L531.4 453.9L527.1 455.5L521 456.2L515.4 453.2L518 448.8L520.3 444.4L527.7 443.4L534.2 446Z"/><path d="M539.9 464.7L538 468.7L534.8 470.9L531.1 470L528.7 466.8L527.1 461.9L529.6 456.5L535.2 455.6L538.8 459.9Z"/><path d="M516.1 480.7L514.7 488L508.8 487.6L503.6 489.8L498.8 484.8L499.4 476.9L503.4 471.2L509.1 471.5L512.4 475.8Z"/><path d="M531.9 494.7L527.7 499.1L523.6 503.6L516.3 503.2L514.3 497.1L514.3 492.3L516.3 486.3L523.5 486.2L527 490.8Z"/><path d="M487.2 496.7L486.2 499.1L484 502.6L479.4 501.6L478.6 498L476.3 494.7L479.1 491.3L483.9 491.6L486.8 493.9Z"/><path d="M549.6 522.7L544.5 526.9L539.2 528.5L530.4 532.3L526.1 525.9L526.9 519.7L530.5 513.3L539.7 514.6L548.6 515.9Z"/><path d="M529 528.7L524.6 531.7L520.9 533.4L516.5 533L513.8 530.3L512.3 526.6L516.6 524.5L521.1 523.4L524.3 525.9Z"/><path d="M589.8 554.7L584.4 558.6L579.4 561.1L572.8 560.8L566.6 557.6L569.3 552.5L571.8 547.4L579.5 548.1L585.2 550.3Z"/><path d="M573.6 541.7L570.8 544.3L568.8 547.1L565.5 545.6L564.1 543L561.4 539.4L565.5 537.8L568.8 536.2L572.8 537.5Z"/><path d="M415.7 500.7L413 502.9L409.1 504.5L403.9 504.1L399.4 502.2L402.4 499.7L403.9 497.3L408.9 497.6L412.8 498.6Z"/><path d="M464.5 486.7L462.2 489.2L458.8 490.6L454.5 490.5L451 488.3L452.6 485.4L454.7 483.2L458.8 482.9L462.2 484.2Z"/><path d="M439.1 470.7L437.6 472.5L435.5 473.6L432.9 473.1L430.2 471.9L430.8 469.6L432.4 467.6L435.6 467.1L437.3 469.1Z"/><path d="M502.7 510.7L502.3 515.4L496.4 517.5L491.9 514.5L489.4 512.2L487.9 508.8L492 507.1L495.9 506L499.1 508Z"/><path d="M556.1 498.7L554.9 504.5L551 508.1L547.6 503.8L543.7 501.7L543.9 495.8L547.6 493.6L551 489.4L555.5 492.4Z"/><path d="M562.9 478.7L563.5 483.4L560.4 484L557.9 483.6L555.1 481.3L555.5 476.3L558.3 474.8L560.4 473.3L562.7 475Z"/><path d="M388.4 286.7L387.6 289.7L386.2 291.7L384.2 292.3L383.9 288.1L383 284.7L384.4 281.9L386.1 282.8L387.8 283.4Z"/><path d="M379.9 298.7L378.5 301.8L375.4 302.1L371.7 304.1L369.5 300.6L369 296.6L373 295.6L375.5 294.7L377.4 296.5Z"/><path d="M352.2 280.7L350.7 281.7L349.2 282.1L347.4 282.3L345.4 281.5L345.6 279.9L347.6 279.3L349.2 279.2L351.6 279.2Z"/><path d="M196.8 348.7L196.3 350.1L194.2 350.1L192.8 349.9L190.8 349.4L191.2 348.1L192.8 347.5L194.4 346.3L196.2 347.4Z"/><path d="M260.3 341.7L257.9 342.6L256.6 344L254.4 342.9L251.4 342.5L252.3 341.1L254.1 340.2L256.5 339.8L259.5 340.1Z"/></g><g fill="#62fb0e"><circle cx="110.4" cy="415.5" r="2.8"/><circle cx="117" cy="460" r="2.9"/><circle cx="195.3" cy="422.7" r="3.5"/><circle cx="279.7" cy="484.8" r="3"/><circle cx="252.3" cy="430.7" r="2.7"/><circle cx="282.4" cy="504.5" r="2.9"/><circle cx="102.7" cy="435.2" r="2.8"/><circle cx="122.9" cy="442.8" r="3"/><circle cx="172.4" cy="460.3" r="3.1"/><circle cx="121.3" cy="427.9" r="3.1"/><circle cx="255.2" cy="478.9" r="3.5"/><circle cx="280.5" cy="496.6" r="3.2"/><circle cx="297.8" cy="481.9" r="2.8"/><circle cx="218.3" cy="475.1" r="3.1"/><circle cx="254.5" cy="460.4" r="3.3"/><circle cx="109.7" cy="487.5" r="3.3"/><circle cx="260.1" cy="474" r="2.7"/><circle cx="253" cy="436.5" r="2.6"/><circle cx="231.6" cy="483.1" r="2.9"/><circle cx="185" cy="455.8" r="2.7"/><circle cx="93.2" cy="469.8" r="3.1"/><circle cx="296.1" cy="484.4" r="3.5"/><circle cx="120.6" cy="416.9" r="2.9"/><circle cx="116.9" cy="444.7" r="3.6"/><circle cx="206.8" cy="443.3" r="2.9"/><circle cx="109.7" cy="461.3" r="3"/><circle cx="316.8" cy="506.1" r="3.2"/><circle cx="304" cy="512.9" r="3.3"/><circle cx="223.3" cy="434.3" r="3.5"/><circle cx="68.2" cy="456.7" r="2.9"/><circle cx="108.1" cy="478.7" r="3.2"/><circle cx="148.3" cy="420.1" r="2.8"/><circle cx="254.9" cy="449.5" r="3.1"/><circle cx="143.1" cy="440.6" r="2.9"/><circle cx="94.8" cy="432.5" r="3"/><circle cx="284.6" cy="504.7" r="2.6"/><circle cx="172" cy="470.5" r="3"/><circle cx="308" cy="499.1" r="3.6"/><circle cx="104.5" cy="413.1" r="3.1"/><circle cx="246.5" cy="477.7" r="3.1"/><circle cx="187.3" cy="469.9" r="2.8"/><circle cx="172.6" cy="428.2" r="3.6"/><circle cx="241.4" cy="436.9" r="3.1"/><circle cx="232.3" cy="450.4" r="3.3"/><circle cx="156.2" cy="481.9" r="3.4"/><circle cx="251.7" cy="460.6" r="3.6"/><circle cx="178.7" cy="422.5" r="3"/><circle cx="73.9" cy="447.2" r="3.6"/><circle cx="299.5" cy="506" r="3.6"/><circle cx="229.3" cy="445.4" r="2.9"/><circle cx="44.8" cy="456.8" r="3.5"/><circle cx="273.5" cy="492" r="2.6"/><circle cx="215.1" cy="431.5" r="2.9"/><circle cx="105.3" cy="451.6" r="3.5"/><circle cx="261.8" cy="472.9" r="2.9"/><circle cx="138.6" cy="493.9" r="2.8"/><circle cx="255.9" cy="429.7" r="2.6"/><circle cx="109.5" cy="410.1" r="3.1"/><circle cx="242.9" cy="453.6" r="3"/><circle cx="216.1" cy="480.9" r="3.4"/><circle cx="200.1" cy="444.8" r="2.8"/><circle cx="104.2" cy="429.4" r="3.5"/><circle cx="203.5" cy="439.2" r="3.6"/><circle cx="208.8" cy="474.4" r="3"/><circle cx="128.2" cy="481.4" r="2.9"/><circle cx="195" cy="476.7" r="2.8"/><circle cx="238.6" cy="449.2" r="2.9"/><circle cx="200" cy="442.9" r="3.5"/><circle cx="56.7" cy="474.7" r="3.1"/><circle cx="95.4" cy="448" r="3"/><circle cx="218.1" cy="436.7" r="3.2"/><circle cx="157.7" cy="479.1" r="3"/><circle cx="264" cy="455" r="3.1"/><circle cx="159.2" cy="411" r="3.1"/><circle cx="42.2" cy="476.4" r="3.3"/><circle cx="263.3" cy="461.4" r="3.1"/><circle cx="135.3" cy="490.7" r="3.5"/><circle cx="92.5" cy="431.5" r="2.9"/><circle cx="205.8" cy="479.6" r="2.6"/><circle cx="214.8" cy="451.9" r="3.5"/><circle cx="91.3" cy="474.9" r="2.7"/><circle cx="264.6" cy="448.2" r="2.6"/><circle cx="223.5" cy="467.5" r="3.2"/><circle cx="43.2" cy="463.8" r="2.8"/><circle cx="212.4" cy="460.8" r="3.4"/><circle cx="74.1" cy="339.8" r="3.200"/><circle cx="84.1" cy="340.6" r="3.200"/><circle cx="67.5" cy="363.2" r="3.200"/><circle cx="75.4" cy="360.4" r="3.200"/><circle cx="75.4" cy="360.4" r="3.200"/><circle cx="146.4" cy="372.3" r="3.200"/><circle cx="167.9" cy="394.4" r="3.200"/><circle cx="158.4" cy="386.9" r="3.200"/><circle cx="163.8" cy="392.2" r="3.200"/><circle cx="142.3" cy="392.5" r="3.200"/><circle cx="141.9" cy="396.1" r="3.200"/><circle cx="133.8" cy="393.7" r="3.200"/><circle cx="225.9" cy="394.2" r="3.200"/><circle cx="202.1" cy="409.9" r="3.200"/><circle cx="207" cy="409.8" r="3.200"/><circle cx="106.1" cy="394.9" r="3.200"/><circle cx="106.2" cy="393.3" r="3.200"/><circle cx="313.3" cy="497.8" r="3.200"/><circle cx="310.8" cy="499.2" r="3.200"/><circle cx="372.7" cy="443.9" r="3.200"/><circle cx="487.7" cy="441.3" r="3.200"/><circle cx="527.2" cy="452.1" r="3.200"/><circle cx="528.4" cy="447.6" r="3.200"/><circle cx="526.8" cy="449.7" r="3.200"/><circle cx="524.1" cy="525.9" r="3.200"/><circle cx="517" cy="525.9" r="3.200"/><circle cx="515.3" cy="531.2" r="3.200"/><circle cx="409.1" cy="500.6" r="3.200"/><circle cx="404.3" cy="502.1" r="3.200"/><circle cx="409.2" cy="499.7" r="3.200"/><circle cx="490.2" cy="508.9" r="3.200"/><circle cx="492.7" cy="512.3" r="3.200"/></g><path d="M520.8 506.7L537.8 500.7L559.8 498.7L563.8 516.7L571.8 526.7L577.8 538.7L567.8 544.7L555.8 538.7L540.8 541.7L517.8 538.7L505.8 524.7Z" fill="#343a24"/><g fill="#62fb0e"><circle cx="532.6" cy="513.4" r="3.8"/><circle cx="542.8" cy="538.9" r="3.4"/><circle cx="537.7" cy="535.1" r="3.1"/><circle cx="557.8" cy="523.8" r="3"/><circle cx="541.9" cy="536.2" r="3"/><circle cx="542.1" cy="514.7" r="3.6"/><circle cx="526.3" cy="508.3" r="3.5"/><circle cx="542.4" cy="503.3" r="3.4"/><circle cx="557.3" cy="535.8" r="3.4"/><circle cx="531.7" cy="517.3" r="3.2"/><circle cx="520.5" cy="510.6" r="3.7"/><circle cx="542.6" cy="516.2" r="3.7"/><circle cx="522.5" cy="520.1" r="3.3"/><circle cx="561.6" cy="534.1" r="3.4"/><circle cx="531.1" cy="513.7" r="3"/><circle cx="568.2" cy="529.8" r="3.5"/><circle cx="517.7" cy="519.1" r="3.6"/><circle cx="548.4" cy="504.1" r="3.3"/><circle cx="519.4" cy="512.5" r="3.5"/><circle cx="529.5" cy="523.1" r="3"/><circle cx="529.6" cy="507.1" r="3.8"/><circle cx="559.7" cy="502.9" r="3.8"/><circle cx="560" cy="518.9" r="3"/><circle cx="552.8" cy="503.1" r="3"/><circle cx="534.9" cy="536" r="3.5"/><circle cx="542.5" cy="528.4" r="3.3"/><circle cx="515.6" cy="527" r="3.2"/><circle cx="537.3" cy="525.6" r="3.5"/><circle cx="536.6" cy="509" r="3.5"/><circle cx="571" cy="535.2" r="3.5"/><circle cx="568.9" cy="530.6" r="3.4"/><circle cx="539" cy="513" r="3.4"/><circle cx="512.3" cy="518.1" r="3.6"/><circle cx="558.5" cy="528.2" r="3.1"/></g><g fill="#f4f514"><ellipse cx="253.8" cy="278.7" rx="4" ry="3.5"/><ellipse cx="244.8" cy="275.7" rx="2" ry="2"/><ellipse cx="159.8" cy="317.7" rx="5.5" ry="5"/><ellipse cx="204.8" cy="334.7" rx="4" ry="5"/><ellipse cx="184.8" cy="306.7" rx="2" ry="2"/><ellipse cx="114.8" cy="365.7" rx="2" ry="2"/></g><ellipse cx="509.2" cy="302.2" rx="10" ry="4" fill="#62fb0e" stroke="#f4f4e8" stroke-width=".9"/><ellipse cx="561.7" cy="306.5" rx="10" ry="9" fill="#62fb0e" stroke="#f4f4e8" stroke-width=".9"/><ellipse cx="406.3" cy="518.3" rx="12" ry="5" fill="#62fb0e" stroke="#f4f4e8" stroke-width=".9"/><ellipse cx="477.8" cy="321.7" rx="5" ry="2.5" fill="#62fb0e" stroke="#f4f4e8" stroke-width=".9"/><ellipse cx="494.8" cy="317.7" rx="5" ry="3.5" fill="#62fb0e" stroke="#f4f4e8" stroke-width=".9"/><ellipse cx="594.8" cy="309.7" rx="9" ry="5" fill="#2f4a3e" stroke="#f4f4e8" stroke-width=".9"/><ellipse cx="610.8" cy="303.7" rx="4" ry="3" fill="#2f4a3e" stroke="#f4f4e8" stroke-width=".9"/><ellipse cx="627.8" cy="305.7" rx="5" ry="4" fill="#2f4a3e" stroke="#f4f4e8" stroke-width=".9"/><ellipse cx="300.8" cy="98.2" rx="12.5" ry="10" fill="#62fb0e" stroke="#f4f4e8" stroke-width=".9"/><ellipse cx="574.3" cy="48.7" rx="2.5" ry="3" fill="#2f4a3e" stroke="#f4f4e8" stroke-width=".9"/><ellipse cx="575.3" cy="64.7" rx="5" ry="4.5" fill="#2f4a3e" stroke="#f4f4e8" stroke-width=".9"/><ellipse cx="313" cy="100" rx="5" ry="6" fill="#16303f"/><g fill="none" stroke="#d9ffbe" stroke-width="0.9" stroke-linejoin="round" opacity="0.95"><path d="M26.7 465.8L33.1 455.1L53.5 451.9L63.1 448.7L65.3 433.7L83.5 431.5L87.8 423L91 412.2L85.6 403.7L72.8 397.3L68.5 378L61 355.8L64.2 334.4L74.9 326.9L89.9 336.5L111.3 342.9L109.2 334.4L126.3 321.5L137 304.4L139.2 289.4L131.7 278.7L137 263.7L148.8 250.8L169.2 255.1L190.6 251.9L199.2 259.4L207.8 269L229.2 271.2L250.6 268L274.1 270.1L283.8 264.7L291.3 274.4L297.7 289.4L302 308.7L308.4 319.4L323.4 323.7L329.8 336.5L328.8 357.9L334.6 372.9L335.6 381.5L361.4 390.1L369.9 400.8L389.2 402.9L427.8 398.7L457.8 400.8L474.9 396.5L500.6 394.4L514.5 382.6L524.2 392.2L547.8 398.7L569.1 407.2L580.9 415.8L583.1 420.8L575.6 431.5L575.6 450.8L570.2 461.5L569.1 480.8L563.8 500.1L564.8 517.2L573.4 525.8L579.8 538.7L594.8 545.1L604.5 553.7L601.3 562.2L590.6 565.4L562.7 559L568.1 547.2L556.3 538.7L543.4 540.8L513.5 542.9L500.6 536.5L479.2 530.1L466.3 523.7L449.2 515.1L427.8 508.7L414.9 502.2L402.1 491.5L382.8 488.3L361.4 490.5L348.5 495.8L339.9 505.5L320.7 505.5L306.3 514L287 506.5L267.8 504.4L254.8 497.9L229.2 494.7L201.3 492.6L179.8 488.3L162.8 486.2L155.3 500.1L147.8 501.2L137 494.7L117.8 495.7L107.1 486.2L87.8 485.1L64.2 487.2L40.6 480.7L27.8 476.5Z"/><path d="M307.8 295.8L316.4 289.4L327.1 274.4L359.2 270.1L427.8 271.2L479.2 270.1L496.3 267.5L513.5 271.2L527.4 280.8L522 287.2L507 290.5L498.5 295.8L492 308.7L462 306.5L447 308.7L440.6 321.5L434.2 327.9L423.5 323.7L382.8 322.6L361.4 319.4L333.5 315.1L316.4 313L307.8 304.4Z"/><path d="M136.8 303.7L152.8 310.7L177.8 316.7L199.8 320.7L213.8 316.7L230.8 308.7L235.8 288.7L229.2 271.2"/><path d="M230.8 308.7L224.8 338.7L217.8 356.7"/><path d="M111.3 342.9L142.8 350.7L165.8 360.7L192.8 356.7L217.8 356.7L237.8 348.7L257.8 340.7L282.8 333.7L301.8 320.7"/><path d="M282.8 333.7L289.8 308.7L301.8 308.7"/><path d="M237.8 348.7L239.8 368.7L249.8 383.7L255.8 400.7L263.8 416.7"/><path d="M165.8 360.7L173.8 378.7L169.8 396.7L159.8 406.7"/><path d="M142.8 350.7L133.8 370.7L119.8 386.7L107.8 408.7"/><path d="M72.8 397.3L97.8 386.7L119.8 386.7"/><path d="M249.8 383.7L277.8 376.7L299.8 370.7L328.8 357.7"/><path d="M299.8 370.7L309.8 393.7L329.8 406.7L347.8 418.7L369.8 400.7"/><path d="M263.8 416.7L282.8 423.7L309.8 420.7L329.8 406.7"/><path d="M347.8 418.7L342.8 448.7L345.8 478.7L339.8 504.7"/><path d="M342.8 448.7L367.8 444.7L392.8 438.7L409.8 448.7L417.8 428.7L427.8 398.7"/><path d="M409.8 448.7L403.8 470.7L402.1 491.5"/><path d="M417.8 428.7L447.8 418.7L472.8 420.7L482.8 438.7L497.8 448.7L522.8 438.7L537.8 426.7L547.8 398.7"/><path d="M457.8 400.7L461.8 418.7"/><path d="M482.8 438.7L477.8 460.7L485.8 478.7L477.8 504.7L479.2 530.1"/><path d="M497.8 448.7L509.8 460.7L527.8 454.7L537.8 426.7"/><path d="M359.2 270.1L355.8 293.7L347.8 316.7"/><path d="M403.8 270.7L395.8 296.7L389.8 322.7"/><path d="M452.8 270.7L445.8 288.7L440.6 321.5"/><path d="M91 412.2L99.8 433.7L105.8 453.7L109.8 470.7L107.1 486.2"/><path d="M105.8 453.7L127.8 448.7L142.8 438.7L159.8 406.7"/><path d="M142.8 438.7L153.8 460.7L162.8 486.2"/><path d="M159.8 406.7L173.8 430.7L185.8 448.7L199.8 460.7L203.8 492.6"/><path d="M185.8 448.7L212.8 444.7L237.8 438.7L255.8 448.7L259.8 470.7L254.8 497.9"/><path d="M199.8 416.7L209.8 430.7L212.8 444.7"/></g><path d="M26.7 465.8L33.1 455.1L53.5 451.9L63.1 448.7L65.3 433.7L83.5 431.5L87.8 423L91 412.2L85.6 403.7L72.8 397.3L68.5 378L61 355.8L64.2 334.4L74.9 326.9L89.9 336.5L111.3 342.9L109.2 334.4L126.3 321.5L137 304.4L139.2 289.4L131.7 278.7L137 263.7L148.8 250.8L169.2 255.1L190.6 251.9L199.2 259.4L207.8 269L229.2 271.2L250.6 268L274.1 270.1L283.8 264.7L291.3 274.4L297.7 289.4L302 308.7L308.4 319.4L323.4 323.7L329.8 336.5L328.8 357.9L334.6 372.9L335.6 381.5L361.4 390.1L369.9 400.8L389.2 402.9L427.8 398.7L457.8 400.8L474.9 396.5L500.6 394.4L514.5 382.6L524.2 392.2L547.8 398.7L569.1 407.2L580.9 415.8L583.1 420.8L575.6 431.5L575.6 450.8L570.2 461.5L569.1 480.8L563.8 500.1L564.8 517.2L573.4 525.8L579.8 538.7L594.8 545.1L604.5 553.7L601.3 562.2L590.6 565.4L562.7 559L568.1 547.2L556.3 538.7L543.4 540.8L513.5 542.9L500.6 536.5L479.2 530.1L466.3 523.7L449.2 515.1L427.8 508.7L414.9 502.2L402.1 491.5L382.8 488.3L361.4 490.5L348.5 495.8L339.9 505.5L320.7 505.5L306.3 514L287 506.5L267.8 504.4L254.8 497.9L229.2 494.7L201.3 492.6L179.8 488.3L162.8 486.2L155.3 500.1L147.8 501.2L137 494.7L117.8 495.7L107.1 486.2L87.8 485.1L64.2 487.2L40.6 480.7L27.8 476.5Z" fill="none" stroke="#f4f4e8" stroke-width="1.100"/><path d="M307.8 295.8L316.4 289.4L327.1 274.4L359.2 270.1L427.8 271.2L479.2 270.1L496.3 267.5L513.5 271.2L527.4 280.8L522 287.2L507 290.5L498.5 295.8L492 308.7L462 306.5L447 308.7L440.6 321.5L434.2 327.9L423.5 323.7L382.8 322.6L361.4 319.4L333.5 315.1L316.4 313L307.8 304.4Z" fill="none" stroke="#f4f4e8" stroke-width="1.100"/><g font-size="6.800" fill="#1f7a10" text-anchor="middle" opacity="1"><text x="184.7" y="285.1">TUBAN</text><text x="246.8" y="310.8">LAMONGAN</text><text x="165.3" y="332.7">BOJONEGORO</text><text x="276.3" y="331.8">GRESIK</text><text x="309.8" y="332.7">SURABAYA</text><text x="101.1" y="359">NGAWI</text><text x="303.5" y="359">SIDOARJO</text><text x="260.2" y="367.6">KOTA MOJOKERTO</text><text x="235.6" y="377.2">JOMBANG</text><text x="276.7" y="379.4">MOJOKERTO</text><text x="189.5" y="383.7">NGANJUK</text><text x="122.5" y="387.5">KOTA MADIUN MADIUN</text><text x="94.2" y="395.4">MAGETAN</text><text x="337.2" y="391.1">KOTA PASURUAN</text><text x="325.8" y="406.1">PASURUAN</text><text x="384.3" y="410.4">KOTA PROBOLINGGO</text><text x="403.6" y="422.2">PROBOLINGGO</text><text x="279.5" y="419.7">KOTA BATU</text><text x="229.2" y="418.7">KEDIRI</text><text x="295.6" y="442.2">KOTA MALANG</text><text x="374.6" y="464.7">LUMAJANG</text><text x="452.4" y="480.8">JEMBER</text><text x="492" y="436.3">BONDOWOSO</text><text x="550.6" y="417.7">SITUBONDO</text><text x="530.6" y="501.8">BANYUWANGI</text><text x="297.8" y="482.9">MALANG</text><text x="247.4" y="464.7">BLITAR</text><text x="342.5" y="295.8">BANGKALAN</text><text x="390.3" y="299">SAMPANG</text><text x="432.1" y="300.1">PAMEKASAN</text><text x="478.1" y="288.3">SUMENEP</text><text x="181" y="462.6">TULUNGAGUNG</text><text x="66.4" y="464.7">PACITAN</text><text x="300.8" y="100.2">GRESIK</text></g><g font-size="9.500" fill="#f4e9dc" stroke="#3a3020" stroke-width="1.600" paint-order="stroke" stroke-linejoin="round"><text x="0" y="221" font-size="9.5">para</text><text x="37.4" y="244.4" font-size="11">Pati</text><text x="96.3" y="239" font-size="9.5">Rembang</text><text x="11.8" y="257.2" font-size="9.5">Jati</text><text x="65.3" y="255.5" font-size="9.5">Juwana</text><text x="108" y="278.7" font-size="10">Kota</text><text x="29" y="299" font-size="11.5">Purwodadi</text><text x="14" y="371.8" font-size="12.5">Surakart</text><text x="0" y="397.6" font-size="9.5">en</text><text x="208" y="266.9" font-size="10">Tuban</text><text x="339" y="382.5" font-size="10.5">Pasuruan</text><text x="387" y="399.7" font-size="10.5">Probolinggo</text><text x="524" y="392" font-size="9.5">ubondo</text><text x="570" y="473.3" font-size="11">yuwangi</text><text x="314" y="326" font-size="12">urabaya</text><text x="115.2" y="418.7" font-size="10">Ponor</text><text x="219.5" y="455" font-size="10">Blitar</text><text x="208.8" y="412.2" font-size="10">ota Kedi</text></g><g fill="#fff" stroke="#443" stroke-width=".6"><circle cx="66" cy="244.4" r="1.800"/><circle cx="47" cy="250" r="1.800"/><circle cx="16" cy="263" r="1.800"/><circle cx="95.7" cy="244.4" r="1.800"/><circle cx="108.6" cy="284" r="1.800"/><circle cx="28.9" cy="303.7" r="1.800"/><circle cx="14.5" cy="377.2" r="1.800"/><circle cx="113.5" cy="423.6" r="1.800"/><circle cx="219.5" cy="458.7" r="1.800"/></g><g stroke="none"><g fill="#030a10" font-size="13.500"><text x="11.3" y="636.200">0</text><text x="25.7" y="636.200">15</text><text x="47.8" y="636.200">30</text><text x="90" y="636.200">60</text><text x="132" y="636.200">90</text><text x="170.6" y="636.200">120</text><text x="184" y="650">km</text></g><rect x="14.2" y="641" width="10.2" height="8.300" fill="#000"/><rect x="34.7" y="641" width="10.2" height="8.300" fill="#000"/><rect x="55.1" y="641" width="43" height="8.300" fill="#000"/><rect x="139.1" y="641" width="43" height="8.300" fill="#000"/><rect x="14.200" y="641" width="167.900" height="1" fill="#000"/><rect x="14.200" y="648.300" width="167.900" height="1" fill="#000"/></g><g font-size="8.800" fill="#f0f0f0" stroke="#1a2630" stroke-width="1.200" paint-order="stroke"><text x="320.5" y="630" font-size="8.8" font-weight="400" fill="#f0f0f0" textLength="300" lengthAdjust="spacingAndGlyphs" xml:space="preserve">Source: Esri, Maxar, GeoEye, Earthstar Geographics, CNES/Airbus DS,</text><text x="320.5" y="640.5" font-size="8.8" font-weight="400" fill="#f0f0f0" textLength="311" lengthAdjust="spacingAndGlyphs" xml:space="preserve">USDA, USGS, AeroGRID, IGN, and the GIS User Community, Esri, HERE,</text><text x="320.5" y="651" font-size="8.8" font-weight="400" fill="#f0f0f0" textLength="293" lengthAdjust="spacingAndGlyphs" xml:space="preserve">Garmin, (c) OpenStreetMap contributors, and the GIS user community</text></g></g><text x="104.7" y="1338.8" font-size="11.5" font-weight="400" fill="#111" text-anchor="middle" textLength="48" lengthAdjust="spacingAndGlyphs" xml:space="preserve">111°0'0"E</text><rect x="104.2" y="1343.3" width="1" height="3" fill="#000"/><rect x="104.2" y="2014.3" width="1" height="3" fill="#000"/><text x="260.2" y="1338.8" font-size="11.5" font-weight="400" fill="#111" text-anchor="middle" textLength="48" lengthAdjust="spacingAndGlyphs" xml:space="preserve">112°0'0"E</text><rect x="259.7" y="1343.3" width="1" height="3" fill="#000"/><rect x="259.7" y="2014.3" width="1" height="3" fill="#000"/><text x="415.7" y="1338.8" font-size="11.5" font-weight="400" fill="#111" text-anchor="middle" textLength="48" lengthAdjust="spacingAndGlyphs" xml:space="preserve">113°0'0"E</text><rect x="415.2" y="1343.3" width="1" height="3" fill="#000"/><rect x="415.2" y="2014.3" width="1" height="3" fill="#000"/><text x="571.2" y="1338.8" font-size="11.5" font-weight="400" fill="#111" text-anchor="middle" textLength="48" lengthAdjust="spacingAndGlyphs" xml:space="preserve">114°0'0"E</text><rect x="570.7" y="1343.3" width="1" height="3" fill="#000"/><rect x="570.7" y="2014.3" width="1" height="3" fill="#000"/><g transform="translate(50.2 1484.5) rotate(-90)"><text x="0" y="0" font-size="11.5" font-weight="400" fill="#111" text-anchor="middle" textLength="40" lengthAdjust="spacingAndGlyphs" xml:space="preserve">6°0'0"S</text></g><g transform="translate(725.2 1484.5) rotate(-90)"><text x="0" y="0" font-size="11.5" font-weight="400" fill="#111" text-anchor="middle" textLength="40" lengthAdjust="spacingAndGlyphs" xml:space="preserve">6°0'0"S</text></g><g transform="translate(50.2 1640.3) rotate(-90)"><text x="0" y="0" font-size="11.5" font-weight="400" fill="#111" text-anchor="middle" textLength="40" lengthAdjust="spacingAndGlyphs" xml:space="preserve">7°0'0"S</text></g><g transform="translate(725.2 1640.3) rotate(-90)"><text x="0" y="0" font-size="11.5" font-weight="400" fill="#111" text-anchor="middle" textLength="40" lengthAdjust="spacingAndGlyphs" xml:space="preserve">7°0'0"S</text></g><g transform="translate(50.2 1796) rotate(-90)"><text x="0" y="0" font-size="11.5" font-weight="400" fill="#111" text-anchor="middle" textLength="40" lengthAdjust="spacingAndGlyphs" xml:space="preserve">8°0'0"S</text></g><g transform="translate(725.2 1796) rotate(-90)"><text x="0" y="0" font-size="11.5" font-weight="400" fill="#111" text-anchor="middle" textLength="40" lengthAdjust="spacingAndGlyphs" xml:space="preserve">8°0'0"S</text></g><g transform="translate(50.2 1952.8) rotate(-90)"><text x="0" y="0" font-size="11.5" font-weight="400" fill="#111" text-anchor="middle" textLength="40" lengthAdjust="spacingAndGlyphs" xml:space="preserve">9°0'0"S</text></g><g transform="translate(725.2 1952.8) rotate(-90)"><text x="0" y="0" font-size="11.5" font-weight="400" fill="#111" text-anchor="middle" textLength="40" lengthAdjust="spacingAndGlyphs" xml:space="preserve">9°0'0"S</text></g><text x="46.8" y="2068.3" font-size="15" font-weight="400" fill="#111" textLength="78" lengthAdjust="spacingAndGlyphs" xml:space="preserve">Keterangan</text><text x="46.8" y="2088.7" font-size="15" font-weight="400" fill="#111" textLength="122" lengthAdjust="spacingAndGlyphs" xml:space="preserve">Jumlah Sambaran</text><rect x="47.5" y="2101.5" width="60.5" height="29.5" fill="#fff" stroke="#111" stroke-width="1.600"/><rect x="47.5" y="2140.5" width="60.5" height="29.5" fill="#62fb0e" stroke="#111" stroke-width="1.600"/><rect x="174.3" y="2100" width="60.5" height="30.5" fill="#ffee00" stroke="#111" stroke-width="1.600"/><rect x="174.3" y="2138.8" width="60.5" height="31" fill="#e60000" stroke="#111" stroke-width="1.600"/><text x="109.6" y="2118.2" font-size="14.5" font-weight="700" fill="#111" textLength="55.5" lengthAdjust="spacingAndGlyphs" xml:space="preserve">No Data</text><text x="117" y="2161" font-size="14.5" font-weight="700" fill="#111" textLength="29.5" lengthAdjust="spacingAndGlyphs" xml:space="preserve">1 - 6</text><text x="244.6" y="2119" font-size="14.5" font-weight="700" fill="#111" textLength="38" lengthAdjust="spacingAndGlyphs" xml:space="preserve">6 - 12</text><text x="251.4" y="2161" font-size="14.5" font-weight="700" fill="#111" textLength="30.5" lengthAdjust="spacingAndGlyphs" xml:space="preserve">&gt; 12</text><g transform="translate(416.7 2068)"><path d="M0 0L0 -3.8L9.6 -9.6Z" fill="#000"/><path d="M0 0L3.8 -0L9.6 -9.6Z" fill="#fff" stroke="#000" stroke-width=".5"/><path d="M0 0L3.8 -0L9.6 9.6Z" fill="#000"/><path d="M0 0L0 3.8L9.6 9.6Z" fill="#fff" stroke="#000" stroke-width=".5"/><path d="M0 0L0 3.8L-9.6 9.6Z" fill="#000"/><path d="M0 0L-3.8 0L-9.6 9.6Z" fill="#fff" stroke="#000" stroke-width=".5"/><path d="M0 0L-3.8 0L-9.6 -9.6Z" fill="#000"/><path d="M0 0L-0 -3.8L-9.6 -9.6Z" fill="#fff" stroke="#000" stroke-width=".5"/><path d="M0 0L-3.2 -3.2L0 -23.5Z" fill="#000"/><path d="M0 0L3.2 -3.2L0 -23.5Z" fill="#fff" stroke="#000" stroke-width=".5"/><path d="M0 0L3.2 -3.2L23.5 -0Z" fill="#000"/><path d="M0 0L3.2 3.2L23.5 -0Z" fill="#fff" stroke="#000" stroke-width=".5"/><path d="M0 0L3.2 3.2L0 23.5Z" fill="#000"/><path d="M0 0L-3.2 3.2L0 23.5Z" fill="#fff" stroke="#000" stroke-width=".5"/><path d="M0 0L-3.2 3.2L-23.5 0Z" fill="#000"/><path d="M0 0L-3.2 -3.2L-23.5 0Z" fill="#fff" stroke="#000" stroke-width=".5"/><g font-size="5" fill="#333" text-anchor="middle" font-family="Liberation Serif"><text x="0" y="-25">N</text><text x="0" y="29">S</text><text x="-27.5" y="2">W</text><text x="27.5" y="2">E</text></g></g><text x="400.5" y="2122" font-size="12.3" font-weight="400" fill="#222" text-anchor="middle" textLength="75" lengthAdjust="spacingAndGlyphs" xml:space="preserve">Sumber Data :</text><text x="402.5" y="2135.5" font-size="12.3" font-weight="400" fill="#222" text-anchor="middle" textLength="221.5" lengthAdjust="spacingAndGlyphs" xml:space="preserve">Ligthning Detector Network (LDN) - BMKG</text><text x="402.5" y="2149" font-size="12.3" font-weight="400" fill="#222" text-anchor="middle" textLength="158" lengthAdjust="spacingAndGlyphs" xml:space="preserve">Batas Administrasi 2021  : BIG</text><text x="402.5" y="2162.5" font-size="12.3" font-weight="400" fill="#222" text-anchor="middle" textLength="178" lengthAdjust="spacingAndGlyphs" xml:space="preserve">Peta Dasar ESRI, GEBCO, NOAA</text><g><clipPath id="ic2040"><rect x="524.4" y="2040.5" width="192.4" height="132.8"/></clipPath><g clip-path="url(#ic2040)"><rect x="524.4" y="2040.5" width="192.4" height="132.8" fill="#a3c4e8"/><g filter="url(#bl3)"><path d="M524.4 2111.9L550.9 2119.9L583.9 2127.8L617 2133.1L650 2138.4L669.9 2146.3L696.3 2145L716.8 2150.3L716.8 2186L524.4 2186Z" fill="#7a9fd6"/><path d="M716.8 2060.3L710.9 2074.9L708.2 2093.4L691 2098.7L671.2 2105.3L664.6 2115.9L671.2 2121.2L684.4 2118.5L695 2126.5L701.6 2141L716.8 2150.3Z" fill="#86a9da"/><ellipse cx="597.9" cy="2157.6" rx="10.1" ry="3" fill="#6d95d2" opacity=".75" transform="rotate(2 597.9 2157.6)"/><ellipse cx="591.6" cy="2172.2" rx="5.4" ry="3.6" fill="#6189c8" opacity=".75" transform="rotate(-1 591.6 2172.2)"/><ellipse cx="542.4" cy="2175.5" rx="14" ry="2.6" fill="#a8c6ee" opacity=".75" transform="rotate(-10 542.4 2175.5)"/><ellipse cx="557" cy="2179.4" rx="5" ry="3.4" fill="#93b6e6" opacity=".75" transform="rotate(-1 557 2179.4)"/><ellipse cx="555.7" cy="2128" rx="12.1" ry="1.8" fill="#6189c8" opacity=".75" transform="rotate(-15 555.7 2128)"/><ellipse cx="642.6" cy="2159.3" rx="5.8" ry="2.8" fill="#93b6e6" opacity=".75" transform="rotate(-11 642.6 2159.3)"/><ellipse cx="565.4" cy="2144.4" rx="7.3" ry="4.3" fill="#a8c6ee" opacity=".75" transform="rotate(-5 565.4 2144.4)"/><ellipse cx="712.4" cy="2154.8" rx="9.3" ry="4.3" fill="#6d95d2" opacity=".75" transform="rotate(-24 712.4 2154.8)"/><ellipse cx="538.2" cy="2163.8" rx="13.6" ry="3.1" fill="#a8c6ee" opacity=".75" transform="rotate(-27 538.2 2163.8)"/><ellipse cx="664.5" cy="2173.4" rx="14" ry="3.8" fill="#6d95d2" opacity=".75" transform="rotate(-22 664.5 2173.4)"/><ellipse cx="678" cy="2170" rx="5.2" ry="2.4" fill="#6189c8" opacity=".75" transform="rotate(-11 678 2170)"/><ellipse cx="561.6" cy="2147.5" rx="11.6" ry="3" fill="#a8c6ee" opacity=".75" transform="rotate(-1 561.6 2147.5)"/><ellipse cx="619.4" cy="2182.5" rx="9.1" ry="4.1" fill="#6189c8" opacity=".75" transform="rotate(-8 619.4 2182.5)"/><ellipse cx="534" cy="2176.4" rx="6.9" ry="1.8" fill="#6189c8" opacity=".75" transform="rotate(-22 534 2176.4)"/><ellipse cx="649.2" cy="2133.8" rx="10.9" ry="2.5" fill="#a8c6ee" opacity=".75" transform="rotate(7 649.2 2133.8)"/><ellipse cx="684.6" cy="2177.3" rx="9.7" ry="2.2" fill="#6d95d2" opacity=".75" transform="rotate(-8 684.6 2177.3)"/><ellipse cx="654.6" cy="2152.4" rx="10.4" ry="1.7" fill="#6189c8" opacity=".75" transform="rotate(-26 654.6 2152.4)"/><ellipse cx="611" cy="2132.8" rx="7.5" ry="3.1" fill="#6d95d2" opacity=".75" transform="rotate(-27 611 2132.8)"/><ellipse cx="673.8" cy="2182.5" rx="12.9" ry="2.2" fill="#a8c6ee" opacity=".75" transform="rotate(-10 673.8 2182.5)"/><ellipse cx="614.1" cy="2174.9" rx="13" ry="3.2" fill="#6189c8" opacity=".75" transform="rotate(-22 614.1 2174.9)"/><ellipse cx="610.2" cy="2131.7" rx="12.6" ry="2.8" fill="#93b6e6" opacity=".75" transform="rotate(-25 610.2 2131.7)"/><ellipse cx="679.2" cy="2134.8" rx="10" ry="3.5" fill="#6189c8" opacity=".75" transform="rotate(-5 679.2 2134.8)"/><ellipse cx="565.1" cy="2142.8" rx="8.9" ry="3" fill="#a8c6ee" opacity=".75" transform="rotate(10 565.1 2142.8)"/><ellipse cx="710.9" cy="2160.3" rx="11.8" ry="2.1" fill="#93b6e6" opacity=".75" transform="rotate(-15 710.9 2160.3)"/><ellipse cx="575.7" cy="2136.4" rx="12.1" ry="1.9" fill="#6d95d2" opacity=".75" transform="rotate(-27 575.7 2136.4)"/><ellipse cx="655.6" cy="2130.8" rx="10.2" ry="2.9" fill="#93b6e6" opacity=".75" transform="rotate(-7 655.6 2130.8)"/><ellipse cx="551.9" cy="2134.2" rx="10.7" ry="4.3" fill="#6189c8" opacity=".75" transform="rotate(9 551.9 2134.2)"/><ellipse cx="595.8" cy="2156.1" rx="8.5" ry="4.3" fill="#6d95d2" opacity=".75" transform="rotate(8 595.8 2156.1)"/><ellipse cx="633.4" cy="2155.3" rx="12.9" ry="3.6" fill="#6d95d2" opacity=".75" transform="rotate(-6 633.4 2155.3)"/><ellipse cx="649.4" cy="2135.2" rx="6" ry="4" fill="#6d95d2" opacity=".75" transform="rotate(-5 649.4 2135.2)"/><ellipse cx="653.7" cy="2143" rx="8.3" ry="3.4" fill="#a8c6ee" opacity=".75" transform="rotate(0 653.7 2143)"/><ellipse cx="591.5" cy="2172.8" rx="10.7" ry="3.2" fill="#6d95d2" opacity=".75" transform="rotate(-11 591.5 2172.8)"/><ellipse cx="561.3" cy="2143.2" rx="5.8" ry="4.4" fill="#6189c8" opacity=".75" transform="rotate(7 561.3 2143.2)"/><ellipse cx="532.5" cy="2165.8" rx="8.7" ry="2.3" fill="#6d95d2" opacity=".75" transform="rotate(9 532.5 2165.8)"/></g><path d="M524.4 2086.8L537.6 2086.1L554.8 2088.8L565.4 2086.8L570 2078.9L578.6 2076.9L582.6 2081.5L593.2 2082.8L602.4 2086.1L619.6 2089.4L622.3 2096L624.9 2102.7L627.6 2108L634.2 2108L643.4 2109.3L654 2108L658 2109.3L663.3 2114.6L664.6 2118.5L673.9 2119.9L683.1 2118.5L692.4 2122.5L693.7 2127.8L687.1 2131.8L676.5 2133.1L664.6 2131.8L654 2127.8L640.8 2125.1L624.9 2122.5L603.8 2121.2L583.9 2118.5L564.1 2114.6L544.2 2110.6L524.4 2108.6Z" fill="#f4f1e2" stroke="#e6eef2" stroke-width="1.500"/><path d="M620.9 2091.4L624.9 2088.8L643.4 2088.1L655.3 2089.4L651.4 2092.7L639.5 2094.7L624.9 2096Z" fill="#f4f1e2"/><ellipse cx="709.6" cy="2130.4" rx="8" ry="6.500" fill="#f4f1e2"/><ellipse cx="687.7" cy="2089.7" rx="4.500" ry="1.800" fill="#f4f1e2"/><circle cx="619" cy="2061" r="1.300" fill="#f4f1e2"/><circle cx="564.1" cy="2061.7" r=".9" fill="#f4f1e2"/><circle cx="583.9" cy="2106.6" r="1.600" fill="#dfe3c4"/><circle cx="598.5" cy="2109.3" r="1.600" fill="#dfe3c4"/><circle cx="617" cy="2110.6" r="1.600" fill="#dfe3c4"/><circle cx="643.4" cy="2117.2" r="1.600" fill="#dfe3c4"/><circle cx="656.7" cy="2119.9" r="1.600" fill="#dfe3c4"/><circle cx="669.9" cy="2125.1" r="1.600" fill="#dfe3c4"/><circle cx="535" cy="2097.4" r="1.600" fill="#dfe3c4"/><circle cx="566.7" cy="2102.7" r="1.600" fill="#dfe3c4"/></g><rect x="524.4" y="2040.5" width="192.4" height="132.8" fill="none" stroke="#1a1a2a" stroke-width="1"/><rect x="576.4" y="2049" width="103.5" height="100.4" fill="none" stroke="#b8405e" stroke-width="1.200"/><g stroke="#3f5a86" stroke-width="1.300" paint-order="stroke"><text x="584.6" y="2146.3" font-size="8" font-weight="400" fill="#fff" textLength="100" lengthAdjust="spacingAndGlyphs" xml:space="preserve">Esri, HERE, Garmin, (c)</text><text x="584.6" y="2156.9" font-size="8" font-weight="400" fill="#fff" textLength="120" lengthAdjust="spacingAndGlyphs" xml:space="preserve">OpenStreetMap contributors,</text><text x="584.6" y="2166.7" font-size="8" font-weight="400" fill="#fff" textLength="119" lengthAdjust="spacingAndGlyphs" xml:space="preserve">and the GIS user community</text></g></g><path d="M1537.7 241.2Q1554.7 241.2 1554.7 258.2L1554.7 307.5Q1554.7 324.5 1537.7 324.5L1303.3 324.5Q1286.3 324.5 1286.3 341.5L1286.3 356Q1286.3 373 1269.3 373L1076 373Q1059 373 1059 356L1059 341.5Q1059 324.5 1042 324.5L808.8 324.5Q791.8 324.5 791.8 307.5L791.8 258.2Q791.8 241.2 808.8 241.2Z" fill="#cdff0a"/><text x="811" y="298.6" font-size="43.5" font-weight="700" fill="#17365d" textLength="724" lengthAdjust="spacingAndGlyphs" stroke="#17365d" stroke-width="1" stroke-linejoin="round" stroke-linecap="round" paint-order="stroke" xml:space="preserve">SAMBARAN TERTINGGI  CLOUD TO</text><text x="1077.3" y="346.8" font-size="43.5" font-weight="700" fill="#17365d" textLength="191" lengthAdjust="spacingAndGlyphs" stroke="#17365d" stroke-width="1" stroke-linejoin="round" stroke-linecap="round" paint-order="stroke" xml:space="preserve">GROUND</text><path d="M860 627.4V370.4Q860 362.4 868 362.4H976Q984 362.4 984 370.4V627.4Z" fill="#1b2068"/><path d="M998.2 627.4V413.2Q998.2 405.2 1006.2 405.2H1114.2Q1122.2 405.2 1122.2 413.2V627.4Z" fill="#1b2068"/><path d="M1136.4 627.4V486.4Q1136.4 478.4 1144.4 478.4H1252.4Q1260.4 478.4 1260.4 486.4V627.4Z" fill="#1b2068"/><path d="M1274.6 627.4V560.7Q1274.6 552.7 1282.6 552.7H1390.6Q1398.6 552.7 1398.6 560.7V627.4Z" fill="#1b2068"/><path d="M1412.8 627.4V563Q1412.8 555 1420.8 555H1528.8Q1536.8 555 1536.8 563V627.4Z" fill="#1b2068"/><text x="839.4" y="637.7" font-size="28.8" font-weight="700" fill="#000" text-anchor="end" textLength="13.2" lengthAdjust="spacingAndGlyphs" stroke="#000" stroke-width="1.9" stroke-linejoin="round" stroke-linecap="round" paint-order="stroke" xml:space="preserve">0</text><text x="839.4" y="597.8" font-size="28.8" font-weight="700" fill="#000" text-anchor="end" textLength="39.8" lengthAdjust="spacingAndGlyphs" stroke="#000" stroke-width="1.9" stroke-linejoin="round" stroke-linecap="round" paint-order="stroke" xml:space="preserve">500</text><text x="839.4" y="557.9" font-size="28.8" font-weight="700" fill="#000" text-anchor="end" textLength="49.3" lengthAdjust="spacingAndGlyphs" stroke="#000" stroke-width="1.9" stroke-linejoin="round" stroke-linecap="round" paint-order="stroke" xml:space="preserve">1000</text><text x="839.4" y="517.9" font-size="28.8" font-weight="700" fill="#000" text-anchor="end" textLength="49.3" lengthAdjust="spacingAndGlyphs" stroke="#000" stroke-width="1.9" stroke-linejoin="round" stroke-linecap="round" paint-order="stroke" xml:space="preserve">1500</text><text x="839.4" y="478" font-size="28.8" font-weight="700" fill="#000" text-anchor="end" textLength="53" lengthAdjust="spacingAndGlyphs" stroke="#000" stroke-width="1.9" stroke-linejoin="round" stroke-linecap="round" paint-order="stroke" xml:space="preserve">2000</text><text x="839.4" y="438.1" font-size="28.8" font-weight="700" fill="#000" text-anchor="end" textLength="53" lengthAdjust="spacingAndGlyphs" stroke="#000" stroke-width="1.9" stroke-linejoin="round" stroke-linecap="round" paint-order="stroke" xml:space="preserve">2500</text><text x="839.4" y="398.2" font-size="28.8" font-weight="700" fill="#000" text-anchor="end" textLength="53" lengthAdjust="spacingAndGlyphs" stroke="#000" stroke-width="1.9" stroke-linejoin="round" stroke-linecap="round" paint-order="stroke" xml:space="preserve">3000</text><text x="839.4" y="358.3" font-size="28.8" font-weight="700" fill="#000" text-anchor="end" textLength="53" lengthAdjust="spacingAndGlyphs" stroke="#000" stroke-width="1.9" stroke-linejoin="round" stroke-linecap="round" paint-order="stroke" xml:space="preserve">3500</text><text x="922" y="394.5" font-size="28.8" font-weight="700" fill="#fff" text-anchor="middle" textLength="47.7" lengthAdjust="spacingAndGlyphs" stroke="#fff" stroke-width="1.9" stroke-linejoin="round" stroke-linecap="round" paint-order="stroke" xml:space="preserve">3319</text><text x="1060.2" y="437.3" font-size="28.8" font-weight="700" fill="#fff" text-anchor="middle" textLength="47.7" lengthAdjust="spacingAndGlyphs" stroke="#fff" stroke-width="1.9" stroke-linejoin="round" stroke-linecap="round" paint-order="stroke" xml:space="preserve">2783</text><text x="1198.4" y="510.5" font-size="28.8" font-weight="700" fill="#fff" text-anchor="middle" textLength="47.7" lengthAdjust="spacingAndGlyphs" stroke="#fff" stroke-width="1.9" stroke-linejoin="round" stroke-linecap="round" paint-order="stroke" xml:space="preserve">1866</text><text x="1336.6" y="584.7" font-size="28.8" font-weight="700" fill="#fff" text-anchor="middle" textLength="35.8" lengthAdjust="spacingAndGlyphs" stroke="#fff" stroke-width="1.9" stroke-linejoin="round" stroke-linecap="round" paint-order="stroke" xml:space="preserve">936</text><text x="1474.8" y="587" font-size="28.8" font-weight="700" fill="#fff" text-anchor="middle" textLength="35.8" lengthAdjust="spacingAndGlyphs" stroke="#fff" stroke-width="1.9" stroke-linejoin="round" stroke-linecap="round" paint-order="stroke" xml:space="preserve">907</text><text x="922" y="665.3" font-size="28.8" font-weight="700" fill="#000" text-anchor="middle" textLength="124" lengthAdjust="spacingAndGlyphs" stroke="#000" stroke-width="1.9" stroke-linejoin="round" stroke-linecap="round" paint-order="stroke" xml:space="preserve">Bojonegoro</text><text x="1060.2" y="665.3" font-size="28.8" font-weight="700" fill="#000" text-anchor="middle" textLength="108.4" lengthAdjust="spacingAndGlyphs" stroke="#000" stroke-width="1.9" stroke-linejoin="round" stroke-linecap="round" paint-order="stroke" xml:space="preserve">Lamongan</text><text x="1198.4" y="665.3" font-size="28.8" font-weight="700" fill="#000" text-anchor="middle" textLength="64.3" lengthAdjust="spacingAndGlyphs" stroke="#000" stroke-width="1.9" stroke-linejoin="round" stroke-linecap="round" paint-order="stroke" xml:space="preserve">Tuban</text><text x="1336.6" y="665.3" font-size="28.8" font-weight="700" fill="#000" text-anchor="middle" textLength="97.7" lengthAdjust="spacingAndGlyphs" stroke="#000" stroke-width="1.9" stroke-linejoin="round" stroke-linecap="round" paint-order="stroke" xml:space="preserve">Pasuruan</text><text x="1474.8" y="665.3" font-size="28.8" font-weight="700" fill="#000" text-anchor="middle" textLength="63.1" lengthAdjust="spacingAndGlyphs" stroke="#000" stroke-width="1.9" stroke-linejoin="round" stroke-linecap="round" paint-order="stroke" xml:space="preserve">Ngawi</text><path d="M1499.8 682.7Q1516.8 682.7 1516.8 699.7L1516.8 746Q1516.8 763 1499.8 763L1408.4 763Q1391.4 763 1391.4 780L1391.4 792Q1391.4 809 1374.4 809L970 809Q953 809 953 792L953 780Q953 763 936 763L844.3 763Q827.3 763 827.3 746L827.3 699.7Q827.3 682.7 844.3 682.7Z" fill="#cdff0a"/><text x="845.3" y="738.8" font-size="42.5" font-weight="700" fill="#17365d" textLength="652.5" lengthAdjust="spacingAndGlyphs" stroke="#17365d" stroke-width="1" stroke-linejoin="round" stroke-linecap="round" paint-order="stroke" xml:space="preserve">SAMBARAN TERTINGGI PER JAM</text><text x="971.5" y="784.3" font-size="42.5" font-weight="700" fill="#17365d" textLength="400.5" lengthAdjust="spacingAndGlyphs" stroke="#17365d" stroke-width="1" stroke-linejoin="round" stroke-linecap="round" paint-order="stroke" xml:space="preserve">CLOUD TO GROUND</text><path d="M839.2 1139.6V964.5Q839.2 956.5 847.2 956.5H960.9Q968.9 956.5 968.9 964.5V1139.6Z" fill="#1b2068"/><path d="M983.7 1139.6V915.7Q983.7 907.7 991.7 907.7H1105.4Q1113.4 907.7 1113.4 915.7V1139.6Z" fill="#1b2068"/><path d="M1128.2 1139.6V961.3Q1128.2 953.3 1136.2 953.3H1249.9Q1257.9 953.3 1257.9 961.3V1139.6Z" fill="#1b2068"/><path d="M1272.7 1139.6V986.8Q1272.7 978.8 1280.7 978.8H1394.4Q1402.4 978.8 1402.4 986.8V1139.6Z" fill="#1b2068"/><path d="M1417.2 1139.6V854.2Q1417.2 846.2 1425.2 846.2H1538.9Q1546.9 846.2 1546.9 854.2V1139.6Z" fill="#1b2068"/><text x="818.6" y="1150.5" font-size="30.6" font-weight="700" fill="#000" text-anchor="end" textLength="14" lengthAdjust="spacingAndGlyphs" stroke="#000" stroke-width="1.9" stroke-linejoin="round" stroke-linecap="round" paint-order="stroke" xml:space="preserve">0</text><text x="818.6" y="1107.4" font-size="30.6" font-weight="700" fill="#000" text-anchor="end" textLength="42" lengthAdjust="spacingAndGlyphs" stroke="#000" stroke-width="1.9" stroke-linejoin="round" stroke-linecap="round" paint-order="stroke" xml:space="preserve">500</text><text x="818.6" y="1064.2" font-size="30.6" font-weight="700" fill="#000" text-anchor="end" textLength="52.1" lengthAdjust="spacingAndGlyphs" stroke="#000" stroke-width="1.9" stroke-linejoin="round" stroke-linecap="round" paint-order="stroke" xml:space="preserve">1000</text><text x="818.6" y="1021" font-size="30.6" font-weight="700" fill="#000" text-anchor="end" textLength="52.1" lengthAdjust="spacingAndGlyphs" stroke="#000" stroke-width="1.9" stroke-linejoin="round" stroke-linecap="round" paint-order="stroke" xml:space="preserve">1500</text><text x="818.6" y="977.8" font-size="30.6" font-weight="700" fill="#000" text-anchor="end" textLength="56" lengthAdjust="spacingAndGlyphs" stroke="#000" stroke-width="1.9" stroke-linejoin="round" stroke-linecap="round" paint-order="stroke" xml:space="preserve">2000</text><text x="818.6" y="934.6" font-size="30.6" font-weight="700" fill="#000" text-anchor="end" textLength="56" lengthAdjust="spacingAndGlyphs" stroke="#000" stroke-width="1.9" stroke-linejoin="round" stroke-linecap="round" paint-order="stroke" xml:space="preserve">2500</text><text x="818.6" y="891.4" font-size="30.6" font-weight="700" fill="#000" text-anchor="end" textLength="56" lengthAdjust="spacingAndGlyphs" stroke="#000" stroke-width="1.9" stroke-linejoin="round" stroke-linecap="round" paint-order="stroke" xml:space="preserve">3000</text><text x="818.6" y="848.3" font-size="30.6" font-weight="700" fill="#000" text-anchor="end" textLength="56" lengthAdjust="spacingAndGlyphs" stroke="#000" stroke-width="1.9" stroke-linejoin="round" stroke-linecap="round" paint-order="stroke" xml:space="preserve">3500</text><text x="904.1" y="990.3" font-size="30.6" font-weight="700" fill="#fff" text-anchor="middle" textLength="50.7" lengthAdjust="spacingAndGlyphs" stroke="#fff" stroke-width="1.9" stroke-linejoin="round" stroke-linecap="round" paint-order="stroke" xml:space="preserve">2120</text><text x="1048.5" y="941.5" font-size="30.6" font-weight="700" fill="#fff" text-anchor="middle" textLength="50.7" lengthAdjust="spacingAndGlyphs" stroke="#fff" stroke-width="1.9" stroke-linejoin="round" stroke-linecap="round" paint-order="stroke" xml:space="preserve">2685</text><text x="1193" y="987.1" font-size="30.6" font-weight="700" fill="#fff" text-anchor="middle" textLength="50.7" lengthAdjust="spacingAndGlyphs" stroke="#fff" stroke-width="1.9" stroke-linejoin="round" stroke-linecap="round" paint-order="stroke" xml:space="preserve">2157</text><text x="1337.5" y="1012.6" font-size="30.6" font-weight="700" fill="#fff" text-anchor="middle" textLength="50.7" lengthAdjust="spacingAndGlyphs" stroke="#fff" stroke-width="1.9" stroke-linejoin="round" stroke-linecap="round" paint-order="stroke" xml:space="preserve">1862</text><text x="1482" y="880.1" font-size="30.6" font-weight="700" fill="#fff" text-anchor="middle" textLength="50.7" lengthAdjust="spacingAndGlyphs" stroke="#fff" stroke-width="1.9" stroke-linejoin="round" stroke-linecap="round" paint-order="stroke" xml:space="preserve">3397</text><text x="904.1" y="1178.3" font-size="29.5" font-weight="700" fill="#000" text-anchor="middle" textLength="58" lengthAdjust="spacingAndGlyphs" stroke="#000" stroke-width="1.9" stroke-linejoin="round" stroke-linecap="round" paint-order="stroke" xml:space="preserve">13:00</text><text x="1048.5" y="1178.3" font-size="29.5" font-weight="700" fill="#000" text-anchor="middle" textLength="58" lengthAdjust="spacingAndGlyphs" stroke="#000" stroke-width="1.9" stroke-linejoin="round" stroke-linecap="round" paint-order="stroke" xml:space="preserve">14:00</text><text x="1193" y="1178.3" font-size="29.5" font-weight="700" fill="#000" text-anchor="middle" textLength="58" lengthAdjust="spacingAndGlyphs" stroke="#000" stroke-width="1.9" stroke-linejoin="round" stroke-linecap="round" paint-order="stroke" xml:space="preserve">15:00</text><text x="1337.5" y="1178.3" font-size="29.5" font-weight="700" fill="#000" text-anchor="middle" textLength="58" lengthAdjust="spacingAndGlyphs" stroke="#000" stroke-width="1.9" stroke-linejoin="round" stroke-linecap="round" paint-order="stroke" xml:space="preserve">16:00</text><text x="1482" y="1178.3" font-size="29.5" font-weight="700" fill="#000" text-anchor="middle" textLength="58" lengthAdjust="spacingAndGlyphs" stroke="#000" stroke-width="1.9" stroke-linejoin="round" stroke-linecap="round" paint-order="stroke" xml:space="preserve">17:00</text><path d="M1545.5 1205.3Q1564.5 1205.3 1564.5 1224.3L1564.5 1256.2Q1564.5 1275.2 1545.5 1275.2L822 1275.2Q803 1275.2 803 1256.2L803 1224.3Q803 1205.3 822 1205.3Z" fill="#cdff0a"/><text x="819.4" y="1253.5" font-size="37" font-weight="700" fill="#17365d" textLength="727.5" lengthAdjust="spacingAndGlyphs" stroke="#17365d" stroke-width="1" stroke-linejoin="round" stroke-linecap="round" paint-order="stroke" xml:space="preserve">SAMBARAN TERTINGGI DALAM SEPEKAN</text><path d="M837.9 1572.5V1289.8Q837.9 1281.8 845.9 1281.8H919.9Q927.9 1281.8 927.9 1289.8V1572.5Z" fill="#1b2068"/><path d="M942 1572.5V1359.3Q942 1351.3 950 1351.3H1024Q1032 1351.3 1032 1359.3V1572.5Z" fill="#1b2068"/><path d="M1046.2 1572.5V1309.7Q1046.2 1301.7 1054.2 1301.7H1128.2Q1136.2 1301.7 1136.2 1309.7V1572.5Z" fill="#1b2068"/><path d="M1150.3 1572.5V1494.8Q1150.3 1486.8 1158.3 1486.8H1232.3Q1240.3 1486.8 1240.3 1494.8V1572.5Z" fill="#1b2068"/><path d="M1254.5 1572.5V1544.6Q1254.5 1536.6 1262.5 1536.6H1336.5Q1344.5 1536.6 1344.5 1544.6V1572.5Z" fill="#1b2068"/><path d="M1358.7 1572.5V1546.3Q1358.7 1538.3 1366.7 1538.3H1440.7Q1448.7 1538.3 1448.7 1546.3V1572.5Z" fill="#1b2068"/><path d="M1462.8 1572.5V1508.9Q1462.8 1500.9 1470.8 1500.9H1544.8Q1552.8 1500.9 1552.8 1508.9V1572.5Z" fill="#1b2068"/><text x="816.2" y="1582.8" font-size="28.8" font-weight="700" fill="#000" text-anchor="end" textLength="13.8" lengthAdjust="spacingAndGlyphs" stroke="#000" stroke-width="1.9" stroke-linejoin="round" stroke-linecap="round" paint-order="stroke" xml:space="preserve">0</text><text x="816.2" y="1523.2" font-size="28.8" font-weight="700" fill="#000" text-anchor="end" textLength="51.2" lengthAdjust="spacingAndGlyphs" stroke="#000" stroke-width="1.9" stroke-linejoin="round" stroke-linecap="round" paint-order="stroke" xml:space="preserve">1000</text><text x="816.2" y="1463.6" font-size="28.8" font-weight="700" fill="#000" text-anchor="end" textLength="55" lengthAdjust="spacingAndGlyphs" stroke="#000" stroke-width="1.9" stroke-linejoin="round" stroke-linecap="round" paint-order="stroke" xml:space="preserve">2000</text><text x="816.2" y="1404" font-size="28.8" font-weight="700" fill="#000" text-anchor="end" textLength="55" lengthAdjust="spacingAndGlyphs" stroke="#000" stroke-width="1.9" stroke-linejoin="round" stroke-linecap="round" paint-order="stroke" xml:space="preserve">3000</text><text x="816.2" y="1344.4" font-size="28.8" font-weight="700" fill="#000" text-anchor="end" textLength="55" lengthAdjust="spacingAndGlyphs" stroke="#000" stroke-width="1.9" stroke-linejoin="round" stroke-linecap="round" paint-order="stroke" xml:space="preserve">4000</text><text x="816.2" y="1284.8" font-size="28.8" font-weight="700" fill="#000" text-anchor="end" textLength="55" lengthAdjust="spacingAndGlyphs" stroke="#000" stroke-width="1.9" stroke-linejoin="round" stroke-linecap="round" paint-order="stroke" xml:space="preserve">5000</text><text x="882.9" y="1314.8" font-size="28.8" font-weight="700" fill="#fff" text-anchor="middle" textLength="47.7" lengthAdjust="spacingAndGlyphs" stroke="#fff" stroke-width="1.9" stroke-linejoin="round" stroke-linecap="round" paint-order="stroke" xml:space="preserve">4877</text><text x="987" y="1384.3" font-size="28.8" font-weight="700" fill="#fff" text-anchor="middle" textLength="47.7" lengthAdjust="spacingAndGlyphs" stroke="#fff" stroke-width="1.9" stroke-linejoin="round" stroke-linecap="round" paint-order="stroke" xml:space="preserve">3711</text><text x="1091.2" y="1334.7" font-size="28.8" font-weight="700" fill="#fff" text-anchor="middle" textLength="47.7" lengthAdjust="spacingAndGlyphs" stroke="#fff" stroke-width="1.9" stroke-linejoin="round" stroke-linecap="round" paint-order="stroke" xml:space="preserve">4543</text><text x="1195.3" y="1519.7" font-size="28.8" font-weight="700" fill="#fff" text-anchor="middle" textLength="47.7" lengthAdjust="spacingAndGlyphs" stroke="#fff" stroke-width="1.9" stroke-linejoin="round" stroke-linecap="round" paint-order="stroke" xml:space="preserve">1438</text><text x="1299.5" y="1526.2" font-size="28.8" font-weight="700" fill="#000" text-anchor="middle" textLength="41.3" lengthAdjust="spacingAndGlyphs" stroke="#000" stroke-width="1.9" stroke-linejoin="round" stroke-linecap="round" paint-order="stroke" xml:space="preserve">603</text><text x="1403.7" y="1528" font-size="28.8" font-weight="700" fill="#000" text-anchor="middle" textLength="41.3" lengthAdjust="spacingAndGlyphs" stroke="#000" stroke-width="1.9" stroke-linejoin="round" stroke-linecap="round" paint-order="stroke" xml:space="preserve">573</text><text x="1507.8" y="1533.8" font-size="28.8" font-weight="700" fill="#fff" text-anchor="middle" textLength="47.7" lengthAdjust="spacingAndGlyphs" stroke="#fff" stroke-width="1.9" stroke-linejoin="round" stroke-linecap="round" paint-order="stroke" xml:space="preserve">1202</text><g transform="translate(898.9 1608) rotate(-45)"><text x="0" y="-0.9" font-size="29.5" font-weight="700" fill="#000" text-anchor="end" textLength="115.3" lengthAdjust="spacingAndGlyphs" stroke="#000" stroke-width="1.9" stroke-linejoin="round" stroke-linecap="round" paint-order="stroke" xml:space="preserve">8/12/2025</text></g><g transform="translate(1003 1608) rotate(-45)"><text x="0" y="-0.9" font-size="29.5" font-weight="700" fill="#000" text-anchor="end" textLength="115.3" lengthAdjust="spacingAndGlyphs" stroke="#000" stroke-width="1.9" stroke-linejoin="round" stroke-linecap="round" paint-order="stroke" xml:space="preserve">9/12/2025</text></g><g transform="translate(1107.2 1608) rotate(-45)"><text x="0" y="-0.9" font-size="29.5" font-weight="700" fill="#000" text-anchor="end" textLength="129.8" lengthAdjust="spacingAndGlyphs" stroke="#000" stroke-width="1.9" stroke-linejoin="round" stroke-linecap="round" paint-order="stroke" xml:space="preserve">10/12/2025</text></g><g transform="translate(1211.3 1608) rotate(-45)"><text x="0" y="-0.9" font-size="29.5" font-weight="700" fill="#000" text-anchor="end" textLength="129.8" lengthAdjust="spacingAndGlyphs" stroke="#000" stroke-width="1.9" stroke-linejoin="round" stroke-linecap="round" paint-order="stroke" xml:space="preserve">11/12/2025</text></g><g transform="translate(1315.5 1608) rotate(-45)"><text x="0" y="-0.9" font-size="29.5" font-weight="700" fill="#000" text-anchor="end" textLength="129.8" lengthAdjust="spacingAndGlyphs" stroke="#000" stroke-width="1.9" stroke-linejoin="round" stroke-linecap="round" paint-order="stroke" xml:space="preserve">12/12/2025</text></g><g transform="translate(1419.7 1608) rotate(-45)"><text x="0" y="-0.9" font-size="29.5" font-weight="700" fill="#000" text-anchor="end" textLength="129.8" lengthAdjust="spacingAndGlyphs" stroke="#000" stroke-width="1.9" stroke-linejoin="round" stroke-linecap="round" paint-order="stroke" xml:space="preserve">13/12/2026</text></g><g transform="translate(1523.8 1608) rotate(-45)"><text x="0" y="-0.9" font-size="29.5" font-weight="700" fill="#000" text-anchor="end" textLength="129.8" lengthAdjust="spacingAndGlyphs" stroke="#000" stroke-width="1.9" stroke-linejoin="round" stroke-linecap="round" paint-order="stroke" xml:space="preserve">14/12/2026</text></g><path d="M1428.2 1816.5Q1450.2 1816.5 1450.2 1838.5L1450.2 1877.6Q1450.2 1899.6 1471 1899.6L1471 1899.6Q1491.7 1899.6 1491.7 1921.6L1491.7 1930.7Q1491.7 1952.7 1513.7 1952.7L1559.4 1952.7Q1581.4 1952.7 1581.4 1974.7L1581.4 2013.7Q1581.4 2035.7 1559.4 2035.7L1498.8 2035.7Q1476.8 2035.7 1476.8 2057.7L1476.8 2072Q1476.8 2094 1454.8 2094L1201.6 2094Q1179.6 2094 1179.6 2072L1179.6 2057.7Q1179.6 2035.7 1157.6 2035.7L1097 2035.7Q1075 2035.7 1075 2013.7L1075 1974.7Q1075 1952.7 1097 1952.7L1146 1952.7Q1168 1952.7 1168 1930.7L1168 1921.6Q1168 1899.6 1190 1899.6L1190.8 1899.6Q1212.8 1899.6 1212.8 1877.6L1212.8 1838.5Q1212.8 1816.5 1234.8 1816.5Z" fill="#f6e170"/><text x="1237.7" y="1891.3" font-size="61" font-weight="700" fill="#a5102d" textLength="186" lengthAdjust="spacingAndGlyphs" stroke="#a5102d" stroke-width="1.5" stroke-linejoin="round" stroke-linecap="round" paint-order="stroke" xml:space="preserve">16.954</text><text x="1192.8" y="1954.4" font-size="42.5" font-weight="700" fill="#1b2468" textLength="274" lengthAdjust="spacingAndGlyphs" stroke="#1b2468" stroke-width="1.2" stroke-linejoin="round" stroke-linecap="round" paint-order="stroke" xml:space="preserve">Jumlah Total</text><text x="1099.9" y="2010.8" font-size="42.5" font-weight="700" fill="#1b2468" textLength="456.5" lengthAdjust="spacingAndGlyphs" stroke="#1b2468" stroke-width="1.2" stroke-linejoin="round" stroke-linecap="round" paint-order="stroke" xml:space="preserve">Sambaran Di Wilayah</text><text x="1204.5" y="2066.3" font-size="42.5" font-weight="700" fill="#1b2468" textLength="245.7" lengthAdjust="spacingAndGlyphs" stroke="#1b2468" stroke-width="1.2" stroke-linejoin="round" stroke-linecap="round" paint-order="stroke" xml:space="preserve">Jawa Timur</text><g stroke-linejoin="round" stroke-linecap="round"><path d="M887.5 1996L927.2 1997.9L923.4 2029.1L891.3 2025.3Z" fill="#2b4cb0" stroke="#1d2a5c" stroke-width="1.500"/><path d="M934.8 2001.7L959.3 2003.6L955.6 2028.2L936.7 2023.5Z" fill="#1f3a94" stroke="#1d2a5c" stroke-width="1.500"/><path d="M898.8 2029.1L910.2 2030.1L909.2 2039.5L897.9 2038.6Z" fill="#e8e8ee" stroke="#1d2a5c" stroke-width="1"/><path d="M838.4 2082.1L840.2 2100L872.4 2102.9L918.7 2086.8L919.3 2077.3L885.6 2084.9Z" fill="#2b4cb0" stroke="#1d2a5c" stroke-width="1.500"/><path d="M844 2081.1 Q847.8 2054.7 881.8 2049 L885.6 2034.8 L915.9 2039.5 Q921.5 2058.4 915.9 2077.3 Q881.8 2090.6 844 2081.1Z" fill="#17a148" stroke="#0b6e2c" stroke-width="1.500"/><ellipse cx="863.9" cy="2062.2" rx="12" ry="6.500" fill="#8ff0a8" transform="rotate(-22 863.9 2062.2)"/><path d="M928.1 2077.3L931 2086.8L1010.4 2087.7L1012.3 2073.6L970.7 2079.2Z" fill="#2b4cb0" stroke="#1d2a5c" stroke-width="1.500"/><path d="M930 2077.3 Q927.2 2058.4 940.4 2049 L938.5 2035.7 L966.9 2041.4 Q1006.6 2043.3 1009.4 2067.9 L1008.5 2075.4 Q970.7 2082.1 930 2077.3Z" fill="#17a148" stroke="#0b6e2c" stroke-width="1.500"/><path d="M931 2071.7L1008.5 2067.9L1008.5 2075.4L970.7 2081.1L931 2077.3Z" fill="#0b6e2c"/><ellipse cx="984.9" cy="2051.8" rx="11" ry="5.500" fill="#8ff0a8"/><clipPath id="hd"><ellipse cx="927.8" cy="1905.3" rx="96.8" ry="91.7"/></clipPath><ellipse cx="927.8" cy="1905.3" rx="96.8" ry="91.7" fill="#efeff3"/><g clip-path="url(#hd)"><path d="M866.7 1830.6Q923.4 1808 972.6 1825" fill="none" stroke="#2b4cb0" stroke-width="5.200"/><path d="M850.6 1846.7Q923.4 1818.4 989.6 1834.4" fill="none" stroke="#2b4cb0" stroke-width="5.200"/><path d="M838.4 1862.8Q921.5 1828.8 999 1843.9" fill="none" stroke="#2b4cb0" stroke-width="5.200"/><path d="M832.7 1876Q915.9 1840.1 1004.7 1853.3" fill="none" stroke="#2b4cb0" stroke-width="5.200"/><path d="M828.9 1888.3Q912.1 1851.4 1010.4 1862.8" fill="none" stroke="#2b4cb0" stroke-width="5.200"/><path d="M832.7 1878.8L854.4 1868.4Q866.7 1852.4 885.6 1853.3L899.8 1862.8Q915.9 1837.3 953.7 1834.4Q980.1 1837.3 991.5 1854.3L1025.5 1852.4L1025.5 1922.3L828.9 1922.3Z" fill="#efeff3"/><path d="M831 1813.6 h22 Q833 1905.3 871 1997 h-50Z" fill="#c9cbe0"/><path d="M838.4 1865.6L847.8 1864.7L857.3 1870.3" fill="none" stroke="#2b4cb0" stroke-width="1.500"/><path d="M850.6 1958.2 Q915.9 1962.4 980.1 1950.7" fill="none" stroke="#17a148" stroke-width="2.600"/><path d="M850.6 1964.9 Q915.9 1969 980.1 1957.3" fill="none" stroke="#17a148" stroke-width="2.600"/><path d="M850.6 1971.5 Q915.9 1975.6 980.1 1963.9" fill="none" stroke="#17a148" stroke-width="2.600"/><path d="M850.6 1978.1 Q915.9 1982.2 980.1 1970.5" fill="none" stroke="#17a148" stroke-width="2.600"/><path d="M850.6 1984.7 Q915.9 1988.9 980.1 1977.1" fill="none" stroke="#17a148" stroke-width="2.600"/></g><ellipse cx="927.8" cy="1905.3" rx="96.8" ry="91.7" fill="none" stroke="#1d2a5c" stroke-width="1.500"/><path d="M846.9 1885.5L931 1865.6" fill="none" stroke="#1a1a1a" stroke-width="6.500"/><path d="M834.6 1911L902.6 1896.8" fill="none" stroke="#222" stroke-width="1.200"/><path d="M931 1855.2L979.2 1846.7L986.7 1886.4L936.7 1896.8Z" fill="#d8ecf8" stroke="#111" stroke-width="3.500"/><path d="M996.2 1846.7L1021.7 1844.8L1027.4 1882.6L1000.9 1884.5Z" fill="#d8ecf8" stroke="#111" stroke-width="3.500"/><path d="M984.9 1873.2L997.1 1871.3" stroke="#111" stroke-width="3.500" fill="none"/><path d="M1002.8 1854.3L1027.4 1857.1" stroke="#111" stroke-width="3" fill="none"/><ellipse cx="956.5" cy="1880.7" rx="5" ry="8" fill="#34485a"/><circle cx="958" cy="1877.7" r="1.300" fill="#fff"/><ellipse cx="1001.9" cy="1875.1" rx="3.500" ry="6.500" fill="#34485a"/><path d="M942.3 1869.4 Q949.9 1852.4 965 1859.9" fill="none" stroke="#2a5a8a" stroke-width="1.300"/><path d="M938.5 1848.6 Q949.9 1835.4 963.1 1844.8" fill="none" stroke="#111" stroke-width="3.500"/><ellipse cx="994.3" cy="1895.9" rx="9" ry="5" fill="#c9cbe0"/><path d="M968.8 1934.6 Q983.9 1927.1 1002.8 1930.8" fill="none" stroke="#222" stroke-width="1.300"/><ellipse cx="984.9" cy="1936.5" rx="11" ry="3.500" fill="#c9cbe0"/><path d="M877.1 1954.5 Q879.9 1988.5 898.8 1993.2 L931 1993.2" fill="none" stroke="#9a9cb8" stroke-width="11"/><path d="M877.1 1954.5 Q879.9 1988.5 898.8 1993.2 L931 1993.2" fill="none" stroke="#f4f4f8" stroke-width="8.500"/><path d="M928.1 1977.1L940.4 1971.5L942.3 1952.6L961.2 1950.7L972.6 1965.8L961.2 1994.2L953.7 2016.8L938.5 2015L927.2 1994.2Z" fill="#2b4cb0" stroke="#1d2a5c" stroke-width="1.500"/><path d="M936.7 1925.2L970.7 1960.1" stroke="#8a0c12" stroke-width="8" fill="none"/><path d="M937 1925.2L970.3 1959.4" stroke="#d8141c" stroke-width="5.500" fill="none"/><circle cx="935.7" cy="1923.3" r="4.500" fill="#9a9a9a" stroke="#555" stroke-width="1"/><path d="M1033.1 1935.6L1046.3 1930.8L1069 1933.7L1067.1 1941.2Z" fill="#8a8a8a" stroke="#555" stroke-width="1"/><ellipse cx="1061.4" cy="1925.2" rx="16" ry="7.500" fill="#8f8f8f" stroke="#555" stroke-width="1"/><ellipse cx="1060.5" cy="1927.1" rx="5" ry="3.500" fill="#fff"/><path d="M1003.8 1934.6L1082.2 1944.1C1048.2 1963.9 1019.8 1996 1008.5 2036.7L946.1 2040.5C957.4 1996 978.2 1960.1 1003.8 1934.6Z" fill="#99561f" stroke="#4a2a10" stroke-width="1.500"/><path d="M1017.9 1984.7L1027.4 1972.4L1053.9 1971.5L1055.7 1980.9L1046.3 1990.4L1065.2 1994.2L1066.1 2003.6L1050.1 2007.4L1029.3 1999.8Z" fill="#2b4cb0" stroke="#1d2a5c" stroke-width="1.500"/><ellipse cx="1055.7" cy="1998.9" rx="7" ry="2.500" fill="#7fa4f0"/></g><circle cx="24" cy="2205.9" r="23.500" fill="#000"/><circle cx="24.500" cy="2205.4" r="14" fill="none" stroke="#fff" stroke-width="2.600"/><path d="M11 2220.9 L14.500 2210.9 L22 2217.9Z" fill="#fff"/><path d="M13.800 2218.4 L15.800 2213.4 L19.500 2216.7000000000003Z" fill="#000"/><path d="M18.500 2198.9 q-1.500 1.500 -.5 4.500 q2.500 6.500 9 9 q3 1 4.500 -.5 l1.200 -1.800 l-4 -2.800 l-1.800 1.500 q-3 -1.300 -4.600 -4.600 l1.500 -1.700 l-2.700 -4.200Z" fill="#fff"/><text x="63.5" y="2216.8" font-size="28" font-weight="700" fill="#000" textLength="170" lengthAdjust="spacingAndGlyphs" stroke="#000" stroke-width="2.2" stroke-linejoin="round" stroke-linecap="round" paint-order="stroke" xml:space="preserve">08113646879</text><circle cx="278.800" cy="2205.9" r="23.500" fill="#000"/><rect x="264.300" y="2191.4" width="29" height="29" rx="7" fill="none" stroke="#fff" stroke-width="2.800"/><circle cx="278.800" cy="2205.9" r="6.800" fill="none" stroke="#fff" stroke-width="2.800"/><circle cx="287" cy="2197.7000000000003" r="1.900" fill="#fff"/><text x="317" y="2216.8" font-size="28" font-weight="700" fill="#000" textLength="225.5" lengthAdjust="spacingAndGlyphs" stroke="#000" stroke-width="2.2" stroke-linejoin="round" stroke-linecap="round" paint-order="stroke" xml:space="preserve">bmkg_pasuruan</text><circle cx="592.200" cy="2205.9" r="23.500" fill="#000"/><path d="M596 2229.4 V2209.9 h6 l1.200 -7 h-7.200 v-4.500 q0 -3.500 3.800 -3.500 h3.700 v-6.300 q-3 -.5 -5.500 -.5 q-9 0 -9 9.300 v5.500 h-6.500 v7 h6.500 V2229.4Z" fill="#fff"/><text x="631" y="2216.8" font-size="28" font-weight="700" fill="#000" textLength="212" lengthAdjust="spacingAndGlyphs" stroke="#000" stroke-width="2.2" stroke-linejoin="round" stroke-linecap="round" paint-order="stroke" xml:space="preserve">Bmkg Pasuruan</text><rect x="864.600" y="2180.500" width="50" height="49.500" fill="#e4e4e4" opacity=".85"/><rect x="880" y="2195.9" width="20.500" height="20.500" rx="4.500" fill="#fff" stroke="#000" stroke-width="2"/><path d="M884 2212.9 v-4 h4 v-4 h4 v-4 h5 M884 2200.9 h4 v4 M892 2212.9 h5 v-5" fill="none" stroke="#000" stroke-width="2"/><text x="927" y="2216.8" font-size="28" font-weight="700" fill="#000" textLength="212" lengthAdjust="spacingAndGlyphs" stroke="#000" stroke-width="2.2" stroke-linejoin="round" stroke-linecap="round" paint-order="stroke" xml:space="preserve">Bmkg Pasuruan</text><circle cx="1195.7" cy="2204.5" r="23.500" fill="#000"/><g fill="none" stroke="#fff" stroke-width="1.700"><circle cx="1195.7" cy="2204.5" r="14.500"/><ellipse cx="1195.7" cy="2204.5" rx="6.500" ry="14.500"/><path d="M1181.2 2204.5h29M1195.7 2190.0v29M1183.2 2197.5h25M1183.2 2211.5h25"/></g><text x="1236" y="2216.8" font-size="28" font-weight="700" fill="#000" textLength="362" lengthAdjust="spacingAndGlyphs" stroke="#000" stroke-width="2.2" stroke-linejoin="round" stroke-linecap="round" paint-order="stroke" xml:space="preserve">stageof-tretes.bmkg.go.id</text></svg></body></html>
